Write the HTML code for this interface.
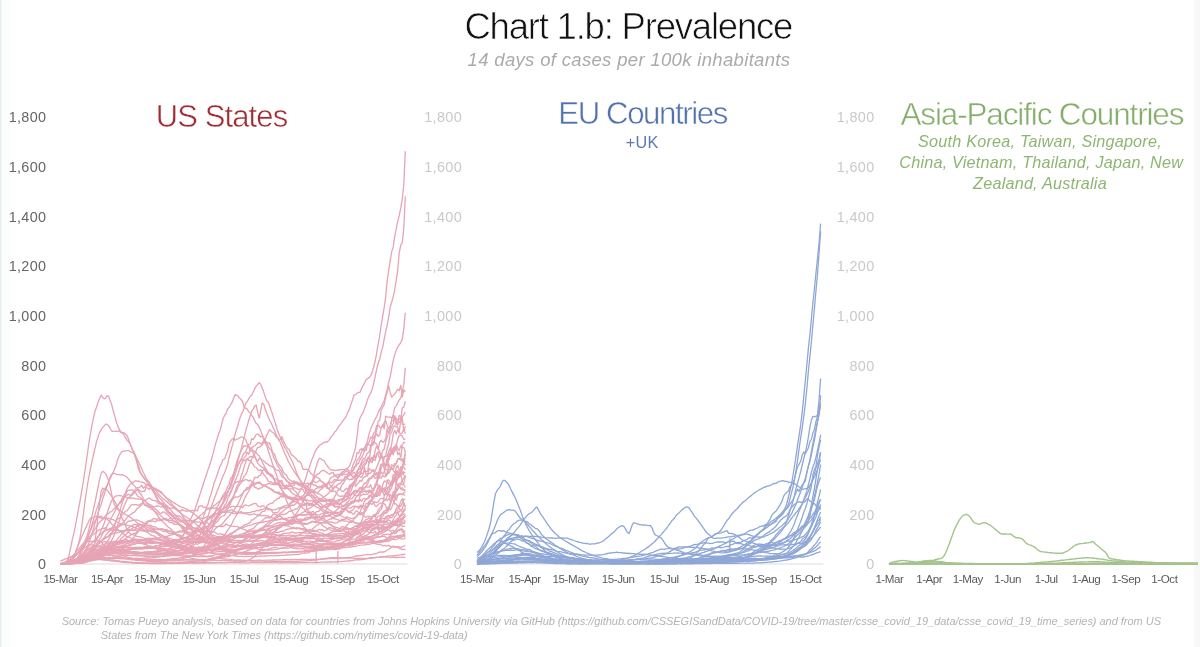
<!DOCTYPE html>
<html><head><meta charset="utf-8"><title>Chart 1.b: Prevalence</title>
<style>
html,body{margin:0;padding:0;background:#fff;}
body{width:1200px;height:647px;overflow:hidden;position:relative;}
svg{position:absolute;left:0;top:0;}
text{font-family:"Liberation Sans",Arial,sans-serif;}
.yl{font-size:14.4px;letter-spacing:0.35px;}
.xl{font-size:11.6px;fill:#5a5a5a;letter-spacing:-0.45px;}
.us path{fill:none;stroke:#e6a4b5;stroke-width:1.3;stroke-linejoin:round;}
.eu path{fill:none;stroke:#8fa7d6;stroke-width:1.3;stroke-linejoin:round;}
.as path{fill:none;stroke:#a3c48c;stroke-width:1.4;stroke-linejoin:round;}
</style></head>
<body>
<svg width="1200" height="647" viewBox="0 0 1200 647">
<rect x="0" y="0" width="1.5" height="647" fill="#e6edf0"/>
<rect x="1.5" y="0" width="10" height="647" fill="#fbfcfc"/>
<rect x="1194" y="0" width="6" height="647" fill="#f8f8f8"/>
<text x="628.3" y="39" text-anchor="middle" font-size="36.5" letter-spacing="-1.2" fill="#111" stroke="#fff" stroke-width="0.7">Chart 1.b: Prevalence</text>
<text x="629" y="65.9" text-anchor="middle" font-size="18.5" letter-spacing="0.33" font-style="italic" fill="#aaa">14 days of cases per 100k inhabitants</text>

<text x="221.5" y="126.9" text-anchor="middle" font-size="31" letter-spacing="-0.9" fill="#a02a33" stroke="#fff" stroke-width="0.5">US States</text>
<text x="642.6" y="124.3" text-anchor="middle" font-size="31.2" letter-spacing="-1.4" fill="#5272ae" stroke="#fff" stroke-width="0.5">EU Countries</text>
<text x="642.2" y="147.5" text-anchor="middle" font-size="16.2" letter-spacing="0.3" fill="#5b79b3">+UK</text>
<text x="1041.9" y="124.5" text-anchor="middle" font-size="31.5" letter-spacing="-1.15" fill="#84ae68" stroke="#fff" stroke-width="0.5">Asia-Pacific Countries</text>
<g font-size="16.2" letter-spacing="0.22" font-style="italic" fill="#8db672" text-anchor="middle">
<text x="1040" y="147">South Korea, Taiwan, Singapore,</text>
<text x="1041.2" y="167.5">China, Vietnam, Thailand, Japan, New</text>
<text x="1040" y="188.7">Zealand, Australia</text>
</g>

<text x="46.4" y="569.2" text-anchor="end" class="yl" fill="#666">0</text>
<text x="46.4" y="519.5" text-anchor="end" class="yl" fill="#666">200</text>
<text x="46.4" y="469.9" text-anchor="end" class="yl" fill="#666">400</text>
<text x="46.4" y="420.2" text-anchor="end" class="yl" fill="#666">600</text>
<text x="46.4" y="370.6" text-anchor="end" class="yl" fill="#666">800</text>
<text x="46.4" y="320.9" text-anchor="end" class="yl" fill="#666">1,000</text>
<text x="46.4" y="271.2" text-anchor="end" class="yl" fill="#666">1,200</text>
<text x="46.4" y="221.6" text-anchor="end" class="yl" fill="#666">1,400</text>
<text x="46.4" y="171.9" text-anchor="end" class="yl" fill="#666">1,600</text>
<text x="46.4" y="122.3" text-anchor="end" class="yl" fill="#666">1,800</text>
<text x="462" y="569.2" text-anchor="end" class="yl" fill="#c9c9c9">0</text>
<text x="462" y="519.5" text-anchor="end" class="yl" fill="#c9c9c9">200</text>
<text x="462" y="469.9" text-anchor="end" class="yl" fill="#c9c9c9">400</text>
<text x="462" y="420.2" text-anchor="end" class="yl" fill="#c9c9c9">600</text>
<text x="462" y="370.6" text-anchor="end" class="yl" fill="#c9c9c9">800</text>
<text x="462" y="320.9" text-anchor="end" class="yl" fill="#c9c9c9">1,000</text>
<text x="462" y="271.2" text-anchor="end" class="yl" fill="#c9c9c9">1,200</text>
<text x="462" y="221.6" text-anchor="end" class="yl" fill="#c9c9c9">1,400</text>
<text x="462" y="171.9" text-anchor="end" class="yl" fill="#c9c9c9">1,600</text>
<text x="462" y="122.3" text-anchor="end" class="yl" fill="#c9c9c9">1,800</text>
<text x="874.5" y="569.2" text-anchor="end" class="yl" fill="#c9c9c9">0</text>
<text x="874.5" y="519.5" text-anchor="end" class="yl" fill="#c9c9c9">200</text>
<text x="874.5" y="469.9" text-anchor="end" class="yl" fill="#c9c9c9">400</text>
<text x="874.5" y="420.2" text-anchor="end" class="yl" fill="#c9c9c9">600</text>
<text x="874.5" y="370.6" text-anchor="end" class="yl" fill="#c9c9c9">800</text>
<text x="874.5" y="320.9" text-anchor="end" class="yl" fill="#c9c9c9">1,000</text>
<text x="874.5" y="271.2" text-anchor="end" class="yl" fill="#c9c9c9">1,200</text>
<text x="874.5" y="221.6" text-anchor="end" class="yl" fill="#c9c9c9">1,400</text>
<text x="874.5" y="171.9" text-anchor="end" class="yl" fill="#c9c9c9">1,600</text>
<text x="874.5" y="122.3" text-anchor="end" class="yl" fill="#c9c9c9">1,800</text>

<line x1="60" y1="564.0" x2="407.5" y2="564.0" stroke="#ddd" stroke-width="1"/>
<line x1="476.5" y1="564.0" x2="823.5" y2="564.0" stroke="#ddd" stroke-width="1"/>
<line x1="887.8" y1="564.0" x2="1197.5" y2="564.0" stroke="#ddd" stroke-width="1"/>

<g class="us">
<path d="M60.4,563.4 61.9,563.3 63.4,563.0 64.9,562.5 66.4,562.2 67.9,559.4 69.4,553.6 70.9,546.7 72.4,539.4 74.0,532.7 75.5,525.3 77.0,517.4 78.5,509.1 80.0,501.2 81.5,492.3 83.0,483.5 84.5,473.9 86.0,463.5 87.5,453.3 89.0,442.3 90.5,433.4 92.0,425.3 93.5,417.9 95.0,411.3 96.5,407.3 98.0,402.5 99.6,398.6 101.1,395.2 102.6,397.4 104.1,398.8 105.6,398.1 107.1,395.9 108.6,396.0 110.1,400.6 111.6,404.3 113.1,410.3 114.6,415.3 116.1,421.0 117.6,425.9 119.1,428.9 120.6,431.6 122.1,432.6 123.7,432.6 125.2,433.8 126.7,435.0 128.2,438.2 129.7,443.0 131.2,446.5 132.7,450.1 134.2,452.6 135.7,455.7 137.2,459.2 138.7,462.3 140.2,465.5 141.7,468.7 143.2,472.2 144.7,475.3 146.2,478.3 147.7,480.8 149.3,482.3 150.8,484.5 152.3,487.1 153.8,488.6 155.3,490.1 156.8,491.8 158.3,493.9 159.8,495.4 161.3,497.1 162.8,498.6 164.3,499.6 165.8,500.8 167.3,502.0 168.8,503.6 170.3,504.9 171.8,505.8 173.3,507.0 174.9,508.4 176.4,509.8 177.9,511.0 179.4,512.0 180.9,513.3 182.4,514.5 183.9,515.6 185.4,516.4 186.9,517.5 188.4,518.6 189.9,519.7 191.4,520.9 192.9,521.9 194.4,522.8 195.9,524.1 197.4,525.4 199.0,526.4 200.5,528.0 202.0,530.0 203.5,531.5 205.0,533.3 206.5,535.1 208.0,536.7 209.5,538.4 211.0,539.8 212.5,541.2 214.0,542.1 215.5,543.2 217.0,544.3 218.5,545.2 220.0,546.1 221.5,546.9 223.0,547.4 224.6,548.2 226.1,548.6 227.6,549.0 229.1,549.7 230.6,550.3 232.1,550.4 233.6,551.0 235.1,551.5 236.6,551.8 238.1,552.2 239.6,552.2 241.1,552.5 242.6,552.5 244.1,552.6 245.6,552.5 247.1,552.5 248.7,552.5 250.2,552.4 251.7,552.6 253.2,552.6 254.7,552.6 256.2,552.5 257.7,552.6 259.2,552.5 260.7,552.5 262.2,552.6 263.7,552.5 265.2,552.6 266.7,552.5 268.2,552.6 269.7,552.6 271.2,552.5 272.7,552.5 274.3,552.5 275.8,552.4 277.3,552.5 278.8,552.4 280.3,552.5 281.8,552.5 283.3,552.3 284.8,552.3 286.3,552.3 287.8,552.3 289.3,552.1 290.8,552.2 292.3,552.2 293.8,551.9 295.3,551.9 296.8,551.9 298.3,551.8 299.9,551.8 301.4,551.8 302.9,551.7 304.4,551.5 305.9,551.4 307.4,551.3 308.9,551.4 310.4,551.3 311.9,551.2 313.4,551.0 314.9,550.9 316.4,550.8 317.9,550.6 319.4,550.4 320.9,550.2 322.4,550.1 323.9,550.1 325.5,549.8 327.0,549.4 328.5,549.5 330.0,549.2 331.5,549.1 333.0,548.7 334.5,548.7 336.0,548.7 337.5,548.5 339.0,548.3 340.5,548.0 342.0,547.9 343.5,547.7 345.0,547.5 346.5,547.3 348.0,547.0 349.6,546.8 351.1,547.0 352.6,546.6 354.1,546.5 355.6,546.1 357.1,545.9 358.6,545.6 360.1,545.2 361.6,545.2 363.1,545.1 364.6,544.8 366.1,544.5 367.6,544.2 369.1,544.3 370.6,543.8 372.1,543.4 373.6,543.3 375.2,543.1 376.7,542.7 378.2,542.4 379.7,541.8 381.2,541.6 382.7,541.3 384.2,540.7 385.7,540.4 387.2,540.1 388.7,539.6 390.2,539.0 391.7,538.8 393.2,538.3 394.7,537.7 396.2,536.7 397.7,536.6 399.2,535.7 400.8,535.1 402.3,534.8 403.8,534.2 405.3,534.0"/>
<path d="M60.4,563.6 61.9,563.7 63.4,563.5 64.9,563.4 66.4,563.0 67.9,562.5 69.4,562.0 70.9,561.0 72.4,558.8 74.0,555.9 75.5,552.6 77.0,548.4 78.5,543.9 80.0,537.6 81.5,528.4 83.0,517.4 84.5,505.7 86.0,494.5 87.5,484.5 89.0,476.4 90.5,468.6 92.0,461.3 93.5,454.5 95.0,448.4 96.5,441.6 98.0,437.1 99.6,432.6 101.1,429.9 102.6,427.5 104.1,425.9 105.6,424.1 107.1,424.5 108.6,425.8 110.1,428.2 111.6,430.8 113.1,431.4 114.6,431.3 116.1,431.3 117.6,431.1 119.1,430.9 120.6,432.3 122.1,433.3 123.7,434.2 125.2,437.2 126.7,439.7 128.2,441.4 129.7,443.3 131.2,446.6 132.7,450.3 134.2,454.0 135.7,458.0 137.2,462.2 138.7,466.7 140.2,471.5 141.7,474.6 143.2,476.6 144.7,478.7 146.2,480.4 147.7,482.7 149.3,485.2 150.8,487.4 152.3,488.2 153.8,488.8 155.3,489.3 156.8,489.5 158.3,490.1 159.8,491.0 161.3,492.0 162.8,493.9 164.3,495.6 165.8,497.3 167.3,498.6 168.8,499.4 170.3,500.3 171.8,501.5 173.3,502.4 174.9,503.4 176.4,504.3 177.9,505.3 179.4,506.1 180.9,506.9 182.4,507.3 183.9,507.9 185.4,508.7 186.9,509.3 188.4,510.0 189.9,511.2 191.4,512.1 192.9,513.0 194.4,514.0 195.9,515.2 197.4,516.7 199.0,518.1 200.5,519.7 202.0,521.5 203.5,523.6 205.0,526.0 206.5,528.0 208.0,530.1 209.5,532.1 211.0,534.1 212.5,536.0 214.0,538.2 215.5,540.4 217.0,542.9 218.5,544.7 220.0,546.9 221.5,548.2 223.0,549.2 224.6,549.8 226.1,550.3 227.6,550.9 229.1,551.3 230.6,551.9 232.1,552.2 233.6,552.7 235.1,553.0 236.6,553.3 238.1,553.5 239.6,553.6 241.1,553.8 242.6,553.9 244.1,553.9 245.6,553.9 247.1,554.0 248.7,554.1 250.2,554.0 251.7,553.7 253.2,553.8 254.7,553.7 256.2,553.9 257.7,553.7 259.2,553.6 260.7,553.6 262.2,553.6 263.7,553.4 265.2,553.5 266.7,553.2 268.2,553.3 269.7,553.2 271.2,553.1 272.7,553.2 274.3,552.9 275.8,553.0 277.3,552.9 278.8,552.6 280.3,552.6 281.8,552.7 283.3,552.4 284.8,552.4 286.3,552.5 287.8,552.4 289.3,552.4 290.8,552.3 292.3,552.2 293.8,552.1 295.3,552.1 296.8,552.1 298.3,551.9 299.9,551.6 301.4,551.5 302.9,551.3 304.4,551.4 305.9,551.1 307.4,551.0 308.9,550.9 310.4,550.7 311.9,550.5 313.4,550.3 314.9,550.1 316.4,549.9 317.9,549.8 319.4,549.8 320.9,549.8 322.4,549.6 323.9,549.2 325.5,548.8 327.0,548.7 328.5,548.5 330.0,548.1 331.5,547.8 333.0,547.6 334.5,547.5 336.0,547.2 337.5,546.9 339.0,546.6 340.5,546.2 342.0,545.8 343.5,545.6 345.0,545.3 346.5,544.8 348.0,544.4 349.6,543.9 351.1,543.5 352.6,543.1 354.1,542.7 355.6,541.9 357.1,541.5 358.6,540.9 360.1,540.4 361.6,540.3 363.1,539.5 364.6,539.0 366.1,538.0 367.6,537.4 369.1,537.0 370.6,536.5 372.1,536.0 373.6,535.3 375.2,534.4 376.7,533.9 378.2,532.7 379.7,532.1 381.2,531.1 382.7,530.0 384.2,529.0 385.7,527.7 387.2,526.8 388.7,526.0 390.2,524.2 391.7,522.8 393.2,521.9 394.7,520.9 396.2,519.7 397.7,518.3 399.2,517.3 400.8,514.8 402.3,513.3 403.8,511.0 405.3,509.6"/>
<path d="M60.4,563.8 61.9,563.8 63.4,563.6 64.9,563.6 66.4,563.6 67.9,563.4 69.4,563.1 70.9,562.9 72.4,562.7 74.0,562.3 75.5,561.5 77.0,560.6 78.5,559.1 80.0,557.4 81.5,555.5 83.0,553.4 84.5,551.2 86.0,549.1 87.5,546.1 89.0,542.7 90.5,538.6 92.0,533.9 93.5,528.8 95.0,523.4 96.5,518.2 98.0,513.1 99.6,508.8 101.1,504.5 102.6,499.3 104.1,494.7 105.6,490.1 107.1,486.1 108.6,481.6 110.1,477.6 111.6,474.4 113.1,472.5 114.6,469.0 116.1,465.3 117.6,459.7 119.1,456.2 120.6,453.4 122.1,451.4 123.7,451.1 125.2,450.8 126.7,450.7 128.2,450.5 129.7,451.3 131.2,452.1 132.7,452.6 134.2,453.8 135.7,457.6 137.2,463.6 138.7,469.3 140.2,472.7 141.7,474.9 143.2,477.1 144.7,479.1 146.2,480.8 147.7,482.7 149.3,485.1 150.8,487.4 152.3,489.2 153.8,491.3 155.3,492.9 156.8,494.5 158.3,496.0 159.8,498.1 161.3,499.6 162.8,501.8 164.3,503.3 165.8,505.0 167.3,506.1 168.8,507.9 170.3,509.5 171.8,511.3 173.3,513.0 174.9,514.5 176.4,515.7 177.9,517.3 179.4,518.7 180.9,519.9 182.4,521.1 183.9,522.5 185.4,524.2 186.9,525.5 188.4,527.0 189.9,528.4 191.4,529.8 192.9,531.0 194.4,532.5 195.9,533.7 197.4,535.0 199.0,536.1 200.5,537.5 202.0,538.6 203.5,539.9 205.0,541.1 206.5,541.9 208.0,543.0 209.5,543.9 211.0,544.8 212.5,545.9 214.0,546.6 215.5,547.3 217.0,547.9 218.5,548.6 220.0,549.5 221.5,549.8 223.0,550.2 224.6,550.8 226.1,551.2 227.6,551.5 229.1,551.8 230.6,552.2 232.1,552.5 233.6,552.8 235.1,553.2 236.6,553.4 238.1,553.6 239.6,553.7 241.1,553.9 242.6,554.0 244.1,554.0 245.6,554.0 247.1,554.0 248.7,553.9 250.2,553.9 251.7,554.0 253.2,554.0 254.7,553.8 256.2,553.9 257.7,553.8 259.2,553.9 260.7,553.8 262.2,553.5 263.7,553.7 265.2,553.6 266.7,553.5 268.2,553.4 269.7,553.4 271.2,553.3 272.7,553.2 274.3,553.2 275.8,553.0 277.3,552.9 278.8,552.8 280.3,552.7 281.8,552.5 283.3,552.5 284.8,552.5 286.3,552.4 287.8,552.5 289.3,552.2 290.8,552.2 292.3,552.0 293.8,552.0 295.3,551.9 296.8,551.7 298.3,551.7 299.9,551.4 301.4,551.3 302.9,551.3 304.4,551.0 305.9,550.7 307.4,550.6 308.9,550.2 310.4,550.1 311.9,549.8 313.4,549.7 314.9,549.2 316.4,549.0 317.9,548.9 319.4,548.6 320.9,548.5 322.4,548.1 323.9,547.8 325.5,547.7 327.0,547.4 328.5,547.1 330.0,546.9 331.5,546.8 333.0,546.3 334.5,546.1 336.0,545.6 337.5,545.2 339.0,544.9 340.5,544.8 342.0,544.7 343.5,544.2 345.0,543.9 346.5,543.5 348.0,542.9 349.6,542.5 351.1,542.1 352.6,541.3 354.1,541.2 355.6,540.8 357.1,540.2 358.6,539.8 360.1,539.3 361.6,538.6 363.1,538.0 364.6,537.5 366.1,536.9 367.6,536.9 369.1,536.7 370.6,536.5 372.1,536.3 373.6,535.3 375.2,534.5 376.7,533.7 378.2,533.1 379.7,532.5 381.2,531.6 382.7,531.3 384.2,530.1 385.7,529.2 387.2,528.6 388.7,527.4 390.2,526.3 391.7,525.2 393.2,523.7 394.7,523.5 396.2,522.8 397.7,521.2 399.2,521.0 400.8,519.9 402.3,518.2 403.8,517.2 405.3,516.6"/>
<path d="M60.4,563.8 61.9,563.7 63.4,563.6 64.9,563.6 66.4,563.5 67.9,563.3 69.4,563.1 70.9,562.9 72.4,562.7 74.0,562.1 75.5,560.8 77.0,558.9 78.5,556.5 80.0,553.6 81.5,550.6 83.0,547.3 84.5,543.9 86.0,541.9 87.5,538.5 89.0,534.2 90.5,529.5 92.0,524.4 93.5,519.8 95.0,514.6 96.5,509.6 98.0,505.5 99.6,501.1 101.1,497.0 102.6,493.4 104.1,490.0 105.6,487.7 107.1,485.0 108.6,481.7 110.1,478.6 111.6,475.5 113.1,473.2 114.6,473.3 116.1,474.3 117.6,474.6 119.1,474.6 120.6,474.8 122.1,474.6 123.7,475.4 125.2,476.0 126.7,476.8 128.2,478.6 129.7,480.5 131.2,482.1 132.7,484.0 134.2,485.6 135.7,487.4 137.2,489.1 138.7,491.5 140.2,493.5 141.7,495.5 143.2,498.3 144.7,500.3 146.2,502.4 147.7,503.8 149.3,505.5 150.8,506.7 152.3,508.1 153.8,510.2 155.3,512.4 156.8,514.3 158.3,516.6 159.8,518.4 161.3,520.0 162.8,521.8 164.3,523.1 165.8,524.7 167.3,526.2 168.8,527.4 170.3,528.5 171.8,530.2 173.3,531.7 174.9,533.1 176.4,534.6 177.9,535.6 179.4,536.7 180.9,538.0 182.4,539.1 183.9,540.4 185.4,541.9 186.9,543.1 188.4,544.2 189.9,545.3 191.4,546.6 192.9,547.5 194.4,548.3 195.9,548.9 197.4,549.6 199.0,550.2 200.5,550.6 202.0,550.9 203.5,551.3 205.0,551.6 206.5,552.1 208.0,552.3 209.5,552.7 211.0,553.2 212.5,553.3 214.0,553.6 215.5,553.9 217.0,554.0 218.5,554.3 220.0,554.4 221.5,554.6 223.0,554.8 224.6,555.0 226.1,555.0 227.6,555.3 229.1,555.3 230.6,555.6 232.1,555.5 233.6,555.7 235.1,556.0 236.6,556.0 238.1,556.3 239.6,556.3 241.1,556.4 242.6,556.5 244.1,556.6 245.6,556.5 247.1,556.4 248.7,556.4 250.2,556.4 251.7,556.4 253.2,556.5 254.7,556.5 256.2,556.6 257.7,556.4 259.2,556.2 260.7,556.0 262.2,556.1 263.7,556.1 265.2,556.0 266.7,555.8 268.2,555.8 269.7,555.7 271.2,555.7 272.7,555.9 274.3,555.9 275.8,555.7 277.3,555.6 278.8,555.6 280.3,555.6 281.8,555.4 283.3,555.4 284.8,555.3 286.3,555.0 287.8,555.0 289.3,554.9 290.8,554.8 292.3,554.8 293.8,554.6 295.3,554.6 296.8,554.5 298.3,554.3 299.9,554.3 301.4,553.2 302.9,553.1 304.4,553.0 305.9,553.0 307.4,552.9 308.9,552.6 310.4,551.6 311.9,551.3 313.4,551.0 314.9,550.7 316.4,550.5 317.9,550.1 319.4,549.8 320.9,549.5 322.4,549.9 323.9,549.7 325.5,549.5 327.0,548.5 328.5,548.1 330.0,547.7 331.5,547.8 333.0,547.4 334.5,547.4 336.0,547.0 337.5,546.7 339.0,546.5 340.5,546.3 342.0,545.9 343.5,545.7 345.0,545.5 346.5,544.8 348.0,545.5 349.6,545.1 351.1,544.5 352.6,545.1 354.1,544.7 355.6,544.1 357.1,542.9 358.6,542.3 360.1,541.8 361.6,541.0 363.1,540.4 364.6,540.0 366.1,539.4 367.6,538.6 369.1,537.7 370.6,537.1 372.1,537.0 373.6,535.7 375.2,535.1 376.7,534.3 378.2,534.8 379.7,534.0 381.2,533.8 382.7,532.9 384.2,532.1 385.7,531.3 387.2,529.8 388.7,529.3 390.2,528.3 391.7,527.0 393.2,524.9 394.7,523.6 396.2,521.6 397.7,520.0 399.2,518.1 400.8,516.3 402.3,513.7 403.8,511.1 405.3,507.5"/>
<path d="M60.4,564.0 61.9,563.9 63.4,564.0 64.9,563.8 66.4,563.8 67.9,563.6 69.4,563.5 70.9,563.4 72.4,563.2 74.0,562.9 75.5,562.8 77.0,562.4 78.5,561.6 80.0,561.0 81.5,559.8 83.0,558.8 84.5,557.6 86.0,556.1 87.5,554.9 89.0,553.2 90.5,551.9 92.0,550.2 93.5,548.4 95.0,546.6 96.5,544.2 98.0,541.7 99.6,539.0 101.1,536.8 102.6,533.9 104.1,531.0 105.6,528.7 107.1,525.9 108.6,523.2 110.1,520.3 111.6,517.3 113.1,514.7 114.6,512.2 116.1,508.6 117.6,506.1 119.1,503.6 120.6,501.3 122.1,498.6 123.7,495.7 125.2,493.4 126.7,489.4 128.2,487.0 129.7,484.9 131.2,483.3 132.7,482.4 134.2,481.7 135.7,480.5 137.2,481.3 138.7,481.2 140.2,481.8 141.7,482.1 143.2,482.4 144.7,483.4 146.2,484.5 147.7,484.9 149.3,485.4 150.8,485.9 152.3,487.1 153.8,487.8 155.3,488.1 156.8,489.6 158.3,490.9 159.8,492.1 161.3,493.2 162.8,494.3 164.3,495.9 165.8,497.8 167.3,498.8 168.8,500.9 170.3,502.3 171.8,504.0 173.3,505.9 174.9,507.1 176.4,509.0 177.9,510.2 179.4,511.6 180.9,513.1 182.4,515.6 183.9,518.0 185.4,519.7 186.9,521.7 188.4,524.0 189.9,526.1 191.4,528.1 192.9,530.2 194.4,531.5 195.9,533.0 197.4,534.4 199.0,535.6 200.5,536.4 202.0,537.5 203.5,538.4 205.0,539.1 206.5,540.2 208.0,541.3 209.5,542.0 211.0,543.1 212.5,543.2 214.0,544.0 215.5,544.9 217.0,545.9 218.5,546.5 220.0,547.1 221.5,548.1 223.0,549.0 224.6,549.3 226.1,549.7 227.6,550.4 229.1,550.9 230.6,551.3 232.1,551.5 233.6,552.6 235.1,552.9 236.6,553.1 238.1,553.4 239.6,553.6 241.1,553.6 242.6,553.6 244.1,553.8 245.6,553.9 247.1,554.0 248.7,553.8 250.2,553.6 251.7,553.5 253.2,553.3 254.7,553.1 256.2,552.3 257.7,551.6 259.2,551.0 260.7,550.6 262.2,550.6 263.7,550.4 265.2,549.7 266.7,549.6 268.2,549.0 269.7,548.8 271.2,548.3 272.7,547.9 274.3,547.5 275.8,547.1 277.3,548.0 278.8,548.7 280.3,548.3 281.8,548.1 283.3,547.8 284.8,547.3 286.3,546.9 287.8,546.5 289.3,546.2 290.8,546.0 292.3,545.8 293.8,545.4 295.3,545.2 296.8,545.2 298.3,545.0 299.9,544.4 301.4,544.0 302.9,543.8 304.4,543.3 305.9,543.5 307.4,543.3 308.9,543.2 310.4,543.2 311.9,542.7 313.4,542.6 314.9,542.2 316.4,541.7 317.9,541.3 319.4,541.1 320.9,541.1 322.4,540.9 323.9,540.8 325.5,540.8 327.0,540.4 328.5,540.3 330.0,540.0 331.5,539.6 333.0,539.3 334.5,538.8 336.0,538.7 337.5,538.6 339.0,538.4 340.5,538.3 342.0,537.6 343.5,536.6 345.0,536.2 346.5,535.6 348.0,535.5 349.6,534.8 351.1,533.8 352.6,533.3 354.1,532.8 355.6,532.2 357.1,532.0 358.6,530.9 360.1,530.0 361.6,528.6 363.1,527.2 364.6,526.1 366.1,524.8 367.6,523.4 369.1,521.6 370.6,521.9 372.1,521.3 373.6,521.0 375.2,520.2 376.7,518.4 378.2,515.8 379.7,515.6 381.2,514.9 382.7,512.7 384.2,510.8 385.7,510.7 387.2,508.7 388.7,506.6 390.2,504.9 391.7,500.0 393.2,497.7 394.7,494.8 396.2,491.6 397.7,489.4 399.2,487.2 400.8,483.2 402.3,480.1 403.8,478.5 405.3,475.3"/>
<path d="M60.4,563.4 61.9,563.2 63.4,562.5 64.9,562.0 66.4,561.3 67.9,560.2 69.4,559.2 70.9,557.9 72.4,556.4 74.0,554.6 75.5,552.9 77.0,550.9 78.5,549.1 80.0,547.3 81.5,545.5 83.0,543.8 84.5,541.5 86.0,538.6 87.5,534.6 89.0,528.9 90.5,522.5 92.0,516.0 93.5,509.1 95.0,502.2 96.5,495.0 98.0,487.3 99.6,479.4 101.1,473.4 102.6,471.3 104.1,472.1 105.6,473.6 107.1,476.7 108.6,480.7 110.1,486.6 111.6,493.8 113.1,500.4 114.6,505.2 116.1,506.8 117.6,509.3 119.1,510.0 120.6,511.1 122.1,512.3 123.7,513.3 125.2,514.3 126.7,515.2 128.2,515.9 129.7,516.8 131.2,518.0 132.7,519.1 134.2,520.1 135.7,521.6 137.2,522.9 138.7,523.7 140.2,524.7 141.7,526.0 143.2,526.9 144.7,527.7 146.2,528.6 147.7,529.6 149.3,530.3 150.8,531.2 152.3,531.6 153.8,531.9 155.3,532.6 156.8,533.2 158.3,534.0 159.8,534.8 161.3,535.2 162.8,535.8 164.3,536.5 165.8,537.1 167.3,537.6 168.8,538.3 170.3,538.4 171.8,539.1 173.3,539.5 174.9,540.0 176.4,540.1 177.9,539.8 179.4,539.9 180.9,539.6 182.4,539.2 183.9,538.9 185.4,538.4 186.9,537.7 188.4,536.8 189.9,536.2 191.4,535.4 192.9,534.5 194.4,533.4 195.9,532.5 197.4,531.8 199.0,530.6 200.5,529.4 202.0,527.9 203.5,526.2 205.0,524.1 206.5,522.0 208.0,519.6 209.5,518.0 211.0,516.3 212.5,514.7 214.0,513.6 215.5,511.9 217.0,510.4 218.5,508.7 220.0,507.1 221.5,505.0 223.0,502.5 224.6,499.4 226.1,496.2 227.6,492.2 229.1,488.7 230.6,484.9 232.1,480.0 233.6,475.0 235.1,470.2 236.6,465.0 238.1,459.7 239.6,454.8 241.1,449.5 242.6,443.2 244.1,437.6 245.6,431.4 247.1,426.1 248.7,420.5 250.2,415.7 251.7,411.1 253.2,409.1 254.7,405.9 256.2,405.2 257.7,412.4 259.2,418.1 260.7,410.3 262.2,403.1 263.7,404.0 265.2,409.1 266.7,412.9 268.2,416.9 269.7,420.6 271.2,423.0 272.7,426.6 274.3,429.8 275.8,433.7 277.3,437.1 278.8,439.0 280.3,442.5 281.8,446.2 283.3,449.5 284.8,453.5 286.3,456.6 287.8,460.5 289.3,463.0 290.8,466.0 292.3,468.5 293.8,471.0 295.3,473.1 296.8,475.3 298.3,477.3 299.9,479.6 301.4,481.6 302.9,483.7 304.4,486.0 305.9,488.5 307.4,489.9 308.9,491.5 310.4,493.3 311.9,494.9 313.4,497.0 314.9,498.8 316.4,500.0 317.9,501.3 319.4,502.6 320.9,503.7 322.4,505.2 323.9,506.2 325.5,507.4 327.0,508.1 328.5,509.5 330.0,510.2 331.5,511.2 333.0,512.2 334.5,512.7 336.0,513.0 337.5,514.1 339.0,514.5 340.5,515.5 342.0,516.3 343.5,517.0 345.0,517.6 346.5,518.4 348.0,519.3 349.6,519.9 351.1,520.7 352.6,521.4 354.1,522.1 355.6,522.8 357.1,523.3 358.6,523.5 360.1,524.4 361.6,524.8 363.1,525.8 364.6,525.9 366.1,525.5 367.6,526.0 369.1,526.2 370.6,526.2 372.1,526.7 373.6,527.0 375.2,527.1 376.7,527.6 378.2,527.4 379.7,528.1 381.2,527.4 382.7,526.9 384.2,527.0 385.7,527.1 387.2,527.8 388.7,527.3 390.2,527.1 391.7,526.2 393.2,525.9 394.7,524.7 396.2,523.6 397.7,522.4 399.2,521.1 400.8,519.0 402.3,518.6 403.8,517.8 405.3,515.5"/>
<path d="M60.4,563.7 61.9,563.7 63.4,563.6 64.9,563.6 66.4,563.2 67.9,563.3 69.4,562.8 70.9,562.6 72.4,562.2 74.0,561.9 75.5,561.5 77.0,560.4 78.5,558.5 80.0,555.6 81.5,552.4 83.0,549.2 84.5,546.3 86.0,543.7 87.5,541.2 89.0,538.9 90.5,536.0 92.0,533.7 93.5,531.3 95.0,529.0 96.5,526.7 98.0,524.3 99.6,522.1 101.1,520.9 102.6,519.6 104.1,517.8 105.6,515.6 107.1,514.5 108.6,513.5 110.1,511.9 111.6,511.6 113.1,509.7 114.6,508.5 116.1,506.4 117.6,505.3 119.1,503.4 120.6,502.8 122.1,500.3 123.7,497.6 125.2,496.0 126.7,495.6 128.2,494.1 129.7,495.2 131.2,495.0 132.7,492.8 134.2,492.8 135.7,491.2 137.2,490.2 138.7,489.6 140.2,490.8 141.7,491.8 143.2,491.2 144.7,491.3 146.2,486.8 147.7,488.2 149.3,489.5 150.8,487.7 152.3,490.2 153.8,492.7 155.3,494.9 156.8,497.0 158.3,500.0 159.8,502.4 161.3,503.0 162.8,503.6 164.3,505.5 165.8,507.2 167.3,512.2 168.8,513.6 170.3,514.3 171.8,515.5 173.3,516.4 174.9,517.7 176.4,518.1 177.9,519.7 179.4,521.0 180.9,521.9 182.4,521.6 183.9,522.6 185.4,523.1 186.9,524.5 188.4,524.6 189.9,524.9 191.4,526.0 192.9,527.9 194.4,528.0 195.9,528.8 197.4,529.5 199.0,530.4 200.5,531.0 202.0,531.8 203.5,533.4 205.0,534.4 206.5,535.3 208.0,536.2 209.5,537.5 211.0,538.6 212.5,538.9 214.0,539.2 215.5,539.9 217.0,540.7 218.5,541.2 220.0,542.1 221.5,542.6 223.0,543.1 224.6,543.8 226.1,544.2 227.6,544.7 229.1,544.6 230.6,544.5 232.1,544.8 233.6,545.1 235.1,545.6 236.6,545.9 238.1,545.7 239.6,546.2 241.1,546.0 242.6,546.0 244.1,545.9 245.6,545.8 247.1,545.9 248.7,545.8 250.2,545.7 251.7,545.7 253.2,545.6 254.7,545.6 256.2,544.8 257.7,544.3 259.2,544.3 260.7,543.8 262.2,544.1 263.7,543.8 265.2,543.6 266.7,543.9 268.2,543.5 269.7,543.4 271.2,543.6 272.7,543.4 274.3,542.5 275.8,541.8 277.3,541.8 278.8,542.0 280.3,541.7 281.8,542.1 283.3,541.4 284.8,540.8 286.3,541.3 287.8,540.1 289.3,539.9 290.8,539.5 292.3,539.2 293.8,539.8 295.3,540.6 296.8,541.1 298.3,541.2 299.9,541.2 301.4,541.4 302.9,541.3 304.4,541.4 305.9,541.3 307.4,541.1 308.9,541.2 310.4,541.2 311.9,541.6 313.4,542.0 314.9,541.8 316.4,540.2 317.9,540.1 319.4,540.5 320.9,540.7 322.4,541.3 323.9,541.6 325.5,541.7 327.0,541.9 328.5,542.2 330.0,543.1 331.5,543.6 333.0,543.6 334.5,543.4 336.0,544.1 337.5,545.5 339.0,545.7 340.5,545.8 342.0,546.2 343.5,545.0 345.0,545.2 346.5,545.4 348.0,545.9 349.6,545.2 351.1,544.9 352.6,544.8 354.1,544.3 355.6,544.3 357.1,543.8 358.6,543.4 360.1,543.0 361.6,543.1 363.1,542.0 364.6,542.1 366.1,542.3 367.6,542.2 369.1,541.9 370.6,542.3 372.1,542.0 373.6,541.3 375.2,541.3 376.7,541.5 378.2,541.6 379.7,542.0 381.2,542.0 382.7,541.9 384.2,541.4 385.7,541.6 387.2,541.2 388.7,541.5 390.2,540.2 391.7,539.6 393.2,539.2 394.7,539.5 396.2,539.6 397.7,539.0 399.2,537.8 400.8,537.4 402.3,536.6 403.8,535.5 405.3,535.3"/>
<path d="M60.4,564.0 61.9,563.9 63.4,564.0 64.9,563.9 66.4,563.8 67.9,563.7 69.4,563.6 70.9,563.2 72.4,563.2 74.0,562.9 75.5,562.7 77.0,562.2 78.5,561.6 80.0,560.6 81.5,559.3 83.0,557.8 84.5,556.4 86.0,554.7 87.5,552.9 89.0,551.0 90.5,549.5 92.0,547.7 93.5,545.6 95.0,542.8 96.5,539.9 98.0,537.0 99.6,533.9 101.1,530.4 102.6,527.2 104.1,523.4 105.6,518.6 107.1,513.1 108.6,508.7 110.1,504.5 111.6,500.7 113.1,499.1 114.6,496.8 116.1,495.8 117.6,495.9 119.1,495.5 120.6,495.6 122.1,496.1 123.7,496.5 125.2,496.5 126.7,497.7 128.2,498.2 129.7,498.0 131.2,497.9 132.7,498.1 134.2,498.3 135.7,498.8 137.2,498.9 138.7,498.9 140.2,499.3 141.7,499.0 143.2,500.1 144.7,500.4 146.2,502.1 147.7,503.7 149.3,504.3 150.8,505.1 152.3,505.9 153.8,507.5 155.3,508.9 156.8,510.3 158.3,511.8 159.8,513.0 161.3,513.5 162.8,511.9 164.3,512.1 165.8,513.4 167.3,514.4 168.8,515.9 170.3,517.6 171.8,519.1 173.3,520.2 174.9,521.2 176.4,522.1 177.9,523.2 179.4,523.6 180.9,525.2 182.4,526.4 183.9,529.6 185.4,531.4 186.9,532.6 188.4,534.0 189.9,535.0 191.4,535.9 192.9,536.7 194.4,537.7 195.9,538.3 197.4,538.9 199.0,539.0 200.5,538.8 202.0,538.9 203.5,539.0 205.0,539.5 206.5,539.4 208.0,539.5 209.5,539.6 211.0,539.5 212.5,539.4 214.0,539.9 215.5,540.2 217.0,540.4 218.5,540.5 220.0,540.6 221.5,541.0 223.0,541.2 224.6,541.4 226.1,541.3 227.6,541.6 229.1,541.8 230.6,542.0 232.1,542.0 233.6,542.6 235.1,542.3 236.6,542.4 238.1,542.1 239.6,542.0 241.1,542.1 242.6,541.9 244.1,541.5 245.6,541.4 247.1,541.3 248.7,541.3 250.2,541.4 251.7,541.4 253.2,541.5 254.7,541.1 256.2,541.0 257.7,540.8 259.2,541.0 260.7,540.7 262.2,540.7 263.7,541.0 265.2,541.1 266.7,541.1 268.2,540.9 269.7,540.2 271.2,540.1 272.7,540.1 274.3,539.8 275.8,539.7 277.3,539.4 278.8,539.4 280.3,539.3 281.8,539.0 283.3,538.9 284.8,538.7 286.3,538.9 287.8,538.8 289.3,539.0 290.8,539.0 292.3,538.5 293.8,538.3 295.3,538.2 296.8,538.0 298.3,537.8 299.9,537.9 301.4,537.6 302.9,537.6 304.4,537.3 305.9,537.1 307.4,536.8 308.9,537.1 310.4,536.8 311.9,536.4 313.4,536.5 314.9,535.9 316.4,536.1 317.9,535.9 319.4,536.0 320.9,535.7 322.4,535.7 323.9,535.4 325.5,535.4 327.0,535.0 328.5,534.7 330.0,534.5 331.5,534.4 333.0,534.2 334.5,533.8 336.0,534.1 337.5,533.8 339.0,533.9 340.5,533.7 342.0,533.3 343.5,533.3 345.0,533.1 346.5,532.6 348.0,532.4 349.6,532.1 351.1,531.3 352.6,530.8 354.1,531.4 355.6,531.1 357.1,530.4 358.6,530.1 360.1,529.3 361.6,529.0 363.1,528.3 364.6,527.7 366.1,527.4 367.6,527.0 369.1,526.4 370.6,526.3 372.1,525.5 373.6,525.3 375.2,524.4 376.7,524.1 378.2,520.1 379.7,519.5 381.2,519.3 382.7,518.4 384.2,519.0 385.7,516.7 387.2,515.8 388.7,516.2 390.2,515.7 391.7,514.8 393.2,514.1 394.7,513.2 396.2,512.7 397.7,512.1 399.2,516.2 400.8,515.3 402.3,515.1 403.8,514.3 405.3,513.6"/>
<path d="M60.4,563.8 61.9,563.7 63.4,563.6 64.9,563.2 66.4,562.7 67.9,562.3 69.4,561.6 70.9,560.5 72.4,558.3 74.0,555.7 75.5,552.4 77.0,548.6 78.5,544.5 80.0,540.5 81.5,537.0 83.0,534.0 84.5,530.4 86.0,527.4 87.5,524.1 89.0,520.7 90.5,518.2 92.0,517.8 93.5,517.6 95.0,516.7 96.5,516.5 98.0,516.7 99.6,517.7 101.1,518.2 102.6,518.9 104.1,518.4 105.6,518.4 107.1,519.2 108.6,520.4 110.1,522.0 111.6,523.9 113.1,525.2 114.6,526.2 116.1,527.4 117.6,529.2 119.1,530.4 120.6,531.5 122.1,532.9 123.7,534.0 125.2,535.7 126.7,536.3 128.2,536.8 129.7,537.5 131.2,538.2 132.7,538.4 134.2,539.3 135.7,540.1 137.2,541.3 138.7,542.0 140.2,543.2 141.7,543.4 143.2,544.0 144.7,544.4 146.2,544.2 147.7,545.5 149.3,546.0 150.8,546.5 152.3,547.0 153.8,547.4 155.3,547.6 156.8,548.0 158.3,548.2 159.8,548.3 161.3,548.8 162.8,549.4 164.3,549.6 165.8,550.2 167.3,550.9 168.8,551.2 170.3,552.0 171.8,552.1 173.3,552.8 174.9,553.2 176.4,553.6 177.9,553.4 179.4,554.0 180.9,554.2 182.4,554.6 183.9,555.0 185.4,555.3 186.9,555.5 188.4,555.9 189.9,555.9 191.4,556.1 192.9,556.3 194.4,556.4 195.9,556.5 197.4,556.6 199.0,556.7 200.5,556.9 202.0,556.7 203.5,556.6 205.0,556.6 206.5,556.5 208.0,556.4 209.5,556.0 211.0,556.0 212.5,555.6 214.0,555.2 215.5,554.8 217.0,554.6 218.5,554.2 220.0,553.8 221.5,553.7 223.0,553.6 224.6,553.4 226.1,552.7 227.6,552.5 229.1,552.2 230.6,551.9 232.1,551.4 233.6,551.1 235.1,550.9 236.6,550.2 238.1,549.7 239.6,549.8 241.1,549.5 242.6,549.1 244.1,548.5 245.6,548.0 247.1,548.1 248.7,547.6 250.2,547.1 251.7,546.7 253.2,546.7 254.7,545.2 256.2,545.1 257.7,545.3 259.2,544.9 260.7,544.7 262.2,544.1 263.7,544.3 265.2,543.6 266.7,543.1 268.2,542.6 269.7,542.3 271.2,541.7 272.7,541.1 274.3,541.0 275.8,541.4 277.3,541.0 278.8,540.3 280.3,540.5 281.8,539.6 283.3,540.2 284.8,539.3 286.3,539.9 287.8,539.6 289.3,539.6 290.8,539.6 292.3,539.3 293.8,538.7 295.3,538.1 296.8,538.6 298.3,538.4 299.9,538.6 301.4,538.3 302.9,538.5 304.4,538.1 305.9,538.2 307.4,538.6 308.9,538.2 310.4,538.0 311.9,538.3 313.4,538.5 314.9,538.9 316.4,538.7 317.9,538.8 319.4,539.2 320.9,539.0 322.4,538.6 323.9,538.0 325.5,538.4 327.0,538.5 328.5,538.0 330.0,538.3 331.5,538.6 333.0,538.4 334.5,538.4 336.0,538.3 337.5,538.9 339.0,538.4 340.5,538.0 342.0,537.5 343.5,536.9 345.0,537.1 346.5,536.2 348.0,534.8 349.6,534.2 351.1,533.3 352.6,531.9 354.1,530.6 355.6,529.5 357.1,528.0 358.6,526.8 360.1,524.8 361.6,524.8 363.1,524.6 364.6,523.7 366.1,521.9 367.6,521.4 369.1,520.5 370.6,520.1 372.1,516.5 373.6,516.2 375.2,516.6 376.7,513.6 378.2,513.5 379.7,510.7 381.2,509.8 382.7,504.7 384.2,496.1 385.7,492.2 387.2,490.3 388.7,486.4 390.2,485.9 391.7,481.4 393.2,482.7 394.7,479.2 396.2,474.7 397.7,475.4 399.2,472.8 400.8,474.5 402.3,467.0 403.8,467.1 405.3,469.7"/>
<path d="M60.4,564.0 61.9,564.0 63.4,564.0 64.9,563.8 66.4,563.7 67.9,563.3 69.4,563.2 70.9,563.0 72.4,562.8 74.0,562.4 75.5,561.7 77.0,561.0 78.5,560.0 80.0,559.2 81.5,557.9 83.0,556.7 84.5,555.2 86.0,554.1 87.5,552.9 89.0,551.9 90.5,550.7 92.0,549.5 93.5,548.2 95.0,547.1 96.5,545.4 98.0,543.7 99.6,542.6 101.1,541.3 102.6,539.9 104.1,538.9 105.6,538.1 107.1,536.9 108.6,535.7 110.1,533.9 111.6,532.7 113.1,531.3 114.6,529.7 116.1,528.3 117.6,526.9 119.1,525.6 120.6,524.3 122.1,524.0 123.7,521.6 125.2,520.3 126.7,517.9 128.2,516.5 129.7,515.0 131.2,514.3 132.7,512.8 134.2,512.4 135.7,510.5 137.2,508.5 138.7,507.5 140.2,506.3 141.7,504.8 143.2,501.2 144.7,500.7 146.2,499.8 147.7,498.7 149.3,498.2 150.8,498.9 152.3,500.2 153.8,500.6 155.3,500.6 156.8,501.8 158.3,503.4 159.8,504.0 161.3,503.6 162.8,504.3 164.3,505.9 165.8,507.0 167.3,508.6 168.8,511.7 170.3,514.3 171.8,516.1 173.3,516.5 174.9,518.8 176.4,520.5 177.9,522.2 179.4,524.1 180.9,526.6 182.4,528.8 183.9,531.2 185.4,532.1 186.9,533.9 188.4,535.0 189.9,535.6 191.4,536.4 192.9,537.7 194.4,538.9 195.9,539.3 197.4,538.3 199.0,538.1 200.5,537.9 202.0,537.7 203.5,537.6 205.0,537.1 206.5,537.5 208.0,537.9 209.5,537.9 211.0,538.3 212.5,537.9 214.0,537.6 215.5,537.3 217.0,537.6 218.5,538.5 220.0,538.5 221.5,538.7 223.0,538.8 224.6,539.1 226.1,539.0 227.6,538.7 229.1,537.8 230.6,537.5 232.1,537.3 233.6,537.2 235.1,536.5 236.6,536.4 238.1,536.6 239.6,536.6 241.1,536.7 242.6,536.3 244.1,535.4 245.6,534.8 247.1,534.4 248.7,534.0 250.2,534.0 251.7,533.8 253.2,532.9 254.7,533.1 256.2,532.3 257.7,531.9 259.2,530.5 260.7,530.3 262.2,529.0 263.7,527.9 265.2,526.7 266.7,525.8 268.2,525.4 269.7,524.0 271.2,522.6 272.7,521.3 274.3,520.4 275.8,518.3 277.3,517.4 278.8,516.2 280.3,514.9 281.8,514.3 283.3,514.5 284.8,514.3 286.3,513.7 287.8,512.4 289.3,511.2 290.8,511.4 292.3,510.7 293.8,510.1 295.3,508.9 296.8,509.2 298.3,507.0 299.9,505.8 301.4,506.6 302.9,505.4 304.4,504.4 305.9,504.2 307.4,505.2 308.9,505.0 310.4,505.0 311.9,505.5 313.4,504.8 314.9,504.0 316.4,504.2 317.9,504.2 319.4,506.2 320.9,507.2 322.4,506.5 323.9,506.8 325.5,506.7 327.0,506.2 328.5,505.0 330.0,505.3 331.5,504.9 333.0,504.1 334.5,504.2 336.0,504.0 337.5,504.1 339.0,504.3 340.5,503.1 342.0,502.5 343.5,501.4 345.0,501.0 346.5,499.9 348.0,497.9 349.6,498.2 351.1,495.0 352.6,493.1 354.1,490.7 355.6,491.3 357.1,492.6 358.6,489.8 360.1,488.3 361.6,489.4 363.1,487.8 364.6,487.7 366.1,486.6 367.6,487.2 369.1,487.1 370.6,484.6 372.1,489.0 373.6,488.3 375.2,487.2 376.7,483.7 378.2,478.8 379.7,476.6 381.2,467.5 382.7,464.7 384.2,458.0 385.7,455.8 387.2,448.8 388.7,443.7 390.2,434.0 391.7,432.1 393.2,427.1 394.7,425.7 396.2,426.9 397.7,426.7 399.2,432.9 400.8,433.8 402.3,432.7 403.8,428.6 405.3,433.7"/>
<path d="M60.4,564.0 61.9,563.9 63.4,563.9 64.9,563.8 66.4,563.9 67.9,563.6 69.4,563.6 70.9,563.5 72.4,563.3 74.0,563.0 75.5,562.7 77.0,562.4 78.5,561.8 80.0,561.1 81.5,559.9 83.0,558.9 84.5,557.8 86.0,556.9 87.5,555.9 89.0,554.6 90.5,553.3 92.0,551.9 93.5,550.6 95.0,548.9 96.5,547.3 98.0,544.7 99.6,542.7 101.1,541.2 102.6,539.5 104.1,538.1 105.6,535.3 107.1,533.4 108.6,531.7 110.1,530.4 111.6,528.2 113.1,526.5 114.6,523.8 116.1,521.5 117.6,518.8 119.1,518.3 120.6,517.1 122.1,514.9 123.7,513.4 125.2,511.5 126.7,511.0 128.2,509.1 129.7,507.1 131.2,504.9 132.7,504.8 134.2,504.6 135.7,504.7 137.2,504.8 138.7,505.5 140.2,504.2 141.7,503.6 143.2,503.5 144.7,503.9 146.2,505.2 147.7,505.6 149.3,507.1 150.8,508.9 152.3,509.5 153.8,510.7 155.3,511.6 156.8,512.9 158.3,513.7 159.8,514.8 161.3,516.3 162.8,517.5 164.3,518.3 165.8,519.5 167.3,520.3 168.8,521.9 170.3,522.7 171.8,522.4 173.3,524.0 174.9,524.3 176.4,524.1 177.9,524.4 179.4,524.9 180.9,525.9 182.4,526.1 183.9,526.9 185.4,528.0 186.9,528.9 188.4,529.0 189.9,529.2 191.4,529.5 192.9,530.6 194.4,530.3 195.9,530.8 197.4,531.6 199.0,531.9 200.5,532.4 202.0,532.2 203.5,533.4 205.0,533.8 206.5,534.5 208.0,534.0 209.5,534.8 211.0,535.2 212.5,535.2 214.0,535.2 215.5,536.0 217.0,536.5 218.5,536.6 220.0,536.4 221.5,537.0 223.0,536.8 224.6,536.5 226.1,536.3 227.6,536.4 229.1,536.5 230.6,536.7 232.1,536.2 233.6,536.8 235.1,536.8 236.6,537.1 238.1,536.7 239.6,536.4 241.1,536.8 242.6,537.0 244.1,536.8 245.6,536.7 247.1,536.7 248.7,536.1 250.2,536.5 251.7,536.4 253.2,536.8 254.7,536.4 256.2,536.8 257.7,536.6 259.2,537.0 260.7,537.1 262.2,536.7 263.7,536.0 265.2,535.8 266.7,536.1 268.2,536.5 269.7,536.4 271.2,536.0 272.7,536.3 274.3,536.5 275.8,536.1 277.3,535.4 278.8,535.6 280.3,535.3 281.8,535.2 283.3,535.4 284.8,535.6 286.3,536.1 287.8,535.4 289.3,535.1 290.8,535.1 292.3,535.7 293.8,535.4 295.3,535.8 296.8,535.4 298.3,535.8 299.9,535.7 301.4,535.5 302.9,535.6 304.4,536.1 305.9,535.6 307.4,535.1 308.9,535.5 310.4,535.7 311.9,535.7 313.4,534.6 314.9,534.5 316.4,534.3 317.9,535.2 319.4,535.6 320.9,535.8 322.4,536.2 323.9,536.3 325.5,535.5 327.0,536.2 328.5,536.5 330.0,537.2 331.5,537.4 333.0,537.4 334.5,538.1 336.0,538.1 337.5,538.1 339.0,537.9 340.5,538.1 342.0,538.1 343.5,537.6 345.0,537.4 346.5,537.0 348.0,536.5 349.6,536.7 351.1,535.6 352.6,535.4 354.1,535.5 355.6,533.7 357.1,533.8 358.6,533.9 360.1,533.1 361.6,532.2 363.1,530.7 364.6,530.9 366.1,531.3 367.6,531.3 369.1,532.9 370.6,532.5 372.1,532.7 373.6,532.8 375.2,531.3 376.7,533.6 378.2,533.5 379.7,529.0 381.2,526.0 382.7,526.1 384.2,526.6 385.7,527.4 387.2,526.2 388.7,526.3 390.2,524.6 391.7,523.7 393.2,523.9 394.7,523.6 396.2,524.8 397.7,521.9 399.2,520.5 400.8,524.8 402.3,526.5 403.8,526.1 405.3,526.1"/>
<path d="M60.4,564.0 61.9,564.0 63.4,563.9 64.9,563.8 66.4,563.7 67.9,563.5 69.4,563.3 70.9,563.2 72.4,562.9 74.0,562.1 75.5,560.5 77.0,558.6 78.5,556.0 80.0,553.3 81.5,551.1 83.0,548.6 84.5,545.2 86.0,541.9 87.5,537.9 89.0,534.1 90.5,530.6 92.0,526.9 93.5,523.4 95.0,520.9 96.5,518.9 98.0,517.0 99.6,516.5 101.1,516.2 102.6,517.3 104.1,518.1 105.6,518.0 107.1,518.3 108.6,518.2 110.1,519.0 111.6,519.5 113.1,519.7 114.6,520.4 116.1,521.5 117.6,522.3 119.1,523.3 120.6,523.6 122.1,524.6 123.7,524.7 125.2,524.5 126.7,525.2 128.2,525.5 129.7,526.2 131.2,525.9 132.7,526.3 134.2,527.5 135.7,527.6 137.2,525.9 138.7,526.9 140.2,527.4 141.7,528.3 143.2,529.1 144.7,530.5 146.2,530.9 147.7,531.4 149.3,530.7 150.8,531.5 152.3,532.3 153.8,531.5 155.3,532.1 156.8,532.7 158.3,535.0 159.8,535.9 161.3,537.2 162.8,537.8 164.3,538.5 165.8,538.7 167.3,539.3 168.8,540.7 170.3,542.0 171.8,542.5 173.3,543.2 174.9,545.0 176.4,545.4 177.9,546.0 179.4,546.4 180.9,546.5 182.4,546.9 183.9,547.6 185.4,548.0 186.9,548.6 188.4,549.4 189.9,549.1 191.4,549.7 192.9,550.1 194.4,550.2 195.9,550.0 197.4,550.2 199.0,550.3 200.5,550.4 202.0,550.4 203.5,550.3 205.0,550.1 206.5,550.2 208.0,550.0 209.5,549.9 211.0,549.7 212.5,549.4 214.0,548.9 215.5,548.9 217.0,549.3 218.5,549.0 220.0,548.8 221.5,548.6 223.0,548.1 224.6,547.7 226.1,547.4 227.6,547.1 229.1,546.9 230.6,546.7 232.1,546.4 233.6,546.5 235.1,546.6 236.6,546.5 238.1,546.0 239.6,545.8 241.1,545.9 242.6,545.7 244.1,545.7 245.6,545.8 247.1,545.7 248.7,545.8 250.2,545.9 251.7,545.9 253.2,545.8 254.7,545.8 256.2,545.3 257.7,545.5 259.2,545.1 260.7,545.3 262.2,544.9 263.7,545.0 265.2,544.7 266.7,544.7 268.2,543.4 269.7,543.3 271.2,543.0 272.7,543.0 274.3,542.7 275.8,542.5 277.3,542.8 278.8,542.5 280.3,542.4 281.8,542.7 283.3,542.5 284.8,542.8 286.3,542.9 287.8,543.2 289.3,544.5 290.8,544.5 292.3,544.4 293.8,544.0 295.3,544.2 296.8,544.2 298.3,544.5 299.9,545.0 301.4,545.3 302.9,544.6 304.4,544.8 305.9,544.6 307.4,544.5 308.9,544.3 310.4,544.6 311.9,544.6 313.4,544.7 314.9,545.2 316.4,545.2 317.9,544.8 319.4,544.8 320.9,544.8 322.4,544.7 323.9,544.0 325.5,544.2 327.0,544.4 328.5,543.9 330.0,543.9 331.5,543.7 333.0,543.8 334.5,543.5 336.0,543.3 337.5,543.3 339.0,543.1 340.5,543.5 342.0,542.7 343.5,543.1 345.0,543.9 346.5,543.6 348.0,543.2 349.6,543.2 351.1,542.9 352.6,542.5 354.1,542.7 355.6,542.2 357.1,541.1 358.6,539.6 360.1,538.9 361.6,537.1 363.1,537.5 364.6,535.6 366.1,536.0 367.6,534.7 369.1,534.0 370.6,531.6 372.1,530.4 373.6,530.0 375.2,528.9 376.7,527.7 378.2,529.6 379.7,531.4 381.2,531.9 382.7,528.7 384.2,522.3 385.7,521.7 387.2,519.0 388.7,518.4 390.2,517.4 391.7,517.7 393.2,515.9 394.7,512.8 396.2,510.6 397.7,510.1 399.2,506.2 400.8,501.4 402.3,498.7 403.8,503.1 405.3,507.2"/>
<path d="M60.4,564.0 61.9,564.0 63.4,564.0 64.9,563.9 66.4,563.8 67.9,563.8 69.4,563.8 70.9,563.8 72.4,563.6 74.0,563.5 75.5,563.4 77.0,563.2 78.5,563.3 80.0,563.2 81.5,562.9 83.0,562.9 84.5,562.5 86.0,562.1 87.5,561.7 89.0,561.2 90.5,560.6 92.0,560.0 93.5,559.2 95.0,558.1 96.5,557.2 98.0,556.3 99.6,555.0 101.1,553.9 102.6,552.6 104.1,551.5 105.6,550.2 107.1,548.7 108.6,546.0 110.1,543.7 111.6,540.5 113.1,537.5 114.6,533.7 116.1,530.1 117.6,525.6 119.1,521.6 120.6,517.3 122.1,511.1 123.7,507.5 125.2,503.4 126.7,500.2 128.2,497.3 129.7,497.3 131.2,495.5 132.7,494.8 134.2,491.3 135.7,489.1 137.2,487.6 138.7,487.8 140.2,486.8 141.7,485.3 143.2,488.3 144.7,486.9 146.2,485.3 147.7,484.7 149.3,486.4 150.8,487.9 152.3,489.1 153.8,490.1 155.3,494.9 156.8,498.8 158.3,501.6 159.8,502.8 161.3,504.3 162.8,505.7 164.3,508.3 165.8,510.1 167.3,512.1 168.8,512.0 170.3,512.5 171.8,514.3 173.3,515.4 174.9,516.0 176.4,515.7 177.9,516.2 179.4,516.0 180.9,517.0 182.4,518.3 183.9,520.7 185.4,520.2 186.9,520.4 188.4,520.6 189.9,520.2 191.4,521.2 192.9,520.9 194.4,521.5 195.9,521.5 197.4,522.3 199.0,521.9 200.5,522.5 202.0,523.0 203.5,523.5 205.0,523.0 206.5,522.7 208.0,523.2 209.5,523.6 211.0,525.2 212.5,525.2 214.0,526.1 215.5,526.4 217.0,526.9 218.5,526.3 220.0,526.4 221.5,526.5 223.0,526.3 224.6,525.7 226.1,523.7 227.6,525.2 229.1,525.3 230.6,525.8 232.1,526.2 233.6,526.4 235.1,526.3 236.6,526.6 238.1,526.7 239.6,527.9 241.1,528.6 242.6,528.7 244.1,529.7 245.6,529.7 247.1,532.2 248.7,531.7 250.2,531.8 251.7,531.2 253.2,531.6 254.7,531.3 256.2,531.3 257.7,531.4 259.2,531.1 260.7,530.9 262.2,530.1 263.7,530.0 265.2,529.4 266.7,529.3 268.2,528.5 269.7,528.2 271.2,527.2 272.7,527.2 274.3,526.9 275.8,526.9 277.3,526.6 278.8,525.3 280.3,524.6 281.8,524.2 283.3,524.5 284.8,524.0 286.3,524.3 287.8,524.4 289.3,524.1 290.8,524.0 292.3,524.6 293.8,523.4 295.3,522.8 296.8,522.0 298.3,520.9 299.9,521.6 301.4,521.9 302.9,520.3 304.4,519.9 305.9,520.1 307.4,519.6 308.9,517.7 310.4,517.2 311.9,515.3 313.4,514.2 314.9,513.9 316.4,511.7 317.9,511.7 319.4,510.9 320.9,508.9 322.4,507.9 323.9,506.2 325.5,504.5 327.0,504.2 328.5,503.5 330.0,503.5 331.5,503.5 333.0,504.3 334.5,503.8 336.0,502.6 337.5,503.4 339.0,501.1 340.5,499.5 342.0,499.0 343.5,498.6 345.0,499.7 346.5,499.7 348.0,495.1 349.6,492.7 351.1,490.9 352.6,486.7 354.1,483.7 355.6,482.8 357.1,478.4 358.6,476.1 360.1,474.3 361.6,469.1 363.1,468.2 364.6,465.2 366.1,463.7 367.6,458.4 369.1,458.9 370.6,459.2 372.1,458.1 373.6,459.5 375.2,450.1 376.7,446.3 378.2,449.2 379.7,442.0 381.2,440.1 382.7,442.4 384.2,441.2 385.7,438.5 387.2,428.7 388.7,433.6 390.2,430.8 391.7,426.6 393.2,423.8 394.7,417.0 396.2,424.9 397.7,423.0 399.2,422.4 400.8,420.1 402.3,407.9 403.8,407.2 405.3,401.1"/>
<path d="M60.4,564.0 61.9,564.0 63.4,563.9 64.9,563.9 66.4,563.9 67.9,563.8 69.4,563.7 70.9,563.7 72.4,563.7 74.0,563.5 75.5,563.3 77.0,563.3 78.5,563.2 80.0,563.1 81.5,562.9 83.0,562.8 84.5,562.5 86.0,561.9 87.5,561.3 89.0,560.5 90.5,559.6 92.0,558.3 93.5,557.1 95.0,555.8 96.5,554.1 98.0,552.5 99.6,550.7 101.1,548.7 102.6,546.9 104.1,545.0 105.6,543.3 107.1,541.6 108.6,539.7 110.1,537.1 111.6,533.2 113.1,529.7 114.6,525.9 116.1,520.4 117.6,516.9 119.1,513.2 120.6,508.3 122.1,503.5 123.7,499.0 125.2,496.3 126.7,491.7 128.2,490.3 129.7,490.3 131.2,489.8 132.7,489.9 134.2,492.2 135.7,493.2 137.2,495.4 138.7,496.7 140.2,497.5 141.7,498.6 143.2,501.9 144.7,505.3 146.2,505.5 147.7,506.9 149.3,507.2 150.8,507.1 152.3,507.2 153.8,507.1 155.3,506.5 156.8,505.8 158.3,506.0 159.8,506.5 161.3,507.0 162.8,506.7 164.3,507.1 165.8,505.4 167.3,507.1 168.8,508.0 170.3,508.4 171.8,508.1 173.3,507.9 174.9,508.6 176.4,508.5 177.9,510.4 179.4,510.8 180.9,511.0 182.4,509.4 183.9,510.7 185.4,510.8 186.9,511.3 188.4,510.9 189.9,510.7 191.4,510.7 192.9,510.3 194.4,511.0 195.9,510.3 197.4,510.9 199.0,506.2 200.5,506.0 202.0,505.7 203.5,507.6 205.0,507.0 206.5,508.1 208.0,508.2 209.5,508.2 211.0,509.1 212.5,507.8 214.0,508.4 215.5,507.8 217.0,508.6 218.5,508.5 220.0,513.2 221.5,512.4 223.0,512.4 224.6,512.1 226.1,511.9 227.6,510.9 229.1,510.6 230.6,510.1 232.1,509.7 233.6,511.3 235.1,511.6 236.6,512.4 238.1,511.9 239.6,512.5 241.1,511.6 242.6,512.8 244.1,513.0 245.6,512.8 247.1,512.6 248.7,512.7 250.2,512.6 251.7,511.9 253.2,511.4 254.7,511.5 256.2,510.6 257.7,510.3 259.2,510.6 260.7,509.6 262.2,509.8 263.7,508.9 265.2,508.4 266.7,508.6 268.2,509.9 269.7,509.5 271.2,509.3 272.7,510.1 274.3,509.8 275.8,509.5 277.3,508.9 278.8,508.2 280.3,507.6 281.8,507.5 283.3,506.2 284.8,507.3 286.3,507.7 287.8,507.4 289.3,507.1 290.8,505.9 292.3,505.0 293.8,505.4 295.3,504.2 296.8,502.4 298.3,500.3 299.9,499.0 301.4,496.6 302.9,495.8 304.4,494.1 305.9,490.7 307.4,487.5 308.9,484.9 310.4,482.9 311.9,482.3 313.4,480.9 314.9,477.1 316.4,474.9 317.9,473.9 319.4,473.4 320.9,471.2 322.4,470.7 323.9,470.3 325.5,471.6 327.0,472.4 328.5,473.9 330.0,474.0 331.5,472.8 333.0,472.4 334.5,475.3 336.0,476.7 337.5,477.4 339.0,475.8 340.5,474.3 342.0,473.4 343.5,473.1 345.0,471.9 346.5,470.9 348.0,471.9 349.6,473.0 351.1,475.0 352.6,477.0 354.1,477.9 355.6,475.3 357.1,474.8 358.6,472.9 360.1,471.6 361.6,473.6 363.1,473.2 364.6,471.4 366.1,471.4 367.6,471.6 369.1,461.7 370.6,450.2 372.1,440.4 373.6,438.2 375.2,434.5 376.7,430.5 378.2,421.1 379.7,420.3 381.2,410.1 382.7,407.3 384.2,404.6 385.7,397.0 387.2,392.0 388.7,385.8 390.2,392.4 391.7,397.2 393.2,395.6 394.7,394.1 396.2,391.7 397.7,389.2 399.2,390.7 400.8,385.3 402.3,396.8 403.8,390.0 405.3,391.9"/>
<path d="M60.4,564.0 61.9,563.9 63.4,563.9 64.9,564.0 66.4,563.9 67.9,563.8 69.4,563.7 70.9,563.8 72.4,563.8 74.0,563.5 75.5,563.4 77.0,563.3 78.5,563.2 80.0,563.1 81.5,562.9 83.0,562.7 84.5,562.3 86.0,561.2 87.5,559.6 89.0,557.5 90.5,555.1 92.0,551.9 93.5,548.6 95.0,541.8 96.5,529.7 98.0,515.8 99.6,502.1 101.1,491.8 102.6,488.2 104.1,488.9 105.6,489.2 107.1,490.2 108.6,492.1 110.1,494.3 111.6,496.5 113.1,499.0 114.6,501.3 116.1,503.7 117.6,507.3 119.1,511.0 120.6,514.7 122.1,518.4 123.7,521.6 125.2,525.1 126.7,528.9 128.2,531.5 129.7,533.2 131.2,534.2 132.7,534.7 134.2,535.2 135.7,535.8 137.2,536.5 138.7,536.6 140.2,536.8 141.7,537.3 143.2,537.9 144.7,538.3 146.2,538.4 147.7,538.4 149.3,538.5 150.8,538.8 152.3,539.1 153.8,539.2 155.3,539.3 156.8,539.4 158.3,539.5 159.8,539.9 161.3,540.0 162.8,540.1 164.3,540.1 165.8,540.2 167.3,540.4 168.8,540.4 170.3,540.6 171.8,540.6 173.3,540.7 174.9,540.8 176.4,540.8 177.9,541.0 179.4,541.3 180.9,541.1 182.4,541.5 183.9,541.6 185.4,541.6 186.9,542.0 188.4,542.0 189.9,541.9 191.4,542.0 192.9,541.9 194.4,542.1 195.9,541.9 197.4,542.1 199.0,541.8 200.5,541.7 202.0,541.9 203.5,541.6 205.0,541.4 206.5,541.6 208.0,541.2 209.5,541.1 211.0,541.1 212.5,541.0 214.0,541.0 215.5,541.3 217.0,541.3 218.5,541.3 220.0,541.6 221.5,541.5 223.0,541.4 224.6,541.8 226.1,542.0 227.6,541.8 229.1,541.9 230.6,542.2 232.1,542.3 233.6,542.5 235.1,542.4 236.6,542.5 238.1,542.5 239.6,542.3 241.1,542.1 242.6,541.9 244.1,542.0 245.6,541.7 247.1,541.5 248.7,541.4 250.2,541.0 251.7,540.9 253.2,540.5 254.7,540.4 256.2,539.8 257.7,539.2 259.2,538.7 260.7,538.2 262.2,537.7 263.7,537.4 265.2,536.4 266.7,535.7 268.2,534.8 269.7,534.2 271.2,533.5 272.7,532.6 274.3,531.6 275.8,530.7 277.3,529.2 278.8,528.6 280.3,527.5 281.8,526.6 283.3,525.3 284.8,524.0 286.3,523.0 287.8,522.0 289.3,520.9 290.8,519.9 292.3,517.9 293.8,516.8 295.3,514.8 296.8,513.0 298.3,510.9 299.9,507.7 301.4,505.0 302.9,502.2 304.4,499.4 305.9,496.4 307.4,493.7 308.9,491.2 310.4,486.8 311.9,482.1 313.4,477.0 314.9,471.0 316.4,466.0 317.9,461.2 319.4,458.4 320.9,458.6 322.4,460.1 323.9,460.3 325.5,463.2 327.0,465.5 328.5,467.5 330.0,469.3 331.5,470.0 333.0,470.0 334.5,470.4 336.0,470.5 337.5,469.9 339.0,470.0 340.5,469.7 342.0,469.5 343.5,469.6 345.0,469.7 346.5,468.8 348.0,467.9 349.6,465.8 351.1,462.0 352.6,457.3 354.1,452.7 355.6,447.2 357.1,436.2 358.6,422.8 360.1,417.7 361.6,414.9 363.1,412.6 364.6,408.5 366.1,404.3 367.6,399.4 369.1,395.7 370.6,393.4 372.1,389.4 373.6,383.8 375.2,376.2 376.7,369.4 378.2,363.0 379.7,359.4 381.2,352.1 382.7,347.4 384.2,338.8 385.7,331.7 387.2,325.1 388.7,317.1 390.2,307.3 391.7,302.1 393.2,296.6 394.7,290.2 396.2,280.2 397.7,270.2 399.2,252.9 400.8,245.2 402.3,242.7 403.8,228.1 405.3,196.3"/>
<path d="M60.4,563.9 61.9,564.0 63.4,563.8 64.9,564.0 66.4,563.9 67.9,563.7 69.4,563.6 70.9,563.5 72.4,563.4 74.0,563.2 75.5,563.0 77.0,562.8 78.5,562.7 80.0,562.4 81.5,562.2 83.0,562.1 84.5,561.9 86.0,561.4 87.5,561.0 89.0,560.3 90.5,559.6 92.0,558.9 93.5,558.1 95.0,557.2 96.5,556.3 98.0,555.5 99.6,554.3 101.1,553.4 102.6,552.2 104.1,551.1 105.6,550.2 107.1,549.3 108.6,548.2 110.1,546.7 111.6,545.6 113.1,543.9 114.6,542.3 116.1,540.6 117.6,538.8 119.1,537.1 120.6,535.4 122.1,533.8 123.7,532.3 125.2,530.6 126.7,529.2 128.2,528.1 129.7,526.8 131.2,526.1 132.7,524.9 134.2,524.5 135.7,524.6 137.2,524.6 138.7,524.4 140.2,524.7 141.7,525.2 143.2,525.7 144.7,526.1 146.2,526.9 147.7,527.6 149.3,528.1 150.8,529.0 152.3,529.2 153.8,530.4 155.3,531.0 156.8,531.9 158.3,532.8 159.8,533.9 161.3,534.8 162.8,535.8 164.3,536.8 165.8,537.9 167.3,539.0 168.8,539.7 170.3,540.7 171.8,541.4 173.3,542.1 174.9,542.9 176.4,543.6 177.9,544.1 179.4,544.9 180.9,545.4 182.4,546.0 183.9,546.7 185.4,547.3 186.9,547.7 188.4,548.2 189.9,548.8 191.4,549.3 192.9,549.7 194.4,550.1 195.9,550.3 197.4,550.5 199.0,550.6 200.5,550.4 202.0,550.3 203.5,550.3 205.0,550.2 206.5,550.0 208.0,550.0 209.5,549.6 211.0,549.1 212.5,549.0 214.0,548.8 215.5,548.3 217.0,548.3 218.5,548.0 220.0,547.6 221.5,547.2 223.0,546.9 224.6,546.3 226.1,545.9 227.6,545.5 229.1,545.0 230.6,544.5 232.1,544.3 233.6,543.7 235.1,543.0 236.6,542.5 238.1,541.7 239.6,541.1 241.1,540.6 242.6,540.3 244.1,539.6 245.6,538.8 247.1,538.3 248.7,537.5 250.2,536.6 251.7,535.8 253.2,534.7 254.7,533.6 256.2,532.7 257.7,531.6 259.2,530.8 260.7,529.4 262.2,528.1 263.7,526.6 265.2,525.4 266.7,524.1 268.2,522.8 269.7,521.5 271.2,520.5 272.7,519.4 274.3,517.9 275.8,516.8 277.3,515.4 278.8,514.5 280.3,513.1 281.8,512.2 283.3,510.9 284.8,509.5 286.3,508.4 287.8,507.1 289.3,505.6 290.8,503.8 292.3,502.0 293.8,499.7 295.3,497.8 296.8,495.5 298.3,493.6 299.9,490.9 301.4,488.6 302.9,485.9 304.4,482.0 305.9,477.8 307.4,472.8 308.9,468.4 310.4,464.1 311.9,459.7 313.4,456.2 314.9,452.1 316.4,449.2 317.9,447.5 319.4,445.4 320.9,444.7 322.4,443.3 323.9,442.6 325.5,441.8 327.0,442.2 328.5,440.6 330.0,438.9 331.5,436.4 333.0,434.8 334.5,432.1 336.0,430.9 337.5,428.3 339.0,426.0 340.5,424.3 342.0,422.0 343.5,420.2 345.0,418.2 346.5,415.8 348.0,411.9 349.6,408.9 351.1,403.9 352.6,399.8 354.1,394.8 355.6,394.6 357.1,393.1 358.6,392.5 360.1,392.2 361.6,388.4 363.1,385.6 364.6,382.7 366.1,379.6 367.6,378.6 369.1,377.6 370.6,375.6 372.1,372.4 373.6,367.2 375.2,361.0 376.7,352.9 378.2,344.1 379.7,336.0 381.2,325.0 382.7,316.4 384.2,307.3 385.7,297.1 387.2,280.3 388.7,270.2 390.2,260.7 391.7,251.6 393.2,247.2 394.7,236.7 396.2,229.0 397.7,221.3 399.2,215.9 400.8,207.7 402.3,198.7 403.8,184.2 405.3,151.1"/>
<path d="M60.4,564.0 61.9,564.0 63.4,563.8 64.9,563.7 66.4,563.7 67.9,563.4 69.4,563.1 70.9,563.1 72.4,562.9 74.0,562.8 75.5,562.4 77.0,562.3 78.5,561.9 80.0,561.8 81.5,561.5 83.0,561.1 84.5,560.6 86.0,560.4 87.5,559.9 89.0,559.5 90.5,559.3 92.0,558.8 93.5,558.3 95.0,557.8 96.5,557.2 98.0,556.7 99.6,556.4 101.1,555.8 102.6,555.5 104.1,555.1 105.6,554.6 107.1,554.3 108.6,553.7 110.1,552.9 111.6,552.7 113.1,552.0 114.6,551.6 116.1,551.0 117.6,550.4 119.1,549.6 120.6,549.2 122.1,548.5 123.7,548.0 125.2,547.1 126.7,546.8 128.2,546.1 129.7,545.6 131.2,545.3 132.7,544.5 134.2,544.4 135.7,543.8 137.2,543.3 138.7,543.3 140.2,542.9 141.7,542.8 143.2,542.6 144.7,542.5 146.2,542.4 147.7,542.4 149.3,542.4 150.8,542.3 152.3,542.3 153.8,542.4 155.3,542.5 156.8,542.9 158.3,543.0 159.8,543.3 161.3,543.3 162.8,543.5 164.3,543.7 165.8,543.8 167.3,544.3 168.8,544.7 170.3,545.2 171.8,545.6 173.3,546.0 174.9,546.4 176.4,546.5 177.9,546.5 179.4,547.0 180.9,546.9 182.4,547.5 183.9,547.6 185.4,547.8 186.9,548.1 188.4,548.2 189.9,548.6 191.4,548.6 192.9,548.8 194.4,548.9 195.9,549.0 197.4,549.1 199.0,549.2 200.5,549.2 202.0,549.0 203.5,548.6 205.0,548.2 206.5,548.0 208.0,547.4 209.5,546.8 211.0,546.1 212.5,545.2 214.0,544.5 215.5,543.6 217.0,542.5 218.5,541.5 220.0,540.3 221.5,539.5 223.0,538.6 224.6,537.7 226.1,536.8 227.6,536.0 229.1,534.8 230.6,533.6 232.1,532.7 233.6,531.9 235.1,530.9 236.6,530.3 238.1,529.2 239.6,528.8 241.1,527.9 242.6,527.7 244.1,527.2 245.6,526.3 247.1,525.8 248.7,525.7 250.2,525.2 251.7,524.8 253.2,524.2 254.7,523.7 256.2,523.2 257.7,522.9 259.2,522.9 260.7,522.6 262.2,522.4 263.7,522.0 265.2,521.6 266.7,521.4 268.2,521.2 269.7,520.5 271.2,520.2 272.7,520.1 274.3,520.0 275.8,519.8 277.3,520.0 278.8,519.3 280.3,519.5 281.8,519.0 283.3,518.9 284.8,518.4 286.3,518.5 287.8,518.0 289.3,517.6 290.8,517.5 292.3,517.2 293.8,516.3 295.3,516.0 296.8,515.2 298.3,514.7 299.9,514.4 301.4,513.2 302.9,512.3 304.4,511.7 305.9,510.0 307.4,509.2 308.9,508.7 310.4,507.8 311.9,506.8 313.4,505.7 314.9,504.8 316.4,503.2 317.9,502.1 319.4,500.1 320.9,499.0 322.4,497.9 323.9,497.0 325.5,495.9 327.0,494.8 328.5,493.2 330.0,491.8 331.5,490.3 333.0,488.8 334.5,487.2 336.0,486.6 337.5,484.5 339.0,483.8 340.5,483.1 342.0,481.2 343.5,479.8 345.0,478.1 346.5,476.2 348.0,475.6 349.6,474.3 351.1,472.3 352.6,470.4 354.1,468.9 355.6,466.5 357.1,464.3 358.6,462.9 360.1,459.6 361.6,457.4 363.1,454.3 364.6,450.2 366.1,445.0 367.6,440.7 369.1,433.9 370.6,429.4 372.1,425.2 373.6,422.6 375.2,419.1 376.7,416.5 378.2,412.6 379.7,409.3 381.2,407.1 382.7,403.8 384.2,400.4 385.7,394.8 387.2,389.5 388.7,382.2 390.2,376.8 391.7,368.5 393.2,360.4 394.7,354.5 396.2,350.4 397.7,347.1 399.2,344.9 400.8,342.6 402.3,338.9 403.8,328.6 405.3,312.7"/>
<path d="M60.4,563.8 61.9,564.0 63.4,563.8 64.9,563.6 66.4,563.3 67.9,563.2 69.4,563.0 70.9,562.8 72.4,562.5 74.0,562.3 75.5,562.0 77.0,561.7 78.5,561.4 80.0,560.9 81.5,560.8 83.0,560.3 84.5,559.9 86.0,559.4 87.5,558.8 89.0,558.6 90.5,558.1 92.0,558.0 93.5,557.8 95.0,557.8 96.5,557.9 98.0,558.2 99.6,558.5 101.1,558.5 102.6,558.6 104.1,558.7 105.6,558.8 107.1,559.1 108.6,559.2 110.1,559.7 111.6,559.8 113.1,559.9 114.6,560.2 116.1,560.3 117.6,560.6 119.1,560.8 120.6,561.1 122.1,561.3 123.7,561.4 125.2,561.7 126.7,562.0 128.2,562.0 129.7,562.4 131.2,562.5 132.7,562.5 134.2,562.6 135.7,562.6 137.2,562.7 138.7,563.1 140.2,562.9 141.7,563.1 143.2,563.0 144.7,563.2 146.2,563.1 147.7,563.3 149.3,563.3 150.8,563.2 152.3,563.2 153.8,563.2 155.3,563.0 156.8,563.2 158.3,563.1 159.8,563.2 161.3,563.0 162.8,563.3 164.3,563.0 165.8,563.2 167.3,563.2 168.8,563.2 170.3,563.1 171.8,563.1 173.3,563.2 174.9,563.1 176.4,562.9 177.9,562.8 179.4,563.0 180.9,562.8 182.4,562.6 183.9,562.7 185.4,562.5 186.9,562.6 188.4,562.5 189.9,562.4 191.4,562.5 192.9,562.4 194.4,562.2 195.9,562.2 197.4,562.0 199.0,562.2 200.5,562.1 202.0,561.8 203.5,561.6 205.0,561.3 206.5,561.1 208.0,560.8 209.5,560.5 211.0,560.0 212.5,559.7 214.0,559.2 215.5,558.8 217.0,558.2 218.5,557.9 220.0,557.4 221.5,557.0 223.0,556.6 224.6,556.0 226.1,555.6 227.6,555.0 229.1,554.2 230.6,553.5 232.1,552.7 233.6,552.1 235.1,551.3 236.6,550.3 238.1,549.3 239.6,548.7 241.1,548.1 242.6,547.3 244.1,546.9 245.6,546.3 247.1,546.1 248.7,545.6 250.2,545.4 251.7,544.9 253.2,544.4 254.7,543.8 256.2,543.7 257.7,543.3 259.2,543.3 260.7,542.7 262.2,542.5 263.7,542.3 265.2,542.1 266.7,542.1 268.2,541.4 269.7,540.6 271.2,540.3 272.7,539.9 274.3,539.3 275.8,539.7 277.3,539.6 278.8,539.7 280.3,539.4 281.8,539.5 283.3,539.2 284.8,538.7 286.3,538.3 287.8,537.5 289.3,537.0 290.8,537.0 292.3,536.9 293.8,536.5 295.3,537.1 296.8,535.6 298.3,535.4 299.9,534.4 301.4,533.6 302.9,532.4 304.4,531.7 305.9,531.7 307.4,530.9 308.9,530.7 310.4,530.0 311.9,529.6 313.4,528.0 314.9,527.1 316.4,525.4 317.9,524.9 319.4,523.5 320.9,523.3 322.4,522.9 323.9,522.9 325.5,522.3 327.0,520.5 328.5,519.8 330.0,519.2 331.5,519.0 333.0,517.0 334.5,517.3 336.0,516.5 337.5,516.1 339.0,515.4 340.5,513.9 342.0,512.4 343.5,511.5 345.0,509.6 346.5,507.0 348.0,506.2 349.6,505.1 351.1,503.2 352.6,501.1 354.1,500.7 355.6,497.9 357.1,496.4 358.6,494.1 360.1,491.7 361.6,491.6 363.1,489.0 364.6,488.0 366.1,486.4 367.6,484.1 369.1,480.3 370.6,478.3 372.1,476.3 373.6,474.7 375.2,470.9 376.7,467.2 378.2,463.5 379.7,460.0 381.2,456.4 382.7,450.4 384.2,449.0 385.7,441.8 387.2,437.1 388.7,431.7 390.2,428.4 391.7,419.1 393.2,414.9 394.7,407.8 396.2,405.9 397.7,403.0 399.2,399.9 400.8,398.0 402.3,391.2 403.8,384.9 405.3,367.8"/>
<path d="M60.4,564.0 61.9,563.8 63.4,563.5 64.9,563.3 66.4,562.8 67.9,562.4 69.4,562.1 70.9,561.8 72.4,561.5 74.0,561.3 75.5,560.8 77.0,560.3 78.5,560.0 80.0,559.8 81.5,559.5 83.0,559.0 84.5,558.6 86.0,557.8 87.5,557.2 89.0,556.6 90.5,555.8 92.0,555.3 93.5,554.6 95.0,554.0 96.5,553.4 98.0,552.9 99.6,552.2 101.1,551.9 102.6,551.4 104.1,551.0 105.6,550.8 107.1,551.3 108.6,550.9 110.1,550.7 111.6,551.0 113.1,550.8 114.6,550.6 116.1,550.2 117.6,550.1 119.1,549.9 120.6,550.0 122.1,549.6 123.7,549.2 125.2,549.3 126.7,549.1 128.2,549.1 129.7,548.7 131.2,548.5 132.7,548.1 134.2,548.3 135.7,548.4 137.2,548.4 138.7,548.1 140.2,548.1 141.7,547.7 143.2,547.8 144.7,547.5 146.2,547.1 147.7,546.9 149.3,546.9 150.8,546.8 152.3,546.7 153.8,546.8 155.3,546.2 156.8,545.6 158.3,545.6 159.8,545.3 161.3,545.0 162.8,544.7 164.3,544.2 165.8,544.0 167.3,543.8 168.8,543.3 170.3,542.2 171.8,541.8 173.3,541.6 174.9,540.9 176.4,540.8 177.9,540.5 179.4,539.2 180.9,537.8 182.4,535.9 183.9,534.3 185.4,532.4 186.9,530.0 188.4,527.8 189.9,525.6 191.4,524.1 192.9,522.4 194.4,520.8 195.9,519.6 197.4,517.9 199.0,517.7 200.5,517.8 202.0,518.3 203.5,518.6 205.0,517.7 206.5,516.8 208.0,516.6 209.5,517.0 211.0,516.0 212.5,515.0 214.0,514.7 215.5,513.6 217.0,513.9 218.5,514.0 220.0,513.7 221.5,512.5 223.0,512.5 224.6,512.1 226.1,512.5 227.6,511.8 229.1,512.2 230.6,512.1 232.1,513.2 233.6,513.4 235.1,513.4 236.6,513.6 238.1,513.5 239.6,512.5 241.1,513.2 242.6,513.2 244.1,513.3 245.6,513.8 247.1,513.8 248.7,514.5 250.2,514.8 251.7,514.4 253.2,514.1 254.7,514.0 256.2,514.8 257.7,514.6 259.2,514.6 260.7,515.6 262.2,515.5 263.7,515.7 265.2,515.5 266.7,515.8 268.2,516.0 269.7,517.2 271.2,517.5 272.7,518.0 274.3,518.3 275.8,520.0 277.3,519.5 278.8,519.1 280.3,519.2 281.8,518.2 283.3,519.3 284.8,519.4 286.3,519.7 287.8,520.0 289.3,520.4 290.8,521.2 292.3,521.3 293.8,521.3 295.3,522.6 296.8,521.7 298.3,521.8 299.9,522.7 301.4,522.6 302.9,523.4 304.4,523.2 305.9,523.6 307.4,523.5 308.9,523.1 310.4,522.5 311.9,521.2 313.4,521.4 314.9,522.1 316.4,521.4 317.9,521.2 319.4,520.2 320.9,519.0 322.4,517.1 323.9,514.6 325.5,511.4 327.0,508.3 328.5,506.6 330.0,503.8 331.5,501.9 333.0,500.5 334.5,496.9 336.0,494.3 337.5,490.9 339.0,489.9 340.5,488.2 342.0,484.8 343.5,483.2 345.0,480.3 346.5,479.3 348.0,476.4 349.6,475.2 351.1,472.5 352.6,471.7 354.1,466.6 355.6,466.0 357.1,460.0 358.6,458.9 360.1,455.7 361.6,451.5 363.1,448.5 364.6,450.1 366.1,450.6 367.6,444.2 369.1,442.1 370.6,436.9 372.1,438.2 373.6,433.3 375.2,431.4 376.7,425.5 378.2,425.4 379.7,427.0 381.2,428.0 382.7,424.8 384.2,428.7 385.7,416.1 387.2,416.8 388.7,417.1 390.2,417.1 391.7,417.9 393.2,415.2 394.7,419.6 396.2,418.0 397.7,420.4 399.2,419.0 400.8,418.2 402.3,418.4 403.8,431.3 405.3,426.2"/>
<path d="M60.4,563.9 61.9,563.8 63.4,563.4 64.9,562.8 66.4,562.1 67.9,561.4 69.4,560.5 70.9,559.7 72.4,558.9 74.0,557.5 75.5,555.9 77.0,553.9 78.5,551.6 80.0,549.7 81.5,547.4 83.0,545.2 84.5,543.6 86.0,542.4 87.5,541.4 89.0,541.5 90.5,541.6 92.0,541.3 93.5,541.0 95.0,540.9 96.5,540.6 98.0,540.7 99.6,541.2 101.1,542.0 102.6,543.3 104.1,545.1 105.6,546.5 107.1,547.5 108.6,548.8 110.1,549.4 111.6,549.9 113.1,550.4 114.6,551.6 116.1,552.2 117.6,552.9 119.1,553.7 120.6,554.4 122.1,555.1 123.7,555.8 125.2,556.3 126.7,556.9 128.2,557.3 129.7,557.7 131.2,558.1 132.7,558.5 134.2,558.9 135.7,558.9 137.2,559.1 138.7,559.4 140.2,559.5 141.7,559.7 143.2,559.7 144.7,559.8 146.2,560.1 147.7,560.3 149.3,560.3 150.8,560.4 152.3,560.4 153.8,560.3 155.3,560.1 156.8,560.2 158.3,560.1 159.8,560.2 161.3,560.2 162.8,560.3 164.3,560.2 165.8,560.1 167.3,560.0 168.8,560.0 170.3,559.9 171.8,559.9 173.3,559.8 174.9,559.6 176.4,559.6 177.9,559.3 179.4,559.2 180.9,559.0 182.4,558.7 183.9,558.1 185.4,558.0 186.9,557.3 188.4,556.8 189.9,556.1 191.4,555.6 192.9,554.7 194.4,554.1 195.9,553.6 197.4,552.8 199.0,552.0 200.5,551.0 202.0,549.3 203.5,547.0 205.0,544.5 206.5,541.3 208.0,538.2 209.5,535.0 211.0,531.8 212.5,528.2 214.0,525.0 215.5,520.6 217.0,516.1 218.5,512.0 220.0,509.5 221.5,505.3 223.0,503.8 224.6,501.0 226.1,497.9 227.6,495.5 229.1,495.0 230.6,491.6 232.1,488.7 233.6,483.9 235.1,482.9 236.6,481.9 238.1,481.5 239.6,482.2 241.1,480.7 242.6,481.3 244.1,480.5 245.6,479.4 247.1,479.9 248.7,481.1 250.2,480.1 251.7,481.3 253.2,483.1 254.7,487.5 256.2,487.4 257.7,489.0 259.2,488.8 260.7,487.9 262.2,487.7 263.7,485.7 265.2,484.8 266.7,484.4 268.2,483.7 269.7,483.7 271.2,484.2 272.7,484.4 274.3,484.6 275.8,484.3 277.3,484.4 278.8,483.6 280.3,484.8 281.8,485.7 283.3,485.4 284.8,486.1 286.3,488.5 287.8,488.4 289.3,489.2 290.8,488.8 292.3,488.9 293.8,487.8 295.3,487.9 296.8,488.6 298.3,489.4 299.9,489.1 301.4,488.9 302.9,489.2 304.4,492.6 305.9,493.2 307.4,493.2 308.9,495.1 310.4,496.0 311.9,495.5 313.4,495.7 314.9,498.3 316.4,497.2 317.9,497.8 319.4,498.3 320.9,500.5 322.4,501.3 323.9,501.6 325.5,499.9 327.0,500.5 328.5,500.8 330.0,499.9 331.5,500.6 333.0,501.6 334.5,503.1 336.0,502.5 337.5,503.3 339.0,503.9 340.5,503.7 342.0,501.9 343.5,498.4 345.0,495.8 346.5,492.8 348.0,490.5 349.6,487.8 351.1,485.4 352.6,483.0 354.1,482.2 355.6,477.6 357.1,473.4 358.6,468.2 360.1,465.7 361.6,462.1 363.1,458.2 364.6,459.1 366.1,455.6 367.6,452.8 369.1,452.2 370.6,446.5 372.1,445.1 373.6,444.3 375.2,436.6 376.7,433.9 378.2,436.3 379.7,435.1 381.2,427.1 382.7,426.2 384.2,422.6 385.7,420.5 387.2,425.4 388.7,429.0 390.2,425.8 391.7,420.8 393.2,420.7 394.7,415.6 396.2,420.8 397.7,424.8 399.2,415.3 400.8,416.5 402.3,424.0 403.8,424.8 405.3,423.7"/>
<path d="M60.4,563.9 61.9,563.9 63.4,563.5 64.9,563.4 66.4,563.1 67.9,562.9 69.4,562.7 70.9,562.4 72.4,562.2 74.0,562.0 75.5,561.8 77.0,561.5 78.5,561.4 80.0,560.9 81.5,560.6 83.0,560.4 84.5,560.1 86.0,559.5 87.5,559.3 89.0,559.0 90.5,558.5 92.0,558.2 93.5,557.7 95.0,557.2 96.5,556.4 98.0,556.1 99.6,555.4 101.1,555.1 102.6,554.6 104.1,554.3 105.6,554.1 107.1,553.9 108.6,554.0 110.1,554.2 111.6,554.0 113.1,553.8 114.6,553.8 116.1,553.8 117.6,554.0 119.1,554.0 120.6,554.1 122.1,554.0 123.7,554.0 125.2,554.0 126.7,553.9 128.2,553.9 129.7,553.1 131.2,553.2 132.7,553.2 134.2,553.3 135.7,553.4 137.2,553.7 138.7,553.7 140.2,553.3 141.7,553.7 143.2,553.5 144.7,553.7 146.2,553.6 147.7,553.5 149.3,553.4 150.8,554.1 152.3,554.1 153.8,554.1 155.3,554.1 156.8,553.8 158.3,553.8 159.8,553.9 161.3,553.8 162.8,553.6 164.3,553.5 165.8,553.7 167.3,553.5 168.8,553.8 170.3,554.0 171.8,553.7 173.3,554.0 174.9,553.8 176.4,553.6 177.9,553.9 179.4,553.5 180.9,553.3 182.4,553.2 183.9,553.0 185.4,553.0 186.9,552.9 188.4,552.8 189.9,552.6 191.4,552.4 192.9,552.1 194.4,551.9 195.9,551.7 197.4,551.8 199.0,551.4 200.5,551.7 202.0,551.6 203.5,551.4 205.0,551.1 206.5,551.0 208.0,550.5 209.5,550.4 211.0,550.3 212.5,550.1 214.0,550.1 215.5,550.3 217.0,550.2 218.5,550.0 220.0,549.7 221.5,549.2 223.0,549.7 224.6,549.5 226.1,549.9 227.6,549.8 229.1,550.0 230.6,549.8 232.1,549.3 233.6,549.5 235.1,549.6 236.6,549.3 238.1,549.1 239.6,549.4 241.1,549.1 242.6,549.2 244.1,548.9 245.6,548.9 247.1,548.8 248.7,548.8 250.2,548.7 251.7,548.6 253.2,548.5 254.7,548.1 256.2,547.8 257.7,547.6 259.2,547.6 260.7,547.1 262.2,547.3 263.7,547.1 265.2,546.7 266.7,546.5 268.2,545.9 269.7,545.5 271.2,545.2 272.7,545.1 274.3,545.2 275.8,544.8 277.3,544.5 278.8,544.4 280.3,544.0 281.8,544.0 283.3,543.9 284.8,543.4 286.3,543.4 287.8,542.7 289.3,542.8 290.8,542.8 292.3,542.1 293.8,541.6 295.3,541.3 296.8,540.9 298.3,540.7 299.9,540.0 301.4,539.2 302.9,538.7 304.4,538.3 305.9,537.7 307.4,537.2 308.9,537.3 310.4,536.8 311.9,537.2 313.4,537.3 314.9,536.8 316.4,536.2 317.9,535.8 319.4,535.4 320.9,535.2 322.4,535.3 323.9,534.8 325.5,534.6 327.0,534.3 328.5,533.9 330.0,532.9 331.5,532.3 333.0,531.8 334.5,531.2 336.0,531.3 337.5,531.2 339.0,531.7 340.5,531.0 342.0,530.0 343.5,528.7 345.0,527.6 346.5,525.5 348.0,524.2 349.6,522.3 351.1,521.8 352.6,521.4 354.1,518.8 355.6,517.7 357.1,515.0 358.6,514.0 360.1,512.1 361.6,507.4 363.1,504.7 364.6,500.8 366.1,499.4 367.6,498.5 369.1,495.2 370.6,496.0 372.1,493.4 373.6,490.2 375.2,485.8 376.7,481.1 378.2,475.6 379.7,473.7 381.2,472.1 382.7,474.2 384.2,471.6 385.7,466.8 387.2,462.4 388.7,454.6 390.2,452.8 391.7,444.1 393.2,433.9 394.7,430.3 396.2,434.0 397.7,430.1 399.2,432.0 400.8,420.4 402.3,416.9 403.8,414.9 405.3,412.0"/>
<path d="M60.4,564.0 61.9,563.8 63.4,563.5 64.9,563.3 66.4,562.8 67.9,562.9 69.4,562.4 70.9,562.1 72.4,561.7 74.0,561.4 75.5,561.1 77.0,560.6 78.5,560.2 80.0,559.9 81.5,559.5 83.0,559.2 84.5,558.7 86.0,558.1 87.5,557.4 89.0,556.9 90.5,556.3 92.0,555.6 93.5,554.8 95.0,554.2 96.5,553.5 98.0,553.0 99.6,552.5 101.1,551.9 102.6,551.2 104.1,551.2 105.6,550.7 107.1,550.7 108.6,550.4 110.1,550.2 111.6,550.3 113.1,550.0 114.6,549.9 116.1,549.9 117.6,549.9 119.1,549.8 120.6,549.7 122.1,549.6 123.7,549.7 125.2,549.8 126.7,549.6 128.2,549.5 129.7,549.5 131.2,549.5 132.7,549.1 134.2,549.2 135.7,549.3 137.2,549.0 138.7,549.1 140.2,549.0 141.7,549.0 143.2,548.9 144.7,548.4 146.2,548.4 147.7,548.5 149.3,548.3 150.8,548.3 152.3,547.9 153.8,548.1 155.3,547.7 156.8,547.4 158.3,547.3 159.8,546.9 161.3,546.7 162.8,546.3 164.3,546.0 165.8,546.0 167.3,545.7 168.8,545.0 170.3,544.4 171.8,543.9 173.3,543.3 174.9,542.6 176.4,541.9 177.9,541.3 179.4,540.5 180.9,538.8 182.4,536.8 183.9,533.9 185.4,531.1 186.9,527.9 188.4,524.1 189.9,520.6 191.4,517.5 192.9,514.4 194.4,511.0 195.9,506.8 197.4,502.0 199.0,497.2 200.5,492.9 202.0,488.0 203.5,483.5 205.0,478.8 206.5,474.5 208.0,469.9 209.5,465.7 211.0,460.8 212.5,455.7 214.0,449.9 215.5,443.8 217.0,439.3 218.5,434.1 220.0,430.7 221.5,424.9 223.0,419.0 224.6,415.2 226.1,413.5 227.6,409.0 229.1,407.4 230.6,404.7 232.1,402.4 233.6,398.2 235.1,394.6 236.6,395.4 238.1,395.9 239.6,398.3 241.1,399.5 242.6,401.5 244.1,406.9 245.6,408.2 247.1,408.9 248.7,411.7 250.2,412.8 251.7,415.4 253.2,417.4 254.7,420.9 256.2,423.4 257.7,424.4 259.2,427.4 260.7,430.6 262.2,434.7 263.7,439.2 265.2,442.7 266.7,445.8 268.2,450.8 269.7,455.2 271.2,459.5 272.7,464.5 274.3,469.3 275.8,473.0 277.3,477.5 278.8,481.6 280.3,485.4 281.8,489.6 283.3,492.7 284.8,496.4 286.3,500.0 287.8,503.4 289.3,506.7 290.8,509.3 292.3,512.0 293.8,514.3 295.3,516.2 296.8,518.5 298.3,520.6 299.9,522.5 301.4,524.4 302.9,525.7 304.4,527.6 305.9,529.0 307.4,530.5 308.9,531.8 310.4,532.8 311.9,534.0 313.4,534.7 314.9,535.6 316.4,536.5 317.9,537.3 319.4,538.0 320.9,538.6 322.4,539.4 323.9,540.3 325.5,540.8 327.0,541.7 328.5,542.3 330.0,542.8 331.5,543.1 333.0,543.6 334.5,543.8 336.0,544.0 337.5,543.9 339.0,544.0 340.5,543.8 342.0,543.8 343.5,543.8 345.0,543.7 346.5,543.9 348.0,543.6 349.6,543.7 351.1,543.5 352.6,543.7 354.1,543.2 355.6,543.1 357.1,543.3 358.6,543.3 360.1,543.2 361.6,543.0 363.1,542.9 364.6,543.1 366.1,543.2 367.6,542.5 369.1,542.6 370.6,542.2 372.1,542.3 373.6,542.0 375.2,541.9 376.7,541.9 378.2,541.0 379.7,540.7 381.2,540.5 382.7,540.3 384.2,540.0 385.7,539.2 387.2,538.3 388.7,537.5 390.2,535.9 391.7,534.4 393.2,532.2 394.7,531.3 396.2,529.5 397.7,527.6 399.2,526.5 400.8,524.8 402.3,524.0 403.8,522.8 405.3,520.9"/>
<path d="M60.4,563.9 61.9,563.9 63.4,563.8 64.9,563.5 66.4,563.3 67.9,562.8 69.4,562.4 70.9,561.8 72.4,561.5 74.0,560.9 75.5,560.3 77.0,559.7 78.5,558.6 80.0,557.5 81.5,556.0 83.0,554.4 84.5,552.9 86.0,551.4 87.5,549.8 89.0,548.5 90.5,547.4 92.0,546.7 93.5,546.5 95.0,546.4 96.5,546.4 98.0,546.7 99.6,546.7 101.1,547.0 102.6,547.2 104.1,547.3 105.6,547.4 107.1,547.5 108.6,547.7 110.1,547.8 111.6,548.2 113.1,548.4 114.6,548.5 116.1,549.0 117.6,549.2 119.1,549.5 120.6,549.6 122.1,549.9 123.7,550.3 125.2,550.5 126.7,550.8 128.2,551.0 129.7,551.3 131.2,551.7 132.7,551.9 134.2,552.1 135.7,552.4 137.2,552.6 138.7,553.1 140.2,553.2 141.7,553.5 143.2,553.6 144.7,553.8 146.2,553.9 147.7,553.9 149.3,554.1 150.8,554.3 152.3,554.1 153.8,554.0 155.3,554.1 156.8,554.0 158.3,554.2 159.8,553.9 161.3,554.0 162.8,554.0 164.3,554.1 165.8,554.1 167.3,554.1 168.8,554.1 170.3,554.0 171.8,554.0 173.3,554.0 174.9,554.0 176.4,554.1 177.9,554.0 179.4,553.9 180.9,553.6 182.4,552.9 183.9,552.0 185.4,550.9 186.9,549.8 188.4,548.3 189.9,546.9 191.4,545.4 192.9,543.9 194.4,541.9 195.9,539.9 197.4,538.1 199.0,536.0 200.5,533.8 202.0,531.0 203.5,527.8 205.0,524.1 206.5,520.1 208.0,516.1 209.5,511.8 211.0,507.4 212.5,503.6 214.0,499.5 215.5,495.6 217.0,491.4 218.5,487.7 220.0,483.8 221.5,479.9 223.0,476.0 224.6,472.8 226.1,468.8 227.6,463.9 229.1,457.7 230.6,452.0 232.1,446.3 233.6,440.3 235.1,434.2 236.6,429.3 238.1,424.2 239.6,418.9 241.1,415.0 242.6,412.0 244.1,408.2 245.6,403.5 247.1,401.7 248.7,398.9 250.2,396.3 251.7,395.4 253.2,392.0 254.7,388.6 256.2,386.1 257.7,384.5 259.2,382.8 260.7,384.4 262.2,388.1 263.7,392.1 265.2,396.6 266.7,400.7 268.2,402.1 269.7,406.0 271.2,410.5 272.7,414.9 274.3,420.1 275.8,424.5 277.3,429.9 278.8,433.8 280.3,437.6 281.8,440.9 283.3,444.6 284.8,447.7 286.3,449.6 287.8,452.8 289.3,456.0 290.8,458.7 292.3,461.4 293.8,465.2 295.3,468.7 296.8,473.6 298.3,476.4 299.9,479.9 301.4,483.4 302.9,485.9 304.4,487.8 305.9,490.1 307.4,492.8 308.9,494.1 310.4,496.1 311.9,497.8 313.4,499.6 314.9,501.5 316.4,503.1 317.9,504.3 319.4,505.9 320.9,507.2 322.4,508.8 323.9,510.0 325.5,511.6 327.0,512.7 328.5,514.1 330.0,515.5 331.5,517.1 333.0,518.1 334.5,518.9 336.0,519.0 337.5,519.6 339.0,520.1 340.5,520.3 342.0,520.5 343.5,520.8 345.0,521.2 346.5,521.2 348.0,521.7 349.6,521.9 351.1,522.3 352.6,521.7 354.1,522.2 355.6,523.2 357.1,523.4 358.6,523.1 360.1,523.3 361.6,523.5 363.1,524.1 364.6,524.2 366.1,523.9 367.6,524.3 369.1,524.6 370.6,524.5 372.1,524.0 373.6,524.8 375.2,525.1 376.7,524.7 378.2,524.7 379.7,525.0 381.2,524.9 382.7,525.2 384.2,524.7 385.7,524.2 387.2,524.3 388.7,523.6 390.2,523.2 391.7,522.5 393.2,522.2 394.7,521.8 396.2,521.5 397.7,520.9 399.2,519.9 400.8,518.9 402.3,517.9 403.8,516.8 405.3,515.2"/>
<path d="M60.4,564.0 61.9,563.8 63.4,563.2 64.9,562.8 66.4,562.3 67.9,562.0 69.4,561.5 70.9,560.8 72.4,560.5 74.0,559.7 75.5,559.1 77.0,558.6 78.5,558.0 80.0,557.4 81.5,556.4 83.0,555.9 84.5,554.8 86.0,553.6 87.5,552.4 89.0,551.5 90.5,550.4 92.0,549.3 93.5,547.7 95.0,546.5 96.5,545.6 98.0,544.6 99.6,542.7 101.1,540.8 102.6,539.4 104.1,538.0 105.6,537.3 107.1,536.8 108.6,536.7 110.1,534.6 111.6,534.2 113.1,533.4 114.6,532.8 116.1,533.1 117.6,532.6 119.1,532.1 120.6,531.6 122.1,531.1 123.7,530.8 125.2,531.0 126.7,530.5 128.2,529.6 129.7,529.2 131.2,530.0 132.7,530.2 134.2,530.0 135.7,530.3 137.2,530.1 138.7,530.0 140.2,530.0 141.7,531.0 143.2,530.9 144.7,530.6 146.2,529.8 147.7,530.4 149.3,530.2 150.8,530.1 152.3,530.1 153.8,529.3 155.3,529.3 156.8,529.4 158.3,529.7 159.8,529.5 161.3,529.3 162.8,529.4 164.3,529.5 165.8,530.1 167.3,531.0 168.8,531.2 170.3,531.1 171.8,531.8 173.3,531.8 174.9,532.1 176.4,532.3 177.9,531.7 179.4,530.9 180.9,532.1 182.4,531.8 183.9,531.7 185.4,532.7 186.9,532.2 188.4,532.3 189.9,532.1 191.4,532.1 192.9,531.0 194.4,531.6 195.9,530.8 197.4,530.8 199.0,531.5 200.5,531.8 202.0,530.5 203.5,529.9 205.0,528.5 206.5,527.2 208.0,526.5 209.5,524.5 211.0,522.8 212.5,520.8 214.0,520.0 215.5,517.3 217.0,516.9 218.5,514.5 220.0,511.9 221.5,509.9 223.0,509.5 224.6,507.8 226.1,506.3 227.6,504.9 229.1,502.3 230.6,500.3 232.1,498.2 233.6,495.8 235.1,492.7 236.6,491.3 238.1,487.0 239.6,484.6 241.1,482.8 242.6,480.1 244.1,476.1 245.6,474.6 247.1,471.5 248.7,466.3 250.2,462.5 251.7,458.8 253.2,455.7 254.7,453.9 256.2,450.6 257.7,447.4 259.2,447.3 260.7,446.3 262.2,442.9 263.7,440.5 265.2,439.6 266.7,435.1 268.2,432.5 269.7,429.6 271.2,431.4 272.7,432.5 274.3,433.5 275.8,436.6 277.3,437.5 278.8,440.2 280.3,439.5 281.8,436.6 283.3,440.7 284.8,443.7 286.3,446.6 287.8,448.6 289.3,449.8 290.8,453.7 292.3,455.4 293.8,456.4 295.3,458.1 296.8,459.3 298.3,461.7 299.9,461.5 301.4,464.1 302.9,469.3 304.4,469.3 305.9,469.2 307.4,469.5 308.9,470.0 310.4,472.7 311.9,474.2 313.4,475.4 314.9,476.4 316.4,476.9 317.9,477.7 319.4,478.7 320.9,481.2 322.4,481.8 323.9,482.9 325.5,486.2 327.0,488.4 328.5,488.5 330.0,490.5 331.5,491.5 333.0,491.3 334.5,490.9 336.0,492.7 337.5,494.8 339.0,496.1 340.5,496.3 342.0,495.8 343.5,496.4 345.0,494.6 346.5,492.2 348.0,493.7 349.6,495.4 351.1,494.9 352.6,493.0 354.1,494.4 355.6,493.6 357.1,491.6 358.6,489.7 360.1,487.3 361.6,487.5 363.1,488.8 364.6,489.9 366.1,492.4 367.6,491.3 369.1,491.0 370.6,491.7 372.1,490.3 373.6,490.5 375.2,484.5 376.7,483.6 378.2,485.5 379.7,486.1 381.2,490.1 382.7,488.9 384.2,488.0 385.7,487.9 387.2,488.1 388.7,487.4 390.2,485.6 391.7,482.8 393.2,478.3 394.7,476.6 396.2,484.2 397.7,484.3 399.2,485.9 400.8,488.7 402.3,487.7 403.8,490.0 405.3,490.1"/>
<path d="M60.4,564.0 61.9,563.8 63.4,563.6 64.9,563.4 66.4,563.2 67.9,562.8 69.4,562.5 70.9,562.2 72.4,561.9 74.0,561.6 75.5,560.9 77.0,560.6 78.5,560.1 80.0,559.5 81.5,558.9 83.0,558.2 84.5,557.6 86.0,556.9 87.5,556.1 89.0,555.2 90.5,554.3 92.0,553.5 93.5,552.7 95.0,551.9 96.5,551.1 98.0,550.0 99.6,549.4 101.1,548.7 102.6,548.1 104.1,547.7 105.6,547.2 107.1,546.1 108.6,546.0 110.1,546.0 111.6,545.4 113.1,545.2 114.6,545.5 116.1,544.8 117.6,544.1 119.1,544.3 120.6,543.9 122.1,543.8 123.7,543.0 125.2,542.8 126.7,542.9 128.2,543.4 129.7,542.8 131.2,541.9 132.7,541.3 134.2,540.9 135.7,540.3 137.2,540.2 138.7,540.4 140.2,539.9 141.7,540.1 143.2,539.8 144.7,539.9 146.2,539.4 147.7,539.3 149.3,538.5 150.8,538.4 152.3,538.5 153.8,538.0 155.3,538.2 156.8,537.9 158.3,538.0 159.8,538.0 161.3,537.6 162.8,537.1 164.3,537.2 165.8,536.5 167.3,536.4 168.8,535.6 170.3,535.1 171.8,534.9 173.3,534.7 174.9,534.1 176.4,533.0 177.9,532.5 179.4,531.8 180.9,531.2 182.4,530.9 183.9,529.7 185.4,528.5 186.9,526.8 188.4,525.1 189.9,524.2 191.4,522.7 192.9,521.5 194.4,519.9 195.9,519.6 197.4,518.4 199.0,516.6 200.5,515.2 202.0,514.2 203.5,512.5 205.0,511.6 206.5,509.5 208.0,509.0 209.5,508.6 211.0,507.8 212.5,507.2 214.0,505.5 215.5,504.8 217.0,503.0 218.5,502.3 220.0,500.7 221.5,499.5 223.0,497.3 224.6,495.0 226.1,492.8 227.6,492.8 229.1,488.9 230.6,487.9 232.1,482.1 233.6,478.7 235.1,474.1 236.6,469.8 238.1,465.2 239.6,462.0 241.1,460.5 242.6,455.7 244.1,453.2 245.6,452.0 247.1,448.0 248.7,444.3 250.2,444.3 251.7,438.5 253.2,439.6 254.7,437.1 256.2,434.5 257.7,434.0 259.2,435.4 260.7,437.0 262.2,435.9 263.7,437.8 265.2,440.5 266.7,442.5 268.2,446.2 269.7,449.0 271.2,449.7 272.7,454.3 274.3,458.8 275.8,461.5 277.3,465.3 278.8,467.3 280.3,469.8 281.8,471.5 283.3,476.8 284.8,478.8 286.3,480.2 287.8,481.6 289.3,482.4 290.8,484.0 292.3,483.8 293.8,483.5 295.3,482.3 296.8,483.8 298.3,484.5 299.9,485.4 301.4,485.8 302.9,486.7 304.4,486.0 305.9,486.4 307.4,487.2 308.9,488.0 310.4,490.7 311.9,491.7 313.4,493.0 314.9,494.5 316.4,496.3 317.9,498.0 319.4,499.1 320.9,498.9 322.4,500.4 323.9,500.3 325.5,501.3 327.0,500.4 328.5,500.8 330.0,501.2 331.5,499.5 333.0,499.1 334.5,500.3 336.0,501.1 337.5,500.9 339.0,500.1 340.5,499.2 342.0,499.2 343.5,497.9 345.0,497.2 346.5,496.3 348.0,497.3 349.6,494.8 351.1,493.5 352.6,493.1 354.1,492.6 355.6,490.4 357.1,491.1 358.6,490.8 360.1,491.1 361.6,492.3 363.1,491.6 364.6,491.2 366.1,491.2 367.6,491.2 369.1,489.9 370.6,491.1 372.1,493.0 373.6,495.0 375.2,495.9 376.7,496.7 378.2,495.0 379.7,495.7 381.2,491.2 382.7,484.8 384.2,481.2 385.7,481.5 387.2,480.4 388.7,479.9 390.2,482.2 391.7,485.4 393.2,483.8 394.7,479.4 396.2,479.9 397.7,478.4 399.2,477.0 400.8,475.0 402.3,480.7 403.8,484.8 405.3,487.5"/>
<path d="M60.4,563.9 61.9,563.8 63.4,563.3 64.9,563.2 66.4,562.8 67.9,562.5 69.4,561.9 70.9,561.5 72.4,561.0 74.0,560.6 75.5,560.4 77.0,560.1 78.5,559.5 80.0,559.4 81.5,558.8 83.0,558.5 84.5,558.3 86.0,557.6 87.5,556.9 89.0,556.3 90.5,556.1 92.0,556.3 93.5,555.7 95.0,555.3 96.5,554.7 98.0,554.3 99.6,553.9 101.1,553.1 102.6,553.0 104.1,553.1 105.6,552.6 107.1,552.5 108.6,552.8 110.1,552.8 111.6,552.8 113.1,552.9 114.6,552.6 116.1,552.8 117.6,552.8 119.1,552.8 120.6,552.9 122.1,553.0 123.7,552.8 125.2,552.6 126.7,552.7 128.2,552.9 129.7,553.0 131.2,552.9 132.7,552.8 134.2,552.9 135.7,553.3 137.2,553.6 138.7,553.4 140.2,553.5 141.7,553.6 143.2,553.5 144.7,553.7 146.2,553.8 147.7,554.0 149.3,554.0 150.8,553.7 152.3,553.8 153.8,553.8 155.3,553.8 156.8,553.8 158.3,553.4 159.8,553.6 161.3,553.3 162.8,553.4 164.3,553.2 165.8,553.1 167.3,553.1 168.8,552.7 170.3,552.6 171.8,552.2 173.3,551.7 174.9,551.3 176.4,551.2 177.9,550.8 179.4,550.7 180.9,550.0 182.4,548.9 183.9,547.5 185.4,545.9 186.9,544.1 188.4,542.2 189.9,540.0 191.4,537.6 192.9,535.9 194.4,533.8 195.9,531.9 197.4,529.8 199.0,527.7 200.5,524.1 202.0,521.1 203.5,516.6 205.0,512.4 206.5,507.7 208.0,503.9 209.5,498.5 211.0,494.2 212.5,489.1 214.0,482.9 215.5,479.4 217.0,475.3 218.5,470.7 220.0,466.4 221.5,463.6 223.0,459.4 224.6,459.1 226.1,454.6 227.6,451.0 229.1,443.6 230.6,441.1 232.1,439.2 233.6,438.2 235.1,440.3 236.6,439.2 238.1,438.8 239.6,437.8 241.1,437.2 242.6,437.2 244.1,438.5 245.6,439.0 247.1,443.5 248.7,446.2 250.2,450.9 251.7,450.8 253.2,450.4 254.7,451.7 256.2,452.6 257.7,454.7 259.2,456.0 260.7,458.4 262.2,461.8 263.7,464.9 265.2,468.0 266.7,470.0 268.2,472.5 269.7,474.4 271.2,474.9 272.7,475.5 274.3,479.8 275.8,482.2 277.3,483.8 278.8,485.3 280.3,488.1 281.8,489.9 283.3,491.9 284.8,494.1 286.3,496.5 287.8,497.8 289.3,498.0 290.8,498.3 292.3,499.6 293.8,502.1 295.3,501.2 296.8,502.2 298.3,503.4 299.9,503.8 301.4,504.0 302.9,505.4 304.4,505.3 305.9,503.7 307.4,502.7 308.9,503.6 310.4,503.5 311.9,503.9 313.4,501.8 314.9,502.1 316.4,502.4 317.9,501.9 319.4,502.3 320.9,501.1 322.4,500.9 323.9,500.7 325.5,501.0 327.0,503.3 328.5,503.8 330.0,504.4 331.5,504.4 333.0,503.6 334.5,507.1 336.0,506.8 337.5,506.4 339.0,506.4 340.5,503.1 342.0,505.3 343.5,505.7 345.0,504.7 346.5,505.1 348.0,503.3 349.6,504.4 351.1,501.4 352.6,503.1 354.1,502.5 355.6,500.9 357.1,500.2 358.6,501.8 360.1,499.3 361.6,501.4 363.1,498.8 364.6,498.5 366.1,499.1 367.6,498.6 369.1,497.6 370.6,495.1 372.1,498.3 373.6,494.6 375.2,496.6 376.7,494.7 378.2,492.8 379.7,490.7 381.2,491.4 382.7,492.3 384.2,495.2 385.7,494.7 387.2,494.1 388.7,494.2 390.2,498.7 391.7,499.7 393.2,500.1 394.7,504.0 396.2,503.8 397.7,506.2 399.2,508.1 400.8,510.7 402.3,511.8 403.8,509.6 405.3,509.8"/>
<path d="M60.4,564.0 61.9,563.9 63.4,563.8 64.9,563.8 66.4,563.7 67.9,563.5 69.4,563.1 70.9,563.3 72.4,562.9 74.0,562.6 75.5,562.6 77.0,562.4 78.5,562.2 80.0,561.8 81.5,561.3 83.0,561.0 84.5,560.4 86.0,559.5 87.5,558.9 89.0,558.0 90.5,557.2 92.0,556.8 93.5,556.0 95.0,555.2 96.5,554.5 98.0,554.0 99.6,553.4 101.1,553.1 102.6,553.0 104.1,552.4 105.6,552.2 107.1,552.9 108.6,552.7 110.1,552.8 111.6,552.5 113.1,551.9 114.6,552.0 116.1,551.1 117.6,551.2 119.1,551.2 120.6,551.2 122.1,551.2 123.7,550.9 125.2,551.0 126.7,551.1 128.2,551.4 129.7,551.3 131.2,551.6 132.7,551.8 134.2,551.9 135.7,551.9 137.2,552.6 138.7,552.6 140.2,552.6 141.7,552.7 143.2,552.7 144.7,552.8 146.2,552.5 147.7,552.3 149.3,552.3 150.8,552.3 152.3,552.0 153.8,552.0 155.3,551.8 156.8,551.8 158.3,551.5 159.8,551.4 161.3,551.0 162.8,550.6 164.3,550.4 165.8,550.3 167.3,550.3 168.8,549.9 170.3,549.6 171.8,548.8 173.3,549.4 174.9,548.8 176.4,548.5 177.9,547.8 179.4,547.9 180.9,547.7 182.4,547.5 183.9,546.8 185.4,546.1 186.9,545.6 188.4,544.7 189.9,544.2 191.4,543.5 192.9,542.8 194.4,541.7 195.9,541.3 197.4,540.6 199.0,539.9 200.5,538.1 202.0,536.6 203.5,534.3 205.0,532.1 206.5,530.2 208.0,527.5 209.5,525.4 211.0,521.3 212.5,517.3 214.0,515.6 215.5,511.5 217.0,506.8 218.5,505.0 220.0,501.8 221.5,498.1 223.0,495.1 224.6,493.2 226.1,490.7 227.6,486.8 229.1,484.5 230.6,478.3 232.1,476.9 233.6,473.8 235.1,469.2 236.6,466.3 238.1,464.4 239.6,461.4 241.1,459.1 242.6,460.3 244.1,460.6 245.6,460.1 247.1,458.6 248.7,460.3 250.2,460.5 251.7,462.8 253.2,464.4 254.7,467.0 256.2,467.5 257.7,469.7 259.2,470.8 260.7,469.5 262.2,471.8 263.7,474.4 265.2,476.2 266.7,478.1 268.2,481.2 269.7,482.2 271.2,481.6 272.7,483.4 274.3,482.9 275.8,483.9 277.3,484.6 278.8,483.9 280.3,486.4 281.8,487.7 283.3,488.3 284.8,488.8 286.3,488.3 287.8,487.8 289.3,489.8 290.8,491.5 292.3,493.4 293.8,494.2 295.3,495.0 296.8,496.0 298.3,496.2 299.9,497.0 301.4,496.5 302.9,498.1 304.4,499.4 305.9,500.7 307.4,502.8 308.9,504.7 310.4,504.6 311.9,503.8 313.4,504.5 314.9,506.1 316.4,507.2 317.9,507.5 319.4,508.4 320.9,509.8 322.4,510.9 323.9,512.4 325.5,513.6 327.0,511.5 328.5,512.0 330.0,512.7 331.5,513.1 333.0,513.8 334.5,515.7 336.0,515.7 337.5,515.2 339.0,514.2 340.5,514.6 342.0,513.7 343.5,510.2 345.0,509.3 346.5,509.5 348.0,512.0 349.6,511.6 351.1,510.7 352.6,510.3 354.1,508.0 355.6,506.5 357.1,506.6 358.6,507.1 360.1,505.1 361.6,505.6 363.1,505.6 364.6,506.9 366.1,503.6 367.6,503.5 369.1,501.4 370.6,500.1 372.1,501.0 373.6,502.1 375.2,506.2 376.7,506.4 378.2,504.6 379.7,503.1 381.2,503.2 382.7,503.0 384.2,503.8 385.7,505.3 387.2,510.9 388.7,508.9 390.2,509.8 391.7,507.3 393.2,503.8 394.7,499.6 396.2,495.5 397.7,494.5 399.2,493.9 400.8,494.0 402.3,494.5 403.8,493.0 405.3,491.6"/>
<path d="M60.4,564.0 61.9,563.8 63.4,563.5 64.9,563.3 66.4,562.8 67.9,562.4 69.4,562.1 70.9,561.7 72.4,561.3 74.0,560.7 75.5,560.3 77.0,560.0 78.5,559.4 80.0,558.9 81.5,557.9 83.0,557.2 84.5,556.3 86.0,555.0 87.5,553.6 89.0,552.0 90.5,550.6 92.0,549.3 93.5,548.1 95.0,546.5 96.5,545.8 98.0,544.3 99.6,542.7 101.1,542.6 102.6,542.2 104.1,541.4 105.6,541.6 107.1,541.8 108.6,541.9 110.1,542.0 111.6,541.7 113.1,541.8 114.6,541.4 116.1,541.6 117.6,541.7 119.1,541.8 120.6,542.3 122.1,541.6 123.7,541.6 125.2,541.5 126.7,541.1 128.2,541.1 129.7,541.1 131.2,541.0 132.7,540.7 134.2,540.7 135.7,540.9 137.2,541.1 138.7,540.9 140.2,540.8 141.7,540.8 143.2,540.7 144.7,540.8 146.2,541.1 147.7,541.2 149.3,541.1 150.8,541.6 152.3,541.7 153.8,542.2 155.3,542.1 156.8,542.2 158.3,542.3 159.8,542.7 161.3,542.8 162.8,543.2 164.3,543.6 165.8,543.3 167.3,543.6 168.8,543.7 170.3,544.1 171.8,544.3 173.3,544.5 174.9,544.5 176.4,545.0 177.9,544.8 179.4,544.4 180.9,544.0 182.4,543.7 183.9,543.4 185.4,542.9 186.9,542.6 188.4,542.2 189.9,541.8 191.4,541.5 192.9,540.3 194.4,539.5 195.9,538.4 197.4,538.0 199.0,537.6 200.5,537.7 202.0,536.8 203.5,536.1 205.0,534.5 206.5,532.6 208.0,531.3 209.5,528.7 211.0,527.0 212.5,524.7 214.0,522.6 215.5,520.8 217.0,518.8 218.5,516.9 220.0,513.8 221.5,510.4 223.0,509.1 224.6,505.3 226.1,503.6 227.6,499.0 229.1,496.2 230.6,493.0 232.1,489.4 233.6,484.8 235.1,480.9 236.6,477.9 238.1,473.8 239.6,469.2 241.1,463.9 242.6,462.2 244.1,457.9 245.6,456.4 247.1,452.3 248.7,454.2 250.2,449.3 251.7,447.6 253.2,446.6 254.7,445.7 256.2,444.4 257.7,442.7 259.2,442.7 260.7,443.4 262.2,445.1 263.7,442.3 265.2,442.8 266.7,442.3 268.2,443.0 269.7,443.2 271.2,447.5 272.7,452.8 274.3,453.7 275.8,458.3 277.3,462.0 278.8,464.5 280.3,466.2 281.8,468.0 283.3,471.9 284.8,474.0 286.3,474.6 287.8,478.0 289.3,479.6 290.8,480.5 292.3,481.7 293.8,480.8 295.3,482.4 296.8,482.6 298.3,484.8 299.9,485.3 301.4,485.9 302.9,486.3 304.4,486.8 305.9,488.0 307.4,489.5 308.9,489.2 310.4,490.1 311.9,489.3 313.4,490.6 314.9,491.9 316.4,492.7 317.9,493.6 319.4,494.0 320.9,495.0 322.4,496.1 323.9,498.0 325.5,498.8 327.0,499.6 328.5,500.6 330.0,501.6 331.5,502.3 333.0,505.6 334.5,505.9 336.0,506.3 337.5,506.8 339.0,507.7 340.5,507.7 342.0,508.5 343.5,508.7 345.0,508.4 346.5,509.7 348.0,511.1 349.6,512.9 351.1,512.0 352.6,514.2 354.1,514.0 355.6,511.4 357.1,510.9 358.6,512.7 360.1,513.1 361.6,514.6 363.1,515.2 364.6,516.2 366.1,517.4 367.6,516.3 369.1,516.3 370.6,516.7 372.1,518.1 373.6,514.9 375.2,516.3 376.7,520.0 378.2,520.3 379.7,520.8 381.2,523.1 382.7,522.2 384.2,522.0 385.7,521.9 387.2,522.0 388.7,523.4 390.2,523.2 391.7,523.1 393.2,523.1 394.7,523.7 396.2,524.7 397.7,523.9 399.2,525.1 400.8,523.8 402.3,518.9 403.8,520.0 405.3,520.6"/>
<path d="M60.4,564.0 61.9,563.8 63.4,563.3 64.9,562.9 66.4,562.5 67.9,562.1 69.4,561.7 70.9,561.2 72.4,561.0 74.0,560.3 75.5,559.8 77.0,559.3 78.5,558.9 80.0,558.3 81.5,557.5 83.0,556.8 84.5,556.1 86.0,555.3 87.5,554.6 89.0,553.8 90.5,552.9 92.0,552.2 93.5,551.4 95.0,550.4 96.5,549.7 98.0,549.1 99.6,548.4 101.1,548.1 102.6,548.1 104.1,547.2 105.6,546.6 107.1,546.6 108.6,546.5 110.1,546.4 111.6,546.4 113.1,546.2 114.6,546.1 116.1,546.4 117.6,546.2 119.1,546.4 120.6,546.6 122.1,546.6 123.7,546.9 125.2,547.1 126.7,547.0 128.2,547.5 129.7,547.5 131.2,547.4 132.7,547.7 134.2,547.5 135.7,547.5 137.2,547.6 138.7,547.8 140.2,547.5 141.7,547.8 143.2,547.8 144.7,547.6 146.2,547.5 147.7,547.9 149.3,547.9 150.8,548.0 152.3,548.2 153.8,548.4 155.3,548.7 156.8,549.2 158.3,549.6 159.8,549.8 161.3,550.1 162.8,550.4 164.3,550.6 165.8,551.2 167.3,551.4 168.8,551.4 170.3,551.1 171.8,551.2 173.3,551.5 174.9,551.8 176.4,551.0 177.9,551.0 179.4,550.8 180.9,550.4 182.4,550.3 183.9,549.8 185.4,549.3 186.9,548.0 188.4,547.6 189.9,546.9 191.4,546.6 192.9,545.9 194.4,544.6 195.9,543.5 197.4,544.6 199.0,543.3 200.5,542.7 202.0,541.4 203.5,540.0 205.0,537.9 206.5,534.5 208.0,532.2 209.5,529.4 211.0,527.2 212.5,525.5 214.0,522.1 215.5,519.7 217.0,515.9 218.5,512.0 220.0,509.6 221.5,505.6 223.0,501.9 224.6,497.0 226.1,492.8 227.6,492.3 229.1,488.4 230.6,486.1 232.1,479.5 233.6,473.4 235.1,468.7 236.6,461.8 238.1,458.3 239.6,454.3 241.1,450.3 242.6,448.0 244.1,445.7 245.6,445.9 247.1,446.0 248.7,446.0 250.2,448.3 251.7,448.1 253.2,453.0 254.7,456.1 256.2,459.1 257.7,463.4 259.2,464.9 260.7,466.3 262.2,467.4 263.7,467.8 265.2,469.9 266.7,471.2 268.2,474.1 269.7,474.8 271.2,476.5 272.7,477.8 274.3,478.3 275.8,478.7 277.3,480.4 278.8,481.4 280.3,481.5 281.8,483.3 283.3,484.9 284.8,488.2 286.3,484.9 287.8,486.4 289.3,484.0 290.8,485.7 292.3,487.3 293.8,490.3 295.3,491.2 296.8,493.2 298.3,495.7 299.9,497.1 301.4,499.6 302.9,501.6 304.4,503.2 305.9,504.4 307.4,510.6 308.9,511.3 310.4,515.4 311.9,517.5 313.4,518.3 314.9,519.0 316.4,520.7 317.9,522.3 319.4,522.6 320.9,523.6 322.4,525.3 323.9,526.7 325.5,527.3 327.0,528.7 328.5,528.7 330.0,529.7 331.5,530.5 333.0,530.5 334.5,531.5 336.0,531.3 337.5,530.4 339.0,530.5 340.5,531.3 342.0,531.2 343.5,530.0 345.0,529.6 346.5,529.7 348.0,528.8 349.6,528.9 351.1,528.8 352.6,527.5 354.1,527.0 355.6,526.4 357.1,525.4 358.6,524.6 360.1,524.0 361.6,522.4 363.1,522.5 364.6,522.4 366.1,521.9 367.6,522.3 369.1,522.4 370.6,521.7 372.1,520.8 373.6,521.7 375.2,522.3 376.7,521.1 378.2,520.1 379.7,521.5 381.2,520.1 382.7,521.9 384.2,520.3 385.7,518.2 387.2,517.3 388.7,516.3 390.2,516.0 391.7,514.9 393.2,514.3 394.7,513.2 396.2,508.6 397.7,506.2 399.2,506.0 400.8,506.3 402.3,502.9 403.8,499.1 405.3,499.6"/>
<path d="M60.4,563.9 61.9,563.8 63.4,563.8 64.9,563.5 66.4,563.2 67.9,562.8 69.4,562.4 70.9,562.2 72.4,561.8 74.0,561.5 75.5,561.2 77.0,560.7 78.5,560.3 80.0,559.8 81.5,558.8 83.0,557.9 84.5,557.0 86.0,556.1 87.5,555.2 89.0,554.1 90.5,552.8 92.0,551.4 93.5,550.1 95.0,549.0 96.5,547.7 98.0,546.8 99.6,545.9 101.1,545.3 102.6,544.7 104.1,544.6 105.6,543.9 107.1,543.7 108.6,543.1 110.1,542.9 111.6,543.1 113.1,542.9 114.6,542.6 116.1,542.6 117.6,542.4 119.1,542.2 120.6,542.2 122.1,541.9 123.7,541.7 125.2,541.4 126.7,541.7 128.2,541.4 129.7,542.0 131.2,541.8 132.7,542.0 134.2,542.6 135.7,542.6 137.2,542.8 138.7,543.0 140.2,543.2 141.7,542.9 143.2,543.2 144.7,543.4 146.2,543.3 147.7,543.0 149.3,543.2 150.8,543.5 152.3,543.4 153.8,543.2 155.3,543.1 156.8,542.9 158.3,542.5 159.8,542.4 161.3,542.2 162.8,542.2 164.3,542.3 165.8,542.2 167.3,542.5 168.8,542.0 170.3,542.7 171.8,542.6 173.3,542.5 174.9,542.6 176.4,542.4 177.9,542.5 179.4,542.5 180.9,542.4 182.4,541.8 183.9,541.9 185.4,541.1 186.9,540.2 188.4,540.3 189.9,539.5 191.4,538.6 192.9,537.9 194.4,536.8 195.9,535.9 197.4,535.4 199.0,535.4 200.5,534.7 202.0,533.7 203.5,532.5 205.0,531.6 206.5,531.2 208.0,530.1 209.5,528.2 211.0,527.2 212.5,525.8 214.0,524.4 215.5,523.3 217.0,522.1 218.5,520.0 220.0,517.8 221.5,516.5 223.0,516.0 224.6,515.3 226.1,512.5 227.6,509.2 229.1,506.4 230.6,503.2 232.1,499.9 233.6,496.8 235.1,491.5 236.6,487.0 238.1,484.9 239.6,481.6 241.1,476.3 242.6,472.6 244.1,466.9 245.6,462.5 247.1,459.0 248.7,457.7 250.2,456.4 251.7,456.5 253.2,457.5 254.7,456.7 256.2,459.8 257.7,461.4 259.2,458.4 260.7,458.8 262.2,460.0 263.7,461.0 265.2,462.1 266.7,463.7 268.2,464.4 269.7,465.8 271.2,466.0 272.7,467.3 274.3,467.5 275.8,469.8 277.3,470.2 278.8,470.5 280.3,472.9 281.8,476.7 283.3,477.3 284.8,478.1 286.3,480.6 287.8,481.9 289.3,483.5 290.8,483.4 292.3,483.4 293.8,482.6 295.3,482.5 296.8,482.4 298.3,483.8 299.9,484.0 301.4,483.6 302.9,483.7 304.4,483.3 305.9,484.3 307.4,483.1 308.9,483.4 310.4,484.7 311.9,481.2 313.4,481.6 314.9,482.2 316.4,482.5 317.9,481.9 319.4,480.4 320.9,481.0 322.4,482.1 323.9,483.3 325.5,486.4 327.0,486.4 328.5,488.6 330.0,487.9 331.5,486.1 333.0,490.0 334.5,486.1 336.0,486.7 337.5,488.0 339.0,489.1 340.5,489.6 342.0,491.2 343.5,491.5 345.0,489.5 346.5,488.2 348.0,490.0 349.6,485.3 351.1,484.2 352.6,486.2 354.1,481.7 355.6,486.5 357.1,484.1 358.6,483.0 360.1,480.2 361.6,481.6 363.1,478.0 364.6,476.9 366.1,476.0 367.6,475.8 369.1,468.7 370.6,469.8 372.1,471.1 373.6,469.5 375.2,474.4 376.7,474.8 378.2,476.3 379.7,477.7 381.2,478.3 382.7,475.4 384.2,476.8 385.7,476.3 387.2,474.3 388.7,463.8 390.2,468.1 391.7,469.0 393.2,469.5 394.7,465.8 396.2,463.8 397.7,459.1 399.2,458.8 400.8,460.2 402.3,460.8 403.8,461.8 405.3,465.6"/>
<path d="M60.4,563.9 61.9,564.0 63.4,563.9 64.9,563.7 66.4,563.6 67.9,563.5 69.4,563.4 70.9,563.1 72.4,563.0 74.0,562.7 75.5,562.7 77.0,562.4 78.5,562.2 80.0,561.8 81.5,561.5 83.0,561.1 84.5,560.6 86.0,560.1 87.5,559.4 89.0,558.9 90.5,558.1 92.0,557.7 93.5,556.8 95.0,556.1 96.5,555.3 98.0,554.6 99.6,554.2 101.1,553.7 102.6,553.2 104.1,552.9 105.6,552.8 107.1,552.7 108.6,552.9 110.1,552.8 111.6,552.6 113.1,552.6 114.6,552.7 116.1,552.8 117.6,552.9 119.1,553.0 120.6,552.9 122.1,552.8 123.7,552.9 125.2,553.1 126.7,553.0 128.2,553.3 129.7,552.9 131.2,553.2 132.7,553.2 134.2,553.1 135.7,553.0 137.2,553.2 138.7,553.1 140.2,553.1 141.7,552.7 143.2,552.4 144.7,552.3 146.2,552.2 147.7,551.9 149.3,552.0 150.8,551.9 152.3,551.6 153.8,551.4 155.3,551.1 156.8,550.9 158.3,550.3 159.8,550.0 161.3,549.9 162.8,550.1 164.3,549.4 165.8,549.3 167.3,549.0 168.8,548.6 170.3,548.1 171.8,547.5 173.3,546.9 174.9,546.7 176.4,546.1 177.9,545.9 179.4,545.2 180.9,544.4 182.4,543.2 183.9,541.3 185.4,540.6 186.9,539.0 188.4,537.3 189.9,535.6 191.4,533.9 192.9,531.7 194.4,530.6 195.9,528.0 197.4,527.2 199.0,525.9 200.5,524.5 202.0,523.7 203.5,522.2 205.0,521.1 206.5,519.8 208.0,518.9 209.5,518.9 211.0,517.6 212.5,516.7 214.0,516.7 215.5,514.0 217.0,513.5 218.5,512.5 220.0,511.2 221.5,510.0 223.0,508.4 224.6,507.7 226.1,507.5 227.6,505.5 229.1,503.8 230.6,500.9 232.1,499.6 233.6,498.4 235.1,496.9 236.6,497.2 238.1,497.1 239.6,495.9 241.1,494.8 242.6,493.7 244.1,491.2 245.6,489.6 247.1,487.5 248.7,487.9 250.2,485.3 251.7,483.4 253.2,481.5 254.7,477.3 256.2,477.5 257.7,477.5 259.2,475.5 260.7,475.3 262.2,471.3 263.7,469.3 265.2,470.9 266.7,473.2 268.2,473.4 269.7,473.4 271.2,474.5 272.7,476.6 274.3,479.8 275.8,484.7 277.3,483.7 278.8,480.5 280.3,481.0 281.8,480.4 283.3,485.2 284.8,485.9 286.3,487.4 287.8,485.6 289.3,486.6 290.8,486.2 292.3,486.0 293.8,485.6 295.3,483.3 296.8,481.9 298.3,482.8 299.9,483.9 301.4,484.9 302.9,486.2 304.4,485.8 305.9,486.2 307.4,486.0 308.9,484.8 310.4,483.2 311.9,483.0 313.4,485.2 314.9,484.9 316.4,485.9 317.9,487.3 319.4,486.4 320.9,487.0 322.4,485.2 323.9,484.6 325.5,484.0 327.0,483.5 328.5,482.6 330.0,485.3 331.5,486.0 333.0,484.4 334.5,482.0 336.0,480.7 337.5,480.3 339.0,480.3 340.5,480.0 342.0,479.9 343.5,480.5 345.0,476.5 346.5,477.1 348.0,478.8 349.6,479.9 351.1,479.0 352.6,479.4 354.1,475.5 355.6,476.3 357.1,475.9 358.6,475.5 360.1,476.8 361.6,477.4 363.1,474.5 364.6,467.7 366.1,474.7 367.6,473.6 369.1,473.5 370.6,473.2 372.1,470.9 373.6,470.4 375.2,475.2 376.7,472.6 378.2,473.8 379.7,471.2 381.2,467.6 382.7,464.1 384.2,468.2 385.7,476.6 387.2,472.7 388.7,469.0 390.2,470.1 391.7,464.6 393.2,466.4 394.7,463.6 396.2,463.4 397.7,459.4 399.2,458.1 400.8,458.1 402.3,459.5 403.8,461.4 405.3,458.2"/>
<path d="M60.4,564.0 61.9,564.0 63.4,564.0 64.9,563.7 66.4,564.0 67.9,563.8 69.4,563.6 70.9,563.5 72.4,563.4 74.0,563.2 75.5,563.1 77.0,563.0 78.5,562.8 80.0,562.5 81.5,562.4 83.0,562.1 84.5,561.7 86.0,561.5 87.5,560.9 89.0,560.4 90.5,560.0 92.0,559.1 93.5,558.5 95.0,557.9 96.5,557.4 98.0,556.9 99.6,556.7 101.1,556.3 102.6,555.9 104.1,555.5 105.6,555.4 107.1,555.3 108.6,555.3 110.1,555.2 111.6,555.2 113.1,556.1 114.6,556.0 116.1,555.9 117.6,556.0 119.1,556.0 120.6,556.0 122.1,555.8 123.7,555.4 125.2,555.4 126.7,555.2 128.2,555.4 129.7,555.3 131.2,555.5 132.7,555.7 134.2,555.6 135.7,555.7 137.2,555.9 138.7,555.9 140.2,556.0 141.7,555.8 143.2,555.9 144.7,556.5 146.2,556.5 147.7,556.7 149.3,556.5 150.8,556.7 152.3,556.6 153.8,556.6 155.3,556.6 156.8,556.4 158.3,556.6 159.8,556.1 161.3,556.1 162.8,556.1 164.3,555.2 165.8,555.4 167.3,555.2 168.8,555.0 170.3,555.1 171.8,554.5 173.3,554.4 174.9,554.1 176.4,554.1 177.9,553.8 179.4,553.6 180.9,553.5 182.4,553.4 183.9,553.1 185.4,553.7 186.9,553.6 188.4,553.0 189.9,552.8 191.4,552.4 192.9,552.8 194.4,552.8 195.9,552.6 197.4,551.9 199.0,551.5 200.5,551.1 202.0,551.1 203.5,550.3 205.0,549.6 206.5,549.0 208.0,548.4 209.5,547.3 211.0,545.9 212.5,545.2 214.0,544.1 215.5,542.3 217.0,541.0 218.5,540.2 220.0,538.8 221.5,537.4 223.0,536.1 224.6,534.7 226.1,532.6 227.6,530.1 229.1,528.2 230.6,526.2 232.1,523.2 233.6,519.9 235.1,517.5 236.6,514.9 238.1,512.4 239.6,509.5 241.1,506.4 242.6,503.8 244.1,499.5 245.6,496.6 247.1,493.7 248.7,491.4 250.2,487.9 251.7,485.9 253.2,485.6 254.7,484.8 256.2,483.8 257.7,483.0 259.2,483.4 260.7,483.3 262.2,485.3 263.7,485.0 265.2,486.4 266.7,486.6 268.2,487.6 269.7,488.6 271.2,489.0 272.7,490.9 274.3,491.8 275.8,492.6 277.3,493.1 278.8,494.0 280.3,494.6 281.8,495.7 283.3,495.0 284.8,495.8 286.3,496.3 287.8,498.0 289.3,498.7 290.8,499.3 292.3,499.8 293.8,499.0 295.3,498.8 296.8,499.4 298.3,499.7 299.9,499.5 301.4,498.4 302.9,497.3 304.4,497.3 305.9,495.7 307.4,494.1 308.9,491.9 310.4,491.4 311.9,491.3 313.4,492.1 314.9,489.6 316.4,488.3 317.9,487.9 319.4,487.8 320.9,487.6 322.4,486.6 323.9,486.6 325.5,485.9 327.0,484.3 328.5,482.5 330.0,482.1 331.5,482.9 333.0,481.1 334.5,479.5 336.0,479.8 337.5,479.4 339.0,477.1 340.5,474.6 342.0,471.9 343.5,471.7 345.0,469.8 346.5,468.6 348.0,469.8 349.6,471.2 351.1,470.9 352.6,466.1 354.1,462.2 355.6,459.5 357.1,452.7 358.6,453.3 360.1,449.3 361.6,449.0 363.1,450.7 364.6,447.3 366.1,445.2 367.6,444.2 369.1,445.0 370.6,445.0 372.1,445.0 373.6,441.4 375.2,443.0 376.7,444.3 378.2,448.0 379.7,451.9 381.2,455.0 382.7,459.3 384.2,463.1 385.7,469.2 387.2,470.0 388.7,473.4 390.2,470.8 391.7,467.6 393.2,470.1 394.7,472.4 396.2,474.5 397.7,470.9 399.2,474.0 400.8,469.9 402.3,467.2 403.8,459.2 405.3,454.4"/>
<path d="M60.4,564.0 61.9,564.0 63.4,563.9 64.9,563.8 66.4,563.7 67.9,563.6 69.4,563.3 70.9,563.2 72.4,562.9 74.0,562.9 75.5,562.5 77.0,562.2 78.5,561.9 80.0,561.6 81.5,561.2 83.0,560.7 84.5,559.9 86.0,559.1 87.5,558.4 89.0,557.6 90.5,556.6 92.0,555.7 93.5,554.4 95.0,553.7 96.5,553.2 98.0,552.1 99.6,551.2 101.1,550.5 102.6,550.0 104.1,549.2 105.6,549.2 107.1,549.2 108.6,547.9 110.1,547.6 111.6,547.6 113.1,547.8 114.6,548.0 116.1,547.9 117.6,547.5 119.1,547.3 120.6,547.0 122.1,547.1 123.7,547.0 125.2,547.1 126.7,547.0 128.2,547.3 129.7,548.2 131.2,548.6 132.7,548.4 134.2,548.0 135.7,547.9 137.2,547.4 138.7,548.0 140.2,547.9 141.7,548.2 143.2,548.3 144.7,548.6 146.2,548.5 147.7,548.3 149.3,548.3 150.8,547.8 152.3,547.6 153.8,547.1 155.3,547.3 156.8,547.4 158.3,547.7 159.8,547.2 161.3,546.8 162.8,546.4 164.3,546.6 165.8,546.2 167.3,546.2 168.8,546.0 170.3,546.1 171.8,546.7 173.3,546.6 174.9,546.9 176.4,546.4 177.9,545.9 179.4,545.8 180.9,546.0 182.4,546.0 183.9,545.7 185.4,545.2 186.9,544.8 188.4,544.2 189.9,543.7 191.4,543.2 192.9,542.6 194.4,542.2 195.9,542.0 197.4,541.5 199.0,540.7 200.5,539.8 202.0,539.3 203.5,538.8 205.0,537.6 206.5,536.7 208.0,535.2 209.5,534.8 211.0,533.3 212.5,531.9 214.0,530.5 215.5,528.6 217.0,527.2 218.5,526.5 220.0,525.5 221.5,524.8 223.0,523.2 224.6,521.0 226.1,519.2 227.6,517.6 229.1,516.3 230.6,513.8 232.1,513.0 233.6,510.9 235.1,508.1 236.6,506.2 238.1,503.8 239.6,500.4 241.1,496.9 242.6,493.9 244.1,491.0 245.6,490.5 247.1,489.4 248.7,488.7 250.2,486.3 251.7,485.0 253.2,483.1 254.7,483.0 256.2,482.9 257.7,482.3 259.2,481.9 260.7,483.2 262.2,484.9 263.7,485.3 265.2,485.4 266.7,486.9 268.2,487.8 269.7,488.1 271.2,489.7 272.7,489.6 274.3,491.4 275.8,491.8 277.3,492.7 278.8,492.0 280.3,493.9 281.8,493.4 283.3,494.4 284.8,494.5 286.3,495.6 287.8,496.3 289.3,497.2 290.8,497.3 292.3,498.6 293.8,498.8 295.3,499.4 296.8,500.1 298.3,502.8 299.9,505.6 301.4,507.1 302.9,508.3 304.4,509.3 305.9,511.6 307.4,512.5 308.9,512.7 310.4,512.7 311.9,514.1 313.4,515.7 314.9,517.5 316.4,518.4 317.9,519.3 319.4,519.8 320.9,519.8 322.4,520.0 323.9,521.1 325.5,522.1 327.0,522.1 328.5,523.5 330.0,524.5 331.5,525.8 333.0,526.3 334.5,526.8 336.0,527.5 337.5,527.6 339.0,528.3 340.5,528.6 342.0,529.3 343.5,530.7 345.0,531.3 346.5,531.6 348.0,532.8 349.6,533.7 351.1,534.4 352.6,534.5 354.1,533.0 355.6,532.9 357.1,533.6 358.6,534.9 360.1,535.4 361.6,535.8 363.1,537.1 364.6,538.3 366.1,538.3 367.6,539.7 369.1,539.9 370.6,540.1 372.1,540.4 373.6,540.4 375.2,542.2 376.7,542.6 378.2,542.3 379.7,542.3 381.2,541.8 382.7,542.1 384.2,540.9 385.7,539.5 387.2,539.5 388.7,537.2 390.2,537.1 391.7,536.5 393.2,536.3 394.7,536.5 396.2,536.1 397.7,535.7 399.2,536.1 400.8,535.9 402.3,536.5 403.8,535.6 405.3,537.5"/>
<path d="M60.4,563.9 61.9,563.9 63.4,564.0 64.9,563.7 66.4,563.7 67.9,563.5 69.4,563.3 70.9,563.1 72.4,562.8 74.0,562.8 75.5,562.4 77.0,562.2 78.5,561.9 80.0,561.7 81.5,561.1 83.0,560.7 84.5,560.2 86.0,559.6 87.5,559.2 89.0,558.7 90.5,558.0 92.0,557.3 93.5,556.7 95.0,555.8 96.5,555.1 98.0,554.6 99.6,554.0 101.1,553.5 102.6,552.9 104.1,552.1 105.6,551.7 107.1,551.3 108.6,550.9 110.1,550.6 111.6,550.4 113.1,549.9 114.6,550.2 116.1,550.4 117.6,550.1 119.1,549.7 120.6,549.5 122.1,549.4 123.7,549.5 125.2,549.7 126.7,549.9 128.2,549.7 129.7,549.8 131.2,549.3 132.7,548.5 134.2,548.3 135.7,548.0 137.2,547.5 138.7,547.5 140.2,547.5 141.7,547.4 143.2,547.1 144.7,546.6 146.2,546.5 147.7,546.4 149.3,546.1 150.8,546.1 152.3,546.3 153.8,546.5 155.3,546.0 156.8,545.6 158.3,545.4 159.8,544.8 161.3,544.1 162.8,543.6 164.3,543.3 165.8,542.8 167.3,542.0 168.8,541.3 170.3,541.0 171.8,540.7 173.3,540.0 174.9,539.7 176.4,539.7 177.9,539.7 179.4,539.5 180.9,539.3 182.4,538.7 183.9,538.2 185.4,537.6 186.9,536.9 188.4,536.3 189.9,535.9 191.4,535.0 192.9,533.5 194.4,532.6 195.9,531.0 197.4,531.1 199.0,529.8 200.5,529.0 202.0,528.7 203.5,528.6 205.0,527.2 206.5,526.6 208.0,525.8 209.5,524.3 211.0,523.0 212.5,522.0 214.0,519.9 215.5,518.3 217.0,518.0 218.5,515.3 220.0,514.6 221.5,512.3 223.0,511.3 224.6,510.9 226.1,509.2 227.6,508.0 229.1,507.4 230.6,507.3 232.1,506.3 233.6,506.4 235.1,506.8 236.6,506.3 238.1,506.4 239.6,506.6 241.1,506.4 242.6,507.5 244.1,505.6 245.6,504.8 247.1,505.5 248.7,506.0 250.2,505.3 251.7,504.6 253.2,503.9 254.7,503.5 256.2,503.7 257.7,506.0 259.2,506.2 260.7,507.0 262.2,505.8 263.7,505.9 265.2,507.4 266.7,507.6 268.2,508.3 269.7,509.1 271.2,510.0 272.7,512.4 274.3,514.1 275.8,514.3 277.3,516.0 278.8,516.3 280.3,516.7 281.8,517.2 283.3,518.8 284.8,519.1 286.3,520.7 287.8,521.5 289.3,520.7 290.8,521.0 292.3,521.3 293.8,517.2 295.3,516.7 296.8,516.8 298.3,515.2 299.9,514.9 301.4,514.4 302.9,514.8 304.4,514.9 305.9,514.9 307.4,513.8 308.9,512.1 310.4,512.6 311.9,511.9 313.4,511.4 314.9,514.5 316.4,514.3 317.9,514.8 319.4,515.1 320.9,513.9 322.4,513.8 323.9,512.7 325.5,512.8 327.0,513.1 328.5,512.2 330.0,512.4 331.5,513.2 333.0,513.4 334.5,513.0 336.0,513.2 337.5,512.8 339.0,512.9 340.5,513.3 342.0,510.0 343.5,509.0 345.0,508.8 346.5,507.9 348.0,507.8 349.6,508.1 351.1,508.0 352.6,506.4 354.1,506.1 355.6,506.7 357.1,506.3 358.6,508.6 360.1,507.1 361.6,505.5 363.1,508.1 364.6,509.6 366.1,507.4 367.6,506.1 369.1,502.6 370.6,503.7 372.1,504.4 373.6,502.1 375.2,502.0 376.7,502.6 378.2,501.7 379.7,499.3 381.2,498.3 382.7,498.4 384.2,500.7 385.7,499.1 387.2,500.9 388.7,498.5 390.2,500.6 391.7,499.3 393.2,493.9 394.7,497.2 396.2,500.2 397.7,495.4 399.2,494.2 400.8,494.2 402.3,494.5 403.8,494.9 405.3,495.1"/>
<path d="M60.4,564.0 61.9,563.9 63.4,564.0 64.9,563.9 66.4,563.8 67.9,563.7 69.4,563.7 70.9,563.5 72.4,563.3 74.0,563.1 75.5,563.0 77.0,562.9 78.5,562.7 80.0,562.5 81.5,562.4 83.0,561.8 84.5,561.2 86.0,560.9 87.5,560.3 89.0,559.8 90.5,559.1 92.0,558.3 93.5,557.7 95.0,556.9 96.5,556.2 98.0,555.7 99.6,554.9 101.1,554.0 102.6,553.3 104.1,552.3 105.6,551.9 107.1,551.1 108.6,550.6 110.1,549.9 111.6,549.2 113.1,548.7 114.6,548.6 116.1,548.0 117.6,547.6 119.1,546.7 120.6,546.0 122.1,545.5 123.7,545.1 125.2,545.6 126.7,545.2 128.2,545.0 129.7,544.6 131.2,543.8 132.7,543.8 134.2,542.9 135.7,542.4 137.2,542.1 138.7,541.5 140.2,541.3 141.7,540.9 143.2,540.5 144.7,540.6 146.2,540.3 147.7,539.3 149.3,539.3 150.8,538.8 152.3,539.1 153.8,539.3 155.3,539.9 156.8,539.8 158.3,539.8 159.8,540.2 161.3,540.4 162.8,540.9 164.3,541.2 165.8,541.7 167.3,541.8 168.8,542.9 170.3,543.4 171.8,543.7 173.3,544.2 174.9,544.2 176.4,544.7 177.9,545.2 179.4,545.6 180.9,545.8 182.4,546.5 183.9,546.8 185.4,547.3 186.9,547.4 188.4,547.8 189.9,548.0 191.4,547.8 192.9,548.0 194.4,548.2 195.9,548.3 197.4,548.0 199.0,546.9 200.5,547.1 202.0,546.9 203.5,546.4 205.0,546.1 206.5,545.8 208.0,544.9 209.5,544.6 211.0,543.5 212.5,543.2 214.0,542.4 215.5,541.9 217.0,541.4 218.5,540.8 220.0,541.3 221.5,540.2 223.0,539.1 224.6,538.1 226.1,537.2 227.6,535.9 229.1,535.2 230.6,534.7 232.1,533.9 233.6,532.4 235.1,531.7 236.6,530.1 238.1,528.7 239.6,527.9 241.1,527.2 242.6,526.4 244.1,525.1 245.6,524.4 247.1,524.1 248.7,523.4 250.2,522.4 251.7,519.9 253.2,519.9 254.7,518.3 256.2,517.3 257.7,515.8 259.2,515.8 260.7,513.2 262.2,511.6 263.7,511.4 265.2,510.8 266.7,506.2 268.2,504.8 269.7,503.9 271.2,503.1 272.7,503.0 274.3,500.8 275.8,500.0 277.3,498.5 278.8,498.6 280.3,496.3 281.8,496.7 283.3,497.1 284.8,495.2 286.3,494.9 287.8,498.5 289.3,497.2 290.8,497.4 292.3,497.9 293.8,497.4 295.3,497.2 296.8,498.5 298.3,499.7 299.9,499.7 301.4,499.6 302.9,500.0 304.4,499.6 305.9,500.0 307.4,500.0 308.9,501.0 310.4,500.8 311.9,500.7 313.4,500.8 314.9,500.4 316.4,500.9 317.9,500.0 319.4,499.4 320.9,499.1 322.4,499.6 323.9,500.4 325.5,500.5 327.0,500.7 328.5,499.9 330.0,499.4 331.5,500.9 333.0,500.6 334.5,501.6 336.0,502.2 337.5,500.4 339.0,499.7 340.5,500.2 342.0,499.9 343.5,499.4 345.0,496.0 346.5,496.6 348.0,493.3 349.6,489.7 351.1,486.8 352.6,484.9 354.1,482.1 355.6,478.5 357.1,478.4 358.6,475.8 360.1,474.5 361.6,470.1 363.1,464.7 364.6,463.4 366.1,462.8 367.6,457.6 369.1,456.9 370.6,461.0 372.1,462.6 373.6,455.6 375.2,457.8 376.7,454.0 378.2,452.0 379.7,452.9 381.2,455.7 382.7,459.0 384.2,464.7 385.7,465.1 387.2,465.9 388.7,459.8 390.2,455.8 391.7,452.8 393.2,448.6 394.7,451.7 396.2,446.4 397.7,454.5 399.2,452.8 400.8,457.0 402.3,444.6 403.8,442.5 405.3,442.4"/>
<path d="M60.4,564.0 61.9,564.0 63.4,563.9 64.9,563.9 66.4,563.7 67.9,563.5 69.4,563.3 70.9,563.1 72.4,562.9 74.0,562.7 75.5,562.4 77.0,562.3 78.5,561.9 80.0,561.6 81.5,561.2 83.0,560.5 84.5,559.8 86.0,559.1 87.5,558.4 89.0,557.3 90.5,556.7 92.0,556.0 93.5,555.2 95.0,554.1 96.5,553.5 98.0,552.9 99.6,552.2 101.1,551.6 102.6,551.2 104.1,550.6 105.6,550.3 107.1,550.1 108.6,549.7 110.1,549.8 111.6,549.7 113.1,549.5 114.6,549.7 116.1,550.0 117.6,550.0 119.1,549.9 120.6,550.1 122.1,550.4 123.7,550.6 125.2,551.0 126.7,551.3 128.2,551.4 129.7,551.5 131.2,551.7 132.7,551.7 134.2,551.7 135.7,551.8 137.2,551.9 138.7,552.0 140.2,552.3 141.7,552.3 143.2,552.4 144.7,552.0 146.2,552.1 147.7,551.9 149.3,552.0 150.8,552.2 152.3,552.1 153.8,551.9 155.3,552.3 156.8,552.2 158.3,552.0 159.8,552.1 161.3,552.1 162.8,552.1 164.3,552.1 165.8,552.3 167.3,552.3 168.8,552.4 170.3,553.0 171.8,553.2 173.3,552.2 174.9,552.7 176.4,552.8 177.9,552.9 179.4,553.0 180.9,553.1 182.4,553.2 183.9,553.1 185.4,553.4 186.9,553.2 188.4,553.4 189.9,553.3 191.4,553.1 192.9,553.1 194.4,553.9 195.9,554.0 197.4,553.8 199.0,553.8 200.5,554.0 202.0,553.9 203.5,553.8 205.0,553.4 206.5,553.1 208.0,552.7 209.5,552.4 211.0,551.8 212.5,551.5 214.0,550.8 215.5,550.0 217.0,549.0 218.5,548.4 220.0,547.2 221.5,546.1 223.0,545.2 224.6,544.4 226.1,543.9 227.6,543.3 229.1,542.3 230.6,541.3 232.1,540.3 233.6,538.6 235.1,538.2 236.6,537.7 238.1,537.3 239.6,536.0 241.1,535.8 242.6,535.6 244.1,534.7 245.6,533.0 247.1,531.2 248.7,529.9 250.2,529.7 251.7,529.0 253.2,528.7 254.7,527.2 256.2,525.3 257.7,524.0 259.2,522.6 260.7,521.9 262.2,520.8 263.7,519.4 265.2,517.6 266.7,517.8 268.2,517.4 269.7,518.1 271.2,516.7 272.7,515.0 274.3,512.7 275.8,512.7 277.3,512.9 278.8,511.1 280.3,508.7 281.8,508.3 283.3,507.4 284.8,505.8 286.3,505.7 287.8,504.8 289.3,504.1 290.8,502.4 292.3,500.9 293.8,500.4 295.3,499.0 296.8,498.7 298.3,497.9 299.9,497.7 301.4,498.8 302.9,498.3 304.4,496.6 305.9,495.4 307.4,495.3 308.9,494.7 310.4,492.9 311.9,491.4 313.4,492.6 314.9,492.2 316.4,492.9 317.9,492.0 319.4,490.7 320.9,489.4 322.4,488.5 323.9,486.4 325.5,485.5 327.0,485.4 328.5,482.7 330.0,478.7 331.5,477.3 333.0,477.2 334.5,474.9 336.0,475.4 337.5,474.5 339.0,474.6 340.5,474.0 342.0,475.4 343.5,474.1 345.0,474.3 346.5,474.4 348.0,474.0 349.6,473.0 351.1,475.0 352.6,473.5 354.1,472.3 355.6,474.4 357.1,470.9 358.6,469.2 360.1,469.6 361.6,463.7 363.1,462.2 364.6,460.7 366.1,459.9 367.6,460.9 369.1,462.6 370.6,460.6 372.1,457.1 373.6,460.2 375.2,460.3 376.7,454.5 378.2,454.1 379.7,458.9 381.2,453.8 382.7,458.0 384.2,456.7 385.7,456.1 387.2,456.4 388.7,451.8 390.2,447.6 391.7,451.0 393.2,454.8 394.7,446.8 396.2,444.5 397.7,448.3 399.2,450.6 400.8,445.6 402.3,447.6 403.8,447.6 405.3,452.0"/>
<path d="M60.4,563.9 61.9,563.9 63.4,563.9 64.9,563.8 66.4,563.8 67.9,563.7 69.4,563.7 70.9,563.5 72.4,563.1 74.0,563.0 75.5,563.0 77.0,562.9 78.5,562.7 80.0,562.5 81.5,562.3 83.0,562.1 84.5,561.8 86.0,561.4 87.5,560.9 89.0,560.7 90.5,560.1 92.0,559.9 93.5,559.6 95.0,559.1 96.5,558.8 98.0,558.3 99.6,557.9 101.1,557.0 102.6,556.3 104.1,555.9 105.6,555.4 107.1,554.9 108.6,554.3 110.1,553.9 111.6,553.1 113.1,552.7 114.6,551.8 116.1,551.0 117.6,549.7 119.1,548.6 120.6,547.7 122.1,547.4 123.7,546.6 125.2,544.4 126.7,543.5 128.2,542.3 129.7,541.2 131.2,540.0 132.7,539.0 134.2,536.9 135.7,534.4 137.2,533.0 138.7,531.1 140.2,529.1 141.7,527.4 143.2,526.1 144.7,524.1 146.2,523.9 147.7,522.5 149.3,521.3 150.8,520.2 152.3,519.6 153.8,518.3 155.3,519.2 156.8,519.3 158.3,518.6 159.8,519.4 161.3,519.7 162.8,519.0 164.3,518.8 165.8,518.3 167.3,519.5 168.8,519.1 170.3,518.5 171.8,518.1 173.3,518.2 174.9,518.3 176.4,518.4 177.9,519.2 179.4,520.2 180.9,521.4 182.4,521.3 183.9,521.2 185.4,521.1 186.9,522.9 188.4,523.9 189.9,525.1 191.4,526.3 192.9,528.0 194.4,528.1 195.9,529.3 197.4,528.6 199.0,529.5 200.5,529.2 202.0,529.1 203.5,529.3 205.0,530.4 206.5,531.2 208.0,531.5 209.5,531.6 211.0,531.2 212.5,532.1 214.0,531.7 215.5,532.7 217.0,533.8 218.5,534.2 220.0,533.5 221.5,534.5 223.0,534.2 224.6,535.1 226.1,535.1 227.6,535.7 229.1,536.3 230.6,536.2 232.1,536.9 233.6,536.9 235.1,537.3 236.6,537.3 238.1,536.8 239.6,536.6 241.1,537.3 242.6,537.1 244.1,538.0 245.6,537.6 247.1,537.2 248.7,537.0 250.2,536.9 251.7,536.7 253.2,536.9 254.7,536.6 256.2,536.4 257.7,536.7 259.2,536.0 260.7,536.3 262.2,535.5 263.7,534.4 265.2,533.6 266.7,532.6 268.2,533.0 269.7,531.7 271.2,530.7 272.7,529.6 274.3,529.0 275.8,529.2 277.3,527.8 278.8,527.5 280.3,526.3 281.8,525.5 283.3,524.6 284.8,523.7 286.3,522.8 287.8,522.5 289.3,520.8 290.8,521.0 292.3,520.6 293.8,520.8 295.3,517.0 296.8,515.9 298.3,515.6 299.9,514.5 301.4,515.2 302.9,515.1 304.4,514.9 305.9,515.0 307.4,514.3 308.9,514.7 310.4,515.0 311.9,514.3 313.4,513.8 314.9,513.3 316.4,516.4 317.9,516.9 319.4,517.7 320.9,517.1 322.4,516.0 323.9,514.9 325.5,515.9 327.0,515.9 328.5,516.2 330.0,514.7 331.5,513.2 333.0,512.9 334.5,511.9 336.0,510.4 337.5,509.2 339.0,507.6 340.5,507.2 342.0,506.2 343.5,506.7 345.0,505.4 346.5,502.7 348.0,502.1 349.6,499.2 351.1,498.8 352.6,498.1 354.1,495.5 355.6,495.3 357.1,496.1 358.6,495.4 360.1,494.7 361.6,490.1 363.1,485.2 364.6,482.8 366.1,483.3 367.6,480.4 369.1,478.1 370.6,478.4 372.1,477.9 373.6,475.7 375.2,478.3 376.7,477.6 378.2,474.4 379.7,468.5 381.2,464.0 382.7,464.5 384.2,464.9 385.7,464.6 387.2,457.9 388.7,459.5 390.2,453.3 391.7,454.0 393.2,447.7 394.7,446.8 396.2,445.5 397.7,439.1 399.2,435.5 400.8,435.1 402.3,436.1 403.8,439.5 405.3,439.1"/>
<path d="M60.4,564.0 61.9,564.0 63.4,563.9 64.9,563.7 66.4,563.5 67.9,563.3 69.4,563.0 70.9,562.6 72.4,562.4 74.0,561.8 75.5,561.5 77.0,560.9 78.5,559.4 80.0,558.1 81.5,556.2 83.0,554.2 84.5,551.9 86.0,549.9 87.5,547.9 89.0,546.0 90.5,544.3 92.0,542.8 93.5,541.4 95.0,540.3 96.5,538.3 98.0,536.8 99.6,535.3 101.1,533.7 102.6,532.1 104.1,531.1 105.6,530.8 107.1,530.2 108.6,529.3 110.1,528.6 111.6,528.1 113.1,528.1 114.6,527.9 116.1,527.4 117.6,527.1 119.1,526.8 120.6,525.7 122.1,524.7 123.7,524.5 125.2,524.2 126.7,522.8 128.2,521.3 129.7,521.0 131.2,520.9 132.7,520.1 134.2,520.3 135.7,519.9 137.2,520.0 138.7,520.5 140.2,521.3 141.7,521.9 143.2,522.8 144.7,523.6 146.2,524.8 147.7,525.2 149.3,526.4 150.8,527.3 152.3,528.2 153.8,528.5 155.3,529.1 156.8,529.3 158.3,529.3 159.8,529.0 161.3,528.5 162.8,529.1 164.3,529.8 165.8,529.7 167.3,530.0 168.8,531.2 170.3,531.6 171.8,531.8 173.3,532.3 174.9,533.1 176.4,534.3 177.9,534.9 179.4,534.8 180.9,535.8 182.4,536.9 183.9,537.4 185.4,538.1 186.9,538.6 188.4,538.6 189.9,538.4 191.4,539.1 192.9,539.4 194.4,539.8 195.9,539.6 197.4,539.1 199.0,539.7 200.5,540.5 202.0,540.2 203.5,539.6 205.0,539.1 206.5,538.8 208.0,538.4 209.5,538.9 211.0,538.8 212.5,538.8 214.0,539.0 215.5,538.4 217.0,538.4 218.5,538.2 220.0,537.3 221.5,537.0 223.0,536.6 224.6,536.9 226.1,537.0 227.6,536.9 229.1,537.2 230.6,536.9 232.1,537.3 233.6,536.6 235.1,536.4 236.6,536.3 238.1,536.4 239.6,536.2 241.1,536.6 242.6,535.8 244.1,536.0 245.6,535.1 247.1,534.9 248.7,534.0 250.2,533.8 251.7,533.4 253.2,532.8 254.7,532.2 256.2,531.9 257.7,531.1 259.2,530.3 260.7,530.1 262.2,530.1 263.7,530.2 265.2,530.3 266.7,530.1 268.2,530.2 269.7,530.6 271.2,530.2 272.7,529.6 274.3,529.0 275.8,528.6 277.3,527.8 278.8,527.7 280.3,526.8 281.8,525.7 283.3,524.2 284.8,524.0 286.3,524.1 287.8,524.4 289.3,523.4 290.8,523.3 292.3,523.1 293.8,522.5 295.3,522.7 296.8,523.1 298.3,523.3 299.9,523.5 301.4,523.9 302.9,524.2 304.4,524.4 305.9,524.1 307.4,524.2 308.9,522.9 310.4,522.7 311.9,522.1 313.4,521.6 314.9,522.4 316.4,522.5 317.9,522.5 319.4,522.5 320.9,522.6 322.4,522.6 323.9,522.3 325.5,523.2 327.0,522.6 328.5,521.9 330.0,522.0 331.5,522.1 333.0,522.3 334.5,522.9 336.0,523.1 337.5,522.7 339.0,521.3 340.5,521.0 342.0,519.3 343.5,519.4 345.0,519.5 346.5,516.9 348.0,517.4 349.6,517.8 351.1,518.3 352.6,518.6 354.1,517.7 355.6,517.0 357.1,516.2 358.6,513.1 360.1,514.7 361.6,512.4 363.1,513.6 364.6,510.0 366.1,506.5 367.6,506.8 369.1,504.8 370.6,501.5 372.1,499.4 373.6,495.5 375.2,493.7 376.7,491.2 378.2,486.4 379.7,491.0 381.2,487.7 382.7,490.3 384.2,488.9 385.7,489.9 387.2,492.1 388.7,491.8 390.2,485.7 391.7,483.2 393.2,474.7 394.7,476.4 396.2,470.8 397.7,473.3 399.2,476.5 400.8,470.8 402.3,469.1 403.8,461.9 405.3,461.2"/>
<path d="M60.4,564.0 61.9,563.9 63.4,563.9 64.9,563.7 66.4,563.7 67.9,563.5 69.4,563.3 70.9,563.0 72.4,562.9 74.0,562.6 75.5,562.4 77.0,562.3 78.5,562.0 80.0,561.7 81.5,561.3 83.0,561.1 84.5,560.6 86.0,560.0 87.5,559.4 89.0,558.7 90.5,558.2 92.0,557.8 93.5,557.3 95.0,556.9 96.5,556.4 98.0,555.3 99.6,554.7 101.1,554.3 102.6,553.9 104.1,553.1 105.6,552.8 107.1,552.5 108.6,552.4 110.1,551.9 111.6,551.7 113.1,551.3 114.6,550.8 116.1,550.1 117.6,550.3 119.1,550.5 120.6,550.2 122.1,549.8 123.7,549.3 125.2,549.4 126.7,549.5 128.2,549.1 129.7,548.6 131.2,548.5 132.7,548.8 134.2,548.5 135.7,548.4 137.2,548.1 138.7,548.1 140.2,547.9 141.7,548.3 143.2,548.2 144.7,548.1 146.2,548.0 147.7,547.5 149.3,547.3 150.8,547.6 152.3,547.7 153.8,547.5 155.3,547.7 156.8,548.2 158.3,548.2 159.8,548.1 161.3,548.6 162.8,548.4 164.3,548.5 165.8,549.1 167.3,549.2 168.8,549.4 170.3,550.0 171.8,550.0 173.3,550.3 174.9,550.2 176.4,550.5 177.9,550.6 179.4,550.9 180.9,550.8 182.4,549.5 183.9,549.4 185.4,549.5 186.9,549.4 188.4,549.6 189.9,549.6 191.4,549.5 192.9,549.6 194.4,549.4 195.9,549.7 197.4,549.3 199.0,549.2 200.5,549.1 202.0,548.8 203.5,549.8 205.0,549.4 206.5,549.1 208.0,548.8 209.5,548.3 211.0,547.8 212.5,547.1 214.0,546.6 215.5,545.4 217.0,544.1 218.5,543.9 220.0,543.0 221.5,542.1 223.0,541.3 224.6,540.7 226.1,540.0 227.6,539.2 229.1,538.9 230.6,537.6 232.1,537.0 233.6,536.5 235.1,535.9 236.6,535.1 238.1,535.6 239.6,534.5 241.1,534.2 242.6,534.0 244.1,532.9 245.6,533.2 247.1,532.1 248.7,531.6 250.2,530.9 251.7,531.1 253.2,531.1 254.7,530.4 256.2,530.1 257.7,530.2 259.2,529.2 260.7,528.2 262.2,527.9 263.7,526.6 265.2,526.5 266.7,526.3 268.2,526.6 269.7,525.9 271.2,526.2 272.7,525.6 274.3,524.1 275.8,523.9 277.3,523.0 278.8,522.7 280.3,522.4 281.8,523.2 283.3,522.4 284.8,522.8 286.3,523.2 287.8,522.7 289.3,522.6 290.8,522.9 292.3,521.5 293.8,520.9 295.3,521.6 296.8,521.0 298.3,521.8 299.9,520.5 301.4,520.7 302.9,519.6 304.4,519.7 305.9,519.4 307.4,519.3 308.9,518.7 310.4,518.5 311.9,517.4 313.4,518.3 314.9,518.8 316.4,517.8 317.9,517.6 319.4,516.6 320.9,517.8 322.4,516.9 323.9,517.3 325.5,516.5 327.0,516.3 328.5,515.6 330.0,515.6 331.5,514.3 333.0,513.6 334.5,513.2 336.0,512.1 337.5,512.4 339.0,512.2 340.5,511.7 342.0,509.9 343.5,509.3 345.0,507.8 346.5,506.4 348.0,505.4 349.6,504.6 351.1,504.0 352.6,501.8 354.1,502.0 355.6,499.9 357.1,501.4 358.6,501.6 360.1,495.8 361.6,495.4 363.1,493.9 364.6,494.5 366.1,494.4 367.6,494.1 369.1,492.2 370.6,492.7 372.1,492.3 373.6,494.7 375.2,494.1 376.7,493.3 378.2,488.6 379.7,485.2 381.2,489.5 382.7,492.1 384.2,491.4 385.7,488.8 387.2,481.5 388.7,483.5 390.2,485.2 391.7,483.6 393.2,479.9 394.7,476.5 396.2,467.5 397.7,465.5 399.2,470.5 400.8,474.4 402.3,474.0 403.8,472.0 405.3,473.2"/>
<path d="M60.4,564.0 61.9,564.0 63.4,564.0 64.9,563.8 66.4,563.6 67.9,563.5 69.4,563.3 70.9,563.0 72.4,562.7 74.0,562.2 75.5,561.9 77.0,561.8 78.5,561.5 80.0,561.1 81.5,560.6 83.0,560.1 84.5,559.2 86.0,558.4 87.5,557.8 89.0,556.8 90.5,555.7 92.0,554.7 93.5,553.4 95.0,552.9 96.5,552.1 98.0,550.9 99.6,550.0 101.1,549.0 102.6,547.9 104.1,546.9 105.6,546.5 107.1,545.1 108.6,544.3 110.1,544.0 111.6,543.5 113.1,543.3 114.6,543.0 116.1,542.1 117.6,541.4 119.1,540.9 120.6,540.5 122.1,540.4 123.7,540.3 125.2,539.7 126.7,539.4 128.2,540.6 129.7,540.4 131.2,540.1 132.7,540.1 134.2,539.7 135.7,539.4 137.2,539.6 138.7,539.5 140.2,539.9 141.7,540.0 143.2,540.1 144.7,540.3 146.2,541.2 147.7,541.8 149.3,541.8 150.8,542.1 152.3,543.0 153.8,543.4 155.3,542.0 156.8,542.6 158.3,542.6 159.8,543.2 161.3,543.1 162.8,543.5 164.3,543.6 165.8,543.3 167.3,543.3 168.8,543.1 170.3,543.2 171.8,543.7 173.3,543.6 174.9,543.6 176.4,545.3 177.9,545.2 179.4,545.6 180.9,545.5 182.4,545.4 183.9,546.1 185.4,546.6 186.9,546.9 188.4,547.4 189.9,547.6 191.4,547.7 192.9,546.7 194.4,547.3 195.9,547.5 197.4,547.4 199.0,547.6 200.5,547.7 202.0,548.0 203.5,548.2 205.0,547.6 206.5,547.2 208.0,546.9 209.5,546.0 211.0,545.5 212.5,545.0 214.0,545.9 215.5,545.3 217.0,544.8 218.5,544.1 220.0,543.6 221.5,543.1 223.0,542.0 224.6,541.3 226.1,541.1 227.6,540.5 229.1,540.4 230.6,540.6 232.1,540.3 233.6,538.3 235.1,537.6 236.6,536.8 238.1,536.6 239.6,536.7 241.1,536.7 242.6,536.1 244.1,536.5 245.6,536.1 247.1,536.1 248.7,535.9 250.2,535.8 251.7,535.3 253.2,535.4 254.7,537.2 256.2,536.7 257.7,537.1 259.2,537.0 260.7,537.0 262.2,536.8 263.7,537.3 265.2,536.9 266.7,538.1 268.2,537.2 269.7,537.6 271.2,537.6 272.7,537.5 274.3,537.4 275.8,537.2 277.3,538.1 278.8,538.0 280.3,538.1 281.8,537.9 283.3,538.1 284.8,538.4 286.3,539.0 287.8,537.7 289.3,538.2 290.8,538.9 292.3,538.9 293.8,539.3 295.3,539.2 296.8,539.6 298.3,538.5 299.9,538.7 301.4,539.2 302.9,539.5 304.4,538.9 305.9,538.6 307.4,538.4 308.9,538.6 310.4,538.8 311.9,538.2 313.4,538.4 314.9,538.3 316.4,539.4 317.9,539.4 319.4,540.2 320.9,540.8 322.4,540.6 323.9,540.7 325.5,541.1 327.0,541.5 328.5,542.0 330.0,542.2 331.5,541.8 333.0,542.2 334.5,541.8 336.0,541.2 337.5,540.6 339.0,540.6 340.5,540.2 342.0,539.6 343.5,539.2 345.0,539.0 346.5,539.4 348.0,538.6 349.6,537.4 351.1,537.1 352.6,537.1 354.1,534.9 355.6,534.4 357.1,531.7 358.6,530.8 360.1,530.4 361.6,529.5 363.1,528.3 364.6,526.4 366.1,525.8 367.6,524.9 369.1,524.1 370.6,524.1 372.1,522.0 373.6,520.9 375.2,522.2 376.7,520.4 378.2,524.0 379.7,521.0 381.2,517.4 382.7,516.2 384.2,513.6 385.7,513.0 387.2,510.9 388.7,508.9 390.2,502.1 391.7,500.3 393.2,497.3 394.7,496.5 396.2,490.1 397.7,489.5 399.2,486.8 400.8,488.7 402.3,490.1 403.8,490.0 405.3,489.8"/>
<path d="M60.4,564.0 61.9,563.7 63.4,563.3 64.9,562.7 66.4,562.0 67.9,561.3 69.4,560.5 70.9,559.7 72.4,558.7 74.0,557.7 75.5,556.1 77.0,554.3 78.5,552.5 80.0,550.7 81.5,548.7 83.0,546.4 84.5,544.8 86.0,540.9 87.5,539.5 89.0,537.8 90.5,536.4 92.0,535.2 93.5,534.2 95.0,533.0 96.5,532.3 98.0,530.6 99.6,529.6 101.1,529.0 102.6,528.2 104.1,528.5 105.6,527.5 107.1,529.6 108.6,529.7 110.1,530.0 111.6,529.9 113.1,530.1 114.6,530.4 116.1,531.1 117.6,530.2 119.1,530.5 120.6,530.6 122.1,530.9 123.7,530.5 125.2,530.2 126.7,530.7 128.2,530.6 129.7,530.0 131.2,529.8 132.7,530.2 134.2,530.3 135.7,528.4 137.2,528.7 138.7,528.9 140.2,529.2 141.7,530.2 143.2,530.4 144.7,531.5 146.2,532.0 147.7,532.4 149.3,533.7 150.8,534.9 152.3,535.7 153.8,535.9 155.3,536.6 156.8,538.4 158.3,538.6 159.8,539.1 161.3,539.6 162.8,540.2 164.3,541.1 165.8,541.9 167.3,543.4 168.8,544.7 170.3,545.3 171.8,545.9 173.3,546.5 174.9,547.3 176.4,548.0 177.9,548.5 179.4,548.7 180.9,549.4 182.4,549.9 183.9,550.2 185.4,550.5 186.9,551.0 188.4,550.7 189.9,550.9 191.4,551.1 192.9,551.6 194.4,551.6 195.9,551.6 197.4,552.0 199.0,551.9 200.5,552.0 202.0,551.9 203.5,552.2 205.0,552.1 206.5,551.5 208.0,550.4 209.5,550.3 211.0,550.0 212.5,550.0 214.0,549.3 215.5,548.9 217.0,548.9 218.5,548.3 220.0,548.1 221.5,547.3 223.0,547.0 224.6,546.1 226.1,546.0 227.6,545.7 229.1,546.3 230.6,545.9 232.1,546.1 233.6,545.5 235.1,545.5 236.6,545.0 238.1,544.2 239.6,543.7 241.1,543.6 242.6,544.3 244.1,544.5 245.6,544.0 247.1,544.2 248.7,544.4 250.2,544.9 251.7,545.4 253.2,545.3 254.7,545.1 256.2,545.0 257.7,545.3 259.2,545.4 260.7,545.8 262.2,545.8 263.7,545.6 265.2,545.4 266.7,545.9 268.2,545.8 269.7,545.2 271.2,545.1 272.7,544.8 274.3,544.5 275.8,544.9 277.3,545.5 278.8,545.4 280.3,545.5 281.8,545.6 283.3,545.6 284.8,545.4 286.3,545.4 287.8,545.3 289.3,545.6 290.8,546.4 292.3,546.5 293.8,546.6 295.3,547.1 296.8,547.2 298.3,546.8 299.9,546.8 301.4,546.8 302.9,546.6 304.4,547.0 305.9,547.3 307.4,547.0 308.9,547.2 310.4,547.5 311.9,547.5 313.4,547.5 314.9,547.3 316.4,547.4 317.9,547.2 319.4,547.0 320.9,547.0 322.4,546.9 323.9,547.1 325.5,547.3 327.0,547.6 328.5,547.4 330.0,547.1 331.5,546.9 333.0,546.6 334.5,547.2 336.0,547.6 337.5,547.1 339.0,547.1 340.5,547.1 342.0,547.1 343.5,546.3 345.0,545.9 346.5,545.3 348.0,545.0 349.6,544.9 351.1,544.7 352.6,543.8 354.1,542.7 355.6,540.6 357.1,537.0 358.6,537.0 360.1,536.2 361.6,535.0 363.1,534.1 364.6,532.5 366.1,530.5 367.6,529.5 369.1,528.3 370.6,527.3 372.1,525.7 373.6,525.1 375.2,524.4 376.7,524.3 378.2,525.7 379.7,519.4 381.2,514.7 382.7,513.8 384.2,511.7 385.7,512.9 387.2,512.7 388.7,509.5 390.2,504.8 391.7,499.4 393.2,496.5 394.7,492.8 396.2,490.2 397.7,484.8 399.2,483.3 400.8,484.2 402.3,484.8 403.8,483.5 405.3,475.7"/>
<path d="M60.4,564.0 61.9,563.9 63.4,564.0 64.9,563.8 66.4,563.8 67.9,563.9 69.4,563.7 70.9,563.6 72.4,563.3 74.0,563.3 75.5,563.1 77.0,563.0 78.5,562.7 80.0,562.5 81.5,562.3 83.0,561.7 84.5,561.1 86.0,560.6 87.5,560.1 89.0,559.4 90.5,558.5 92.0,557.5 93.5,556.7 95.0,556.0 96.5,555.1 98.0,554.5 99.6,553.6 101.1,552.6 102.6,551.8 104.1,551.1 105.6,550.5 107.1,549.9 108.6,549.3 110.1,548.7 111.6,548.0 113.1,546.8 114.6,544.7 116.1,544.2 117.6,543.4 119.1,542.6 120.6,541.9 122.1,540.8 123.7,540.0 125.2,538.8 126.7,537.6 128.2,536.7 129.7,535.6 131.2,534.6 132.7,534.1 134.2,533.2 135.7,533.5 137.2,531.4 138.7,530.7 140.2,528.6 141.7,526.8 143.2,525.9 144.7,525.9 146.2,525.8 147.7,525.3 149.3,525.1 150.8,525.2 152.3,526.4 153.8,526.9 155.3,526.9 156.8,528.0 158.3,529.1 159.8,529.1 161.3,530.3 162.8,531.2 164.3,531.7 165.8,531.5 167.3,532.2 168.8,533.3 170.3,533.4 171.8,533.7 173.3,533.6 174.9,533.7 176.4,535.2 177.9,535.6 179.4,535.5 180.9,536.2 182.4,537.5 183.9,538.3 185.4,538.6 186.9,539.4 188.4,540.2 189.9,540.4 191.4,541.2 192.9,541.7 194.4,541.9 195.9,542.3 197.4,542.3 199.0,542.1 200.5,542.5 202.0,542.5 203.5,542.2 205.0,542.8 206.5,543.0 208.0,542.8 209.5,542.6 211.0,540.8 212.5,540.4 214.0,539.8 215.5,539.8 217.0,539.3 218.5,539.2 220.0,539.1 221.5,538.6 223.0,537.7 224.6,537.3 226.1,535.8 227.6,535.3 229.1,534.5 230.6,533.5 232.1,535.8 233.6,535.9 235.1,536.1 236.6,535.9 238.1,536.2 239.6,535.4 241.1,535.1 242.6,535.3 244.1,535.5 245.6,535.4 247.1,535.6 248.7,535.9 250.2,536.1 251.7,536.7 253.2,536.5 254.7,535.6 256.2,535.5 257.7,535.1 259.2,535.0 260.7,535.2 262.2,535.5 263.7,535.4 265.2,536.4 266.7,537.3 268.2,537.7 269.7,538.0 271.2,538.2 272.7,538.2 274.3,538.5 275.8,539.0 277.3,539.2 278.8,539.7 280.3,539.9 281.8,539.9 283.3,539.7 284.8,540.1 286.3,540.2 287.8,540.1 289.3,540.7 290.8,540.9 292.3,541.1 293.8,541.6 295.3,541.5 296.8,541.9 298.3,542.5 299.9,542.6 301.4,542.5 302.9,543.1 304.4,543.5 305.9,543.6 307.4,543.8 308.9,543.9 310.4,544.6 311.9,545.1 313.4,545.4 314.9,545.6 316.4,546.5 317.9,546.9 319.4,547.2 320.9,547.8 322.4,548.2 323.9,548.6 325.5,548.8 327.0,549.0 328.5,549.2 330.0,549.6 331.5,549.1 333.0,549.2 334.5,549.7 336.0,549.3 337.5,549.1 339.0,549.1 340.5,548.5 342.0,548.0 343.5,547.2 345.0,545.7 346.5,544.9 348.0,543.5 349.6,541.4 351.1,538.9 352.6,536.8 354.1,535.2 355.6,531.8 357.1,529.5 358.6,527.6 360.1,524.5 361.6,521.2 363.1,516.6 364.6,512.1 366.1,510.5 367.6,506.7 369.1,504.1 370.6,501.5 372.1,499.8 373.6,498.1 375.2,496.2 376.7,495.7 378.2,495.6 379.7,490.7 381.2,488.5 382.7,488.8 384.2,489.9 385.7,493.6 387.2,492.7 388.7,494.9 390.2,494.5 391.7,497.4 393.2,491.9 394.7,492.1 396.2,483.8 397.7,478.0 399.2,473.1 400.8,466.7 402.3,466.8 403.8,463.4 405.3,451.8"/>
<path d="M60.4,563.9 61.9,563.7 63.4,563.6 64.9,563.4 66.4,563.2 67.9,562.9 69.4,562.9 70.9,562.6 72.4,562.5 74.0,562.2 75.5,562.2 77.0,561.8 78.5,561.5 80.0,561.3 81.5,561.0 83.0,560.9 84.5,560.4 86.0,560.0 87.5,559.7 89.0,559.2 90.5,559.0 92.0,559.0 93.5,558.9 95.0,558.9 96.5,559.1 98.0,559.2 99.6,559.4 101.1,559.4 102.6,559.6 104.1,559.9 105.6,560.1 107.1,560.2 108.6,560.4 110.1,560.6 111.6,560.8 113.1,560.9 114.6,561.2 116.1,561.1 117.6,561.2 119.1,561.6 120.6,561.7 122.1,561.8 123.7,561.9 125.2,561.9 126.7,562.3 128.2,562.4 129.7,562.4 131.2,562.4 132.7,562.6 134.2,562.7 135.7,562.5 137.2,562.7 138.7,562.9 140.2,562.9 141.7,562.8 143.2,563.0 144.7,563.1 146.2,563.1 147.7,563.2 149.3,563.2 150.8,563.2 152.3,563.1 153.8,563.2 155.3,563.1 156.8,563.1 158.3,563.2 159.8,563.1 161.3,563.1 162.8,563.1 164.3,563.0 165.8,562.9 167.3,563.0 168.8,562.9 170.3,563.0 171.8,562.8 173.3,562.8 174.9,562.6 176.4,562.6 177.9,562.5 179.4,562.3 180.9,562.3 182.4,562.1 183.9,562.2 185.4,561.9 186.9,561.9 188.4,561.7 189.9,561.6 191.4,561.5 192.9,561.6 194.4,561.3 195.9,561.2 197.4,560.9 199.0,560.8 200.5,560.6 202.0,560.4 203.5,560.3 205.0,560.1 206.5,559.7 208.0,559.4 209.5,559.1 211.0,559.1 212.5,558.6 214.0,558.5 215.5,558.1 217.0,557.8 218.5,558.0 220.0,557.7 221.5,557.4 223.0,557.1 224.6,557.0 226.1,556.7 227.6,556.6 229.1,556.3 230.6,555.8 232.1,555.3 233.6,554.8 235.1,554.5 236.6,554.2 238.1,554.0 239.6,553.3 241.1,552.8 242.6,552.3 244.1,552.0 245.6,551.4 247.1,550.9 248.7,550.1 250.2,549.6 251.7,548.8 253.2,548.5 254.7,547.4 256.2,546.8 257.7,545.5 259.2,544.1 260.7,543.6 262.2,543.3 263.7,542.4 265.2,541.5 266.7,540.5 268.2,539.3 269.7,539.1 271.2,538.3 272.7,537.4 274.3,536.0 275.8,535.4 277.3,535.4 278.8,535.2 280.3,534.7 281.8,534.4 283.3,533.4 284.8,533.3 286.3,533.1 287.8,533.2 289.3,533.2 290.8,532.4 292.3,531.9 293.8,532.8 295.3,533.0 296.8,533.2 298.3,532.5 299.9,532.4 301.4,532.8 302.9,532.5 304.4,532.8 305.9,533.0 307.4,533.1 308.9,532.9 310.4,533.4 311.9,533.6 313.4,533.9 314.9,533.7 316.4,533.9 317.9,534.9 319.4,534.5 320.9,534.8 322.4,534.8 323.9,535.9 325.5,535.8 327.0,536.0 328.5,535.5 330.0,535.8 331.5,536.4 333.0,536.4 334.5,536.1 336.0,534.9 337.5,535.9 339.0,535.1 340.5,535.4 342.0,535.3 343.5,535.1 345.0,533.5 346.5,533.2 348.0,532.0 349.6,529.3 351.1,528.5 352.6,528.0 354.1,526.7 355.6,526.1 357.1,526.8 358.6,524.8 360.1,523.8 361.6,522.5 363.1,522.5 364.6,520.9 366.1,519.6 367.6,519.2 369.1,517.6 370.6,519.9 372.1,518.8 373.6,515.3 375.2,514.5 376.7,513.2 378.2,510.1 379.7,508.2 381.2,506.3 382.7,503.0 384.2,500.4 385.7,499.3 387.2,496.3 388.7,493.0 390.2,490.3 391.7,487.6 393.2,481.7 394.7,481.2 396.2,479.1 397.7,474.6 399.2,474.3 400.8,473.3 402.3,471.3 403.8,474.8 405.3,477.3"/>
<path d="M60.4,564.0 61.9,563.9 63.4,563.7 64.9,563.6 66.4,563.4 67.9,563.2 69.4,563.1 70.9,562.9 72.4,562.6 74.0,562.3 75.5,562.2 77.0,562.1 78.5,562.0 80.0,561.8 81.5,561.3 83.0,561.1 84.5,560.7 86.0,560.3 87.5,560.0 89.0,559.9 90.5,559.7 92.0,559.4 93.5,559.2 95.0,559.5 96.5,559.6 98.0,559.4 99.6,559.6 101.1,559.7 102.6,559.8 104.1,559.9 105.6,560.0 107.1,560.2 108.6,560.4 110.1,560.6 111.6,560.7 113.1,560.9 114.6,560.9 116.1,561.2 117.6,561.5 119.1,561.6 120.6,561.8 122.1,562.1 123.7,562.1 125.2,562.3 126.7,562.5 128.2,562.6 129.7,562.6 131.2,562.7 132.7,562.8 134.2,563.0 135.7,563.0 137.2,563.0 138.7,563.3 140.2,563.2 141.7,563.2 143.2,563.3 144.7,563.3 146.2,563.3 147.7,563.4 149.3,563.5 150.8,563.5 152.3,563.5 153.8,563.5 155.3,563.4 156.8,563.6 158.3,563.4 159.8,563.6 161.3,563.3 162.8,563.5 164.3,563.5 165.8,563.6 167.3,563.4 168.8,563.4 170.3,563.5 171.8,563.6 173.3,563.3 174.9,563.3 176.4,563.3 177.9,563.4 179.4,563.4 180.9,563.4 182.4,563.3 183.9,563.2 185.4,563.3 186.9,563.2 188.4,563.2 189.9,563.1 191.4,563.1 192.9,563.3 194.4,563.2 195.9,563.1 197.4,563.1 199.0,563.1 200.5,563.1 202.0,562.9 203.5,563.1 205.0,563.0 206.5,562.9 208.0,562.9 209.5,562.9 211.0,562.9 212.5,562.7 214.0,562.8 215.5,562.8 217.0,562.7 218.5,562.7 220.0,562.5 221.5,562.4 223.0,562.6 224.6,562.4 226.1,562.5 227.6,562.4 229.1,562.2 230.6,562.2 232.1,562.1 233.6,562.0 235.1,562.0 236.6,561.9 238.1,561.9 239.6,561.7 241.1,561.4 242.6,561.5 244.1,561.4 245.6,560.9 247.1,560.6 248.7,560.1 250.2,559.2 251.7,558.4 253.2,557.1 254.7,556.2 256.2,554.9 257.7,553.3 259.2,551.8 260.7,550.2 262.2,548.1 263.7,545.3 265.2,543.7 266.7,542.4 268.2,540.8 269.7,538.5 271.2,536.0 272.7,534.3 274.3,532.5 275.8,530.8 277.3,529.1 278.8,528.0 280.3,527.1 281.8,524.9 283.3,524.6 284.8,525.9 286.3,524.7 287.8,522.9 289.3,521.5 290.8,520.9 292.3,520.4 293.8,520.0 295.3,520.5 296.8,518.8 298.3,519.5 299.9,519.2 301.4,519.0 302.9,520.1 304.4,518.3 305.9,518.0 307.4,517.0 308.9,517.6 310.4,518.0 311.9,517.4 313.4,516.9 314.9,517.1 316.4,516.1 317.9,517.8 319.4,517.5 320.9,518.3 322.4,518.8 323.9,518.5 325.5,520.3 327.0,521.8 328.5,523.6 330.0,524.5 331.5,524.7 333.0,526.5 334.5,528.1 336.0,529.3 337.5,530.1 339.0,530.1 340.5,527.8 342.0,526.6 343.5,526.8 345.0,527.7 346.5,528.8 348.0,528.8 349.6,529.2 351.1,529.6 352.6,529.8 354.1,530.2 355.6,530.8 357.1,530.7 358.6,532.1 360.1,533.0 361.6,535.9 363.1,537.8 364.6,538.6 366.1,539.1 367.6,539.5 369.1,539.5 370.6,540.0 372.1,541.2 373.6,542.9 375.2,543.7 376.7,544.0 378.2,544.5 379.7,544.1 381.2,544.8 382.7,545.8 384.2,545.4 385.7,545.9 387.2,545.6 388.7,545.4 390.2,546.4 391.7,546.6 393.2,546.2 394.7,546.7 396.2,546.9 397.7,547.6 399.2,548.1 400.8,548.9 402.3,549.6 403.8,549.2 405.3,549.8"/>
<path d="M60.4,564.0 61.9,564.0 63.4,564.0 64.9,564.0 66.4,563.8 67.9,563.6 69.4,563.3 70.9,563.3 72.4,562.9 74.0,562.8 75.5,562.5 77.0,562.2 78.5,562.0 80.0,561.8 81.5,561.6 83.0,561.0 84.5,560.5 86.0,560.2 87.5,559.6 89.0,559.4 90.5,558.8 92.0,558.2 93.5,557.5 95.0,557.0 96.5,556.4 98.0,555.9 99.6,555.2 101.1,554.5 102.6,553.7 104.1,553.2 105.6,552.3 107.1,551.4 108.6,550.6 110.1,549.6 111.6,548.8 113.1,547.1 114.6,546.3 116.1,544.4 117.6,543.0 119.1,541.2 120.6,539.1 122.1,537.8 123.7,536.3 125.2,535.1 126.7,533.5 128.2,532.0 129.7,530.3 131.2,529.5 132.7,527.9 134.2,527.4 135.7,527.2 137.2,526.0 138.7,525.4 140.2,524.7 141.7,524.7 143.2,524.0 144.7,523.3 146.2,522.2 147.7,520.9 149.3,520.8 150.8,521.7 152.3,520.9 153.8,521.3 155.3,522.0 156.8,520.4 158.3,520.9 159.8,520.7 161.3,520.3 162.8,520.1 164.3,519.1 165.8,520.3 167.3,520.2 168.8,520.6 170.3,520.4 171.8,520.6 173.3,521.8 174.9,522.2 176.4,522.3 177.9,523.7 179.4,524.7 180.9,524.9 182.4,526.4 183.9,528.3 185.4,530.5 186.9,531.0 188.4,532.5 189.9,533.6 191.4,534.7 192.9,535.0 194.4,535.7 195.9,536.5 197.4,537.3 199.0,537.7 200.5,537.8 202.0,538.3 203.5,537.7 205.0,537.3 206.5,536.6 208.0,536.6 209.5,536.9 211.0,537.2 212.5,536.7 214.0,537.2 215.5,537.3 217.0,537.4 218.5,537.5 220.0,537.4 221.5,537.6 223.0,538.0 224.6,538.5 226.1,538.8 227.6,539.2 229.1,539.6 230.6,539.5 232.1,539.6 233.6,540.6 235.1,540.6 236.6,540.7 238.1,540.6 239.6,540.9 241.1,540.7 242.6,540.5 244.1,540.3 245.6,539.9 247.1,540.1 248.7,540.2 250.2,538.9 251.7,538.4 253.2,538.1 254.7,537.7 256.2,537.0 257.7,536.1 259.2,535.7 260.7,535.2 262.2,534.8 263.7,534.6 265.2,534.6 266.7,534.4 268.2,533.7 269.7,532.6 271.2,532.8 272.7,533.1 274.3,532.0 275.8,532.3 277.3,532.3 278.8,532.3 280.3,531.7 281.8,531.1 283.3,531.1 284.8,530.3 286.3,529.5 287.8,529.1 289.3,529.0 290.8,528.6 292.3,528.5 293.8,528.3 295.3,528.2 296.8,527.6 298.3,528.5 299.9,528.1 301.4,528.9 302.9,528.6 304.4,529.1 305.9,530.0 307.4,529.9 308.9,530.1 310.4,529.7 311.9,530.5 313.4,530.2 314.9,530.5 316.4,531.0 317.9,530.0 319.4,529.4 320.9,530.1 322.4,529.7 323.9,531.1 325.5,530.5 327.0,529.9 328.5,527.9 330.0,527.7 331.5,528.2 333.0,528.5 334.5,529.5 336.0,529.8 337.5,529.4 339.0,530.5 340.5,530.8 342.0,530.2 343.5,528.4 345.0,527.8 346.5,527.7 348.0,528.2 349.6,529.9 351.1,529.1 352.6,529.4 354.1,528.6 355.6,528.6 357.1,528.1 358.6,528.2 360.1,527.4 361.6,525.3 363.1,526.7 364.6,528.3 366.1,527.9 367.6,528.6 369.1,527.6 370.6,527.6 372.1,528.5 373.6,528.6 375.2,528.3 376.7,526.6 378.2,526.7 379.7,527.8 381.2,529.0 382.7,530.0 384.2,528.3 385.7,527.6 387.2,527.0 388.7,526.3 390.2,527.0 391.7,526.2 393.2,525.7 394.7,525.4 396.2,525.1 397.7,526.1 399.2,525.3 400.8,521.7 402.3,521.7 403.8,523.1 405.3,523.5"/>
<path d="M60.4,561.1 61.9,560.4 63.4,559.9 64.9,559.1 66.4,558.7 67.9,558.1 69.4,557.5 70.9,556.6 72.4,556.0 74.0,555.1 75.5,554.4 77.0,553.6 78.5,552.8 80.0,551.7 81.5,550.4 83.0,549.1 84.5,547.9 86.0,546.9 87.5,545.7 89.0,545.2 90.5,544.7 92.0,544.8 93.5,545.3 95.0,545.7 96.5,545.8 98.0,546.4 99.6,546.8 101.1,547.0 102.6,547.6 104.1,548.3 105.6,548.6 107.1,549.2 108.6,549.6 110.1,549.8 111.6,550.0 113.1,550.2 114.6,550.2 116.1,550.6 117.6,550.9 119.1,551.0 120.6,551.3 122.1,551.9 123.7,551.9 125.2,552.5 126.7,552.8 128.2,553.4 129.7,553.4 131.2,553.6 132.7,554.0 134.2,554.1 135.7,554.4 137.2,554.8 138.7,554.9 140.2,555.3 141.7,555.4 143.2,555.4 144.7,555.2 146.2,555.2 147.7,555.1 149.3,554.9 150.8,554.9 152.3,555.1 153.8,555.0 155.3,555.2 156.8,555.2 158.3,555.1 159.8,554.9 161.3,554.9 162.8,554.9 164.3,554.7 165.8,554.8 167.3,554.5 168.8,554.3 170.3,554.1 171.8,554.1 173.3,553.8 174.9,553.7 176.4,553.2 177.9,553.0 179.4,552.6 180.9,552.5 182.4,552.1 183.9,552.0 185.4,551.9 186.9,551.5 188.4,551.1 189.9,551.1 191.4,550.6 192.9,550.3 194.4,550.0 195.9,549.7 197.4,549.7 199.0,549.1 200.5,548.9 202.0,548.0 203.5,548.0 205.0,547.3 206.5,546.8 208.0,546.3 209.5,545.7 211.0,545.2 212.5,544.6 214.0,543.8 215.5,543.2 217.0,543.0 218.5,541.0 220.0,540.7 221.5,540.0 223.0,540.0 224.6,539.1 226.1,538.6 227.6,538.5 229.1,537.8 230.6,537.5 232.1,537.4 233.6,537.0 235.1,536.8 236.6,536.3 238.1,535.5 239.6,536.9 241.1,536.4 242.6,535.8 244.1,536.0 245.6,536.3 247.1,536.5 248.7,536.7 250.2,537.2 251.7,537.6 253.2,537.9 254.7,538.0 256.2,537.8 257.7,536.4 259.2,536.3 260.7,536.8 262.2,537.5 263.7,537.4 265.2,535.4 266.7,534.7 268.2,534.5 269.7,534.5 271.2,533.9 272.7,534.5 274.3,534.5 275.8,534.6 277.3,534.9 278.8,536.4 280.3,537.0 281.8,537.1 283.3,537.0 284.8,537.5 286.3,537.5 287.8,538.3 289.3,539.0 290.8,539.5 292.3,540.0 293.8,539.9 295.3,539.8 296.8,540.2 298.3,540.0 299.9,540.1 301.4,540.3 302.9,541.0 304.4,541.4 305.9,541.7 307.4,543.2 308.9,543.3 310.4,542.8 311.9,542.7 313.4,543.0 314.9,543.2 316.4,543.4 317.9,543.5 319.4,543.9 320.9,543.8 322.4,544.0 323.9,543.8 325.5,543.5 327.0,543.7 328.5,544.1 330.0,544.3 331.5,544.4 333.0,544.5 334.5,544.6 336.0,544.9 337.5,545.0 339.0,543.5 340.5,543.5 342.0,543.1 343.5,541.3 345.0,541.0 346.5,540.5 348.0,540.4 349.6,540.2 351.1,539.3 352.6,539.1 354.1,539.1 355.6,539.1 357.1,538.2 358.6,537.5 360.1,538.9 361.6,537.9 363.1,537.9 364.6,539.4 366.1,539.3 367.6,538.7 369.1,537.8 370.6,538.0 372.1,538.3 373.6,537.7 375.2,537.0 376.7,536.0 378.2,536.1 379.7,536.8 381.2,536.5 382.7,534.9 384.2,534.6 385.7,534.7 387.2,534.2 388.7,534.6 390.2,534.4 391.7,532.7 393.2,533.3 394.7,533.6 396.2,532.9 397.7,531.2 399.2,530.4 400.8,529.2 402.3,529.0 403.8,531.4 405.3,531.2"/>
<path d="M60.4,563.6 61.9,563.5 63.4,563.1 64.9,563.0 66.4,562.6 67.9,562.4 69.4,562.0 70.9,561.8 72.4,561.6 74.0,561.4 75.5,561.1 77.0,560.8 78.5,560.6 80.0,560.6 81.5,560.1 83.0,559.8 84.5,559.8 86.0,559.4 87.5,559.3 89.0,559.1 90.5,559.0 92.0,558.8 93.5,558.7 95.0,558.7 96.5,558.4 98.0,558.4 99.6,558.4 101.1,558.3 102.6,558.3 104.1,558.4 105.6,558.5 107.1,558.6 108.6,558.5 110.1,558.2 111.6,558.1 113.1,558.1 114.6,558.3 116.1,558.3 117.6,558.4 119.1,558.5 120.6,558.5 122.1,558.7 123.7,558.7 125.2,558.7 126.7,558.9 128.2,558.9 129.7,559.1 131.2,559.5 132.7,559.6 134.2,559.5 135.7,559.8 137.2,560.0 138.7,560.1 140.2,560.1 141.7,560.2 143.2,560.3 144.7,560.4 146.2,560.6 147.7,560.6 149.3,560.7 150.8,560.6 152.3,560.6 153.8,560.7 155.3,560.6 156.8,560.4 158.3,560.3 159.8,560.3 161.3,560.1 162.8,559.8 164.3,559.8 165.8,559.6 167.3,559.2 168.8,559.2 170.3,558.8 171.8,558.7 173.3,558.3 174.9,558.3 176.4,558.3 177.9,558.2 179.4,557.8 180.9,557.6 182.4,557.4 183.9,557.2 185.4,556.8 186.9,556.6 188.4,556.7 189.9,556.5 191.4,556.0 192.9,555.5 194.4,555.6 195.9,555.1 197.4,554.8 199.0,554.5 200.5,554.2 202.0,553.9 203.5,553.3 205.0,553.4 206.5,553.0 208.0,552.8 209.5,552.6 211.0,552.5 212.5,552.4 214.0,552.1 215.5,552.0 217.0,551.9 218.5,551.7 220.0,551.5 221.5,551.4 223.0,551.5 224.6,551.3 226.1,550.8 227.6,549.1 229.1,549.2 230.6,548.2 232.1,547.7 233.6,547.4 235.1,547.3 236.6,547.1 238.1,546.7 239.6,546.0 241.1,545.6 242.6,545.4 244.1,545.0 245.6,545.1 247.1,545.2 248.7,546.9 250.2,546.3 251.7,546.4 253.2,546.2 254.7,545.6 256.2,545.2 257.7,544.8 259.2,544.7 260.7,544.8 262.2,545.0 263.7,545.0 265.2,545.0 266.7,545.0 268.2,544.7 269.7,544.7 271.2,545.0 272.7,544.8 274.3,545.0 275.8,545.2 277.3,544.9 278.8,544.9 280.3,544.8 281.8,544.6 283.3,544.7 284.8,544.8 286.3,544.7 287.8,545.1 289.3,545.4 290.8,545.0 292.3,545.0 293.8,545.2 295.3,545.1 296.8,545.5 298.3,545.9 299.9,546.2 301.4,546.1 302.9,546.7 304.4,546.5 305.9,546.5 307.4,546.4 308.9,546.5 310.4,546.3 311.9,546.4 313.4,546.4 314.9,545.9 316.4,545.9 317.9,545.7 319.4,545.7 320.9,545.1 322.4,545.4 323.9,545.2 325.5,544.8 327.0,544.6 328.5,544.9 330.0,544.7 331.5,545.0 333.0,545.1 334.5,545.0 336.0,545.0 337.5,545.0 339.0,544.9 340.5,544.7 342.0,544.5 343.5,544.1 345.0,544.1 346.5,544.1 348.0,543.7 349.6,542.4 351.1,542.5 352.6,541.9 354.1,541.6 355.6,541.4 357.1,541.1 358.6,540.9 360.1,540.4 361.6,539.8 363.1,539.9 364.6,539.2 366.1,538.8 367.6,538.7 369.1,538.8 370.6,539.9 372.1,539.7 373.6,539.2 375.2,537.8 376.7,537.3 378.2,537.2 379.7,536.8 381.2,536.6 382.7,536.4 384.2,536.1 385.7,537.1 387.2,538.5 388.7,537.7 390.2,538.0 391.7,536.6 393.2,536.6 394.7,536.8 396.2,537.2 397.7,537.4 399.2,538.1 400.8,538.6 402.3,539.1 403.8,538.9 405.3,538.5"/>
<path d="M60.4,564.0 61.9,564.0 63.4,563.9 64.9,563.7 66.4,563.6 67.9,563.4 69.4,563.1 70.9,563.0 72.4,562.6 74.0,562.3 75.5,561.9 77.0,561.7 78.5,561.4 80.0,561.0 81.5,560.4 83.0,559.7 84.5,559.2 86.0,558.7 87.5,557.8 89.0,557.1 90.5,556.4 92.0,555.5 93.5,554.9 95.0,554.0 96.5,553.2 98.0,551.6 99.6,550.7 101.1,549.9 102.6,549.2 104.1,548.9 105.6,547.8 107.1,546.8 108.6,546.0 110.1,545.2 111.6,544.8 113.1,544.6 114.6,544.2 116.1,543.3 117.6,542.3 119.1,543.3 120.6,543.1 122.1,542.5 123.7,541.9 125.2,541.5 126.7,541.0 128.2,540.8 129.7,541.4 131.2,541.0 132.7,540.7 134.2,539.5 135.7,539.0 137.2,539.6 138.7,539.7 140.2,539.8 141.7,539.7 143.2,539.9 144.7,539.9 146.2,539.7 147.7,539.9 149.3,540.3 150.8,540.2 152.3,540.8 153.8,541.4 155.3,542.3 156.8,542.4 158.3,542.6 159.8,543.4 161.3,543.7 162.8,544.2 164.3,544.8 165.8,545.3 167.3,545.7 168.8,546.6 170.3,546.9 171.8,547.1 173.3,546.5 174.9,546.8 176.4,547.1 177.9,547.6 179.4,547.9 180.9,548.5 182.4,548.7 183.9,549.4 185.4,549.9 186.9,550.7 188.4,551.3 189.9,551.7 191.4,552.1 192.9,552.7 194.4,554.0 195.9,554.3 197.4,554.5 199.0,554.9 200.5,555.1 202.0,555.6 203.5,555.8 205.0,555.8 206.5,556.5 208.0,556.5 209.5,556.6 211.0,556.6 212.5,557.1 214.0,557.3 215.5,557.5 217.0,557.7 218.5,558.3 220.0,558.3 221.5,558.6 223.0,558.9 224.6,559.0 226.1,559.0 227.6,559.2 229.1,559.3 230.6,559.5 232.1,559.7 233.6,559.8 235.1,560.1 236.6,559.9 238.1,560.1 239.6,560.0 241.1,560.1 242.6,560.2 244.1,560.2 245.6,560.3 247.1,560.4 248.7,560.3 250.2,560.3 251.7,560.3 253.2,560.5 254.7,560.4 256.2,560.3 257.7,560.2 259.2,560.1 260.7,560.1 262.2,560.3 263.7,560.3 265.2,560.2 266.7,560.2 268.2,560.1 269.7,560.1 271.2,560.1 272.7,560.0 274.3,560.0 275.8,559.9 277.3,559.9 278.8,559.8 280.3,559.9 281.8,559.9 283.3,559.6 284.8,559.6 286.3,559.6 287.8,559.6 289.3,559.8 290.8,559.5 292.3,559.6 293.8,559.6 295.3,559.5 296.8,559.6 298.3,559.6 299.9,559.5 301.4,559.5 302.9,559.4 304.4,559.4 305.9,559.5 307.4,559.5 308.9,559.7 310.4,559.5 311.9,559.4 313.4,559.5 314.9,559.5 316.4,559.2 317.9,559.5 319.4,559.3 320.9,559.2 322.4,559.1 323.9,559.1 325.5,558.9 327.0,558.9 328.5,558.7 330.0,558.5 331.5,558.4 333.0,558.4 334.5,558.6 336.0,558.4 337.5,558.3 339.0,558.4 340.5,558.2 342.0,558.1 343.5,557.9 345.0,557.8 346.5,557.7 348.0,557.5 349.6,557.3 351.1,557.4 352.6,557.1 354.1,556.6 355.6,556.0 357.1,556.0 358.6,555.9 360.1,555.7 361.6,555.5 363.1,555.1 364.6,554.8 366.1,554.7 367.6,554.3 369.1,554.6 370.6,554.6 372.1,554.3 373.6,553.8 375.2,553.9 376.7,553.3 378.2,552.7 379.7,552.0 381.2,552.2 382.7,552.0 384.2,552.0 385.7,551.1 387.2,550.0 388.7,549.5 390.2,548.2 391.7,547.2 393.2,546.7 394.7,547.4 396.2,546.6 397.7,546.6 399.2,546.9 400.8,547.3 402.3,546.7 403.8,546.0 405.3,545.4"/>
<path d="M60.4,563.9 61.9,563.7 63.4,563.4 64.9,563.1 66.4,562.8 67.9,562.2 69.4,562.0 70.9,561.2 72.4,560.6 74.0,560.1 75.5,559.5 77.0,558.8 78.5,558.1 80.0,557.2 81.5,556.0 83.0,554.5 84.5,552.8 86.0,551.1 87.5,550.1 89.0,549.2 90.5,548.6 92.0,549.2 93.5,549.1 95.0,549.2 96.5,549.7 98.0,550.5 99.6,551.0 101.1,551.7 102.6,552.4 104.1,552.9 105.6,553.8 107.1,554.1 108.6,554.4 110.1,554.9 111.6,554.9 113.1,555.1 114.6,555.4 116.1,556.0 117.6,556.3 119.1,556.5 120.6,556.9 122.1,557.4 123.7,557.7 125.2,558.0 126.7,558.2 128.2,558.5 129.7,558.8 131.2,559.3 132.7,559.5 134.2,559.6 135.7,560.0 137.2,560.1 138.7,560.3 140.2,560.7 141.7,560.7 143.2,560.9 144.7,560.9 146.2,561.1 147.7,561.3 149.3,561.4 150.8,561.4 152.3,561.5 153.8,561.4 155.3,561.5 156.8,561.5 158.3,561.6 159.8,561.7 161.3,561.7 162.8,561.8 164.3,561.9 165.8,561.9 167.3,561.8 168.8,562.1 170.3,562.1 171.8,562.1 173.3,562.1 174.9,562.2 176.4,562.3 177.9,562.2 179.4,562.2 180.9,562.3 182.4,562.3 183.9,562.3 185.4,562.3 186.9,562.4 188.4,562.5 189.9,562.3 191.4,562.4 192.9,562.4 194.4,562.4 195.9,562.5 197.4,562.5 199.0,562.6 200.5,562.5 202.0,562.3 203.5,562.5 205.0,562.5 206.5,562.6 208.0,562.6 209.5,562.5 211.0,562.5 212.5,562.5 214.0,562.6 215.5,562.7 217.0,562.5 218.5,562.7 220.0,562.5 221.5,562.5 223.0,562.6 224.6,562.6 226.1,562.7 227.6,562.7 229.1,562.7 230.6,562.6 232.1,562.7 233.6,562.8 235.1,562.7 236.6,562.7 238.1,562.8 239.6,562.7 241.1,562.9 242.6,562.8 244.1,562.9 245.6,562.9 247.1,562.8 248.7,562.8 250.2,562.7 251.7,562.7 253.2,562.6 254.7,562.6 256.2,562.6 257.7,562.7 259.2,562.7 260.7,562.6 262.2,562.8 263.7,562.6 265.2,562.5 266.7,562.5 268.2,562.7 269.7,562.6 271.2,562.7 272.7,562.8 274.3,562.6 275.8,562.5 277.3,562.7 278.8,562.8 280.3,562.8 281.8,562.7 283.3,562.8 284.8,562.6 286.3,562.7 287.8,562.8 289.3,562.7 290.8,562.6 292.3,562.8 293.8,562.7 295.3,562.8 296.8,562.7 298.3,562.7 299.9,562.5 301.4,562.7 302.9,562.7 304.4,562.5 305.9,562.6 307.4,562.5 308.9,562.6 310.4,562.4 311.9,562.3 313.4,562.5 314.9,562.4 316.4,562.3 317.9,562.5 319.4,562.3 320.9,562.2 322.4,562.2 323.9,562.2 325.5,562.2 327.0,562.0 328.5,562.2 330.0,562.0 331.5,562.0 333.0,561.9 334.5,561.9 336.0,562.0 337.5,561.8 339.0,561.7 340.5,561.6 342.0,561.6 343.5,561.4 345.0,561.2 346.5,561.1 348.0,561.0 349.6,561.0 351.1,560.6 352.6,560.5 354.1,560.2 355.6,559.9 357.1,559.9 358.6,559.7 360.1,559.8 361.6,559.6 363.1,559.4 364.6,559.1 366.1,558.9 367.6,558.4 369.1,558.4 370.6,557.8 372.1,558.0 373.6,557.7 375.2,557.4 376.7,557.3 378.2,557.3 379.7,557.2 381.2,556.7 382.7,556.7 384.2,556.5 385.7,557.2 387.2,556.9 388.7,557.2 390.2,557.4 391.7,557.7 393.2,557.2 394.7,557.5 396.2,557.5 397.7,557.6 399.2,557.3 400.8,557.4 402.3,557.2 403.8,557.2 405.3,557.6"/>
<path d="M60.4,564.0 61.9,563.9 63.4,563.8 64.9,563.6 66.4,563.3 67.9,563.3 69.4,563.1 70.9,563.1 72.4,562.7 74.0,562.7 75.5,562.5 77.0,562.3 78.5,562.2 80.0,561.7 81.5,561.6 83.0,561.2 84.5,561.0 86.0,560.6 87.5,560.2 89.0,560.0 90.5,559.7 92.0,559.3 93.5,559.1 95.0,559.1 96.5,558.8 98.0,558.8 99.6,558.5 101.1,558.6 102.6,558.1 104.1,558.2 105.6,558.3 107.1,558.4 108.6,558.3 110.1,558.3 111.6,558.1 113.1,558.3 114.6,558.3 116.1,558.2 117.6,558.0 119.1,558.1 120.6,558.2 122.1,558.2 123.7,558.2 125.2,558.3 126.7,558.2 128.2,558.2 129.7,558.1 131.2,558.2 132.7,558.3 134.2,558.3 135.7,558.1 137.2,558.3 138.7,558.5 140.2,558.6 141.7,558.3 143.2,558.1 144.7,558.2 146.2,558.1 147.7,558.0 149.3,557.9 150.8,557.9 152.3,557.7 153.8,557.7 155.3,557.5 156.8,557.2 158.3,556.9 159.8,556.9 161.3,556.6 162.8,556.6 164.3,556.5 165.8,556.2 167.3,556.2 168.8,556.0 170.3,555.9 171.8,555.6 173.3,555.6 174.9,555.6 176.4,555.3 177.9,555.5 179.4,555.5 180.9,555.6 182.4,556.0 183.9,556.3 185.4,556.5 186.9,557.0 188.4,557.4 189.9,557.6 191.4,558.4 192.9,558.5 194.4,558.9 195.9,559.1 197.4,559.4 199.0,559.5 200.5,559.8 202.0,559.9 203.5,560.0 205.0,559.9 206.5,560.0 208.0,560.0 209.5,560.0 211.0,560.2 212.5,560.4 214.0,560.4 215.5,560.2 217.0,560.4 218.5,560.4 220.0,560.4 221.5,560.3 223.0,560.4 224.6,560.4 226.1,560.7 227.6,560.6 229.1,560.6 230.6,560.7 232.1,560.9 233.6,560.9 235.1,560.6 236.6,560.8 238.1,561.0 239.6,560.9 241.1,560.9 242.6,560.9 244.1,561.0 245.6,561.0 247.1,560.9 248.7,560.9 250.2,561.0 251.7,561.1 253.2,561.0 254.7,561.1 256.2,561.0 257.7,561.0 259.2,561.0 260.7,561.1 262.2,561.1 263.7,561.1 265.2,561.3 266.7,561.1 268.2,561.2 269.7,561.3 271.2,561.3 272.7,561.4 274.3,561.3 275.8,561.3 277.3,561.3 278.8,561.5 280.3,561.4 281.8,561.4 283.3,561.3 284.8,561.4 286.3,561.6 287.8,561.5 289.3,561.4 290.8,561.3 292.3,561.3 293.8,561.3 295.3,561.3 296.8,561.3 298.3,561.2 299.9,561.2 301.4,561.1 302.9,560.9 304.4,560.9 305.9,560.8 307.4,560.7 308.9,560.5 310.4,560.5 311.9,560.3 313.4,560.1 314.9,560.0 316.4,559.8 317.9,559.7 319.4,559.3 320.9,559.1 322.4,559.0 323.9,558.9 325.5,558.4 327.0,558.2 328.5,558.1 330.0,557.9 331.5,557.7 333.0,557.6 334.5,557.6 336.0,557.6 337.5,557.5 339.0,557.7 340.5,557.8 342.0,557.7 343.5,557.6 345.0,557.9 346.5,558.2 348.0,558.1 349.6,558.0 351.1,558.1 352.6,558.2 354.1,558.3 355.6,558.5 357.1,558.5 358.6,558.5 360.1,558.4 361.6,558.5 363.1,558.5 364.6,558.6 366.1,558.5 367.6,558.6 369.1,558.2 370.6,558.0 372.1,557.9 373.6,557.8 375.2,557.9 376.7,557.3 378.2,557.4 379.7,557.2 381.2,557.2 382.7,557.1 384.2,557.0 385.7,556.5 387.2,556.1 388.7,555.9 390.2,555.8 391.7,555.9 393.2,555.7 394.7,555.8 396.2,555.3 397.7,555.5 399.2,555.2 400.8,554.9 402.3,554.5 403.8,554.5 405.3,554.1"/>
<path d="M60.4,564.0 61.9,564.0 63.4,564.0 64.9,563.9 66.4,563.7 67.9,563.6 69.4,563.6 70.9,563.3 72.4,563.3 74.0,563.2 75.5,563.1 77.0,563.0 78.5,562.9 80.0,562.7 81.5,562.4 83.0,562.2 84.5,561.7 86.0,561.4 87.5,561.1 89.0,560.8 90.5,560.3 92.0,559.9 93.5,559.5 95.0,558.9 96.5,558.7 98.0,558.2 99.6,558.3 101.1,557.9 102.6,557.8 104.1,557.5 105.6,557.3 107.1,557.6 108.6,557.4 110.1,557.5 111.6,557.6 113.1,557.5 114.6,557.8 116.1,558.0 117.6,557.9 119.1,557.9 120.6,558.1 122.1,558.2 123.7,558.4 125.2,558.7 126.7,558.7 128.2,558.7 129.7,558.8 131.2,558.9 132.7,559.0 134.2,558.9 135.7,559.1 137.2,559.2 138.7,559.1 140.2,559.3 141.7,559.1 143.2,559.2 144.7,559.2 146.2,559.1 147.7,559.1 149.3,559.2 150.8,559.3 152.3,559.3 153.8,559.4 155.3,559.5 156.8,559.6 158.3,559.5 159.8,559.5 161.3,559.5 162.8,559.6 164.3,559.6 165.8,559.7 167.3,559.6 168.8,559.9 170.3,560.0 171.8,560.0 173.3,560.1 174.9,560.1 176.4,560.3 177.9,560.2 179.4,560.1 180.9,560.2 182.4,560.0 183.9,559.8 185.4,559.8 186.9,559.9 188.4,559.9 189.9,559.9 191.4,559.8 192.9,559.7 194.4,559.7 195.9,559.6 197.4,559.7 199.0,559.7 200.5,559.6 202.0,559.6 203.5,559.8 205.0,559.6 206.5,559.5 208.0,559.3 209.5,558.9 211.0,558.7 212.5,558.4 214.0,557.9 215.5,557.6 217.0,556.9 218.5,556.4 220.0,556.0 221.5,555.6 223.0,555.3 224.6,554.4 226.1,553.7 227.6,553.2 229.1,552.7 230.6,552.0 232.1,550.6 233.6,550.3 235.1,550.1 236.6,549.3 238.1,548.8 239.6,548.5 241.1,547.9 242.6,547.4 244.1,547.2 245.6,547.3 247.1,547.4 248.7,547.5 250.2,547.1 251.7,547.4 253.2,548.3 254.7,548.5 256.2,548.4 257.7,548.9 259.2,549.2 260.7,549.5 262.2,549.6 263.7,549.9 265.2,549.9 266.7,549.9 268.2,550.0 269.7,550.2 271.2,549.8 272.7,549.8 274.3,549.6 275.8,549.3 277.3,549.2 278.8,548.7 280.3,548.3 281.8,548.2 283.3,548.2 284.8,548.2 286.3,548.1 287.8,548.1 289.3,547.9 290.8,547.4 292.3,548.1 293.8,547.9 295.3,548.3 296.8,548.5 298.3,548.8 299.9,548.9 301.4,548.9 302.9,548.6 304.4,549.0 305.9,549.0 307.4,548.8 308.9,548.7 310.4,548.6 311.9,548.4 313.4,548.4 314.9,548.4 316.4,547.8 317.9,547.6 319.4,546.8 320.9,546.7 322.4,546.8 323.9,546.9 325.5,546.8 327.0,546.5 328.5,546.4 330.0,546.3 331.5,546.2 333.0,546.3 334.5,545.3 336.0,545.0 337.5,545.1 339.0,544.4 340.5,544.2 342.0,543.0 343.5,542.5 345.0,541.2 346.5,540.6 348.0,539.1 349.6,538.4 351.1,537.4 352.6,536.8 354.1,535.7 355.6,534.9 357.1,533.7 358.6,531.7 360.1,532.1 361.6,531.8 363.1,529.7 364.6,528.2 366.1,528.4 367.6,526.9 369.1,526.5 370.6,525.0 372.1,524.9 373.6,523.2 375.2,521.9 376.7,522.6 378.2,521.2 379.7,521.9 381.2,520.6 382.7,521.7 384.2,521.3 385.7,522.3 387.2,520.8 388.7,520.0 390.2,520.9 391.7,522.9 393.2,519.8 394.7,516.8 396.2,515.6 397.7,512.4 399.2,511.7 400.8,509.9 402.3,508.9 403.8,503.0 405.3,506.1"/>
<path d="M60.4,564.0 61.9,563.9 63.4,564.0 64.9,563.9 66.4,563.6 67.9,563.6 69.4,563.5 70.9,563.5 72.4,563.2 74.0,563.2 75.5,563.0 77.0,563.0 78.5,562.7 80.0,562.5 81.5,562.5 83.0,562.2 84.5,561.9 86.0,561.7 87.5,561.5 89.0,561.2 90.5,560.8 92.0,560.5 93.5,560.4 95.0,560.1 96.5,559.7 98.0,559.5 99.6,558.8 101.1,558.7 102.6,558.5 104.1,558.5 105.6,558.3 107.1,557.8 108.6,557.9 110.1,557.6 111.6,557.9 113.1,557.8 114.6,558.0 116.1,558.0 117.6,558.0 119.1,558.1 120.6,558.6 122.1,558.6 123.7,558.6 125.2,558.7 126.7,558.8 128.2,559.2 129.7,559.5 131.2,559.5 132.7,559.6 134.2,559.6 135.7,559.7 137.2,559.9 138.7,559.9 140.2,559.9 141.7,560.0 143.2,560.0 144.7,560.1 146.2,560.0 147.7,560.4 149.3,560.3 150.8,560.3 152.3,560.4 153.8,560.4 155.3,560.3 156.8,560.5 158.3,560.3 159.8,560.5 161.3,560.6 162.8,560.4 164.3,560.6 165.8,560.6 167.3,560.4 168.8,560.4 170.3,560.2 171.8,560.2 173.3,560.2 174.9,560.1 176.4,560.1 177.9,560.3 179.4,560.1 180.9,560.1 182.4,559.8 183.9,559.8 185.4,559.8 186.9,559.6 188.4,559.8 189.9,559.8 191.4,560.1 192.9,560.1 194.4,560.1 195.9,560.0 197.4,560.0 199.0,559.9 200.5,559.9 202.0,559.8 203.5,560.1 205.0,559.8 206.5,559.7 208.0,559.5 209.5,559.3 211.0,559.0 212.5,558.7 214.0,558.4 215.5,558.1 217.0,558.0 218.5,557.4 220.0,556.9 221.5,556.5 223.0,556.2 224.6,555.6 226.1,555.3 227.6,554.5 229.1,554.4 230.6,553.7 232.1,552.9 233.6,552.4 235.1,551.7 236.6,550.9 238.1,550.2 239.6,549.8 241.1,549.2 242.6,548.4 244.1,547.8 245.6,547.2 247.1,546.3 248.7,545.8 250.2,544.8 251.7,543.3 253.2,542.4 254.7,540.9 256.2,540.0 257.7,538.7 259.2,538.0 260.7,536.0 262.2,534.5 263.7,533.6 265.2,532.1 266.7,531.4 268.2,530.2 269.7,529.0 271.2,527.6 272.7,527.4 274.3,526.2 275.8,525.8 277.3,526.0 278.8,525.0 280.3,524.6 281.8,524.8 283.3,525.2 284.8,525.4 286.3,525.8 287.8,525.8 289.3,526.1 290.8,527.2 292.3,527.4 293.8,527.6 295.3,528.5 296.8,528.8 298.3,528.0 299.9,529.0 301.4,529.2 302.9,529.9 304.4,529.9 305.9,530.6 307.4,531.4 308.9,531.3 310.4,532.3 311.9,531.7 313.4,531.6 314.9,531.6 316.4,531.2 317.9,531.6 319.4,532.9 320.9,532.9 322.4,533.2 323.9,534.0 325.5,534.5 327.0,534.4 328.5,534.8 330.0,535.1 331.5,534.8 333.0,535.5 334.5,536.2 336.0,536.7 337.5,537.2 339.0,536.9 340.5,536.8 342.0,536.9 343.5,536.7 345.0,534.8 346.5,534.1 348.0,533.6 349.6,533.2 351.1,533.6 352.6,532.8 354.1,532.8 355.6,532.5 357.1,532.2 358.6,531.4 360.1,530.5 361.6,529.4 363.1,528.8 364.6,527.9 366.1,529.5 367.6,530.2 369.1,529.3 370.6,530.6 372.1,528.9 373.6,528.7 375.2,527.3 376.7,528.7 378.2,528.4 379.7,528.6 381.2,528.1 382.7,528.1 384.2,527.8 385.7,530.5 387.2,530.2 388.7,529.6 390.2,531.3 391.7,530.9 393.2,530.2 394.7,532.2 396.2,531.7 397.7,530.5 399.2,529.3 400.8,529.2 402.3,531.6 403.8,532.6 405.3,533.1"/>
<path d="M316.2,545.5 L316.2,563.5"/><path d="M337.9,551 L337.9,563.5"/>
</g>
<g class="eu">
<path d="M477.0,552.6 478.5,551.3 480.1,549.5 481.6,547.2 483.1,544.2 484.7,541.2 486.2,537.1 487.7,532.8 489.3,527.8 490.8,521.3 492.3,512.2 493.9,502.2 495.4,494.1 496.9,490.8 498.5,488.6 500.0,487.1 501.5,483.2 503.1,480.4 504.6,480.3 506.1,481.7 507.7,483.4 509.2,485.7 510.7,489.0 512.3,492.1 513.8,495.1 515.4,498.3 516.9,501.7 518.4,505.5 520.0,509.6 521.5,513.6 523.0,518.1 524.6,521.6 526.1,524.9 527.6,527.8 529.2,530.6 530.7,533.0 532.2,535.3 533.8,537.6 535.3,539.6 536.8,541.5 538.4,543.6 539.9,545.4 541.4,547.3 543.0,549.1 544.5,550.4 546.0,551.8 547.6,553.0 549.1,554.1 550.6,554.9 552.2,555.8 553.7,556.5 555.2,557.0 556.8,557.6 558.3,558.2 559.8,558.5 561.4,558.8 562.9,559.2 564.4,559.6 566.0,559.7 567.5,559.9 569.0,560.0 570.6,560.2 572.1,560.3 573.6,560.4 575.2,560.7 576.7,560.9 578.2,560.9 579.8,560.9 581.3,561.1 582.8,561.2 584.4,561.2 585.9,561.3 587.4,561.3 589.0,561.4 590.5,561.4 592.0,561.5 593.6,561.5 595.1,561.7 596.7,561.6 598.2,561.4 599.7,561.6 601.3,561.6 602.8,561.4 604.3,561.3 605.9,561.2 607.4,561.1 608.9,561.2 610.5,560.9 612.0,560.8 613.5,560.7 615.1,560.5 616.6,560.5 618.1,560.2 619.7,560.1 621.2,559.9 622.7,559.5 624.3,559.0 625.8,558.6 627.3,558.0 628.9,557.5 630.4,557.0 631.9,556.4 633.5,555.8 635.0,555.1 636.5,554.3 638.1,553.5 639.6,552.5 641.1,551.5 642.7,550.5 644.2,549.7 645.7,548.7 647.3,547.6 648.8,546.6 650.3,545.3 651.9,543.9 653.4,542.7 654.9,541.5 656.5,539.5 658.0,538.0 659.5,536.2 661.1,534.6 662.6,533.0 664.1,531.1 665.7,529.4 667.2,527.5 668.8,525.0 670.3,523.1 671.8,520.9 673.4,519.3 674.9,517.5 676.4,515.0 678.0,513.7 679.5,512.4 681.0,510.9 682.6,509.3 684.1,508.2 685.6,507.1 687.2,506.9 688.7,507.5 690.2,509.6 691.8,511.9 693.3,514.4 694.8,516.6 696.4,518.4 697.9,520.4 699.4,522.5 701.0,524.6 702.5,526.9 704.0,528.9 705.6,531.3 707.1,532.9 708.6,534.2 710.2,535.6 711.7,537.1 713.2,538.1 714.8,538.3 716.3,538.1 717.8,538.2 719.4,538.1 720.9,538.1 722.4,537.8 724.0,537.7 725.5,537.5 727.0,537.2 728.6,536.9 730.1,536.8 731.6,536.5 733.2,536.3 734.7,536.0 736.2,535.7 737.8,535.3 739.3,535.1 740.8,534.8 742.4,534.5 743.9,534.5 745.5,534.1 747.0,534.2 748.5,534.6 750.1,535.0 751.6,535.6 753.1,536.1 754.7,536.5 756.2,536.8 757.7,537.1 759.3,537.0 760.8,537.2 762.3,537.1 763.9,536.9 765.4,536.0 766.9,535.4 768.5,534.8 770.0,534.0 771.5,533.3 773.1,532.4 774.6,531.6 776.1,530.2 777.7,529.1 779.2,527.7 780.7,526.8 782.3,525.4 783.8,523.8 785.3,522.5 786.9,521.1 788.4,518.8 789.9,516.1 791.5,513.9 793.0,510.4 794.5,507.4 796.1,503.6 797.6,499.5 799.1,495.7 800.7,491.4 802.2,487.4 803.7,483.0 805.3,478.5 806.8,473.2 808.3,466.6 809.9,461.4 811.4,454.7 812.9,446.8 814.5,439.8 816.0,430.5 817.5,421.8 819.1,414.1 820.6,405.1"/>
<path d="M477.0,556.4 478.5,555.2 480.1,553.8 481.6,552.1 483.1,550.1 484.7,547.8 486.2,545.5 487.7,542.8 489.3,539.3 490.8,535.9 492.3,532.7 493.9,529.3 495.4,525.4 496.9,521.6 498.5,518.0 500.0,515.5 501.5,513.8 503.1,513.0 504.6,511.7 506.1,510.6 507.7,509.9 509.2,509.7 510.7,510.0 512.3,510.1 513.8,510.4 515.4,511.3 516.9,513.4 518.4,515.6 520.0,517.9 521.5,519.0 523.0,520.0 524.6,521.2 526.1,522.7 527.6,524.5 529.2,526.5 530.7,527.9 532.2,530.1 533.8,531.7 535.3,533.3 536.8,535.0 538.4,536.7 539.9,538.0 541.4,539.5 543.0,540.8 544.5,542.5 546.0,543.7 547.6,544.9 549.1,546.4 550.6,547.3 552.2,548.5 553.7,549.4 555.2,550.3 556.8,551.5 558.3,552.3 559.8,553.3 561.4,554.1 562.9,554.9 564.4,555.7 566.0,556.3 567.5,556.9 569.0,557.4 570.6,557.8 572.1,558.2 573.6,558.5 575.2,558.8 576.7,559.0 578.2,559.4 579.8,559.7 581.3,560.0 582.8,560.2 584.4,560.5 585.9,560.6 587.4,560.8 589.0,561.0 590.5,561.2 592.0,561.2 593.6,561.3 595.1,561.5 596.7,561.5 598.2,561.6 599.7,561.6 601.3,561.6 602.8,561.8 604.3,561.8 605.9,561.9 607.4,561.8 608.9,562.1 610.5,561.9 612.0,562.0 613.5,562.0 615.1,562.0 616.6,562.1 618.1,562.0 619.7,562.1 621.2,562.1 622.7,561.9 624.3,562.0 625.8,561.9 627.3,562.0 628.9,561.9 630.4,561.9 631.9,562.0 633.5,561.8 635.0,561.8 636.5,561.6 638.1,561.7 639.6,561.6 641.1,561.7 642.7,561.6 644.2,561.4 645.7,561.3 647.3,561.3 648.8,561.0 650.3,561.0 651.9,560.8 653.4,560.6 654.9,560.3 656.5,560.1 658.0,559.8 659.5,559.7 661.1,559.4 662.6,559.0 664.1,558.9 665.7,558.7 667.2,558.5 668.8,558.3 670.3,557.8 671.8,557.5 673.4,557.4 674.9,557.0 676.4,556.5 678.0,556.2 679.5,555.8 681.0,555.3 682.6,554.7 684.1,554.4 685.6,553.8 687.2,552.9 688.7,552.4 690.2,551.6 691.8,550.7 693.3,549.5 694.8,548.4 696.4,547.0 697.9,545.6 699.4,544.0 701.0,542.6 702.5,541.2 704.0,540.2 705.6,539.2 707.1,538.3 708.6,537.7 710.2,537.2 711.7,536.6 713.2,535.8 714.8,534.8 716.3,534.0 717.8,532.8 719.4,531.7 720.9,530.2 722.4,528.0 724.0,525.4 725.5,522.9 727.0,520.4 728.6,518.8 730.1,516.5 731.6,514.4 733.2,512.5 734.7,510.9 736.2,509.6 737.8,508.0 739.3,506.0 740.8,504.6 742.4,502.8 743.9,501.5 745.5,500.6 747.0,498.9 748.5,497.8 750.1,496.4 751.6,495.2 753.1,494.0 754.7,492.6 756.2,491.7 757.7,490.8 759.3,489.7 760.8,489.1 762.3,488.3 763.9,487.4 765.4,487.0 766.9,486.1 768.5,485.8 770.0,485.5 771.5,484.7 773.1,483.6 774.6,483.5 776.1,483.4 777.7,482.3 779.2,481.4 780.7,481.1 782.3,480.7 783.8,481.0 785.3,481.4 786.9,481.3 788.4,482.5 789.9,482.0 791.5,482.6 793.0,482.9 794.5,483.9 796.1,484.6 797.6,485.7 799.1,487.0 800.7,487.7 802.2,489.4 803.7,489.1 805.3,488.6 806.8,488.5 808.3,487.7 809.9,485.3 811.4,482.8 812.9,480.0 814.5,476.7 816.0,473.2 817.5,469.5 819.1,463.8 820.6,459.7"/>
<path d="M477.0,562.8 478.5,562.1 480.1,561.4 481.6,560.7 483.1,559.8 484.7,558.9 486.2,558.0 487.7,557.2 489.3,556.0 490.8,555.0 492.3,553.8 493.9,552.7 495.4,551.6 496.9,550.0 498.5,548.4 500.0,546.8 501.5,545.2 503.1,543.6 504.6,542.0 506.1,540.6 507.7,539.2 509.2,537.4 510.7,535.8 512.3,534.1 513.8,532.7 515.4,530.9 516.9,529.1 518.4,527.3 520.0,525.3 521.5,522.9 523.0,520.9 524.6,518.6 526.1,516.6 527.6,515.0 529.2,513.8 530.7,513.0 532.2,511.8 533.8,510.1 535.3,508.1 536.8,506.9 538.4,509.6 539.9,512.6 541.4,515.1 543.0,517.2 544.5,519.5 546.0,521.8 547.6,524.2 549.1,526.2 550.6,528.4 552.2,530.2 553.7,531.8 555.2,533.5 556.8,534.7 558.3,536.3 559.8,537.4 561.4,538.5 562.9,539.5 564.4,540.5 566.0,541.3 567.5,542.2 569.0,543.1 570.6,544.1 572.1,544.9 573.6,545.7 575.2,546.6 576.7,547.5 578.2,548.4 579.8,549.4 581.3,550.3 582.8,551.1 584.4,551.7 585.9,552.5 587.4,553.1 589.0,553.8 590.5,554.4 592.0,555.1 593.6,555.6 595.1,556.2 596.7,556.5 598.2,557.0 599.7,557.2 601.3,557.8 602.8,558.1 604.3,558.4 605.9,558.6 607.4,559.0 608.9,559.4 610.5,559.6 612.0,559.9 613.5,560.0 615.1,560.1 616.6,560.3 618.1,560.3 619.7,560.3 621.2,560.0 622.7,560.3 624.3,560.1 625.8,560.2 627.3,560.0 628.9,560.0 630.4,559.8 631.9,559.7 633.5,559.8 635.0,559.6 636.5,559.4 638.1,559.4 639.6,559.2 641.1,559.3 642.7,559.2 644.2,558.9 645.7,558.8 647.3,558.4 648.8,558.2 650.3,558.0 651.9,557.7 653.4,557.2 654.9,557.0 656.5,556.4 658.0,556.0 659.5,555.8 661.1,555.2 662.6,554.8 664.1,554.3 665.7,553.8 667.2,553.0 668.8,552.2 670.3,551.4 671.8,550.4 673.4,549.7 674.9,548.6 676.4,547.8 678.0,547.2 679.5,546.8 681.0,546.9 682.6,546.9 684.1,547.0 685.6,546.8 687.2,546.9 688.7,547.1 690.2,547.3 691.8,547.3 693.3,547.4 694.8,547.4 696.4,547.6 697.9,547.6 699.4,548.1 701.0,547.9 702.5,548.3 704.0,548.6 705.6,548.9 707.1,549.2 708.6,549.8 710.2,550.3 711.7,550.8 713.2,551.2 714.8,551.5 716.3,552.0 717.8,552.2 719.4,552.6 720.9,552.8 722.4,552.8 724.0,552.8 725.5,552.7 727.0,552.7 728.6,552.2 730.1,551.7 731.6,551.2 733.2,550.5 734.7,549.9 736.2,549.3 737.8,548.4 739.3,547.7 740.8,546.9 742.4,545.8 743.9,545.0 745.5,544.0 747.0,543.2 748.5,542.0 750.1,541.0 751.6,539.7 753.1,538.3 754.7,536.9 756.2,535.3 757.7,534.0 759.3,532.7 760.8,531.6 762.3,530.7 763.9,529.5 765.4,528.6 766.9,527.5 768.5,526.3 770.0,525.0 771.5,523.9 773.1,522.5 774.6,521.3 776.1,520.3 777.7,518.4 779.2,517.5 780.7,516.0 782.3,514.3 783.8,512.3 785.3,510.0 786.9,507.6 788.4,503.9 789.9,499.1 791.5,492.9 793.0,487.0 794.5,479.5 796.1,470.2 797.6,459.8 799.1,448.7 800.7,437.6 802.2,428.2 803.7,417.0 805.3,403.8 806.8,389.3 808.3,372.0 809.9,356.7 811.4,341.8 812.9,324.9 814.5,307.4 816.0,290.4 817.5,274.0 819.1,252.7 820.6,231.3"/>
<path d="M477.0,563.3 478.5,562.9 480.1,562.6 481.6,562.1 483.1,561.9 484.7,561.4 486.2,561.2 487.7,560.9 489.3,560.5 490.8,560.2 492.3,560.0 493.9,559.7 495.4,559.6 496.9,559.5 498.5,559.2 500.0,559.0 501.5,558.9 503.1,558.8 504.6,558.6 506.1,558.6 507.7,558.3 509.2,558.2 510.7,558.1 512.3,558.0 513.8,558.1 515.4,557.9 516.9,557.8 518.4,557.8 520.0,557.9 521.5,557.8 523.0,557.8 524.6,557.8 526.1,557.8 527.6,557.8 529.2,557.9 530.7,558.2 532.2,558.0 533.8,558.3 535.3,558.3 536.8,558.5 538.4,558.6 539.9,558.7 541.4,558.9 543.0,559.2 544.5,559.5 546.0,559.7 547.6,559.9 549.1,560.2 550.6,560.4 552.2,560.6 553.7,560.7 555.2,561.1 556.8,560.9 558.3,561.3 559.8,561.5 561.4,561.7 562.9,561.7 564.4,561.8 566.0,561.8 567.5,562.1 569.0,562.0 570.6,561.8 572.1,561.9 573.6,561.8 575.2,561.9 576.7,561.8 578.2,562.0 579.8,561.9 581.3,561.9 582.8,562.0 584.4,561.8 585.9,561.9 587.4,561.8 589.0,561.8 590.5,561.9 592.0,561.6 593.6,561.7 595.1,561.7 596.7,561.8 598.2,561.6 599.7,561.5 601.3,561.5 602.8,561.6 604.3,561.4 605.9,561.5 607.4,561.3 608.9,561.3 610.5,561.2 612.0,561.3 613.5,561.1 615.1,561.3 616.6,561.0 618.1,561.0 619.7,560.9 621.2,560.9 622.7,560.9 624.3,560.5 625.8,560.5 627.3,560.3 628.9,560.4 630.4,560.0 631.9,560.0 633.5,559.9 635.0,559.6 636.5,559.5 638.1,559.3 639.6,559.2 641.1,559.3 642.7,559.2 644.2,559.1 645.7,559.1 647.3,559.2 648.8,559.1 650.3,559.2 651.9,559.1 653.4,559.1 654.9,559.1 656.5,559.4 658.0,559.4 659.5,559.4 661.1,559.4 662.6,559.4 664.1,559.3 665.7,559.5 667.2,559.6 668.8,559.5 670.3,559.8 671.8,559.6 673.4,559.6 674.9,559.5 676.4,559.5 678.0,559.4 679.5,559.4 681.0,559.4 682.6,559.2 684.1,559.1 685.6,559.1 687.2,559.0 688.7,559.0 690.2,558.8 691.8,558.7 693.3,558.9 694.8,558.7 696.4,558.5 697.9,558.6 699.4,558.4 701.0,558.4 702.5,558.2 704.0,558.3 705.6,558.0 707.1,558.1 708.6,557.9 710.2,557.8 711.7,557.4 713.2,557.4 714.8,557.3 716.3,557.0 717.8,556.8 719.4,556.5 720.9,556.4 722.4,556.2 724.0,555.7 725.5,555.5 727.0,555.1 728.6,554.7 730.1,554.5 731.6,554.2 733.2,553.8 734.7,553.7 736.2,553.1 737.8,552.8 739.3,552.3 740.8,551.3 742.4,549.9 743.9,548.7 745.5,547.1 747.0,545.6 748.5,543.9 750.1,542.3 751.6,540.6 753.1,539.0 754.7,537.6 756.2,536.1 757.7,534.6 759.3,532.9 760.8,531.4 762.3,529.9 763.9,528.5 765.4,526.8 766.9,525.3 768.5,524.0 770.0,522.6 771.5,521.3 773.1,520.4 774.6,519.4 776.1,518.3 777.7,516.7 779.2,515.3 780.7,514.0 782.3,512.2 783.8,510.2 785.3,507.6 786.9,503.1 788.4,497.0 789.9,491.0 791.5,484.0 793.0,475.5 794.5,466.0 796.1,455.6 797.6,445.0 799.1,435.7 800.7,424.9 802.2,412.4 803.7,397.4 805.3,381.0 806.8,365.2 808.3,349.2 809.9,334.4 811.4,318.8 812.9,302.8 814.5,288.0 816.0,272.7 817.5,258.2 819.1,242.6 820.6,223.6"/>
<path d="M477.0,562.7 478.5,562.6 480.1,562.4 481.6,562.0 483.1,561.5 484.7,560.9 486.2,560.2 487.7,559.5 489.3,558.5 490.8,557.5 492.3,556.7 493.9,554.9 495.4,552.5 496.9,549.5 498.5,546.0 500.0,542.5 501.5,539.4 503.1,537.0 504.6,535.3 506.1,533.5 507.7,530.6 509.2,529.5 510.7,527.2 512.3,525.1 513.8,523.6 515.4,523.0 516.9,521.4 518.4,520.5 520.0,520.0 521.5,520.1 523.0,520.6 524.6,521.2 526.1,521.4 527.6,522.0 529.2,523.9 530.7,524.5 532.2,526.1 533.8,526.9 535.3,528.4 536.8,528.6 538.4,529.9 539.9,531.8 541.4,534.3 543.0,535.9 544.5,537.2 546.0,538.7 547.6,539.7 549.1,540.9 550.6,541.9 552.2,543.0 553.7,544.1 555.2,545.4 556.8,546.2 558.3,547.2 559.8,548.2 561.4,549.1 562.9,550.1 564.4,551.0 566.0,552.0 567.5,552.7 569.0,553.6 570.6,554.1 572.1,554.6 573.6,554.8 575.2,555.6 576.7,556.3 578.2,557.0 579.8,557.6 581.3,558.2 582.8,558.8 584.4,559.0 585.9,559.3 587.4,559.7 589.0,560.0 590.5,560.5 592.0,560.9 593.6,561.0 595.1,561.3 596.7,561.4 598.2,561.3 599.7,561.3 601.3,561.5 602.8,561.6 604.3,561.9 605.9,561.8 607.4,561.9 608.9,562.1 610.5,562.2 612.0,562.0 613.5,562.1 615.1,562.4 616.6,562.5 618.1,562.5 619.7,562.6 621.2,562.7 622.7,562.7 624.3,562.5 625.8,562.7 627.3,562.7 628.9,562.7 630.4,562.8 631.9,562.7 633.5,562.6 635.0,562.7 636.5,562.8 638.1,562.7 639.6,562.7 641.1,563.0 642.7,562.7 644.2,562.8 645.7,562.7 647.3,562.7 648.8,562.7 650.3,562.7 651.9,562.8 653.4,562.8 654.9,562.7 656.5,562.7 658.0,562.6 659.5,562.6 661.1,562.7 662.6,562.5 664.1,562.6 665.7,562.7 667.2,562.5 668.8,562.5 670.3,562.4 671.8,562.3 673.4,562.3 674.9,562.2 676.4,562.1 678.0,562.1 679.5,562.1 681.0,561.9 682.6,562.0 684.1,562.0 685.6,561.8 687.2,561.6 688.7,561.7 690.2,561.6 691.8,561.3 693.3,561.1 694.8,560.7 696.4,560.2 697.9,559.5 699.4,558.9 701.0,558.3 702.5,557.5 704.0,556.7 705.6,556.1 707.1,555.6 708.6,554.9 710.2,554.1 711.7,553.6 713.2,553.1 714.8,552.9 716.3,552.5 717.8,552.1 719.4,552.0 720.9,551.3 722.4,551.2 724.0,551.2 725.5,551.4 727.0,551.2 728.6,551.0 730.1,551.0 731.6,551.1 733.2,550.8 734.7,550.6 736.2,550.2 737.8,549.6 739.3,549.3 740.8,548.7 742.4,548.2 743.9,547.4 745.5,546.0 747.0,545.1 748.5,544.2 750.1,543.7 751.6,542.3 753.1,541.3 754.7,540.3 756.2,539.6 757.7,539.2 759.3,538.6 760.8,537.7 762.3,536.6 763.9,535.5 765.4,534.2 766.9,533.1 768.5,532.4 770.0,531.4 771.5,529.9 773.1,528.9 774.6,527.4 776.1,526.0 777.7,523.8 779.2,521.7 780.7,520.1 782.3,518.7 783.8,517.3 785.3,516.6 786.9,515.4 788.4,513.0 789.9,509.9 791.5,507.5 793.0,506.0 794.5,504.2 796.1,503.8 797.6,502.1 799.1,501.6 800.7,502.3 802.2,501.8 803.7,502.1 805.3,501.3 806.8,499.0 808.3,498.9 809.9,501.2 811.4,501.9 812.9,503.4 814.5,503.6 816.0,505.8 817.5,506.9 819.1,508.0 820.6,509.4"/>
<path d="M477.0,555.1 478.5,553.5 480.1,551.5 481.6,549.8 483.1,547.7 484.7,545.6 486.2,543.5 487.7,540.9 489.3,538.3 490.8,535.9 492.3,533.7 493.9,533.2 495.4,532.6 496.9,531.3 498.5,530.6 500.0,530.6 501.5,531.3 503.1,530.7 504.6,531.4 506.1,532.2 507.7,532.9 509.2,532.9 510.7,533.4 512.3,533.7 513.8,534.4 515.4,534.8 516.9,534.7 518.4,535.0 520.0,536.5 521.5,536.4 523.0,537.4 524.6,539.1 526.1,539.8 527.6,540.1 529.2,540.6 530.7,541.8 532.2,542.3 533.8,543.3 535.3,544.1 536.8,544.7 538.4,545.4 539.9,546.6 541.4,547.5 543.0,548.2 544.5,548.9 546.0,549.2 547.6,549.9 549.1,550.8 550.6,551.4 552.2,551.9 553.7,552.7 555.2,553.1 556.8,553.7 558.3,554.4 559.8,555.2 561.4,555.7 562.9,556.2 564.4,556.7 566.0,557.2 567.5,557.6 569.0,557.8 570.6,558.1 572.1,558.2 573.6,558.5 575.2,558.7 576.7,559.0 578.2,559.3 579.8,559.4 581.3,559.6 582.8,559.6 584.4,560.0 585.9,560.1 587.4,560.4 589.0,560.6 590.5,560.9 592.0,561.1 593.6,561.1 595.1,561.3 596.7,561.4 598.2,561.5 599.7,561.7 601.3,561.7 602.8,561.9 604.3,562.1 605.9,562.0 607.4,562.2 608.9,562.2 610.5,562.3 612.0,562.4 613.5,562.5 615.1,562.5 616.6,562.5 618.1,562.6 619.7,562.6 621.2,562.7 622.7,562.7 624.3,562.8 625.8,562.8 627.3,563.0 628.9,562.8 630.4,562.8 631.9,562.9 633.5,563.1 635.0,563.0 636.5,563.1 638.1,563.0 639.6,562.9 641.1,562.9 642.7,563.0 644.2,562.9 645.7,562.9 647.3,563.0 648.8,563.0 650.3,562.9 651.9,562.9 653.4,563.0 654.9,562.9 656.5,562.9 658.0,562.9 659.5,563.0 661.1,563.0 662.6,563.0 664.1,563.0 665.7,562.9 667.2,562.9 668.8,562.8 670.3,562.8 671.8,562.8 673.4,562.8 674.9,562.6 676.4,562.7 678.0,562.7 679.5,562.7 681.0,562.7 682.6,562.7 684.1,562.6 685.6,562.4 687.2,562.4 688.7,562.5 690.2,562.4 691.8,562.5 693.3,562.3 694.8,562.4 696.4,562.2 697.9,562.1 699.4,562.0 701.0,561.8 702.5,561.7 704.0,561.6 705.6,561.5 707.1,561.4 708.6,561.4 710.2,561.0 711.7,561.1 713.2,561.0 714.8,560.8 716.3,560.7 717.8,560.6 719.4,560.5 720.9,560.4 722.4,560.5 724.0,560.3 725.5,560.4 727.0,560.2 728.6,560.2 730.1,560.1 731.6,560.3 733.2,560.1 734.7,560.1 736.2,559.9 737.8,560.0 739.3,559.9 740.8,559.8 742.4,559.6 743.9,559.8 745.5,559.9 747.0,559.7 748.5,559.6 750.1,559.3 751.6,559.2 753.1,559.1 754.7,559.0 756.2,559.0 757.7,558.9 759.3,558.8 760.8,558.6 762.3,558.3 763.9,558.2 765.4,557.9 766.9,557.5 768.5,557.5 770.0,557.1 771.5,557.0 773.1,556.7 774.6,556.4 776.1,556.2 777.7,555.7 779.2,555.6 780.7,555.1 782.3,554.9 783.8,554.6 785.3,554.1 786.9,553.1 788.4,551.5 789.9,549.9 791.5,548.3 793.0,546.6 794.5,544.8 796.1,542.4 797.6,539.4 799.1,537.0 800.7,533.8 802.2,531.2 803.7,527.8 805.3,523.6 806.8,519.5 808.3,515.4 809.9,510.9 811.4,504.4 812.9,496.4 814.5,488.1 816.0,478.3 817.5,469.7 819.1,462.0 820.6,452.3"/>
<path d="M477.0,562.0 478.5,561.7 480.1,561.3 481.6,560.7 483.1,560.0 484.7,559.3 486.2,558.3 487.7,557.2 489.3,556.2 490.8,555.1 492.3,554.0 493.9,552.5 495.4,551.0 496.9,548.8 498.5,547.0 500.0,545.2 501.5,543.8 503.1,542.9 504.6,541.9 506.1,541.2 507.7,540.3 509.2,539.5 510.7,538.5 512.3,538.1 513.8,538.0 515.4,537.3 516.9,537.3 518.4,537.2 520.0,537.0 521.5,537.0 523.0,536.6 524.6,536.7 526.1,536.4 527.6,536.2 529.2,536.3 530.7,536.4 532.2,536.5 533.8,536.3 535.3,536.4 536.8,536.7 538.4,536.7 539.9,536.8 541.4,537.2 543.0,537.4 544.5,537.7 546.0,538.1 547.6,537.9 549.1,537.9 550.6,538.0 552.2,538.0 553.7,538.1 555.2,538.3 556.8,538.1 558.3,538.1 559.8,537.9 561.4,538.2 562.9,538.0 564.4,538.2 566.0,538.1 567.5,538.1 569.0,538.8 570.6,539.4 572.1,539.8 573.6,540.5 575.2,541.0 576.7,541.5 578.2,541.8 579.8,542.3 581.3,542.6 582.8,543.2 584.4,543.4 585.9,543.5 587.4,543.6 589.0,544.0 590.5,544.1 592.0,543.8 593.6,543.8 595.1,543.8 596.7,543.2 598.2,543.2 599.7,542.7 601.3,542.0 602.8,541.2 604.3,540.1 605.9,538.8 607.4,537.4 608.9,536.2 610.5,534.8 612.0,533.4 613.5,532.5 615.1,530.8 616.6,529.1 618.1,527.8 619.7,526.7 621.2,526.0 622.7,525.7 624.3,526.9 625.8,529.7 627.3,532.2 628.9,533.5 630.4,530.6 631.9,525.6 633.5,522.9 635.0,522.9 636.5,523.6 638.1,524.0 639.6,524.7 641.1,524.7 642.7,525.1 644.2,524.9 645.7,525.2 647.3,525.3 648.8,525.6 650.3,525.5 651.9,527.6 653.4,531.5 654.9,534.6 656.5,535.5 658.0,536.2 659.5,537.2 661.1,537.9 662.6,539.8 664.1,542.2 665.7,544.7 667.2,546.3 668.8,547.2 670.3,548.1 671.8,548.5 673.4,549.0 674.9,549.7 676.4,550.0 678.0,550.4 679.5,551.0 681.0,551.4 682.6,552.2 684.1,552.8 685.6,553.1 687.2,553.7 688.7,553.9 690.2,554.2 691.8,554.3 693.3,554.7 694.8,554.8 696.4,555.1 697.9,555.3 699.4,555.6 701.0,555.8 702.5,556.0 704.0,556.1 705.6,556.3 707.1,556.3 708.6,556.3 710.2,556.5 711.7,556.5 713.2,556.4 714.8,556.5 716.3,556.4 717.8,556.2 719.4,556.4 720.9,556.2 722.4,556.2 724.0,556.1 725.5,556.0 727.0,556.0 728.6,555.9 730.1,555.8 731.6,555.7 733.2,555.7 734.7,555.5 736.2,555.5 737.8,555.1 739.3,555.2 740.8,554.9 742.4,554.8 743.9,554.8 745.5,554.5 747.0,554.3 748.5,554.0 750.1,553.9 751.6,553.7 753.1,553.7 754.7,553.1 756.2,553.0 757.7,552.8 759.3,552.6 760.8,552.5 762.3,552.2 763.9,552.0 765.4,551.7 766.9,551.5 768.5,551.2 770.0,551.0 771.5,550.4 773.1,550.2 774.6,549.8 776.1,549.2 777.7,548.8 779.2,548.1 780.7,547.6 782.3,547.0 783.8,546.5 785.3,545.7 786.9,544.8 788.4,543.8 789.9,542.4 791.5,540.9 793.0,539.5 794.5,537.8 796.1,536.2 797.6,534.8 799.1,533.5 800.7,531.8 802.2,530.1 803.7,528.6 805.3,526.7 806.8,525.1 808.3,523.2 809.9,521.6 811.4,519.8 812.9,517.7 814.5,515.3 816.0,513.7 817.5,511.4 819.1,509.3 820.6,506.9"/>
<path d="M477.0,561.4 478.5,560.4 480.1,559.1 481.6,557.8 483.1,556.4 484.7,555.1 486.2,553.7 487.7,552.5 489.3,551.0 490.8,549.4 492.3,547.4 493.9,545.9 495.4,543.4 496.9,541.3 498.5,540.2 500.0,538.4 501.5,538.5 503.1,537.5 504.6,536.6 506.1,535.5 507.7,534.8 509.2,534.2 510.7,533.9 512.3,533.9 513.8,534.1 515.4,534.6 516.9,535.4 518.4,536.5 520.0,537.5 521.5,538.4 523.0,539.5 524.6,540.8 526.1,542.7 527.6,543.3 529.2,544.4 530.7,545.9 532.2,546.7 533.8,547.6 535.3,548.4 536.8,549.2 538.4,549.5 539.9,550.3 541.4,551.0 543.0,551.2 544.5,551.8 546.0,552.2 547.6,552.3 549.1,552.8 550.6,553.4 552.2,553.8 553.7,554.2 555.2,554.9 556.8,555.2 558.3,555.8 559.8,556.5 561.4,556.9 562.9,557.2 564.4,557.7 566.0,558.2 567.5,558.6 569.0,558.9 570.6,559.0 572.1,559.2 573.6,559.1 575.2,559.5 576.7,559.6 578.2,560.0 579.8,560.2 581.3,560.2 582.8,560.7 584.4,560.8 585.9,561.1 587.4,561.2 589.0,561.1 590.5,561.5 592.0,561.6 593.6,561.6 595.1,561.9 596.7,561.9 598.2,562.0 599.7,562.1 601.3,562.0 602.8,562.1 604.3,562.3 605.9,562.3 607.4,562.3 608.9,562.4 610.5,562.4 612.0,562.4 613.5,562.5 615.1,562.4 616.6,562.6 618.1,562.6 619.7,562.4 621.2,562.5 622.7,562.4 624.3,562.4 625.8,562.3 627.3,562.3 628.9,562.2 630.4,562.2 631.9,562.1 633.5,562.0 635.0,561.8 636.5,561.8 638.1,561.9 639.6,561.9 641.1,561.7 642.7,561.8 644.2,562.0 645.7,562.0 647.3,561.8 648.8,561.7 650.3,561.6 651.9,561.3 653.4,561.4 654.9,561.3 656.5,561.1 658.0,561.1 659.5,560.8 661.1,560.7 662.6,560.5 664.1,560.4 665.7,560.1 667.2,559.9 668.8,559.6 670.3,559.2 671.8,558.9 673.4,558.2 674.9,557.8 676.4,557.4 678.0,556.8 679.5,556.2 681.0,555.7 682.6,555.1 684.1,554.8 685.6,554.4 687.2,553.7 688.7,553.5 690.2,553.3 691.8,552.9 693.3,552.6 694.8,552.5 696.4,551.7 697.9,551.5 699.4,550.4 701.0,550.2 702.5,550.2 704.0,550.2 705.6,549.6 707.1,549.5 708.6,549.1 710.2,548.8 711.7,548.0 713.2,548.2 714.8,548.1 716.3,547.7 717.8,547.4 719.4,547.2 720.9,547.9 722.4,547.6 724.0,547.0 725.5,546.5 727.0,546.4 728.6,546.5 730.1,545.1 731.6,544.6 733.2,544.1 734.7,543.4 736.2,542.6 737.8,542.6 739.3,542.4 740.8,542.3 742.4,541.4 743.9,540.6 745.5,540.0 747.0,539.5 748.5,538.3 750.1,537.5 751.6,538.3 753.1,537.5 754.7,536.8 756.2,535.2 757.7,534.0 759.3,533.0 760.8,531.3 762.3,530.3 763.9,529.2 765.4,526.1 766.9,524.0 768.5,521.6 770.0,519.4 771.5,515.9 773.1,513.6 774.6,512.3 776.1,510.9 777.7,508.7 779.2,506.2 780.7,503.7 782.3,500.6 783.8,495.8 785.3,493.8 786.9,492.2 788.4,491.0 789.9,486.8 791.5,484.6 793.0,482.5 794.5,478.9 796.1,472.3 797.6,466.7 799.1,464.1 800.7,461.3 802.2,455.2 803.7,451.9 805.3,453.8 806.8,451.0 808.3,448.0 809.9,441.9 811.4,439.2 812.9,433.1 814.5,429.2 816.0,421.3 817.5,416.7 819.1,407.5 820.6,402.6"/>
<path d="M477.0,561.9 478.5,561.2 480.1,560.3 481.6,559.6 483.1,558.5 484.7,557.2 486.2,556.4 487.7,554.9 489.3,553.6 490.8,552.2 492.3,550.5 493.9,548.5 495.4,547.0 496.9,545.2 498.5,544.0 500.0,542.8 501.5,541.7 503.1,541.1 504.6,541.0 506.1,540.7 507.7,539.9 509.2,539.2 510.7,539.5 512.3,539.3 513.8,540.2 515.4,539.8 516.9,538.9 518.4,539.1 520.0,539.7 521.5,540.8 523.0,541.0 524.6,541.5 526.1,542.4 527.6,543.4 529.2,544.1 530.7,545.1 532.2,545.3 533.8,545.9 535.3,546.1 536.8,547.3 538.4,549.0 539.9,549.9 541.4,550.7 543.0,551.2 544.5,552.2 546.0,552.8 547.6,553.3 549.1,553.7 550.6,554.5 552.2,555.0 553.7,555.7 555.2,556.2 556.8,556.6 558.3,557.1 559.8,557.6 561.4,558.1 562.9,558.6 564.4,559.0 566.0,559.6 567.5,559.8 569.0,560.1 570.6,560.4 572.1,560.6 573.6,560.7 575.2,560.7 576.7,561.0 578.2,561.2 579.8,561.2 581.3,561.2 582.8,561.5 584.4,561.6 585.9,561.7 587.4,561.6 589.0,561.6 590.5,561.6 592.0,561.9 593.6,562.0 595.1,562.0 596.7,562.0 598.2,562.2 599.7,562.3 601.3,562.1 602.8,562.2 604.3,562.3 605.9,562.4 607.4,562.4 608.9,562.2 610.5,562.5 612.0,562.4 613.5,562.5 615.1,562.6 616.6,562.6 618.1,562.6 619.7,562.5 621.2,562.5 622.7,562.4 624.3,562.5 625.8,562.5 627.3,562.6 628.9,562.5 630.4,562.5 631.9,562.4 633.5,562.3 635.0,562.4 636.5,562.2 638.1,562.2 639.6,562.2 641.1,562.1 642.7,562.1 644.2,562.2 645.7,562.0 647.3,562.0 648.8,561.8 650.3,561.7 651.9,561.4 653.4,561.4 654.9,561.2 656.5,561.3 658.0,560.9 659.5,560.7 661.1,560.7 662.6,560.4 664.1,560.3 665.7,560.1 667.2,560.2 668.8,560.0 670.3,559.8 671.8,559.8 673.4,559.4 674.9,559.6 676.4,559.2 678.0,559.1 679.5,558.7 681.0,558.5 682.6,558.3 684.1,557.9 685.6,557.8 687.2,557.4 688.7,556.9 690.2,556.6 691.8,556.0 693.3,555.7 694.8,555.4 696.4,554.9 697.9,554.3 699.4,553.7 701.0,553.2 702.5,552.7 704.0,552.3 705.6,551.7 707.1,551.3 708.6,550.7 710.2,549.9 711.7,549.7 713.2,549.1 714.8,548.6 716.3,547.7 717.8,547.0 719.4,546.0 720.9,545.7 722.4,544.8 724.0,543.9 725.5,543.6 727.0,542.5 728.6,541.4 730.1,540.6 731.6,539.4 733.2,538.9 734.7,538.0 736.2,536.8 737.8,536.6 739.3,536.0 740.8,535.4 742.4,534.5 743.9,534.3 745.5,533.2 747.0,532.3 748.5,531.2 750.1,530.4 751.6,530.2 753.1,530.0 754.7,529.1 756.2,528.5 757.7,528.0 759.3,526.8 760.8,526.4 762.3,525.8 763.9,526.0 765.4,524.4 766.9,525.0 768.5,525.1 770.0,524.7 771.5,523.8 773.1,523.3 774.6,522.5 776.1,521.6 777.7,517.1 779.2,516.3 780.7,515.8 782.3,514.5 783.8,511.8 785.3,509.9 786.9,508.6 788.4,507.0 789.9,503.8 791.5,502.0 793.0,499.5 794.5,496.2 796.1,492.4 797.6,489.0 799.1,491.5 800.7,487.6 802.2,484.9 803.7,483.0 805.3,481.1 806.8,472.1 808.3,466.4 809.9,459.9 811.4,451.8 812.9,443.4 814.5,436.0 816.0,428.9 817.5,421.5 819.1,413.1 820.6,395.2"/>
<path d="M477.0,563.3 478.5,563.0 480.1,562.6 481.6,562.2 483.1,561.5 484.7,560.9 486.2,560.5 487.7,559.7 489.3,559.1 490.8,558.3 492.3,557.4 493.9,556.4 495.4,555.2 496.9,554.1 498.5,552.9 500.0,551.6 501.5,550.0 503.1,549.1 504.6,548.2 506.1,546.8 507.7,545.3 509.2,543.6 510.7,541.7 512.3,540.9 513.8,539.1 515.4,537.6 516.9,536.9 518.4,536.4 520.0,536.5 521.5,535.6 523.0,536.2 524.6,536.1 526.1,536.1 527.6,536.8 529.2,537.3 530.7,537.8 532.2,538.5 533.8,538.7 535.3,539.4 536.8,540.2 538.4,540.6 539.9,541.0 541.4,541.1 543.0,541.7 544.5,542.0 546.0,542.5 547.6,542.9 549.1,543.1 550.6,543.8 552.2,544.5 553.7,545.5 555.2,546.2 556.8,546.5 558.3,547.0 559.8,547.9 561.4,548.4 562.9,548.9 564.4,549.6 566.0,550.4 567.5,550.9 569.0,551.6 570.6,552.2 572.1,552.7 573.6,553.3 575.2,553.8 576.7,553.9 578.2,554.8 579.8,555.4 581.3,555.8 582.8,556.1 584.4,556.4 585.9,556.8 587.4,557.0 589.0,557.4 590.5,557.9 592.0,557.6 593.6,557.9 595.1,558.3 596.7,558.4 598.2,558.9 599.7,559.2 601.3,559.4 602.8,559.6 604.3,559.6 605.9,559.9 607.4,560.2 608.9,560.3 610.5,560.6 612.0,560.7 613.5,561.0 615.1,561.2 616.6,561.1 618.1,561.3 619.7,561.3 621.2,561.4 622.7,561.8 624.3,561.8 625.8,561.8 627.3,561.9 628.9,562.0 630.4,562.0 631.9,562.0 633.5,562.2 635.0,562.2 636.5,562.3 638.1,562.3 639.6,562.4 641.1,562.3 642.7,562.3 644.2,562.2 645.7,562.2 647.3,562.2 648.8,562.2 650.3,562.2 651.9,562.2 653.4,562.3 654.9,562.3 656.5,562.2 658.0,562.2 659.5,562.1 661.1,562.2 662.6,562.3 664.1,562.2 665.7,562.1 667.2,562.2 668.8,562.3 670.3,562.2 671.8,562.0 673.4,562.0 674.9,562.2 676.4,562.0 678.0,562.0 679.5,562.1 681.0,562.0 682.6,561.8 684.1,561.6 685.6,561.7 687.2,561.6 688.7,561.5 690.2,561.3 691.8,561.3 693.3,561.4 694.8,561.5 696.4,561.2 697.9,561.2 699.4,561.0 701.0,560.8 702.5,560.8 704.0,560.6 705.6,560.6 707.1,560.8 708.6,560.4 710.2,560.4 711.7,560.3 713.2,560.3 714.8,560.1 716.3,560.0 717.8,560.0 719.4,559.9 720.9,559.9 722.4,560.0 724.0,559.9 725.5,559.7 727.0,559.5 728.6,559.4 730.1,559.4 731.6,559.2 733.2,559.1 734.7,559.2 736.2,558.9 737.8,558.8 739.3,558.8 740.8,558.6 742.4,558.2 743.9,557.5 745.5,557.2 747.0,556.7 748.5,556.5 750.1,555.8 751.6,555.2 753.1,554.5 754.7,554.0 756.2,553.0 757.7,552.1 759.3,551.4 760.8,549.7 762.3,548.8 763.9,547.7 765.4,546.2 766.9,545.0 768.5,543.3 770.0,541.7 771.5,540.0 773.1,538.4 774.6,536.9 776.1,534.7 777.7,533.2 779.2,531.1 780.7,529.7 782.3,528.5 783.8,527.1 785.3,525.9 786.9,524.4 788.4,522.8 789.9,520.7 791.5,518.4 793.0,516.4 794.5,514.8 796.1,512.4 797.6,511.0 799.1,508.6 800.7,506.2 802.2,504.4 803.7,501.1 805.3,497.6 806.8,494.6 808.3,491.7 809.9,486.6 811.4,483.2 812.9,478.4 814.5,473.5 816.0,467.9 817.5,463.7 819.1,458.9 820.6,452.3"/>
<path d="M477.0,563.2 478.5,562.6 480.1,562.0 481.6,561.3 483.1,560.5 484.7,559.6 486.2,558.6 487.7,557.4 489.3,556.2 490.8,554.9 492.3,553.0 493.9,551.5 495.4,549.4 496.9,548.9 498.5,547.1 500.0,545.0 501.5,543.9 503.1,543.0 504.6,541.5 506.1,539.5 507.7,538.1 509.2,536.9 510.7,535.9 512.3,534.8 513.8,534.8 515.4,534.3 516.9,535.0 518.4,535.4 520.0,537.0 521.5,538.3 523.0,539.0 524.6,539.6 526.1,540.0 527.6,540.9 529.2,541.8 530.7,542.6 532.2,543.7 533.8,544.8 535.3,544.9 536.8,545.3 538.4,545.6 539.9,546.5 541.4,546.7 543.0,547.2 544.5,547.8 546.0,548.4 547.6,548.8 549.1,549.4 550.6,549.5 552.2,549.9 553.7,550.2 555.2,550.8 556.8,551.3 558.3,551.6 559.8,551.7 561.4,551.9 562.9,552.4 564.4,552.6 566.0,553.1 567.5,553.4 569.0,553.7 570.6,553.6 572.1,553.9 573.6,554.0 575.2,554.4 576.7,554.4 578.2,554.5 579.8,554.5 581.3,554.8 582.8,554.9 584.4,555.0 585.9,555.2 587.4,555.1 589.0,555.1 590.5,555.0 592.0,555.0 593.6,555.1 595.1,555.2 596.7,555.1 598.2,555.0 599.7,554.9 601.3,554.8 602.8,554.6 604.3,554.3 605.9,553.9 607.4,553.5 608.9,553.2 610.5,553.0 612.0,552.8 613.5,552.7 615.1,552.7 616.6,552.2 618.1,552.5 619.7,552.6 621.2,552.6 622.7,553.0 624.3,553.0 625.8,553.3 627.3,553.2 628.9,553.5 630.4,553.5 631.9,553.7 633.5,553.7 635.0,553.8 636.5,554.1 638.1,554.1 639.6,554.3 641.1,554.2 642.7,554.3 644.2,554.1 645.7,554.3 647.3,554.7 648.8,554.8 650.3,554.9 651.9,555.2 653.4,555.3 654.9,555.6 656.5,555.6 658.0,555.8 659.5,556.2 661.1,556.3 662.6,556.7 664.1,556.6 665.7,557.0 667.2,557.3 668.8,557.5 670.3,557.6 671.8,557.9 673.4,557.9 674.9,558.3 676.4,558.2 678.0,558.6 679.5,558.7 681.0,558.8 682.6,558.9 684.1,559.1 685.6,559.2 687.2,559.2 688.7,559.2 690.2,559.2 691.8,559.0 693.3,559.2 694.8,559.2 696.4,559.2 697.9,559.1 699.4,559.2 701.0,559.0 702.5,559.2 704.0,559.1 705.6,558.9 707.1,559.0 708.6,559.0 710.2,559.0 711.7,559.1 713.2,559.1 714.8,559.0 716.3,559.1 717.8,559.0 719.4,559.0 720.9,559.0 722.4,558.8 724.0,558.6 725.5,558.6 727.0,558.4 728.6,558.2 730.1,558.1 731.6,557.8 733.2,557.7 734.7,557.4 736.2,557.2 737.8,556.9 739.3,556.5 740.8,556.4 742.4,556.0 743.9,555.5 745.5,555.2 747.0,554.8 748.5,554.3 750.1,554.1 751.6,553.6 753.1,553.1 754.7,552.8 756.2,552.1 757.7,551.8 759.3,551.6 760.8,551.2 762.3,550.5 763.9,549.9 765.4,549.6 766.9,549.2 768.5,548.9 770.0,548.4 771.5,547.9 773.1,547.5 774.6,547.0 776.1,546.2 777.7,545.8 779.2,545.6 780.7,544.3 782.3,543.2 783.8,542.3 785.3,541.7 786.9,540.5 788.4,539.6 789.9,539.0 791.5,537.5 793.0,535.5 794.5,535.0 796.1,533.5 797.6,532.2 799.1,529.9 800.7,527.6 802.2,526.0 803.7,525.4 805.3,522.7 806.8,519.5 808.3,517.6 809.9,513.2 811.4,508.0 812.9,504.2 814.5,499.3 816.0,492.4 817.5,486.2 819.1,481.3 820.6,477.1"/>
<path d="M477.0,561.4 478.5,559.7 480.1,558.1 481.6,556.3 483.1,554.6 484.7,552.9 486.2,551.2 487.7,549.7 489.3,548.3 490.8,547.0 492.3,545.6 493.9,543.8 495.4,542.8 496.9,541.9 498.5,540.6 500.0,540.5 501.5,541.0 503.1,542.2 504.6,542.7 506.1,543.8 507.7,544.5 509.2,544.9 510.7,545.8 512.3,546.5 513.8,547.3 515.4,548.3 516.9,549.1 518.4,550.2 520.0,550.9 521.5,552.2 523.0,552.9 524.6,553.8 526.1,554.4 527.6,554.8 529.2,555.5 530.7,556.2 532.2,557.2 533.8,557.8 535.3,558.4 536.8,559.0 538.4,559.5 539.9,560.0 541.4,560.5 543.0,560.8 544.5,561.2 546.0,561.4 547.6,561.5 549.1,561.7 550.6,562.0 552.2,562.1 553.7,562.1 555.2,562.3 556.8,562.3 558.3,562.3 559.8,562.4 561.4,562.5 562.9,562.5 564.4,562.7 566.0,562.6 567.5,562.7 569.0,562.8 570.6,562.8 572.1,562.8 573.6,562.4 575.2,562.8 576.7,562.7 578.2,562.8 579.8,562.7 581.3,562.7 582.8,562.8 584.4,562.9 585.9,562.8 587.4,562.7 589.0,562.9 590.5,562.6 592.0,562.9 593.6,562.8 595.1,562.8 596.7,562.9 598.2,562.8 599.7,562.9 601.3,562.8 602.8,562.8 604.3,562.7 605.9,562.9 607.4,562.7 608.9,562.8 610.5,562.8 612.0,562.8 613.5,562.7 615.1,562.8 616.6,562.7 618.1,562.5 619.7,562.8 621.2,562.5 622.7,562.6 624.3,562.5 625.8,562.4 627.3,562.3 628.9,562.1 630.4,562.1 631.9,561.9 633.5,562.0 635.0,561.7 636.5,561.8 638.1,561.6 639.6,561.6 641.1,561.5 642.7,561.5 644.2,561.5 645.7,561.4 647.3,561.3 648.8,561.2 650.3,561.5 651.9,561.4 653.4,561.4 654.9,561.3 656.5,561.3 658.0,561.2 659.5,561.2 661.1,560.8 662.6,561.0 664.1,560.8 665.7,560.7 667.2,560.6 668.8,560.7 670.3,560.6 671.8,560.5 673.4,560.6 674.9,560.4 676.4,560.5 678.0,560.4 679.5,560.4 681.0,560.4 682.6,560.5 684.1,560.6 685.6,560.5 687.2,560.6 688.7,560.5 690.2,560.4 691.8,560.5 693.3,560.3 694.8,560.1 696.4,560.1 697.9,559.9 699.4,559.7 701.0,559.4 702.5,559.5 704.0,559.2 705.6,559.0 707.1,559.0 708.6,558.7 710.2,558.6 711.7,558.5 713.2,558.4 714.8,558.2 716.3,558.0 717.8,557.7 719.4,557.3 720.9,557.0 722.4,556.8 724.0,556.6 725.5,556.4 727.0,555.9 728.6,555.6 730.1,555.4 731.6,555.0 733.2,554.7 734.7,554.3 736.2,554.1 737.8,553.5 739.3,553.3 740.8,553.1 742.4,552.7 743.9,552.3 745.5,551.8 747.0,551.0 748.5,550.9 750.1,550.2 751.6,548.3 753.1,547.6 754.7,547.0 756.2,546.4 757.7,545.9 759.3,545.8 760.8,545.3 762.3,544.9 763.9,544.5 765.4,544.0 766.9,543.5 768.5,543.0 770.0,542.6 771.5,541.9 773.1,543.4 774.6,542.9 776.1,542.3 777.7,541.7 779.2,540.6 780.7,540.4 782.3,539.8 783.8,538.8 785.3,538.0 786.9,536.9 788.4,536.1 789.9,535.9 791.5,535.0 793.0,535.1 794.5,533.7 796.1,532.8 797.6,531.9 799.1,530.9 800.7,529.7 802.2,527.9 803.7,526.5 805.3,525.7 806.8,523.4 808.3,521.2 809.9,516.0 811.4,508.7 812.9,503.7 814.5,495.8 816.0,489.1 817.5,481.8 819.1,473.9 820.6,464.7"/>
<path d="M477.0,558.6 478.5,557.7 480.1,557.2 481.6,556.5 483.1,556.4 484.7,555.8 486.2,555.1 487.7,554.8 489.3,554.4 490.8,554.2 492.3,553.4 493.9,552.7 495.4,552.4 496.9,551.8 498.5,551.6 500.0,551.3 501.5,550.7 503.1,550.5 504.6,550.2 506.1,549.5 507.7,549.1 509.2,548.9 510.7,548.3 512.3,548.1 513.8,548.4 515.4,548.8 516.9,548.7 518.4,548.9 520.0,549.3 521.5,549.6 523.0,549.7 524.6,549.9 526.1,550.4 527.6,550.8 529.2,551.1 530.7,551.4 532.2,551.9 533.8,552.2 535.3,552.6 536.8,552.7 538.4,553.2 539.9,553.6 541.4,553.7 543.0,554.0 544.5,554.2 546.0,554.3 547.6,554.6 549.1,554.8 550.6,555.2 552.2,555.4 553.7,555.5 555.2,555.6 556.8,555.9 558.3,556.2 559.8,556.4 561.4,556.6 562.9,556.8 564.4,557.0 566.0,557.3 567.5,557.5 569.0,557.8 570.6,558.1 572.1,558.3 573.6,558.6 575.2,558.7 576.7,559.1 578.2,559.1 579.8,559.5 581.3,559.6 582.8,559.9 584.4,560.1 585.9,560.4 587.4,560.5 589.0,560.8 590.5,561.0 592.0,561.0 593.6,561.2 595.1,561.4 596.7,561.5 598.2,561.7 599.7,561.7 601.3,561.8 602.8,561.9 604.3,561.7 605.9,562.0 607.4,562.0 608.9,562.1 610.5,562.0 612.0,562.2 613.5,562.0 615.1,562.1 616.6,562.3 618.1,562.4 619.7,562.5 621.2,562.5 622.7,562.4 624.3,562.6 625.8,562.5 627.3,562.6 628.9,562.6 630.4,562.7 631.9,562.6 633.5,562.7 635.0,562.7 636.5,562.8 638.1,562.6 639.6,562.6 641.1,562.7 642.7,562.7 644.2,562.7 645.7,562.6 647.3,562.7 648.8,562.6 650.3,562.7 651.9,562.7 653.4,562.6 654.9,562.8 656.5,562.6 658.0,562.6 659.5,562.6 661.1,562.6 662.6,562.4 664.1,562.5 665.7,562.5 667.2,562.5 668.8,562.4 670.3,562.3 671.8,562.2 673.4,562.4 674.9,562.2 676.4,562.2 678.0,562.1 679.5,562.2 681.0,562.0 682.6,561.9 684.1,561.8 685.6,561.8 687.2,561.7 688.7,561.6 690.2,561.6 691.8,561.5 693.3,561.4 694.8,561.3 696.4,561.1 697.9,560.8 699.4,560.7 701.0,560.5 702.5,560.4 704.0,560.1 705.6,560.1 707.1,559.8 708.6,559.6 710.2,559.3 711.7,559.2 713.2,558.8 714.8,558.7 716.3,558.4 717.8,558.1 719.4,557.8 720.9,557.9 722.4,557.6 724.0,557.1 725.5,556.9 727.0,556.6 728.6,556.2 730.1,555.7 731.6,555.7 733.2,555.4 734.7,555.1 736.2,554.4 737.8,554.2 739.3,553.7 740.8,553.0 742.4,552.2 743.9,551.2 745.5,550.4 747.0,549.4 748.5,548.4 750.1,547.8 751.6,546.9 753.1,545.8 754.7,545.0 756.2,544.5 757.7,544.5 759.3,544.2 760.8,544.1 762.3,544.5 763.9,544.8 765.4,544.9 766.9,544.9 768.5,544.7 770.0,545.1 771.5,544.5 773.1,544.6 774.6,544.9 776.1,545.1 777.7,545.5 779.2,544.9 780.7,544.9 782.3,544.9 783.8,544.9 785.3,544.7 786.9,544.9 788.4,545.0 789.9,544.9 791.5,544.6 793.0,544.3 794.5,544.4 796.1,543.7 797.6,543.4 799.1,543.4 800.7,543.8 802.2,543.4 803.7,543.3 805.3,542.3 806.8,541.8 808.3,541.1 809.9,539.2 811.4,538.3 812.9,536.7 814.5,534.6 816.0,532.5 817.5,530.8 819.1,529.1 820.6,526.8"/>
<path d="M477.0,561.5 478.5,560.0 480.1,558.7 481.6,557.3 483.1,556.2 484.7,554.8 486.2,553.5 487.7,552.2 489.3,551.5 490.8,550.4 492.3,550.1 493.9,548.9 495.4,547.9 496.9,546.7 498.5,546.1 500.0,545.0 501.5,544.3 503.1,543.5 504.6,543.1 506.1,543.3 507.7,543.1 509.2,543.2 510.7,543.2 512.3,543.6 513.8,543.9 515.4,544.2 516.9,545.3 518.4,546.0 520.0,546.7 521.5,547.4 523.0,547.7 524.6,548.4 526.1,548.8 527.6,549.5 529.2,549.3 530.7,550.1 532.2,551.0 533.8,551.6 535.3,552.2 536.8,553.1 538.4,553.7 539.9,554.3 541.4,555.0 543.0,555.7 544.5,556.3 546.0,556.5 547.6,557.0 549.1,557.4 550.6,558.2 552.2,558.3 553.7,558.5 555.2,558.9 556.8,559.1 558.3,559.5 559.8,559.6 561.4,559.7 562.9,559.9 564.4,560.1 566.0,560.3 567.5,560.6 569.0,560.8 570.6,560.9 572.1,560.9 573.6,561.0 575.2,561.2 576.7,561.4 578.2,561.3 579.8,561.4 581.3,561.6 582.8,561.7 584.4,561.9 585.9,561.9 587.4,562.0 589.0,562.1 590.5,561.9 592.0,562.0 593.6,562.3 595.1,562.2 596.7,562.2 598.2,562.4 599.7,562.4 601.3,562.3 602.8,562.4 604.3,562.5 605.9,562.6 607.4,562.6 608.9,562.8 610.5,562.8 612.0,562.7 613.5,562.8 615.1,562.7 616.6,563.0 618.1,562.8 619.7,562.7 621.2,562.9 622.7,562.9 624.3,562.8 625.8,562.7 627.3,562.8 628.9,562.6 630.4,562.8 631.9,562.5 633.5,562.6 635.0,562.6 636.5,562.7 638.1,562.6 639.6,562.5 641.1,562.5 642.7,562.6 644.2,562.7 645.7,562.5 647.3,562.7 648.8,562.5 650.3,562.5 651.9,562.6 653.4,562.6 654.9,562.4 656.5,562.4 658.0,562.4 659.5,562.5 661.1,562.5 662.6,562.6 664.1,562.5 665.7,562.5 667.2,562.5 668.8,562.5 670.3,562.5 671.8,562.4 673.4,562.4 674.9,562.3 676.4,562.3 678.0,562.3 679.5,562.1 681.0,562.0 682.6,561.9 684.1,561.8 685.6,561.6 687.2,561.6 688.7,561.6 690.2,561.5 691.8,561.5 693.3,561.4 694.8,561.3 696.4,561.2 697.9,561.2 699.4,561.0 701.0,560.8 702.5,560.8 704.0,560.7 705.6,560.7 707.1,560.4 708.6,560.4 710.2,560.2 711.7,560.2 713.2,560.2 714.8,560.1 716.3,560.0 717.8,560.1 719.4,560.1 720.9,560.1 722.4,560.1 724.0,560.1 725.5,560.2 727.0,560.2 728.6,560.3 730.1,560.1 731.6,560.3 733.2,560.1 734.7,560.1 736.2,560.2 737.8,560.1 739.3,560.2 740.8,560.2 742.4,560.2 743.9,560.2 745.5,560.2 747.0,560.1 748.5,559.9 750.1,559.7 751.6,559.7 753.1,559.5 754.7,559.7 756.2,559.8 757.7,559.6 759.3,559.6 760.8,559.6 762.3,559.2 763.9,559.3 765.4,558.9 766.9,558.8 768.5,558.6 770.0,558.8 771.5,558.6 773.1,558.4 774.6,558.2 776.1,557.9 777.7,557.5 779.2,557.2 780.7,557.0 782.3,556.5 783.8,556.3 785.3,555.8 786.9,555.3 788.4,554.7 789.9,554.1 791.5,553.1 793.0,552.1 794.5,551.1 796.1,550.0 797.6,549.0 799.1,547.7 800.7,546.7 802.2,545.5 803.7,542.9 805.3,541.6 806.8,540.1 808.3,538.1 809.9,536.3 811.4,534.6 812.9,532.1 814.5,528.7 816.0,526.5 817.5,524.2 819.1,522.2 820.6,519.3"/>
<path d="M477.0,561.5 478.5,560.9 480.1,560.2 481.6,559.5 483.1,558.9 484.7,558.4 486.2,558.1 487.7,557.5 489.3,557.0 490.8,556.4 492.3,556.1 493.9,556.1 495.4,555.8 496.9,555.6 498.5,555.4 500.0,555.3 501.5,555.3 503.1,555.4 504.6,555.4 506.1,555.6 507.7,555.7 509.2,556.0 510.7,556.0 512.3,556.2 513.8,556.3 515.4,556.5 516.9,556.8 518.4,557.0 520.0,557.1 521.5,557.4 523.0,557.6 524.6,557.9 526.1,558.1 527.6,558.2 529.2,558.3 530.7,558.5 532.2,558.7 533.8,558.9 535.3,559.2 536.8,559.5 538.4,559.6 539.9,559.9 541.4,560.3 543.0,560.5 544.5,560.9 546.0,561.1 547.6,561.4 549.1,561.5 550.6,561.6 552.2,562.0 553.7,562.1 555.2,562.4 556.8,562.8 558.3,562.8 559.8,562.9 561.4,563.1 562.9,563.2 564.4,563.2 566.0,563.5 567.5,563.4 569.0,563.5 570.6,563.5 572.1,563.5 573.6,563.4 575.2,563.5 576.7,563.4 578.2,563.5 579.8,563.6 581.3,563.5 582.8,563.5 584.4,563.6 585.9,563.4 587.4,563.5 589.0,563.4 590.5,563.4 592.0,563.5 593.6,563.4 595.1,563.5 596.7,563.4 598.2,563.4 599.7,563.5 601.3,563.4 602.8,563.4 604.3,563.3 605.9,563.3 607.4,563.3 608.9,563.3 610.5,563.4 612.0,563.3 613.5,563.3 615.1,563.4 616.6,563.3 618.1,563.1 619.7,563.3 621.2,563.2 622.7,563.1 624.3,563.0 625.8,563.0 627.3,562.7 628.9,562.5 630.4,562.2 631.9,562.3 633.5,562.0 635.0,561.9 636.5,561.7 638.1,561.7 639.6,561.6 641.1,561.5 642.7,561.4 644.2,561.5 645.7,561.5 647.3,561.5 648.8,561.6 650.3,561.6 651.9,561.5 653.4,561.6 654.9,561.5 656.5,561.5 658.0,561.5 659.5,561.5 661.1,561.4 662.6,561.4 664.1,561.6 665.7,561.5 667.2,561.6 668.8,561.5 670.3,561.9 671.8,561.7 673.4,561.8 674.9,562.1 676.4,562.1 678.0,562.2 679.5,562.3 681.0,562.3 682.6,562.3 684.1,562.5 685.6,562.7 687.2,562.6 688.7,562.7 690.2,562.8 691.8,562.8 693.3,562.8 694.8,562.7 696.4,562.6 697.9,562.4 699.4,562.4 701.0,562.4 702.5,562.2 704.0,562.1 705.6,562.0 707.1,561.9 708.6,561.7 710.2,561.6 711.7,561.5 713.2,561.2 714.8,561.4 716.3,561.2 717.8,561.1 719.4,561.0 720.9,560.8 722.4,560.7 724.0,560.6 725.5,560.5 727.0,560.2 728.6,560.1 730.1,560.0 731.6,559.7 733.2,559.5 734.7,559.5 736.2,559.1 737.8,559.0 739.3,558.8 740.8,558.5 742.4,558.0 743.9,557.7 745.5,557.1 747.0,556.8 748.5,556.2 750.1,555.6 751.6,555.0 753.1,554.4 754.7,553.7 756.2,553.1 757.7,552.1 759.3,551.5 760.8,550.6 762.3,549.7 763.9,548.6 765.4,547.5 766.9,546.3 768.5,545.0 770.0,543.2 771.5,541.6 773.1,540.2 774.6,538.8 776.1,537.0 777.7,535.4 779.2,533.8 780.7,532.1 782.3,530.0 783.8,527.6 785.3,524.6 786.9,520.7 788.4,515.7 789.9,510.7 791.5,506.2 793.0,501.0 794.5,495.2 796.1,488.1 797.6,482.6 799.1,477.5 800.7,471.5 802.2,465.0 803.7,459.0 805.3,452.7 806.8,445.8 808.3,437.6 809.9,427.1 811.4,420.1 812.9,416.6 814.5,416.4 816.0,416.6 817.5,414.8 819.1,399.5 820.6,378.5"/>
<path d="M477.0,563.5 478.5,563.3 480.1,563.2 481.6,562.9 483.1,562.9 484.7,562.6 486.2,562.5 487.7,562.3 489.3,562.1 490.8,562.1 492.3,562.0 493.9,561.9 495.4,561.9 496.9,561.8 498.5,561.7 500.0,561.8 501.5,561.7 503.1,561.7 504.6,561.7 506.1,561.5 507.7,561.6 509.2,561.6 510.7,561.7 512.3,561.9 513.8,561.9 515.4,561.9 516.9,562.0 518.4,561.9 520.0,562.1 521.5,562.0 523.0,562.1 524.6,562.1 526.1,562.3 527.6,562.1 529.2,562.2 530.7,562.3 532.2,562.4 533.8,562.4 535.3,562.2 536.8,562.7 538.4,562.6 539.9,562.7 541.4,562.7 543.0,562.9 544.5,562.9 546.0,562.9 547.6,563.1 549.1,563.1 550.6,563.2 552.2,563.3 553.7,563.4 555.2,563.5 556.8,563.4 558.3,563.6 559.8,563.7 561.4,563.6 562.9,563.6 564.4,563.6 566.0,563.7 567.5,563.8 569.0,563.8 570.6,563.8 572.1,563.8 573.6,563.7 575.2,563.7 576.7,563.7 578.2,563.8 579.8,563.8 581.3,563.8 582.8,563.6 584.4,563.9 585.9,563.7 587.4,563.7 589.0,563.8 590.5,563.7 592.0,563.6 593.6,563.7 595.1,563.6 596.7,563.5 598.2,563.6 599.7,563.6 601.3,563.6 602.8,563.5 604.3,563.5 605.9,563.7 607.4,563.5 608.9,563.5 610.5,563.6 612.0,563.6 613.5,563.6 615.1,563.6 616.6,563.5 618.1,563.5 619.7,563.5 621.2,563.5 622.7,563.5 624.3,563.3 625.8,563.4 627.3,563.3 628.9,563.2 630.4,563.3 631.9,563.2 633.5,563.2 635.0,563.1 636.5,563.2 638.1,563.2 639.6,563.1 641.1,563.1 642.7,563.1 644.2,562.9 645.7,563.0 647.3,563.0 648.8,562.9 650.3,562.8 651.9,563.0 653.4,562.9 654.9,562.8 656.5,562.7 658.0,562.7 659.5,562.8 661.1,562.8 662.6,562.7 664.1,562.6 665.7,562.7 667.2,562.8 668.8,562.8 670.3,562.6 671.8,562.7 673.4,562.7 674.9,562.6 676.4,562.7 678.0,562.8 679.5,562.8 681.0,562.9 682.6,562.6 684.1,562.9 685.6,562.7 687.2,562.8 688.7,562.8 690.2,562.8 691.8,562.7 693.3,562.6 694.8,562.6 696.4,562.6 697.9,562.6 699.4,562.5 701.0,562.4 702.5,562.1 704.0,562.0 705.6,562.1 707.1,562.1 708.6,561.8 710.2,561.6 711.7,561.8 713.2,561.7 714.8,561.5 716.3,561.5 717.8,561.3 719.4,561.2 720.9,561.1 722.4,561.0 724.0,561.0 725.5,560.9 727.0,560.6 728.6,560.5 730.1,560.4 731.6,560.2 733.2,560.0 734.7,559.7 736.2,559.5 737.8,559.2 739.3,559.1 740.8,558.6 742.4,558.3 743.9,558.0 745.5,557.4 747.0,556.9 748.5,556.4 750.1,555.7 751.6,554.9 753.1,554.2 754.7,553.5 756.2,553.0 757.7,552.4 759.3,551.9 760.8,551.0 762.3,550.4 763.9,549.6 765.4,548.6 766.9,548.2 768.5,547.6 770.0,546.8 771.5,545.8 773.1,545.6 774.6,545.7 776.1,544.8 777.7,543.7 779.2,542.7 780.7,541.7 782.3,540.3 783.8,539.4 785.3,538.5 786.9,537.0 788.4,534.8 789.9,532.7 791.5,529.9 793.0,526.7 794.5,523.2 796.1,518.6 797.6,515.0 799.1,511.1 800.7,507.6 802.2,503.2 803.7,499.9 805.3,495.1 806.8,491.2 808.3,484.8 809.9,479.0 811.4,472.0 812.9,467.0 814.5,462.9 816.0,457.1 817.5,450.2 819.1,442.9 820.6,434.9"/>
<path d="M477.0,563.8 478.5,563.7 480.1,563.4 481.6,563.4 483.1,563.1 484.7,563.0 486.2,562.8 487.7,562.8 489.3,562.6 490.8,562.6 492.3,562.5 493.9,562.3 495.4,562.2 496.9,562.2 498.5,562.0 500.0,562.0 501.5,561.8 503.1,561.8 504.6,561.7 506.1,561.6 507.7,561.6 509.2,561.4 510.7,561.5 512.3,561.3 513.8,561.1 515.4,561.1 516.9,560.9 518.4,561.0 520.0,561.0 521.5,561.1 523.0,560.9 524.6,560.8 526.1,560.8 527.6,560.8 529.2,561.0 530.7,560.8 532.2,561.0 533.8,561.0 535.3,561.0 536.8,561.2 538.4,561.2 539.9,561.1 541.4,561.1 543.0,560.9 544.5,561.1 546.0,561.0 547.6,561.1 549.1,561.0 550.6,561.1 552.2,561.2 553.7,561.1 555.2,561.0 556.8,561.0 558.3,561.1 559.8,560.9 561.4,560.9 562.9,561.0 564.4,561.1 566.0,560.9 567.5,561.0 569.0,561.0 570.6,561.1 572.1,561.0 573.6,561.0 575.2,561.0 576.7,561.1 578.2,560.9 579.8,561.0 581.3,560.9 582.8,560.8 584.4,560.9 585.9,561.0 587.4,561.0 589.0,560.9 590.5,560.9 592.0,560.8 593.6,561.0 595.1,561.0 596.7,561.0 598.2,560.9 599.7,560.8 601.3,561.1 602.8,560.9 604.3,561.1 605.9,560.9 607.4,561.0 608.9,560.9 610.5,560.9 612.0,561.0 613.5,560.9 615.1,561.0 616.6,561.0 618.1,561.0 619.7,561.0 621.2,560.9 622.7,561.1 624.3,561.2 625.8,561.2 627.3,561.1 628.9,561.0 630.4,561.4 631.9,561.4 633.5,561.4 635.0,561.3 636.5,561.5 638.1,561.5 639.6,561.5 641.1,561.4 642.7,561.6 644.2,561.5 645.7,561.6 647.3,561.5 648.8,561.6 650.3,561.6 651.9,561.6 653.4,561.6 654.9,561.6 656.5,561.6 658.0,561.5 659.5,561.6 661.1,561.5 662.6,561.6 664.1,561.5 665.7,561.6 667.2,561.4 668.8,561.5 670.3,561.4 671.8,561.4 673.4,561.4 674.9,561.1 676.4,561.0 678.0,561.0 679.5,561.0 681.0,560.8 682.6,560.8 684.1,560.6 685.6,560.4 687.2,560.5 688.7,560.4 690.2,560.3 691.8,560.2 693.3,560.2 694.8,560.1 696.4,560.0 697.9,560.0 699.4,559.6 701.0,559.8 702.5,559.7 704.0,559.7 705.6,559.6 707.1,559.7 708.6,559.7 710.2,559.8 711.7,559.7 713.2,559.7 714.8,559.4 716.3,559.4 717.8,559.3 719.4,559.4 720.9,559.6 722.4,559.5 724.0,559.6 725.5,559.7 727.0,559.7 728.6,559.5 730.1,559.5 731.6,559.5 733.2,559.2 734.7,559.2 736.2,559.5 737.8,559.5 739.3,559.2 740.8,559.4 742.4,559.3 743.9,559.3 745.5,559.1 747.0,559.1 748.5,559.0 750.1,558.9 751.6,559.0 753.1,559.0 754.7,558.9 756.2,558.9 757.7,558.8 759.3,558.9 760.8,558.9 762.3,558.7 763.9,558.5 765.4,558.1 766.9,557.6 768.5,557.6 770.0,556.9 771.5,556.5 773.1,555.9 774.6,555.2 776.1,554.5 777.7,554.1 779.2,553.5 780.7,552.8 782.3,552.0 783.8,551.1 785.3,550.1 786.9,548.9 788.4,547.2 789.9,544.9 791.5,542.8 793.0,539.9 794.5,536.4 796.1,532.6 797.6,529.4 799.1,525.6 800.7,521.2 802.2,517.3 803.7,512.4 805.3,508.5 806.8,503.9 808.3,497.8 809.9,492.6 811.4,486.0 812.9,475.0 814.5,469.2 816.0,466.0 817.5,455.3 819.1,446.6 820.6,439.9"/>
<path d="M477.0,563.9 478.5,564.0 480.1,563.9 481.6,563.9 483.1,563.7 484.7,563.9 486.2,563.8 487.7,563.6 489.3,563.8 490.8,563.7 492.3,563.6 493.9,563.5 495.4,563.5 496.9,563.5 498.5,563.4 500.0,563.2 501.5,563.2 503.1,563.2 504.6,563.2 506.1,562.9 507.7,563.1 509.2,562.8 510.7,562.7 512.3,562.7 513.8,562.5 515.4,562.4 516.9,562.2 518.4,562.2 520.0,562.0 521.5,561.9 523.0,561.8 524.6,562.0 526.1,562.0 527.6,562.0 529.2,562.1 530.7,562.1 532.2,562.1 533.8,562.1 535.3,561.9 536.8,562.2 538.4,562.1 539.9,562.1 541.4,562.1 543.0,562.1 544.5,562.2 546.0,562.2 547.6,562.3 549.1,562.3 550.6,562.4 552.2,562.3 553.7,562.5 555.2,562.4 556.8,562.4 558.3,562.5 559.8,562.4 561.4,562.5 562.9,562.3 564.4,562.6 566.0,562.3 567.5,562.5 569.0,562.5 570.6,562.4 572.1,562.6 573.6,562.5 575.2,562.4 576.7,562.5 578.2,562.6 579.8,562.6 581.3,562.6 582.8,562.6 584.4,562.8 585.9,562.8 587.4,562.7 589.0,562.8 590.5,562.9 592.0,563.0 593.6,563.0 595.1,563.0 596.7,563.3 598.2,563.1 599.7,563.3 601.3,563.2 602.8,563.3 604.3,563.4 605.9,563.3 607.4,563.3 608.9,563.3 610.5,563.3 612.0,563.5 613.5,563.5 615.1,563.6 616.6,563.4 618.1,563.5 619.7,563.5 621.2,563.4 622.7,563.4 624.3,563.7 625.8,563.6 627.3,563.5 628.9,563.5 630.4,563.5 631.9,563.6 633.5,563.3 635.0,563.5 636.5,563.5 638.1,563.6 639.6,563.6 641.1,563.6 642.7,563.4 644.2,563.4 645.7,563.6 647.3,563.5 648.8,563.5 650.3,563.6 651.9,563.5 653.4,563.6 654.9,563.4 656.5,563.6 658.0,563.5 659.5,563.6 661.1,563.4 662.6,563.6 664.1,563.5 665.7,563.6 667.2,563.5 668.8,563.5 670.3,563.4 671.8,563.4 673.4,563.3 674.9,563.4 676.4,563.4 678.0,563.3 679.5,563.4 681.0,563.4 682.6,563.3 684.1,563.4 685.6,563.5 687.2,563.2 688.7,563.2 690.2,563.2 691.8,563.3 693.3,563.2 694.8,563.0 696.4,563.3 697.9,563.3 699.4,563.1 701.0,563.0 702.5,563.0 704.0,562.9 705.6,563.0 707.1,562.8 708.6,562.7 710.2,562.7 711.7,562.7 713.2,562.7 714.8,562.5 716.3,562.5 717.8,562.4 719.4,562.3 720.9,562.3 722.4,562.1 724.0,562.1 725.5,561.9 727.0,561.7 728.6,561.6 730.1,561.2 731.6,561.1 733.2,561.0 734.7,560.8 736.2,560.5 737.8,560.3 739.3,559.8 740.8,559.4 742.4,558.6 743.9,557.9 745.5,557.1 747.0,556.2 748.5,555.2 750.1,554.3 751.6,553.3 753.1,552.4 754.7,551.3 756.2,550.4 757.7,549.6 759.3,548.8 760.8,548.2 762.3,546.9 763.9,547.6 765.4,547.1 766.9,546.7 768.5,546.4 770.0,545.9 771.5,545.5 773.1,545.1 774.6,544.9 776.1,544.8 777.7,543.9 779.2,543.7 780.7,543.7 782.3,542.8 783.8,543.0 785.3,542.2 786.9,541.4 788.4,541.0 789.9,541.2 791.5,540.8 793.0,540.5 794.5,539.6 796.1,539.3 797.6,538.7 799.1,538.2 800.7,537.4 802.2,536.8 803.7,536.4 805.3,534.4 806.8,532.9 808.3,530.8 809.9,528.2 811.4,524.7 812.9,521.0 814.5,515.3 816.0,512.9 817.5,508.2 819.1,503.1 820.6,499.4"/>
<path d="M477.0,563.7 478.5,563.5 480.1,563.2 481.6,563.1 483.1,563.0 484.7,562.7 486.2,562.6 487.7,562.2 489.3,562.1 490.8,562.0 492.3,561.8 493.9,561.7 495.4,561.6 496.9,561.2 498.5,561.2 500.0,560.8 501.5,560.9 503.1,560.5 504.6,560.4 506.1,560.4 507.7,560.1 509.2,560.0 510.7,559.9 512.3,559.8 513.8,559.8 515.4,559.4 516.9,559.3 518.4,559.4 520.0,559.2 521.5,559.2 523.0,559.2 524.6,559.3 526.1,559.4 527.6,559.4 529.2,559.6 530.7,559.6 532.2,559.7 533.8,559.8 535.3,560.0 536.8,560.2 538.4,560.4 539.9,560.4 541.4,560.6 543.0,560.8 544.5,560.8 546.0,561.1 547.6,561.1 549.1,561.4 550.6,561.6 552.2,561.8 553.7,561.9 555.2,562.1 556.8,562.3 558.3,562.4 559.8,562.7 561.4,562.7 562.9,562.9 564.4,562.8 566.0,563.1 567.5,563.1 569.0,563.2 570.6,563.3 572.1,563.2 573.6,563.2 575.2,563.2 576.7,563.4 578.2,563.2 579.8,563.3 581.3,563.3 582.8,563.2 584.4,563.5 585.9,563.5 587.4,563.4 589.0,563.7 590.5,563.5 592.0,563.5 593.6,563.3 595.1,563.3 596.7,563.5 598.2,563.3 599.7,563.6 601.3,563.4 602.8,563.5 604.3,563.5 605.9,563.4 607.4,563.4 608.9,563.5 610.5,563.5 612.0,563.4 613.5,563.5 615.1,563.5 616.6,563.4 618.1,563.5 619.7,563.5 621.2,563.5 622.7,563.4 624.3,563.2 625.8,563.2 627.3,563.0 628.9,562.8 630.4,562.8 631.9,562.8 633.5,562.4 635.0,562.2 636.5,562.0 638.1,561.8 639.6,561.7 641.1,561.5 642.7,561.5 644.2,561.3 645.7,561.3 647.3,561.1 648.8,561.0 650.3,560.8 651.9,560.7 653.4,560.6 654.9,560.5 656.5,560.2 658.0,560.3 659.5,560.2 661.1,560.0 662.6,560.0 664.1,560.2 665.7,560.2 667.2,560.0 668.8,560.1 670.3,560.2 671.8,560.1 673.4,560.2 674.9,560.1 676.4,560.0 678.0,560.2 679.5,560.1 681.0,560.0 682.6,560.2 684.1,560.2 685.6,560.0 687.2,560.0 688.7,560.0 690.2,560.2 691.8,560.1 693.3,559.8 694.8,559.4 696.4,558.9 697.9,558.4 699.4,557.8 701.0,557.0 702.5,556.5 704.0,555.7 705.6,554.9 707.1,554.6 708.6,554.1 710.2,553.5 711.7,552.9 713.2,552.7 714.8,552.7 716.3,552.2 717.8,551.9 719.4,551.6 720.9,550.9 722.4,550.7 724.0,550.4 725.5,550.3 727.0,549.9 728.6,549.5 730.1,549.4 731.6,549.0 733.2,549.4 734.7,548.9 736.2,548.6 737.8,548.7 739.3,548.5 740.8,548.6 742.4,548.3 743.9,548.7 745.5,548.8 747.0,549.1 748.5,549.0 750.1,549.4 751.6,549.5 753.1,550.1 754.7,550.2 756.2,550.7 757.7,550.8 759.3,550.5 760.8,551.0 762.3,551.7 763.9,552.3 765.4,552.7 766.9,552.8 768.5,553.0 770.0,553.6 771.5,553.6 773.1,553.7 774.6,553.7 776.1,553.9 777.7,553.9 779.2,553.9 780.7,554.2 782.3,554.4 783.8,554.0 785.3,553.9 786.9,553.4 788.4,553.0 789.9,552.2 791.5,551.3 793.0,550.5 794.5,549.2 796.1,548.1 797.6,546.6 799.1,545.5 800.7,544.3 802.2,542.7 803.7,540.7 805.3,539.1 806.8,536.6 808.3,533.6 809.9,529.4 811.4,525.2 812.9,519.9 814.5,514.5 816.0,509.1 817.5,502.0 819.1,496.2 820.6,489.5"/>
<path d="M477.0,563.6 478.5,563.7 480.1,563.6 481.6,563.6 483.1,563.4 484.7,563.4 486.2,563.3 487.7,563.1 489.3,563.0 490.8,562.7 492.3,562.5 493.9,562.4 495.4,562.2 496.9,562.1 498.5,562.2 500.0,561.7 501.5,561.7 503.1,561.5 504.6,561.2 506.1,561.0 507.7,560.8 509.2,560.3 510.7,560.3 512.3,560.0 513.8,559.8 515.4,559.1 516.9,558.8 518.4,558.3 520.0,557.9 521.5,557.8 523.0,557.6 524.6,557.6 526.1,557.4 527.6,557.3 529.2,557.3 530.7,557.2 532.2,557.2 533.8,556.8 535.3,557.0 536.8,556.5 538.4,556.8 539.9,556.6 541.4,556.8 543.0,556.8 544.5,556.6 546.0,556.3 547.6,556.3 549.1,556.4 550.6,556.4 552.2,556.4 553.7,556.4 555.2,556.5 556.8,556.5 558.3,556.6 559.8,556.7 561.4,556.9 562.9,557.0 564.4,557.1 566.0,557.3 567.5,557.3 569.0,557.4 570.6,557.3 572.1,557.6 573.6,557.6 575.2,558.1 576.7,558.3 578.2,558.6 579.8,558.6 581.3,559.0 582.8,558.8 584.4,559.1 585.9,559.3 587.4,559.6 589.0,559.8 590.5,559.7 592.0,559.8 593.6,559.9 595.1,560.0 596.7,560.0 598.2,560.0 599.7,559.8 601.3,559.9 602.8,559.9 604.3,560.0 605.9,559.8 607.4,559.5 608.9,559.4 610.5,559.4 612.0,559.5 613.5,559.5 615.1,559.4 616.6,559.2 618.1,559.1 619.7,558.9 621.2,558.8 622.7,558.4 624.3,558.3 625.8,558.3 627.3,558.2 628.9,557.8 630.4,557.6 631.9,557.4 633.5,557.0 635.0,556.8 636.5,556.5 638.1,556.3 639.6,556.1 641.1,555.9 642.7,555.4 644.2,555.1 645.7,554.5 647.3,554.3 648.8,553.7 650.3,553.2 651.9,552.7 653.4,552.3 654.9,551.4 656.5,550.8 658.0,550.2 659.5,549.7 661.1,549.2 662.6,549.1 664.1,549.3 665.7,548.8 667.2,548.7 668.8,548.2 670.3,548.6 671.8,548.5 673.4,548.6 674.9,548.4 676.4,548.9 678.0,549.0 679.5,549.0 681.0,548.5 682.6,548.3 684.1,547.7 685.6,547.3 687.2,547.1 688.7,546.3 690.2,546.3 691.8,545.7 693.3,544.9 694.8,544.5 696.4,544.6 697.9,544.1 699.4,543.5 701.0,543.4 702.5,543.2 704.0,542.7 705.6,542.7 707.1,543.0 708.6,543.1 710.2,543.6 711.7,543.4 713.2,543.3 714.8,542.3 716.3,542.1 717.8,541.8 719.4,542.0 720.9,541.9 722.4,542.0 724.0,542.1 725.5,542.7 727.0,542.3 728.6,541.6 730.1,541.5 731.6,541.3 733.2,541.2 734.7,541.7 736.2,543.3 737.8,543.6 739.3,543.6 740.8,543.7 742.4,544.2 743.9,544.6 745.5,544.9 747.0,544.7 748.5,545.2 750.1,546.0 751.6,546.3 753.1,546.4 754.7,547.0 756.2,547.0 757.7,546.2 759.3,546.5 760.8,546.8 762.3,546.3 763.9,546.0 765.4,546.0 766.9,545.3 768.5,545.5 770.0,545.3 771.5,544.8 773.1,543.9 774.6,543.8 776.1,542.7 777.7,541.7 779.2,541.6 780.7,541.0 782.3,539.7 783.8,539.4 785.3,538.6 786.9,538.3 788.4,537.5 789.9,536.0 791.5,535.0 793.0,533.4 794.5,532.4 796.1,531.5 797.6,531.0 799.1,529.6 800.7,529.0 802.2,527.2 803.7,525.9 805.3,524.1 806.8,522.8 808.3,520.3 809.9,518.4 811.4,516.8 812.9,514.1 814.5,511.9 816.0,509.9 817.5,505.4 819.1,502.0 820.6,499.4"/>
<path d="M477.0,564.0 478.5,564.0 480.1,563.9 481.6,563.8 483.1,563.8 484.7,563.6 486.2,563.8 487.7,563.7 489.3,563.7 490.8,563.7 492.3,563.6 493.9,563.5 495.4,563.5 496.9,563.4 498.5,563.3 500.0,563.5 501.5,563.2 503.1,563.2 504.6,563.2 506.1,563.1 507.7,563.1 509.2,563.0 510.7,563.0 512.3,563.1 513.8,562.9 515.4,563.0 516.9,563.0 518.4,562.9 520.0,562.9 521.5,562.9 523.0,562.9 524.6,562.7 526.1,562.8 527.6,562.7 529.2,562.6 530.7,562.7 532.2,562.9 533.8,562.6 535.3,562.7 536.8,562.7 538.4,562.7 539.9,562.6 541.4,562.7 543.0,562.6 544.5,562.7 546.0,562.6 547.6,562.7 549.1,562.8 550.6,562.7 552.2,562.7 553.7,562.6 555.2,562.7 556.8,562.6 558.3,562.7 559.8,562.6 561.4,562.7 562.9,562.8 564.4,562.7 566.0,562.6 567.5,562.6 569.0,562.5 570.6,562.6 572.1,562.6 573.6,562.5 575.2,562.5 576.7,562.4 578.2,562.2 579.8,562.3 581.3,562.4 582.8,562.3 584.4,562.2 585.9,562.1 587.4,562.0 589.0,562.1 590.5,562.0 592.0,562.1 593.6,562.1 595.1,562.1 596.7,561.9 598.2,561.9 599.7,562.0 601.3,562.0 602.8,562.1 604.3,562.0 605.9,561.9 607.4,562.1 608.9,562.0 610.5,561.8 612.0,561.7 613.5,561.7 615.1,561.5 616.6,561.7 618.1,561.5 619.7,561.5 621.2,561.4 622.7,561.3 624.3,561.0 625.8,561.1 627.3,560.6 628.9,560.4 630.4,560.0 631.9,559.9 633.5,559.6 635.0,559.4 636.5,559.1 638.1,558.8 639.6,558.7 641.1,558.4 642.7,558.1 644.2,557.8 645.7,557.1 647.3,556.6 648.8,556.2 650.3,555.7 651.9,555.5 653.4,555.1 654.9,554.7 656.5,554.5 658.0,553.8 659.5,553.8 661.1,553.3 662.6,553.4 664.1,553.2 665.7,553.2 667.2,553.9 668.8,553.6 670.3,553.4 671.8,553.3 673.4,553.2 674.9,553.0 676.4,553.2 678.0,552.9 679.5,553.1 681.0,553.2 682.6,553.4 684.1,553.3 685.6,553.3 687.2,553.6 688.7,553.4 690.2,553.9 691.8,553.9 693.3,554.0 694.8,554.3 696.4,554.4 697.9,554.4 699.4,554.9 701.0,555.0 702.5,555.4 704.0,555.5 705.6,556.0 707.1,556.1 708.6,556.1 710.2,556.3 711.7,556.3 713.2,556.3 714.8,556.3 716.3,556.3 717.8,556.7 719.4,556.9 720.9,557.0 722.4,557.2 724.0,557.2 725.5,557.4 727.0,557.3 728.6,557.4 730.1,557.5 731.6,557.4 733.2,557.6 734.7,557.8 736.2,557.4 737.8,557.4 739.3,557.6 740.8,557.7 742.4,557.6 743.9,557.8 745.5,558.0 747.0,558.1 748.5,558.1 750.1,558.1 751.6,558.2 753.1,558.3 754.7,558.2 756.2,558.4 757.7,558.7 759.3,558.8 760.8,558.8 762.3,558.6 763.9,558.6 765.4,558.5 766.9,558.6 768.5,558.4 770.0,558.1 771.5,557.9 773.1,557.7 774.6,557.6 776.1,557.6 777.7,557.5 779.2,557.2 780.7,556.9 782.3,556.8 783.8,556.2 785.3,555.5 786.9,555.0 788.4,554.5 789.9,553.7 791.5,553.2 793.0,552.5 794.5,551.5 796.1,550.7 797.6,549.4 799.1,548.1 800.7,547.1 802.2,545.7 803.7,544.4 805.3,544.5 806.8,542.7 808.3,540.4 809.9,537.5 811.4,534.6 812.9,531.4 814.5,527.7 816.0,523.9 817.5,519.8 819.1,515.5 820.6,511.9"/>
<path d="M477.0,563.4 478.5,563.4 480.1,563.1 481.6,563.0 483.1,563.0 484.7,562.7 486.2,562.8 487.7,562.7 489.3,562.5 490.8,562.6 492.3,562.5 493.9,562.4 495.4,562.2 496.9,562.3 498.5,562.1 500.0,562.2 501.5,562.0 503.1,562.0 504.6,562.2 506.1,562.1 507.7,562.0 509.2,562.1 510.7,562.1 512.3,561.9 513.8,562.0 515.4,562.1 516.9,562.0 518.4,562.0 520.0,562.0 521.5,562.0 523.0,561.9 524.6,561.8 526.1,562.0 527.6,561.9 529.2,561.9 530.7,562.0 532.2,562.1 533.8,562.2 535.3,562.1 536.8,562.3 538.4,562.3 539.9,562.4 541.4,562.4 543.0,562.3 544.5,562.6 546.0,562.6 547.6,562.6 549.1,562.6 550.6,562.9 552.2,562.8 553.7,562.9 555.2,563.0 556.8,563.0 558.3,563.0 559.8,563.2 561.4,563.2 562.9,563.3 564.4,563.4 566.0,563.5 567.5,563.4 569.0,563.5 570.6,563.5 572.1,563.7 573.6,563.6 575.2,563.6 576.7,563.6 578.2,563.5 579.8,563.8 581.3,563.7 582.8,563.5 584.4,563.7 585.9,563.8 587.4,563.6 589.0,563.7 590.5,563.7 592.0,563.6 593.6,563.6 595.1,563.8 596.7,563.6 598.2,563.7 599.7,563.7 601.3,563.6 602.8,563.8 604.3,563.6 605.9,563.7 607.4,563.8 608.9,563.9 610.5,563.8 612.0,563.8 613.5,563.8 615.1,563.7 616.6,563.6 618.1,563.7 619.7,563.7 621.2,563.7 622.7,563.6 624.3,563.7 625.8,563.7 627.3,563.8 628.9,563.6 630.4,563.7 631.9,563.6 633.5,563.6 635.0,563.6 636.5,563.5 638.1,563.6 639.6,563.6 641.1,563.7 642.7,563.4 644.2,563.4 645.7,563.5 647.3,563.4 648.8,563.5 650.3,563.5 651.9,563.4 653.4,563.3 654.9,563.4 656.5,563.3 658.0,563.2 659.5,563.2 661.1,563.1 662.6,563.2 664.1,563.2 665.7,563.3 667.2,563.2 668.8,563.0 670.3,562.9 671.8,563.0 673.4,562.8 674.9,562.8 676.4,562.7 678.0,562.5 679.5,562.3 681.0,562.1 682.6,562.0 684.1,561.9 685.6,561.7 687.2,561.6 688.7,561.5 690.2,561.2 691.8,561.0 693.3,561.0 694.8,560.7 696.4,560.8 697.9,560.5 699.4,560.3 701.0,560.2 702.5,559.9 704.0,559.8 705.6,559.7 707.1,559.7 708.6,559.6 710.2,559.4 711.7,559.4 713.2,559.3 714.8,559.1 716.3,559.1 717.8,559.1 719.4,558.7 720.9,558.4 722.4,558.2 724.0,558.4 725.5,558.3 727.0,558.4 728.6,558.2 730.1,558.3 731.6,558.1 733.2,558.4 734.7,558.3 736.2,558.2 737.8,558.2 739.3,558.1 740.8,558.2 742.4,558.2 743.9,557.9 745.5,557.7 747.0,557.5 748.5,557.4 750.1,556.7 751.6,556.4 753.1,556.3 754.7,556.2 756.2,556.1 757.7,556.0 759.3,556.0 760.8,555.9 762.3,556.1 763.9,556.1 765.4,556.2 766.9,556.0 768.5,556.1 770.0,555.9 771.5,556.5 773.1,556.6 774.6,556.6 776.1,556.3 777.7,556.4 779.2,556.3 780.7,556.5 782.3,556.6 783.8,556.6 785.3,556.6 786.9,556.5 788.4,556.6 789.9,556.5 791.5,556.4 793.0,556.2 794.5,556.1 796.1,555.7 797.6,555.7 799.1,555.6 800.7,555.6 802.2,555.2 803.7,554.8 805.3,554.3 806.8,553.7 808.3,553.0 809.9,551.8 811.4,550.7 812.9,549.2 814.5,548.2 816.0,546.8 817.5,545.4 819.1,543.4 820.6,541.7"/>
<path d="M477.0,563.1 478.5,562.8 480.1,562.4 481.6,562.1 483.1,561.5 484.7,561.3 486.2,561.0 487.7,560.6 489.3,560.4 490.8,560.0 492.3,559.6 493.9,559.3 495.4,559.0 496.9,558.5 498.5,558.5 500.0,558.2 501.5,558.0 503.1,557.6 504.6,557.4 506.1,557.1 507.7,556.6 509.2,556.3 510.7,556.0 512.3,555.6 513.8,555.2 515.4,555.0 516.9,554.6 518.4,554.5 520.0,554.1 521.5,553.6 523.0,553.5 524.6,553.5 526.1,553.4 527.6,553.5 529.2,553.7 530.7,553.8 532.2,554.3 533.8,554.9 535.3,555.1 536.8,555.4 538.4,556.0 539.9,556.5 541.4,557.0 543.0,557.4 544.5,557.7 546.0,558.3 547.6,558.8 549.1,559.1 550.6,559.5 552.2,559.8 553.7,560.0 555.2,560.3 556.8,560.6 558.3,561.0 559.8,561.1 561.4,561.3 562.9,561.8 564.4,562.1 566.0,562.3 567.5,562.6 569.0,562.7 570.6,562.6 572.1,562.9 573.6,562.9 575.2,562.8 576.7,563.2 578.2,562.9 579.8,563.0 581.3,563.3 582.8,563.2 584.4,563.3 585.9,563.3 587.4,563.2 589.0,563.3 590.5,563.3 592.0,563.3 593.6,563.3 595.1,563.4 596.7,563.4 598.2,563.4 599.7,563.4 601.3,563.4 602.8,563.4 604.3,563.5 605.9,563.5 607.4,563.5 608.9,563.3 610.5,563.4 612.0,563.5 613.5,563.6 615.1,563.4 616.6,563.4 618.1,563.4 619.7,563.4 621.2,563.5 622.7,563.5 624.3,563.6 625.8,563.6 627.3,563.5 628.9,563.6 630.4,563.6 631.9,563.5 633.5,563.4 635.0,563.5 636.5,563.4 638.1,563.3 639.6,563.5 641.1,563.6 642.7,563.4 644.2,563.6 645.7,563.6 647.3,563.4 648.8,563.6 650.3,563.5 651.9,563.5 653.4,563.5 654.9,563.6 656.5,563.6 658.0,563.5 659.5,563.6 661.1,563.7 662.6,563.5 664.1,563.7 665.7,563.6 667.2,563.5 668.8,563.4 670.3,563.4 671.8,563.3 673.4,563.1 674.9,563.3 676.4,563.2 678.0,563.2 679.5,563.0 681.0,563.1 682.6,562.9 684.1,562.9 685.6,562.9 687.2,562.9 688.7,562.8 690.2,562.7 691.8,562.6 693.3,562.7 694.8,562.6 696.4,562.7 697.9,562.5 699.4,562.6 701.0,562.5 702.5,562.2 704.0,562.4 705.6,562.1 707.1,562.2 708.6,562.0 710.2,562.0 711.7,561.9 713.2,561.9 714.8,561.8 716.3,561.9 717.8,561.8 719.4,561.7 720.9,561.7 722.4,561.7 724.0,561.7 725.5,561.7 727.0,561.7 728.6,561.5 730.1,561.5 731.6,561.5 733.2,561.5 734.7,561.4 736.2,561.2 737.8,561.4 739.3,561.2 740.8,561.3 742.4,560.9 743.9,560.8 745.5,560.8 747.0,560.4 748.5,560.2 750.1,560.1 751.6,559.9 753.1,559.6 754.7,559.4 756.2,559.4 757.7,559.2 759.3,559.1 760.8,558.9 762.3,558.9 763.9,558.6 765.4,558.8 766.9,558.4 768.5,558.3 770.0,558.2 771.5,558.2 773.1,558.1 774.6,557.9 776.1,557.9 777.7,557.6 779.2,557.5 780.7,557.3 782.3,557.0 783.8,556.7 785.3,556.4 786.9,556.1 788.4,555.7 789.9,554.9 791.5,554.4 793.0,553.7 794.5,552.9 796.1,551.9 797.6,551.2 799.1,549.9 800.7,548.7 802.2,547.5 803.7,546.5 805.3,546.0 806.8,544.6 808.3,542.6 809.9,541.2 811.4,539.5 812.9,536.5 814.5,534.0 816.0,530.2 817.5,527.9 819.1,525.0 820.6,521.8"/>
<path d="M477.0,562.7 478.5,562.2 480.1,561.6 481.6,561.3 483.1,560.8 484.7,560.4 486.2,559.8 487.7,559.5 489.3,558.9 490.8,558.5 492.3,558.1 493.9,557.8 495.4,557.4 496.9,557.3 498.5,556.9 500.0,556.7 501.5,556.4 503.1,556.4 504.6,556.1 506.1,556.0 507.7,556.1 509.2,555.6 510.7,555.4 512.3,555.4 513.8,555.2 515.4,555.1 516.9,555.1 518.4,554.9 520.0,554.9 521.5,554.7 523.0,554.7 524.6,554.7 526.1,554.6 527.6,554.3 529.2,554.4 530.7,555.1 532.2,555.3 533.8,555.5 535.3,556.0 536.8,556.2 538.4,556.7 539.9,557.0 541.4,557.3 543.0,557.9 544.5,558.2 546.0,558.4 547.6,558.5 549.1,559.0 550.6,559.2 552.2,559.3 553.7,559.6 555.2,559.8 556.8,560.1 558.3,560.2 559.8,560.3 561.4,560.6 562.9,560.7 564.4,561.2 566.0,561.1 567.5,561.3 569.0,561.5 570.6,561.5 572.1,561.6 573.6,561.9 575.2,562.0 576.7,561.9 578.2,562.1 579.8,562.1 581.3,562.2 582.8,562.3 584.4,562.5 585.9,562.3 587.4,562.3 589.0,562.5 590.5,562.6 592.0,562.6 593.6,562.7 595.1,562.6 596.7,562.6 598.2,562.7 599.7,562.7 601.3,562.8 602.8,562.6 604.3,562.6 605.9,562.8 607.4,562.7 608.9,562.8 610.5,562.6 612.0,562.7 613.5,562.5 615.1,562.8 616.6,562.7 618.1,562.9 619.7,562.7 621.2,562.7 622.7,562.7 624.3,562.6 625.8,562.7 627.3,562.7 628.9,562.8 630.4,562.7 631.9,562.7 633.5,562.9 635.0,562.9 636.5,562.8 638.1,562.7 639.6,562.8 641.1,562.8 642.7,562.8 644.2,562.7 645.7,562.6 647.3,562.9 648.8,562.8 650.3,562.7 651.9,562.8 653.4,562.9 654.9,562.8 656.5,562.8 658.0,562.7 659.5,562.7 661.1,562.8 662.6,562.6 664.1,562.8 665.7,562.7 667.2,562.5 668.8,562.5 670.3,562.5 671.8,562.1 673.4,562.0 674.9,561.6 676.4,561.2 678.0,561.0 679.5,560.5 681.0,560.2 682.6,559.8 684.1,559.3 685.6,558.8 687.2,558.4 688.7,558.1 690.2,557.6 691.8,556.9 693.3,556.2 694.8,555.1 696.4,553.4 697.9,551.9 699.4,550.0 701.0,548.5 702.5,546.1 704.0,544.2 705.6,542.9 707.1,539.7 708.6,537.8 710.2,537.3 711.7,536.5 713.2,535.5 714.8,534.2 716.3,533.7 717.8,533.6 719.4,533.2 720.9,532.9 722.4,532.1 724.0,531.8 725.5,531.1 727.0,530.7 728.6,533.4 730.1,533.4 731.6,533.5 733.2,533.8 734.7,534.6 736.2,535.4 737.8,536.2 739.3,537.4 740.8,538.7 742.4,540.0 743.9,540.6 745.5,541.0 747.0,542.0 748.5,542.3 750.1,541.9 751.6,542.7 753.1,543.1 754.7,543.5 756.2,544.1 757.7,544.3 759.3,544.5 760.8,544.9 762.3,545.0 763.9,545.4 765.4,546.3 766.9,547.1 768.5,547.2 770.0,547.6 771.5,548.2 773.1,548.2 774.6,548.2 776.1,548.4 777.7,548.7 779.2,548.8 780.7,549.5 782.3,549.2 783.8,549.2 785.3,549.1 786.9,548.8 788.4,548.3 789.9,548.0 791.5,547.2 793.0,546.5 794.5,545.4 796.1,544.6 797.6,543.4 799.1,542.6 800.7,541.6 802.2,539.1 803.7,538.2 805.3,536.9 806.8,535.1 808.3,532.5 809.9,530.1 811.4,526.8 812.9,523.2 814.5,520.0 816.0,516.8 817.5,512.2 819.1,508.4 820.6,504.4"/>
<path d="M477.0,560.2 478.5,559.6 480.1,558.8 481.6,557.9 483.1,557.3 484.7,556.6 486.2,555.9 487.7,555.5 489.3,554.8 490.8,554.3 492.3,553.8 493.9,553.4 495.4,553.0 496.9,552.6 498.5,552.2 500.0,551.6 501.5,551.2 503.1,550.7 504.6,550.5 506.1,550.3 507.7,550.2 509.2,550.3 510.7,550.0 512.3,550.4 513.8,550.3 515.4,549.9 516.9,549.8 518.4,550.2 520.0,550.4 521.5,550.6 523.0,550.8 524.6,551.1 526.1,551.3 527.6,551.3 529.2,551.7 530.7,551.8 532.2,552.3 533.8,552.6 535.3,553.4 536.8,554.2 538.4,555.0 539.9,555.2 541.4,555.5 543.0,555.9 544.5,556.5 546.0,556.9 547.6,557.2 549.1,557.6 550.6,558.1 552.2,558.3 553.7,558.7 555.2,559.1 556.8,559.3 558.3,559.7 559.8,559.9 561.4,560.2 562.9,560.6 564.4,560.7 566.0,561.0 567.5,561.1 569.0,561.2 570.6,561.3 572.1,561.4 573.6,561.8 575.2,561.6 576.7,561.6 578.2,562.0 579.8,562.0 581.3,562.2 582.8,562.2 584.4,562.3 585.9,562.3 587.4,562.5 589.0,562.6 590.5,562.8 592.0,562.9 593.6,562.9 595.1,562.9 596.7,563.1 598.2,563.1 599.7,563.1 601.3,563.3 602.8,563.3 604.3,563.2 605.9,563.4 607.4,563.4 608.9,563.5 610.5,563.4 612.0,563.4 613.5,563.5 615.1,563.5 616.6,563.6 618.1,563.5 619.7,563.5 621.2,563.6 622.7,563.5 624.3,563.5 625.8,563.5 627.3,563.5 628.9,563.4 630.4,563.5 631.9,563.5 633.5,563.6 635.0,563.4 636.5,563.5 638.1,563.6 639.6,563.4 641.1,563.5 642.7,563.6 644.2,563.5 645.7,563.5 647.3,563.4 648.8,563.5 650.3,563.5 651.9,563.6 653.4,563.4 654.9,563.6 656.5,563.5 658.0,563.5 659.5,563.4 661.1,563.3 662.6,563.5 664.1,563.5 665.7,563.4 667.2,563.5 668.8,563.4 670.3,563.5 671.8,563.5 673.4,563.5 674.9,563.4 676.4,563.5 678.0,563.4 679.5,563.4 681.0,563.5 682.6,563.3 684.1,563.2 685.6,563.3 687.2,563.4 688.7,563.3 690.2,563.3 691.8,563.3 693.3,563.1 694.8,563.2 696.4,563.0 697.9,563.0 699.4,562.9 701.0,562.8 702.5,562.7 704.0,562.5 705.6,562.3 707.1,562.1 708.6,562.2 710.2,562.0 711.7,562.0 713.2,562.0 714.8,562.0 716.3,561.8 717.8,561.7 719.4,561.8 720.9,561.7 722.4,561.6 724.0,561.5 725.5,561.5 727.0,561.6 728.6,561.3 730.1,561.4 731.6,561.2 733.2,561.2 734.7,561.1 736.2,561.1 737.8,560.9 739.3,561.0 740.8,560.8 742.4,560.8 743.9,560.8 745.5,560.8 747.0,560.7 748.5,560.8 750.1,560.7 751.6,560.8 753.1,560.6 754.7,560.8 756.2,560.6 757.7,560.5 759.3,560.4 760.8,560.3 762.3,560.2 763.9,560.2 765.4,560.1 766.9,559.8 768.5,559.8 770.0,559.5 771.5,559.4 773.1,559.1 774.6,559.1 776.1,558.8 777.7,558.7 779.2,558.3 780.7,558.2 782.3,558.0 783.8,557.7 785.3,557.4 786.9,557.6 788.4,557.1 789.9,556.9 791.5,556.5 793.0,556.4 794.5,556.0 796.1,555.7 797.6,555.5 799.1,555.4 800.7,555.0 802.2,554.7 803.7,554.3 805.3,554.0 806.8,553.7 808.3,553.1 809.9,552.6 811.4,552.1 812.9,551.4 814.5,550.8 816.0,550.2 817.5,548.9 819.1,547.9 820.6,546.6"/>
<path d="M477.0,563.1 478.5,562.9 480.1,562.8 481.6,562.7 483.1,562.6 484.7,562.1 486.2,561.9 487.7,562.0 489.3,561.7 490.8,561.5 492.3,561.3 493.9,561.2 495.4,561.1 496.9,560.9 498.5,560.9 500.0,560.7 501.5,560.4 503.1,560.3 504.6,560.3 506.1,560.3 507.7,560.0 509.2,559.8 510.7,559.3 512.3,559.2 513.8,559.0 515.4,559.0 516.9,559.0 518.4,559.0 520.0,558.8 521.5,558.7 523.0,558.8 524.6,558.9 526.1,559.0 527.6,558.8 529.2,558.7 530.7,558.9 532.2,559.0 533.8,559.3 535.3,559.4 536.8,559.7 538.4,559.6 539.9,559.8 541.4,560.0 543.0,560.1 544.5,560.3 546.0,560.6 547.6,560.5 549.1,560.6 550.6,560.8 552.2,561.2 553.7,561.5 555.2,561.5 556.8,561.6 558.3,561.8 559.8,562.0 561.4,562.3 562.9,562.3 564.4,562.3 566.0,562.3 567.5,562.5 569.0,562.5 570.6,562.7 572.1,562.7 573.6,562.8 575.2,562.8 576.7,562.8 578.2,562.8 579.8,562.9 581.3,563.0 582.8,563.1 584.4,563.1 585.9,563.1 587.4,563.2 589.0,563.2 590.5,563.2 592.0,563.2 593.6,563.4 595.1,563.3 596.7,563.3 598.2,563.3 599.7,563.3 601.3,563.3 602.8,563.4 604.3,563.2 605.9,563.3 607.4,563.4 608.9,563.4 610.5,563.4 612.0,563.5 613.5,563.5 615.1,563.5 616.6,563.4 618.1,563.5 619.7,563.6 621.2,563.5 622.7,563.6 624.3,563.7 625.8,563.5 627.3,563.6 628.9,563.6 630.4,563.5 631.9,563.6 633.5,563.6 635.0,563.6 636.5,563.5 638.1,563.7 639.6,563.7 641.1,563.7 642.7,563.6 644.2,563.6 645.7,563.7 647.3,563.8 648.8,563.7 650.3,563.7 651.9,563.7 653.4,563.7 654.9,563.8 656.5,563.8 658.0,563.7 659.5,563.8 661.1,563.9 662.6,563.8 664.1,563.9 665.7,563.8 667.2,563.7 668.8,563.8 670.3,563.7 671.8,563.8 673.4,563.8 674.9,563.7 676.4,563.8 678.0,563.7 679.5,563.7 681.0,563.7 682.6,563.7 684.1,563.7 685.6,563.7 687.2,563.5 688.7,563.7 690.2,563.8 691.8,563.6 693.3,563.5 694.8,563.5 696.4,563.6 697.9,563.7 699.4,563.5 701.0,563.5 702.5,563.6 704.0,563.6 705.6,563.5 707.1,563.6 708.6,563.4 710.2,563.6 711.7,563.5 713.2,563.4 714.8,563.3 716.3,563.4 717.8,563.2 719.4,563.3 720.9,563.3 722.4,563.3 724.0,563.4 725.5,563.3 727.0,563.3 728.6,563.3 730.1,563.4 731.6,563.1 733.2,563.3 734.7,563.3 736.2,563.2 737.8,563.3 739.3,563.2 740.8,563.2 742.4,563.2 743.9,563.2 745.5,563.3 747.0,562.9 748.5,563.1 750.1,563.1 751.6,563.1 753.1,563.2 754.7,562.9 756.2,562.8 757.7,562.8 759.3,562.8 760.8,562.9 762.3,562.7 763.9,562.7 765.4,562.4 766.9,562.4 768.5,562.2 770.0,562.2 771.5,562.0 773.1,561.7 774.6,561.7 776.1,561.5 777.7,561.3 779.2,561.2 780.7,560.9 782.3,560.7 783.8,560.4 785.3,560.2 786.9,560.0 788.4,559.6 789.9,559.3 791.5,559.0 793.0,558.4 794.5,558.2 796.1,557.6 797.6,557.1 799.1,556.4 800.7,556.1 802.2,555.5 803.7,554.7 805.3,554.0 806.8,553.1 808.3,551.9 809.9,549.8 811.4,548.4 812.9,547.0 814.5,544.9 816.0,543.4 817.5,541.1 819.1,538.7 820.6,536.7"/>
<path d="M477.0,563.6 478.5,563.3 480.1,563.1 481.6,562.9 483.1,562.6 484.7,562.5 486.2,562.2 487.7,562.1 489.3,561.8 490.8,561.5 492.3,561.6 493.9,561.4 495.4,561.1 496.9,560.9 498.5,560.6 500.0,560.6 501.5,560.4 503.1,560.5 504.6,560.4 506.1,560.0 507.7,559.8 509.2,559.6 510.7,559.5 512.3,559.2 513.8,558.9 515.4,558.5 516.9,558.1 518.4,557.9 520.0,557.8 521.5,557.6 523.0,557.7 524.6,557.5 526.1,557.6 527.6,557.5 529.2,557.6 530.7,557.7 532.2,557.9 533.8,558.0 535.3,558.3 536.8,558.9 538.4,559.0 539.9,559.2 541.4,559.4 543.0,559.8 544.5,559.8 546.0,560.0 547.6,560.0 549.1,560.3 550.6,560.5 552.2,560.6 553.7,560.7 555.2,560.8 556.8,561.1 558.3,561.0 559.8,561.4 561.4,561.5 562.9,561.5 564.4,561.7 566.0,561.7 567.5,561.8 569.0,561.8 570.6,561.9 572.1,561.9 573.6,562.1 575.2,562.3 576.7,562.3 578.2,562.3 579.8,562.4 581.3,562.5 582.8,562.6 584.4,562.7 585.9,562.7 587.4,562.7 589.0,563.0 590.5,563.0 592.0,563.0 593.6,563.1 595.1,563.1 596.7,563.1 598.2,563.2 599.7,563.2 601.3,563.3 602.8,563.3 604.3,563.4 605.9,563.3 607.4,563.4 608.9,563.4 610.5,563.5 612.0,563.4 613.5,563.6 615.1,563.4 616.6,563.6 618.1,563.4 619.7,563.4 621.2,563.6 622.7,563.3 624.3,563.5 625.8,563.2 627.3,563.5 628.9,563.5 630.4,563.6 631.9,563.4 633.5,563.4 635.0,563.4 636.5,563.5 638.1,563.5 639.6,563.5 641.1,563.4 642.7,563.4 644.2,563.5 645.7,563.3 647.3,563.4 648.8,563.5 650.3,563.5 651.9,563.2 653.4,563.2 654.9,563.5 656.5,563.4 658.0,563.3 659.5,563.3 661.1,563.3 662.6,563.2 664.1,563.2 665.7,563.2 667.2,563.2 668.8,563.1 670.3,563.2 671.8,562.9 673.4,562.8 674.9,562.7 676.4,562.7 678.0,562.6 679.5,562.4 681.0,562.4 682.6,562.4 684.1,562.3 685.6,562.1 687.2,562.0 688.7,561.9 690.2,562.0 691.8,561.8 693.3,561.8 694.8,561.5 696.4,561.7 697.9,561.6 699.4,561.6 701.0,561.7 702.5,561.6 704.0,561.6 705.6,561.7 707.1,561.5 708.6,561.4 710.2,561.6 711.7,561.6 713.2,561.6 714.8,561.6 716.3,561.5 717.8,561.5 719.4,561.6 720.9,561.5 722.4,561.6 724.0,561.6 725.5,561.4 727.0,561.5 728.6,561.3 730.1,561.4 731.6,561.4 733.2,561.1 734.7,561.1 736.2,561.1 737.8,561.3 739.3,561.1 740.8,561.0 742.4,560.9 743.9,561.0 745.5,560.9 747.0,560.7 748.5,560.8 750.1,560.6 751.6,560.6 753.1,560.6 754.7,560.4 756.2,560.5 757.7,560.4 759.3,560.2 760.8,560.1 762.3,560.0 763.9,559.8 765.4,559.6 766.9,559.5 768.5,559.4 770.0,559.2 771.5,559.0 773.1,558.8 774.6,558.6 776.1,558.2 777.7,558.0 779.2,557.8 780.7,557.3 782.3,557.1 783.8,556.7 785.3,556.5 786.9,556.0 788.4,555.5 789.9,554.9 791.5,554.1 793.0,553.6 794.5,552.9 796.1,552.1 797.6,550.6 799.1,549.6 800.7,548.4 802.2,547.5 803.7,546.6 805.3,543.9 806.8,542.0 808.3,539.9 809.9,537.0 811.4,534.0 812.9,531.0 814.5,527.9 816.0,524.1 817.5,520.7 819.1,520.1 820.6,516.8"/>
<path d="M477.0,561.4 478.5,561.3 480.1,561.2 481.6,561.0 483.1,560.9 484.7,560.7 486.2,560.5 487.7,560.4 489.3,560.2 490.8,560.0 492.3,559.8 493.9,559.8 495.4,559.5 496.9,559.4 498.5,559.3 500.0,559.0 501.5,558.5 503.1,558.5 504.6,558.3 506.1,558.3 507.7,558.1 509.2,557.7 510.7,557.1 512.3,556.9 513.8,556.6 515.4,556.2 516.9,556.1 518.4,555.5 520.0,555.3 521.5,555.1 523.0,555.3 524.6,555.2 526.1,555.1 527.6,555.2 529.2,555.3 530.7,555.3 532.2,555.5 533.8,555.9 535.3,555.9 536.8,555.9 538.4,556.2 539.9,556.4 541.4,556.8 543.0,557.1 544.5,557.1 546.0,557.2 547.6,557.3 549.1,557.7 550.6,558.1 552.2,558.4 553.7,558.6 555.2,559.0 556.8,559.4 558.3,559.7 559.8,559.9 561.4,560.1 562.9,560.4 564.4,560.6 566.0,560.8 567.5,560.9 569.0,561.1 570.6,561.4 572.1,561.4 573.6,561.4 575.2,561.4 576.7,561.6 578.2,561.7 579.8,561.9 581.3,561.8 582.8,561.9 584.4,562.0 585.9,562.0 587.4,562.1 589.0,562.3 590.5,562.2 592.0,562.3 593.6,562.3 595.1,562.5 596.7,562.5 598.2,562.6 599.7,562.6 601.3,562.6 602.8,562.8 604.3,562.9 605.9,562.9 607.4,562.9 608.9,562.9 610.5,563.1 612.0,563.0 613.5,563.1 615.1,563.3 616.6,563.1 618.1,563.3 619.7,563.2 621.2,563.2 622.7,563.4 624.3,563.5 625.8,563.3 627.3,563.4 628.9,563.4 630.4,563.6 631.9,563.6 633.5,563.5 635.0,563.7 636.5,563.7 638.1,563.6 639.6,563.7 641.1,563.7 642.7,563.6 644.2,563.7 645.7,563.6 647.3,563.7 648.8,563.8 650.3,563.7 651.9,563.6 653.4,563.7 654.9,563.8 656.5,563.7 658.0,563.6 659.5,563.8 661.1,563.7 662.6,563.8 664.1,563.7 665.7,563.7 667.2,563.7 668.8,563.7 670.3,563.7 671.8,563.7 673.4,563.7 674.9,563.7 676.4,563.7 678.0,563.7 679.5,563.7 681.0,563.8 682.6,563.6 684.1,563.7 685.6,563.5 687.2,563.5 688.7,563.5 690.2,563.4 691.8,563.5 693.3,563.5 694.8,563.3 696.4,563.3 697.9,563.3 699.4,563.3 701.0,563.1 702.5,563.3 704.0,563.1 705.6,563.0 707.1,563.0 708.6,562.8 710.2,562.7 711.7,562.8 713.2,562.7 714.8,562.5 716.3,562.6 717.8,562.6 719.4,562.4 720.9,562.3 722.4,562.4 724.0,562.3 725.5,562.6 727.0,562.3 728.6,562.3 730.1,562.2 731.6,562.1 733.2,562.0 734.7,562.1 736.2,561.9 737.8,561.9 739.3,561.8 740.8,561.6 742.4,561.6 743.9,561.3 745.5,561.2 747.0,561.1 748.5,561.1 750.1,560.9 751.6,561.0 753.1,560.6 754.7,560.6 756.2,560.4 757.7,560.3 759.3,560.1 760.8,559.9 762.3,560.0 763.9,559.7 765.4,559.5 766.9,559.3 768.5,559.1 770.0,559.0 771.5,558.9 773.1,558.8 774.6,558.5 776.1,558.5 777.7,558.4 779.2,558.2 780.7,558.0 782.3,557.9 783.8,557.9 785.3,557.7 786.9,557.9 788.4,557.8 789.9,557.6 791.5,557.4 793.0,557.4 794.5,557.2 796.1,557.2 797.6,557.0 799.1,556.7 800.7,557.0 802.2,557.0 803.7,556.8 805.3,556.5 806.8,556.3 808.3,556.0 809.9,555.5 811.4,554.9 812.9,554.4 814.5,553.8 816.0,553.2 817.5,552.6 819.1,552.2 820.6,551.6"/>
<path d="M729.8,538.6 L729.8,552.5"/>
</g>
<g class="as">
<path d="M889.4,563.5 890.7,563.5 892.0,563.5 893.3,563.4 894.5,563.3 895.8,563.3 897.1,563.3 898.4,563.2 899.7,563.4 901.0,563.3 902.2,563.2 903.5,563.2 904.8,563.2 906.1,563.0 907.4,563.1 908.7,563.0 910.0,562.9 911.2,563.0 912.5,562.9 913.8,562.9 915.1,562.8 916.4,562.8 917.7,562.8 919.0,562.7 920.2,562.6 921.5,562.6 922.8,562.5 924.1,562.4 925.4,562.3 926.7,562.3 927.9,562.1 929.2,562.1 930.5,561.7 931.8,561.1 933.1,560.6 934.4,559.9 935.7,559.4 936.9,559.2 938.2,559.0 939.5,558.8 940.8,558.4 942.1,557.9 943.4,556.8 944.7,554.7 945.9,552.2 947.2,549.3 948.5,546.0 949.8,542.3 951.1,538.8 952.4,535.3 953.6,531.7 954.9,528.6 956.2,525.9 957.5,523.3 958.8,520.9 960.1,518.9 961.4,517.4 962.6,516.0 963.9,515.2 965.2,514.7 966.5,514.3 967.8,514.7 969.1,516.0 970.4,517.3 971.6,519.1 972.9,521.3 974.2,522.6 975.5,523.2 976.8,523.7 978.1,524.1 979.3,524.2 980.6,523.9 981.9,523.2 983.2,522.9 984.5,522.6 985.8,522.9 987.1,523.6 988.3,524.3 989.6,524.9 990.9,525.7 992.2,526.8 993.5,527.8 994.8,528.9 996.1,530.0 997.3,531.0 998.6,532.1 999.9,533.1 1001.2,533.8 1002.5,534.0 1003.8,534.0 1005.0,533.9 1006.3,534.0 1007.6,534.1 1008.9,534.1 1010.2,534.0 1011.5,534.5 1012.8,535.6 1014.0,536.4 1015.3,537.3 1016.6,537.8 1017.9,537.8 1019.2,537.9 1020.5,538.3 1021.8,538.7 1023.0,539.6 1024.3,541.0 1025.6,542.6 1026.9,543.7 1028.2,544.3 1029.5,544.8 1030.8,545.2 1032.0,545.8 1033.3,546.4 1034.6,547.1 1035.9,548.2 1037.2,549.3 1038.5,550.2 1039.7,551.1 1041.0,551.5 1042.3,551.8 1043.6,551.9 1044.9,552.1 1046.2,552.2 1047.5,552.4 1048.7,552.6 1050.0,552.7 1051.3,552.8 1052.6,552.9 1053.9,553.1 1055.2,553.2 1056.5,553.3 1057.7,553.3 1059.0,553.4 1060.3,553.3 1061.6,553.2 1062.9,553.0 1064.2,552.5 1065.4,551.8 1066.7,551.2 1068.0,550.8 1069.3,549.7 1070.6,548.7 1071.9,547.7 1073.2,546.6 1074.4,545.7 1075.7,545.0 1077.0,544.5 1078.3,544.1 1079.6,543.8 1080.9,543.6 1082.2,543.6 1083.4,543.4 1084.7,543.2 1086.0,543.0 1087.3,542.9 1088.6,542.6 1089.9,542.5 1091.1,542.2 1092.4,541.3 1093.7,542.2 1095.0,543.6 1096.3,544.8 1097.6,545.8 1098.9,546.8 1100.1,547.7 1101.4,549.0 1102.7,550.0 1104.0,551.1 1105.3,552.1 1106.6,553.6 1107.8,556.1 1109.1,558.1 1110.4,558.5 1111.7,558.8 1113.0,559.0 1114.3,559.2 1115.6,559.5 1116.8,559.7 1118.1,560.0 1119.4,560.0 1120.7,560.2 1122.0,560.4 1123.3,560.6 1124.6,560.6 1125.8,560.9 1127.1,561.0 1128.4,561.0 1129.7,561.1 1131.0,561.2 1132.3,561.3 1133.5,561.3 1134.8,561.5 1136.1,561.4 1137.4,561.5 1138.7,561.6 1140.0,561.7 1141.3,561.7 1142.5,561.8 1143.8,561.9 1145.1,561.9 1146.4,562.0 1147.7,562.1 1149.0,562.2 1150.3,562.2 1151.5,562.3 1152.8,562.4 1154.1,562.5 1155.4,562.6 1156.7,562.6 1158.0,562.7 1159.2,562.8 1160.5,562.8 1161.8,562.9 1163.1,562.9 1164.4,562.9 1165.7,562.9 1167.0,563.0 1168.2,563.1 1169.5,563.1 1170.8,563.1 1172.1,563.2 1173.4,563.2 1174.7,563.2 1176.0,563.3 1177.2,563.3 1178.5,563.3 1179.8,563.4 1181.1,563.4 1182.4,563.4 1183.7,563.4 1184.9,563.4 1186.2,563.5 1187.5,563.5 1188.8,563.4 1190.1,563.4 1191.4,563.6 1192.7,563.5 1193.9,563.5 1195.2,563.5 1196.5,563.6 1197.8,563.5"/>
<path d="M889.4,563.0 890.7,562.7 892.0,562.3 893.3,562.1 894.5,561.8 895.8,561.5 897.1,561.2 898.4,561.0 899.7,560.7 901.0,560.6 902.2,560.5 903.5,560.6 904.8,560.6 906.1,560.7 907.4,560.9 908.7,561.1 910.0,561.2 911.2,561.4 912.5,561.6 913.8,561.8 915.1,562.0 916.4,562.2 917.7,562.4 919.0,562.5 920.2,562.7 921.5,562.8 922.8,562.9 924.1,562.8 925.4,562.9 926.7,563.0 927.9,563.0 929.2,563.1 930.5,563.0 931.8,563.1 933.1,563.1 934.4,563.1 935.7,563.1 936.9,563.2 938.2,563.2 939.5,563.3 940.8,563.2 942.1,563.3 943.4,563.4 944.7,563.4 945.9,563.4 947.2,563.4 948.5,563.5 949.8,563.5 951.1,563.5 952.4,563.6 953.6,563.6 954.9,563.6 956.2,563.6 957.5,563.6 958.8,563.6 960.1,563.8 961.4,563.7 962.6,563.7 963.9,563.8 965.2,563.8 966.5,563.7 967.8,563.8 969.1,563.8 970.4,563.7 971.6,563.8 972.9,563.7 974.2,563.7 975.5,563.7 976.8,563.8 978.1,563.7 979.3,563.8 980.6,563.8 981.9,563.8 983.2,563.8 984.5,563.8 985.8,563.7 987.1,563.7 988.3,563.7 989.6,563.8 990.9,563.7 992.2,563.7 993.5,563.7 994.8,563.8 996.1,563.8 997.3,563.7 998.6,563.8 999.9,563.8 1001.2,563.7 1002.5,563.7 1003.8,563.8 1005.0,563.7 1006.3,563.7 1007.6,563.7 1008.9,563.8 1010.2,563.8 1011.5,563.7 1012.8,563.8 1014.0,563.7 1015.3,563.8 1016.6,563.7 1017.9,563.8 1019.2,563.8 1020.5,563.8 1021.8,563.7 1023.0,563.7 1024.3,563.7 1025.6,563.8 1026.9,563.7 1028.2,563.7 1029.5,563.7 1030.8,563.7 1032.0,563.8 1033.3,563.7 1034.6,563.7 1035.9,563.7 1037.2,563.7 1038.5,563.7 1039.7,563.7 1041.0,563.7 1042.3,563.7 1043.6,563.7 1044.9,563.7 1046.2,563.7 1047.5,563.7 1048.7,563.7 1050.0,563.7 1051.3,563.7 1052.6,563.7 1053.9,563.7 1055.2,563.7 1056.5,563.7 1057.7,563.6 1059.0,563.6 1060.3,563.7 1061.6,563.7 1062.9,563.6 1064.2,563.6 1065.4,563.6 1066.7,563.6 1068.0,563.7 1069.3,563.5 1070.6,563.6 1071.9,563.6 1073.2,563.6 1074.4,563.6 1075.7,563.5 1077.0,563.6 1078.3,563.5 1079.6,563.5 1080.9,563.5 1082.2,563.5 1083.4,563.5 1084.7,563.5 1086.0,563.4 1087.3,563.4 1088.6,563.4 1089.9,563.4 1091.1,563.4 1092.4,563.3 1093.7,563.3 1095.0,563.3 1096.3,563.2 1097.6,563.2 1098.9,563.1 1100.1,563.2 1101.4,563.2 1102.7,563.1 1104.0,563.1 1105.3,563.1 1106.6,563.1 1107.8,563.1 1109.1,563.0 1110.4,563.0 1111.7,563.0 1113.0,563.0 1114.3,563.0 1115.6,563.0 1116.8,563.0 1118.1,563.0 1119.4,563.0 1120.7,563.1 1122.0,563.1 1123.3,563.1 1124.6,563.1 1125.8,563.1 1127.1,563.2 1128.4,563.2 1129.7,563.2 1131.0,563.2 1132.3,563.3 1133.5,563.3 1134.8,563.3 1136.1,563.3 1137.4,563.4 1138.7,563.4 1140.0,563.4 1141.3,563.5 1142.5,563.5 1143.8,563.5 1145.1,563.5 1146.4,563.5 1147.7,563.5 1149.0,563.5 1150.3,563.5 1151.5,563.5 1152.8,563.5 1154.1,563.5 1155.4,563.5 1156.7,563.5 1158.0,563.5 1159.2,563.5 1160.5,563.5 1161.8,563.5 1163.1,563.5 1164.4,563.5 1165.7,563.5 1167.0,563.5 1168.2,563.5 1169.5,563.5 1170.8,563.5 1172.1,563.5 1173.4,563.5 1174.7,563.5 1176.0,563.5 1177.2,563.5 1178.5,563.5 1179.8,563.5 1181.1,563.5 1182.4,563.5 1183.7,563.5 1184.9,563.5 1186.2,563.5 1187.5,563.5 1188.8,563.5 1190.1,563.5 1191.4,563.5 1192.7,563.5 1193.9,563.4 1195.2,563.5 1196.5,563.4 1197.8,563.5"/>
<path d="M889.4,564.0 890.7,564.0 892.0,564.0 893.3,564.0 894.5,564.0 895.8,563.9 897.1,563.9 898.4,563.9 899.7,563.8 901.0,563.8 902.2,563.7 903.5,563.7 904.8,563.7 906.1,563.6 907.4,563.6 908.7,563.5 910.0,563.4 911.2,563.3 912.5,563.1 913.8,562.8 915.1,562.6 916.4,562.4 917.7,562.1 919.0,561.9 920.2,561.7 921.5,561.5 922.8,561.3 924.1,561.1 925.4,560.9 926.7,560.8 927.9,560.7 929.2,560.5 930.5,560.5 931.8,560.5 933.1,560.7 934.4,560.9 935.7,561.1 936.9,561.4 938.2,561.6 939.5,561.9 940.8,562.0 942.1,562.2 943.4,562.4 944.7,562.6 945.9,562.7 947.2,563.0 948.5,563.1 949.8,563.3 951.1,563.4 952.4,563.4 953.6,563.5 954.9,563.5 956.2,563.5 957.5,563.5 958.8,563.5 960.1,563.5 961.4,563.6 962.6,563.6 963.9,563.6 965.2,563.6 966.5,563.6 967.8,563.6 969.1,563.6 970.4,563.6 971.6,563.6 972.9,563.7 974.2,563.7 975.5,563.7 976.8,563.7 978.1,563.7 979.3,563.7 980.6,563.7 981.9,563.7 983.2,563.7 984.5,563.7 985.8,563.7 987.1,563.7 988.3,563.7 989.6,563.7 990.9,563.7 992.2,563.7 993.5,563.7 994.8,563.7 996.1,563.7 997.3,563.7 998.6,563.7 999.9,563.7 1001.2,563.8 1002.5,563.8 1003.8,563.8 1005.0,563.8 1006.3,563.7 1007.6,563.8 1008.9,563.8 1010.2,563.8 1011.5,563.8 1012.8,563.8 1014.0,563.8 1015.3,563.8 1016.6,563.7 1017.9,563.8 1019.2,563.8 1020.5,563.8 1021.8,563.7 1023.0,563.7 1024.3,563.6 1025.6,563.6 1026.9,563.5 1028.2,563.4 1029.5,563.3 1030.8,563.2 1032.0,563.1 1033.3,563.1 1034.6,563.0 1035.9,562.8 1037.2,562.7 1038.5,562.6 1039.7,562.5 1041.0,562.4 1042.3,562.3 1043.6,562.2 1044.9,562.1 1046.2,562.0 1047.5,561.9 1048.7,561.8 1050.0,561.7 1051.3,561.5 1052.6,561.4 1053.9,561.2 1055.2,561.1 1056.5,561.0 1057.7,560.9 1059.0,560.7 1060.3,560.5 1061.6,560.3 1062.9,560.2 1064.2,560.1 1065.4,559.9 1066.7,559.8 1068.0,559.6 1069.3,559.5 1070.6,559.3 1071.9,559.2 1073.2,559.1 1074.4,558.9 1075.7,558.7 1077.0,558.5 1078.3,558.4 1079.6,558.3 1080.9,558.1 1082.2,558.0 1083.4,558.0 1084.7,557.9 1086.0,557.8 1087.3,557.8 1088.6,557.8 1089.9,557.9 1091.1,557.9 1092.4,558.0 1093.7,558.2 1095.0,558.4 1096.3,558.5 1097.6,558.7 1098.9,558.9 1100.1,559.1 1101.4,559.1 1102.7,559.3 1104.0,559.5 1105.3,559.8 1106.6,559.9 1107.8,560.2 1109.1,560.4 1110.4,560.5 1111.7,560.7 1113.0,560.9 1114.3,561.0 1115.6,561.1 1116.8,561.3 1118.1,561.4 1119.4,561.6 1120.7,561.6 1122.0,561.7 1123.3,561.8 1124.6,561.9 1125.8,562.1 1127.1,562.1 1128.4,562.2 1129.7,562.3 1131.0,562.4 1132.3,562.4 1133.5,562.5 1134.8,562.6 1136.1,562.7 1137.4,562.7 1138.7,562.8 1140.0,562.8 1141.3,562.8 1142.5,563.0 1143.8,563.0 1145.1,563.0 1146.4,563.1 1147.7,563.2 1149.0,563.2 1150.3,563.3 1151.5,563.3 1152.8,563.3 1154.1,563.4 1155.4,563.4 1156.7,563.5 1158.0,563.5 1159.2,563.5 1160.5,563.5 1161.8,563.5 1163.1,563.5 1164.4,563.5 1165.7,563.6 1167.0,563.6 1168.2,563.6 1169.5,563.6 1170.8,563.6 1172.1,563.6 1173.4,563.6 1174.7,563.6 1176.0,563.6 1177.2,563.7 1178.5,563.7 1179.8,563.6 1181.1,563.7 1182.4,563.7 1183.7,563.7 1184.9,563.7 1186.2,563.7 1187.5,563.7 1188.8,563.7 1190.1,563.7 1191.4,563.7 1192.7,563.7 1193.9,563.8 1195.2,563.8 1196.5,563.8 1197.8,563.8"/>
<path d="M889.4,564.0 890.7,564.0 892.0,564.0 893.3,563.9 894.5,563.9 895.8,563.9 897.1,563.9 898.4,563.8 899.7,563.8 901.0,563.7 902.2,563.7 903.5,563.5 904.8,563.5 906.1,563.4 907.4,563.4 908.7,563.2 910.0,563.1 911.2,563.1 912.5,562.9 913.8,562.8 915.1,562.8 916.4,562.6 917.7,562.5 919.0,562.2 920.2,562.1 921.5,561.8 922.8,561.5 924.1,561.3 925.4,561.2 926.7,561.1 927.9,561.0 929.2,561.1 930.5,561.1 931.8,561.2 933.1,561.2 934.4,561.3 935.7,561.4 936.9,561.4 938.2,561.5 939.5,561.6 940.8,561.8 942.1,562.0 943.4,562.2 944.7,562.3 945.9,562.6 947.2,562.8 948.5,563.0 949.8,563.2 951.1,563.3 952.4,563.5 953.6,563.5 954.9,563.5 956.2,563.6 957.5,563.6 958.8,563.7 960.1,563.7 961.4,563.8 962.6,563.8 963.9,563.9 965.2,563.8 966.5,563.8 967.8,563.9 969.1,563.9 970.4,563.9 971.6,564.0 972.9,564.0 974.2,564.0 975.5,564.0 976.8,564.0 978.1,564.0 979.3,564.0 980.6,564.0 981.9,564.0 983.2,564.0 984.5,564.0 985.8,564.0 987.1,564.0 988.3,564.0 989.6,564.0 990.9,564.0 992.2,564.0 993.5,564.0 994.8,564.0 996.1,564.0 997.3,564.0 998.6,564.0 999.9,564.0 1001.2,564.0 1002.5,564.0 1003.8,564.0 1005.0,564.0 1006.3,564.0 1007.6,564.0 1008.9,563.9 1010.2,564.0 1011.5,564.0 1012.8,564.0 1014.0,564.0 1015.3,564.0 1016.6,564.0 1017.9,564.0 1019.2,564.0 1020.5,563.9 1021.8,564.0 1023.0,564.0 1024.3,564.0 1025.6,564.0 1026.9,563.9 1028.2,564.0 1029.5,563.9 1030.8,564.0 1032.0,564.0 1033.3,564.0 1034.6,563.9 1035.9,563.9 1037.2,563.9 1038.5,563.9 1039.7,563.9 1041.0,564.0 1042.3,564.0 1043.6,564.0 1044.9,563.9 1046.2,563.9 1047.5,563.9 1048.7,563.9 1050.0,563.9 1051.3,563.9 1052.6,563.9 1053.9,563.9 1055.2,563.9 1056.5,563.9 1057.7,563.9 1059.0,563.9 1060.3,563.9 1061.6,563.9 1062.9,563.9 1064.2,563.9 1065.4,563.9 1066.7,563.9 1068.0,563.9 1069.3,563.9 1070.6,563.8 1071.9,563.9 1073.2,563.8 1074.4,563.8 1075.7,563.8 1077.0,563.8 1078.3,563.8 1079.6,563.8 1080.9,563.8 1082.2,563.8 1083.4,563.8 1084.7,563.8 1086.0,563.8 1087.3,563.8 1088.6,563.8 1089.9,563.8 1091.1,563.8 1092.4,563.8 1093.7,563.7 1095.0,563.7 1096.3,563.7 1097.6,563.7 1098.9,563.7 1100.1,563.6 1101.4,563.6 1102.7,563.6 1104.0,563.5 1105.3,563.4 1106.6,563.4 1107.8,563.4 1109.1,563.3 1110.4,563.3 1111.7,563.3 1113.0,563.3 1114.3,563.3 1115.6,563.2 1116.8,563.3 1118.1,563.3 1119.4,563.3 1120.7,563.4 1122.0,563.3 1123.3,563.5 1124.6,563.5 1125.8,563.5 1127.1,563.5 1128.4,563.5 1129.7,563.5 1131.0,563.6 1132.3,563.5 1133.5,563.6 1134.8,563.6 1136.1,563.6 1137.4,563.6 1138.7,563.6 1140.0,563.6 1141.3,563.6 1142.5,563.6 1143.8,563.6 1145.1,563.7 1146.4,563.7 1147.7,563.7 1149.0,563.6 1150.3,563.7 1151.5,563.7 1152.8,563.7 1154.1,563.8 1155.4,563.7 1156.7,563.7 1158.0,563.8 1159.2,563.7 1160.5,563.7 1161.8,563.8 1163.1,563.8 1164.4,563.8 1165.7,563.8 1167.0,563.8 1168.2,563.8 1169.5,563.8 1170.8,563.9 1172.1,563.8 1173.4,563.8 1174.7,563.8 1176.0,563.9 1177.2,563.8 1178.5,563.8 1179.8,563.9 1181.1,563.9 1182.4,563.8 1183.7,563.9 1184.9,563.9 1186.2,563.9 1187.5,563.9 1188.8,563.9 1190.1,563.9 1191.4,563.9 1192.7,563.9 1193.9,563.9 1195.2,563.9 1196.5,563.9 1197.8,563.9"/>
<path d="M889.4,564.0 890.7,564.0 892.0,564.0 893.3,564.0 894.5,564.0 895.8,564.0 897.1,563.9 898.4,564.0 899.7,563.9 901.0,563.9 902.2,563.9 903.5,563.9 904.8,563.9 906.1,563.9 907.4,563.8 908.7,563.8 910.0,563.9 911.2,563.9 912.5,563.8 913.8,563.8 915.1,563.7 916.4,563.8 917.7,563.7 919.0,563.7 920.2,563.6 921.5,563.6 922.8,563.6 924.1,563.5 925.4,563.5 926.7,563.5 927.9,563.4 929.2,563.4 930.5,563.3 931.8,563.3 933.1,563.3 934.4,563.3 935.7,563.2 936.9,563.1 938.2,563.0 939.5,563.0 940.8,563.0 942.1,562.9 943.4,562.9 944.7,562.8 945.9,562.8 947.2,562.8 948.5,562.8 949.8,562.9 951.1,562.9 952.4,562.9 953.6,563.0 954.9,563.1 956.2,563.1 957.5,563.2 958.8,563.3 960.1,563.3 961.4,563.3 962.6,563.3 963.9,563.4 965.2,563.4 966.5,563.4 967.8,563.5 969.1,563.5 970.4,563.5 971.6,563.5 972.9,563.5 974.2,563.5 975.5,563.6 976.8,563.6 978.1,563.7 979.3,563.6 980.6,563.7 981.9,563.7 983.2,563.7 984.5,563.7 985.8,563.7 987.1,563.7 988.3,563.8 989.6,563.8 990.9,563.8 992.2,563.8 993.5,563.7 994.8,563.8 996.1,563.7 997.3,563.8 998.6,563.7 999.9,563.7 1001.2,563.8 1002.5,563.7 1003.8,563.7 1005.0,563.8 1006.3,563.8 1007.6,563.7 1008.9,563.7 1010.2,563.7 1011.5,563.7 1012.8,563.7 1014.0,563.7 1015.3,563.7 1016.6,563.7 1017.9,563.7 1019.2,563.7 1020.5,563.7 1021.8,563.7 1023.0,563.7 1024.3,563.6 1025.6,563.6 1026.9,563.6 1028.2,563.6 1029.5,563.6 1030.8,563.6 1032.0,563.6 1033.3,563.6 1034.6,563.6 1035.9,563.6 1037.2,563.6 1038.5,563.5 1039.7,563.5 1041.0,563.6 1042.3,563.6 1043.6,563.5 1044.9,563.5 1046.2,563.5 1047.5,563.4 1048.7,563.4 1050.0,563.3 1051.3,563.3 1052.6,563.2 1053.9,563.2 1055.2,563.1 1056.5,563.1 1057.7,563.1 1059.0,563.0 1060.3,563.0 1061.6,562.9 1062.9,562.8 1064.2,562.7 1065.4,562.7 1066.7,562.7 1068.0,562.5 1069.3,562.5 1070.6,562.4 1071.9,562.4 1073.2,562.3 1074.4,562.3 1075.7,562.2 1077.0,562.1 1078.3,562.1 1079.6,562.0 1080.9,562.0 1082.2,562.0 1083.4,562.0 1084.7,561.9 1086.0,561.9 1087.3,561.9 1088.6,561.8 1089.9,561.8 1091.1,561.8 1092.4,561.8 1093.7,561.8 1095.0,561.8 1096.3,561.7 1097.6,561.8 1098.9,561.8 1100.1,561.8 1101.4,561.9 1102.7,562.0 1104.0,562.0 1105.3,562.1 1106.6,562.1 1107.8,562.2 1109.1,562.3 1110.4,562.4 1111.7,562.4 1113.0,562.4 1114.3,562.5 1115.6,562.5 1116.8,562.6 1118.1,562.6 1119.4,562.7 1120.7,562.7 1122.0,562.7 1123.3,562.7 1124.6,562.8 1125.8,562.8 1127.1,562.8 1128.4,562.8 1129.7,562.8 1131.0,562.8 1132.3,562.9 1133.5,562.9 1134.8,562.9 1136.1,563.0 1137.4,563.0 1138.7,563.0 1140.0,563.0 1141.3,563.0 1142.5,562.9 1143.8,563.0 1145.1,563.0 1146.4,563.0 1147.7,563.0 1149.0,563.0 1150.3,563.0 1151.5,563.0 1152.8,563.0 1154.1,562.9 1155.4,563.0 1156.7,563.0 1158.0,563.0 1159.2,563.0 1160.5,563.0 1161.8,563.0 1163.1,563.0 1164.4,563.0 1165.7,563.0 1167.0,562.9 1168.2,563.0 1169.5,563.0 1170.8,563.0 1172.1,563.0 1173.4,563.0 1174.7,563.0 1176.0,563.0 1177.2,563.0 1178.5,563.0 1179.8,563.0 1181.1,563.0 1182.4,563.0 1183.7,563.0 1184.9,563.0 1186.2,563.0 1187.5,563.0 1188.8,563.0 1190.1,563.0 1191.4,563.0 1192.7,563.0 1193.9,563.0 1195.2,563.1 1196.5,563.0 1197.8,563.0"/>
<path d="M889.4,564.0 890.7,564.0 892.0,564.0 893.3,564.0 894.5,564.0 895.8,564.0 897.1,563.9 898.4,564.0 899.7,564.0 901.0,564.0 902.2,563.9 903.5,563.9 904.8,563.9 906.1,563.9 907.4,563.9 908.7,563.9 910.0,563.9 911.2,563.9 912.5,563.9 913.8,563.9 915.1,563.9 916.4,563.9 917.7,563.8 919.0,563.8 920.2,563.9 921.5,563.8 922.8,563.8 924.1,563.8 925.4,563.8 926.7,563.7 927.9,563.8 929.2,563.7 930.5,563.7 931.8,563.7 933.1,563.7 934.4,563.7 935.7,563.7 936.9,563.6 938.2,563.6 939.5,563.6 940.8,563.6 942.1,563.6 943.4,563.6 944.7,563.6 945.9,563.7 947.2,563.7 948.5,563.7 949.8,563.7 951.1,563.7 952.4,563.7 953.6,563.7 954.9,563.8 956.2,563.8 957.5,563.8 958.8,563.8 960.1,563.8 961.4,563.9 962.6,563.9 963.9,563.9 965.2,563.9 966.5,563.9 967.8,563.9 969.1,563.9 970.4,563.9 971.6,563.9 972.9,563.9 974.2,563.9 975.5,563.9 976.8,563.9 978.1,563.9 979.3,563.9 980.6,563.9 981.9,563.9 983.2,563.9 984.5,563.9 985.8,563.9 987.1,563.9 988.3,563.9 989.6,563.9 990.9,563.9 992.2,563.9 993.5,563.9 994.8,563.9 996.1,563.9 997.3,563.9 998.6,563.9 999.9,563.9 1001.2,563.9 1002.5,563.9 1003.8,563.9 1005.0,563.9 1006.3,563.9 1007.6,563.9 1008.9,563.9 1010.2,563.9 1011.5,563.9 1012.8,563.9 1014.0,563.9 1015.3,563.9 1016.6,563.9 1017.9,563.9 1019.2,563.9 1020.5,563.9 1021.8,563.9 1023.0,563.9 1024.3,563.9 1025.6,563.9 1026.9,563.9 1028.2,564.0 1029.5,563.9 1030.8,563.9 1032.0,563.9 1033.3,563.9 1034.6,563.9 1035.9,563.9 1037.2,563.9 1038.5,563.9 1039.7,563.9 1041.0,563.9 1042.3,563.9 1043.6,563.9 1044.9,563.9 1046.2,563.9 1047.5,563.9 1048.7,564.0 1050.0,563.9 1051.3,563.9 1052.6,563.9 1053.9,563.9 1055.2,564.0 1056.5,563.9 1057.7,564.0 1059.0,564.0 1060.3,563.9 1061.6,564.0 1062.9,564.0 1064.2,564.0 1065.4,564.0 1066.7,564.0 1068.0,563.9 1069.3,563.9 1070.6,564.0 1071.9,563.9 1073.2,564.0 1074.4,564.0 1075.7,564.0 1077.0,564.0 1078.3,564.0 1079.6,564.0 1080.9,564.0 1082.2,564.0 1083.4,564.0 1084.7,564.0 1086.0,564.0 1087.3,564.0 1088.6,564.0 1089.9,563.9 1091.1,564.0 1092.4,564.0 1093.7,563.9 1095.0,564.0 1096.3,564.0 1097.6,563.9 1098.9,563.9 1100.1,563.9 1101.4,564.0 1102.7,564.0 1104.0,564.0 1105.3,564.0 1106.6,564.0 1107.8,564.0 1109.1,564.0 1110.4,564.0 1111.7,564.0 1113.0,564.0 1114.3,564.0 1115.6,564.0 1116.8,564.0 1118.1,564.0 1119.4,564.0 1120.7,564.0 1122.0,564.0 1123.3,564.0 1124.6,564.0 1125.8,563.9 1127.1,564.0 1128.4,564.0 1129.7,564.0 1131.0,564.0 1132.3,564.0 1133.5,564.0 1134.8,564.0 1136.1,564.0 1137.4,564.0 1138.7,564.0 1140.0,564.0 1141.3,564.0 1142.5,564.0 1143.8,564.0 1145.1,564.0 1146.4,564.0 1147.7,564.0 1149.0,564.0 1150.3,564.0 1151.5,564.0 1152.8,564.0 1154.1,564.0 1155.4,564.0 1156.7,564.0 1158.0,564.0 1159.2,564.0 1160.5,563.9 1161.8,564.0 1163.1,564.0 1164.4,564.0 1165.7,564.0 1167.0,564.0 1168.2,564.0 1169.5,564.0 1170.8,564.0 1172.1,564.0 1173.4,564.0 1174.7,564.0 1176.0,564.0 1177.2,564.0 1178.5,564.0 1179.8,564.0 1181.1,564.0 1182.4,564.0 1183.7,564.0 1184.9,564.0 1186.2,564.0 1187.5,564.0 1188.8,564.0 1190.1,564.0 1191.4,564.0 1192.7,564.0 1193.9,564.0 1195.2,564.0 1196.5,564.0 1197.8,564.0"/>
<path d="M889.4,563.9 890.7,563.9 892.0,563.9 893.3,563.9 894.5,563.9 895.8,563.9 897.1,563.9 898.4,563.9 899.7,563.9 901.0,563.9 902.2,563.9 903.5,563.9 904.8,563.9 906.1,563.9 907.4,563.9 908.7,563.9 910.0,564.0 911.2,563.9 912.5,563.9 913.8,563.9 915.1,564.0 916.4,563.9 917.7,563.9 919.0,563.9 920.2,564.0 921.5,564.0 922.8,563.9 924.1,564.0 925.4,564.0 926.7,564.0 927.9,563.9 929.2,564.0 930.5,564.0 931.8,564.0 933.1,564.0 934.4,563.9 935.7,564.0 936.9,564.0 938.2,563.9 939.5,563.9 940.8,564.0 942.1,564.0 943.4,564.0 944.7,564.0 945.9,564.0 947.2,564.0 948.5,563.9 949.8,564.0 951.1,564.0 952.4,564.0 953.6,564.0 954.9,564.0 956.2,564.0 957.5,563.9 958.8,564.0 960.1,564.0 961.4,564.0 962.6,564.0 963.9,564.0 965.2,564.0 966.5,564.0 967.8,564.0 969.1,564.0 970.4,564.0 971.6,564.0 972.9,564.0 974.2,564.0 975.5,564.0 976.8,564.0 978.1,564.0 979.3,564.0 980.6,564.0 981.9,564.0 983.2,564.0 984.5,564.0 985.8,564.0 987.1,564.0 988.3,564.0 989.6,564.0 990.9,564.0 992.2,564.0 993.5,564.0 994.8,564.0 996.1,564.0 997.3,564.0 998.6,564.0 999.9,564.0 1001.2,564.0 1002.5,564.0 1003.8,564.0 1005.0,564.0 1006.3,564.0 1007.6,564.0 1008.9,564.0 1010.2,564.0 1011.5,564.0 1012.8,564.0 1014.0,564.0 1015.3,564.0 1016.6,564.0 1017.9,564.0 1019.2,564.0 1020.5,564.0 1021.8,564.0 1023.0,564.0 1024.3,564.0 1025.6,564.0 1026.9,564.0 1028.2,564.0 1029.5,564.0 1030.8,564.0 1032.0,564.0 1033.3,564.0 1034.6,564.0 1035.9,564.0 1037.2,564.0 1038.5,564.0 1039.7,564.0 1041.0,563.9 1042.3,564.0 1043.6,564.0 1044.9,564.0 1046.2,564.0 1047.5,564.0 1048.7,564.0 1050.0,564.0 1051.3,564.0 1052.6,564.0 1053.9,564.0 1055.2,564.0 1056.5,564.0 1057.7,564.0 1059.0,564.0 1060.3,564.0 1061.6,564.0 1062.9,564.0 1064.2,564.0 1065.4,564.0 1066.7,564.0 1068.0,564.0 1069.3,564.0 1070.6,564.0 1071.9,564.0 1073.2,564.0 1074.4,564.0 1075.7,564.0 1077.0,564.0 1078.3,564.0 1079.6,564.0 1080.9,564.0 1082.2,564.0 1083.4,564.0 1084.7,564.0 1086.0,564.0 1087.3,564.0 1088.6,564.0 1089.9,564.0 1091.1,564.0 1092.4,564.0 1093.7,564.0 1095.0,564.0 1096.3,564.0 1097.6,564.0 1098.9,564.0 1100.1,564.0 1101.4,564.0 1102.7,564.0 1104.0,564.0 1105.3,564.0 1106.6,564.0 1107.8,564.0 1109.1,564.0 1110.4,564.0 1111.7,564.0 1113.0,564.0 1114.3,564.0 1115.6,564.0 1116.8,564.0 1118.1,564.0 1119.4,564.0 1120.7,564.0 1122.0,564.0 1123.3,564.0 1124.6,564.0 1125.8,564.0 1127.1,564.0 1128.4,564.0 1129.7,564.0 1131.0,564.0 1132.3,564.0 1133.5,564.0 1134.8,564.0 1136.1,564.0 1137.4,564.0 1138.7,564.0 1140.0,564.0 1141.3,564.0 1142.5,564.0 1143.8,564.0 1145.1,564.0 1146.4,564.0 1147.7,564.0 1149.0,564.0 1150.3,564.0 1151.5,564.0 1152.8,564.0 1154.1,564.0 1155.4,564.0 1156.7,564.0 1158.0,564.0 1159.2,564.0 1160.5,564.0 1161.8,564.0 1163.1,564.0 1164.4,564.0 1165.7,564.0 1167.0,564.0 1168.2,564.0 1169.5,564.0 1170.8,564.0 1172.1,564.0 1173.4,564.0 1174.7,564.0 1176.0,564.0 1177.2,564.0 1178.5,564.0 1179.8,564.0 1181.1,564.0 1182.4,564.0 1183.7,564.0 1184.9,564.0 1186.2,564.0 1187.5,564.0 1188.8,564.0 1190.1,564.0 1191.4,564.0 1192.7,564.0 1193.9,564.0 1195.2,564.0 1196.5,564.0 1197.8,564.0"/>
<path d="M889.4,564.0 890.7,564.0 892.0,564.0 893.3,564.0 894.5,564.0 895.8,564.0 897.1,564.0 898.4,564.0 899.7,564.0 901.0,564.0 902.2,564.0 903.5,564.0 904.8,564.0 906.1,564.0 907.4,564.0 908.7,564.0 910.0,564.0 911.2,564.0 912.5,564.0 913.8,564.0 915.1,564.0 916.4,564.0 917.7,564.0 919.0,564.0 920.2,564.0 921.5,563.9 922.8,563.9 924.1,564.0 925.4,564.0 926.7,564.0 927.9,563.9 929.2,564.0 930.5,563.9 931.8,564.0 933.1,563.9 934.4,564.0 935.7,563.9 936.9,564.0 938.2,564.0 939.5,564.0 940.8,564.0 942.1,563.9 943.4,564.0 944.7,564.0 945.9,564.0 947.2,564.0 948.5,563.9 949.8,563.9 951.1,563.9 952.4,564.0 953.6,564.0 954.9,563.9 956.2,563.9 957.5,563.9 958.8,564.0 960.1,563.9 961.4,563.9 962.6,563.9 963.9,563.9 965.2,563.9 966.5,564.0 967.8,563.9 969.1,564.0 970.4,563.9 971.6,563.9 972.9,563.9 974.2,564.0 975.5,564.0 976.8,563.9 978.1,563.9 979.3,564.0 980.6,563.9 981.9,563.9 983.2,563.9 984.5,563.9 985.8,563.9 987.1,563.9 988.3,563.9 989.6,563.9 990.9,564.0 992.2,563.9 993.5,563.9 994.8,563.9 996.1,563.9 997.3,563.9 998.6,563.9 999.9,563.9 1001.2,563.9 1002.5,563.9 1003.8,563.9 1005.0,563.9 1006.3,563.9 1007.6,563.9 1008.9,563.9 1010.2,563.9 1011.5,563.9 1012.8,563.9 1014.0,563.9 1015.3,563.9 1016.6,563.9 1017.9,563.9 1019.2,563.9 1020.5,563.9 1021.8,563.9 1023.0,563.9 1024.3,563.9 1025.6,563.9 1026.9,563.9 1028.2,563.9 1029.5,563.9 1030.8,563.9 1032.0,563.9 1033.3,563.9 1034.6,563.9 1035.9,563.9 1037.2,563.9 1038.5,563.9 1039.7,563.9 1041.0,563.9 1042.3,563.9 1043.6,563.9 1044.9,563.9 1046.2,563.9 1047.5,563.9 1048.7,563.9 1050.0,563.9 1051.3,563.9 1052.6,563.9 1053.9,563.9 1055.2,563.9 1056.5,563.9 1057.7,563.9 1059.0,563.9 1060.3,563.9 1061.6,563.9 1062.9,563.9 1064.2,563.9 1065.4,563.9 1066.7,563.9 1068.0,563.9 1069.3,563.9 1070.6,563.9 1071.9,563.9 1073.2,563.9 1074.4,563.9 1075.7,563.9 1077.0,563.9 1078.3,563.9 1079.6,563.9 1080.9,563.9 1082.2,563.9 1083.4,563.9 1084.7,563.9 1086.0,563.9 1087.3,563.9 1088.6,563.9 1089.9,563.9 1091.1,563.9 1092.4,563.9 1093.7,563.9 1095.0,563.9 1096.3,563.9 1097.6,563.9 1098.9,563.9 1100.1,563.9 1101.4,563.9 1102.7,564.0 1104.0,563.9 1105.3,563.9 1106.6,563.9 1107.8,563.9 1109.1,564.0 1110.4,564.0 1111.7,563.9 1113.0,563.9 1114.3,563.9 1115.6,563.9 1116.8,563.9 1118.1,563.9 1119.4,564.0 1120.7,564.0 1122.0,564.0 1123.3,563.9 1124.6,563.9 1125.8,563.9 1127.1,563.9 1128.4,563.9 1129.7,563.9 1131.0,563.9 1132.3,563.9 1133.5,563.9 1134.8,563.9 1136.1,563.9 1137.4,563.9 1138.7,563.9 1140.0,563.9 1141.3,564.0 1142.5,563.9 1143.8,564.0 1145.1,563.9 1146.4,564.0 1147.7,564.0 1149.0,564.0 1150.3,564.0 1151.5,563.9 1152.8,563.9 1154.1,564.0 1155.4,563.9 1156.7,564.0 1158.0,563.9 1159.2,563.9 1160.5,563.9 1161.8,564.0 1163.1,564.0 1164.4,563.9 1165.7,564.0 1167.0,563.9 1168.2,564.0 1169.5,564.0 1170.8,564.0 1172.1,563.9 1173.4,564.0 1174.7,564.0 1176.0,564.0 1177.2,564.0 1178.5,564.0 1179.8,564.0 1181.1,564.0 1182.4,564.0 1183.7,564.0 1184.9,564.0 1186.2,564.0 1187.5,564.0 1188.8,564.0 1190.1,564.0 1191.4,564.0 1192.7,564.0 1193.9,564.0 1195.2,564.0 1196.5,564.0 1197.8,564.0"/>
<path d="M889.4,564.0 890.7,564.0 892.0,564.0 893.3,564.0 894.5,564.0 895.8,564.0 897.1,564.0 898.4,564.0 899.7,564.0 901.0,564.0 902.2,564.0 903.5,563.9 904.8,563.9 906.1,563.9 907.4,563.9 908.7,563.9 910.0,563.9 911.2,563.9 912.5,563.9 913.8,563.8 915.1,563.8 916.4,563.8 917.7,563.8 919.0,563.8 920.2,563.8 921.5,563.8 922.8,563.7 924.1,563.7 925.4,563.6 926.7,563.6 927.9,563.5 929.2,563.4 930.5,563.3 931.8,563.3 933.1,563.3 934.4,563.3 935.7,563.3 936.9,563.3 938.2,563.4 939.5,563.4 940.8,563.5 942.1,563.6 943.4,563.6 944.7,563.7 945.9,563.7 947.2,563.7 948.5,563.7 949.8,563.8 951.1,563.8 952.4,563.7 953.6,563.8 954.9,563.8 956.2,563.8 957.5,563.8 958.8,563.8 960.1,563.8 961.4,563.8 962.6,563.8 963.9,563.8 965.2,563.8 966.5,563.8 967.8,563.8 969.1,563.8 970.4,563.8 971.6,563.8 972.9,563.8 974.2,563.8 975.5,563.8 976.8,563.8 978.1,563.8 979.3,563.9 980.6,563.8 981.9,563.8 983.2,563.8 984.5,563.8 985.8,563.8 987.1,563.8 988.3,563.8 989.6,563.8 990.9,563.9 992.2,563.8 993.5,563.8 994.8,563.8 996.1,563.9 997.3,563.8 998.6,563.9 999.9,563.9 1001.2,563.8 1002.5,563.9 1003.8,563.9 1005.0,563.9 1006.3,563.9 1007.6,563.9 1008.9,563.9 1010.2,563.9 1011.5,563.9 1012.8,563.9 1014.0,563.9 1015.3,563.9 1016.6,563.9 1017.9,563.9 1019.2,563.9 1020.5,563.9 1021.8,563.9 1023.0,563.9 1024.3,563.9 1025.6,563.9 1026.9,563.9 1028.2,563.9 1029.5,563.9 1030.8,563.9 1032.0,563.9 1033.3,563.9 1034.6,563.9 1035.9,563.9 1037.2,563.9 1038.5,563.9 1039.7,563.9 1041.0,563.9 1042.3,563.9 1043.6,563.9 1044.9,563.9 1046.2,563.9 1047.5,563.9 1048.7,563.9 1050.0,563.9 1051.3,563.9 1052.6,563.9 1053.9,563.9 1055.2,563.9 1056.5,563.9 1057.7,563.9 1059.0,563.9 1060.3,563.9 1061.6,563.9 1062.9,563.9 1064.2,563.9 1065.4,563.9 1066.7,563.9 1068.0,564.0 1069.3,563.9 1070.6,563.9 1071.9,563.9 1073.2,563.9 1074.4,563.9 1075.7,563.9 1077.0,563.9 1078.3,563.9 1079.6,564.0 1080.9,563.9 1082.2,563.9 1083.4,563.9 1084.7,564.0 1086.0,564.0 1087.3,564.0 1088.6,564.0 1089.9,563.9 1091.1,563.9 1092.4,563.9 1093.7,563.9 1095.0,564.0 1096.3,563.9 1097.6,564.0 1098.9,564.0 1100.1,563.9 1101.4,563.9 1102.7,564.0 1104.0,564.0 1105.3,564.0 1106.6,564.0 1107.8,563.9 1109.1,564.0 1110.4,563.9 1111.7,564.0 1113.0,564.0 1114.3,564.0 1115.6,564.0 1116.8,564.0 1118.1,564.0 1119.4,564.0 1120.7,564.0 1122.0,564.0 1123.3,564.0 1124.6,564.0 1125.8,564.0 1127.1,564.0 1128.4,564.0 1129.7,564.0 1131.0,564.0 1132.3,564.0 1133.5,564.0 1134.8,564.0 1136.1,564.0 1137.4,564.0 1138.7,564.0 1140.0,564.0 1141.3,564.0 1142.5,564.0 1143.8,564.0 1145.1,564.0 1146.4,564.0 1147.7,564.0 1149.0,564.0 1150.3,564.0 1151.5,564.0 1152.8,564.0 1154.1,564.0 1155.4,564.0 1156.7,564.0 1158.0,564.0 1159.2,564.0 1160.5,564.0 1161.8,564.0 1163.1,564.0 1164.4,564.0 1165.7,564.0 1167.0,564.0 1168.2,564.0 1169.5,564.0 1170.8,564.0 1172.1,564.0 1173.4,564.0 1174.7,564.0 1176.0,564.0 1177.2,564.0 1178.5,564.0 1179.8,564.0 1181.1,564.0 1182.4,564.0 1183.7,564.0 1184.9,564.0 1186.2,564.0 1187.5,564.0 1188.8,564.0 1190.1,564.0 1191.4,564.0 1192.7,564.0 1193.9,564.0 1195.2,564.0 1196.5,564.0 1197.8,564.0"/>
</g>

<text x="60.4" y="582.6" text-anchor="middle" class="xl">15-Mar</text>
<text x="107.1" y="582.6" text-anchor="middle" class="xl">15-Apr</text>
<text x="152.3" y="582.6" text-anchor="middle" class="xl">15-May</text>
<text x="199.0" y="582.6" text-anchor="middle" class="xl">15-Jun</text>
<text x="244.1" y="582.6" text-anchor="middle" class="xl">15-Jul</text>
<text x="290.8" y="582.6" text-anchor="middle" class="xl">15-Aug</text>
<text x="337.5" y="582.6" text-anchor="middle" class="xl">15-Sep</text>
<text x="382.7" y="582.6" text-anchor="middle" class="xl">15-Oct</text>
<text x="477.0" y="582.6" text-anchor="middle" class="xl">15-Mar</text>
<text x="524.6" y="582.6" text-anchor="middle" class="xl">15-Apr</text>
<text x="570.6" y="582.6" text-anchor="middle" class="xl">15-May</text>
<text x="618.1" y="582.6" text-anchor="middle" class="xl">15-Jun</text>
<text x="664.1" y="582.6" text-anchor="middle" class="xl">15-Jul</text>
<text x="711.7" y="582.6" text-anchor="middle" class="xl">15-Aug</text>
<text x="759.3" y="582.6" text-anchor="middle" class="xl">15-Sep</text>
<text x="805.3" y="582.6" text-anchor="middle" class="xl">15-Oct</text>
<text x="889.4" y="582.6" text-anchor="middle" class="xl">1-Mar</text>
<text x="929.2" y="582.6" text-anchor="middle" class="xl">1-Apr</text>
<text x="967.8" y="582.6" text-anchor="middle" class="xl">1-May</text>
<text x="1007.6" y="582.6" text-anchor="middle" class="xl">1-Jun</text>
<text x="1046.2" y="582.6" text-anchor="middle" class="xl">1-Jul</text>
<text x="1086.0" y="582.6" text-anchor="middle" class="xl">1-Aug</text>
<text x="1125.8" y="582.6" text-anchor="middle" class="xl">1-Sep</text>
<text x="1164.4" y="582.6" text-anchor="middle" class="xl">1-Oct</text>

<g font-size="11" letter-spacing="-0.03" font-style="italic" fill="#b3b3b3">
<text x="61.7" y="624.7">Source: Tomas Pueyo analysis, based on data for countries from Johns Hopkins University via GitHub (https://github.com/CSSEGISandData/COVID-19/tree/master/csse_covid_19_data/csse_covid_19_time_series) and from US</text>
<text x="100.8" y="638.8">States from The New York Times (https://github.com/nytimes/covid-19-data)</text>
</g>
</svg>
</body></html>
